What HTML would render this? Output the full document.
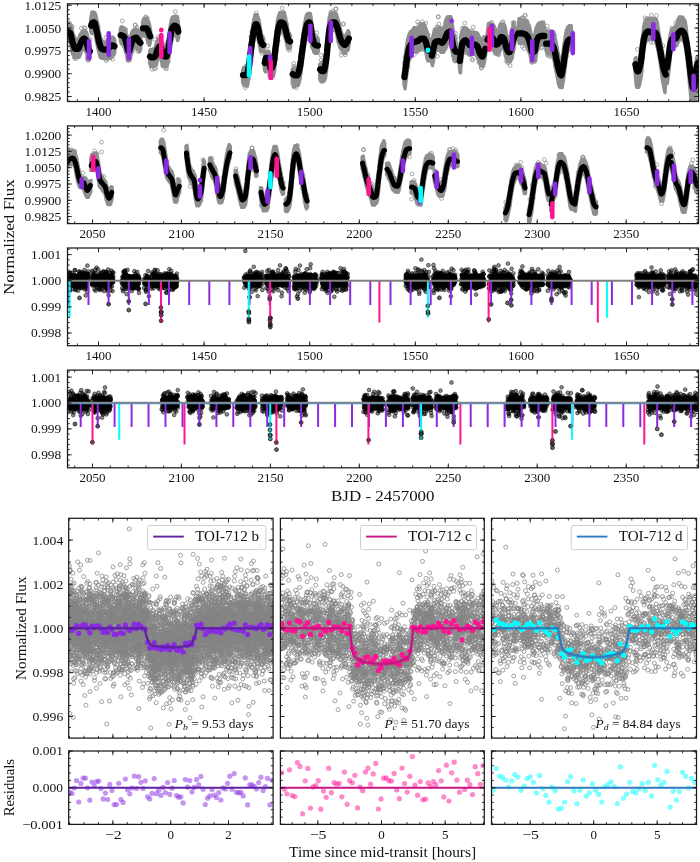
<!DOCTYPE html><html><head><meta charset="utf-8"><title>TOI-712 light curves</title><style>html,body{margin:0;padding:0;background:#fff}svg{display:block}</style></head><body><svg width="700" height="862" viewBox="0 0 700 862" font-family='"Liberation Serif","DejaVu Serif",serif' fill="#111"><defs><marker id="oc" markerWidth="6" markerHeight="6" refX="3" refY="3" markerUnits="userSpaceOnUse"><circle cx="3" cy="3" r="1.9" fill="none" stroke="#888" stroke-width="0.7"/></marker><marker id="og" markerWidth="6" markerHeight="6" refX="3" refY="3" markerUnits="userSpaceOnUse"><circle cx="3" cy="3" r="2" fill="none" stroke="#858585" stroke-opacity="0.8" stroke-width="0.95"/></marker><marker id="bk" markerWidth="6" markerHeight="6" refX="3" refY="3" markerUnits="userSpaceOnUse"><circle cx="3" cy="3" r="1.9" fill="#000" fill-opacity="0.45" stroke="#000" stroke-opacity="0.7" stroke-width="0.7"/></marker><clipPath id="c1"><rect x="67.5" y="3.8" width="631" height="97.7"/></clipPath><clipPath id="c2"><rect x="67.5" y="125.9" width="631" height="97.7"/></clipPath><clipPath id="c3"><rect x="67.5" y="248" width="631" height="97.7"/></clipPath><clipPath id="c4"><rect x="67.5" y="370.1" width="631" height="97.7"/></clipPath></defs>
<g clip-path="url(#c1)"><polyline fill="none" stroke="none" marker-start="url(#oc)" marker-mid="url(#oc)" marker-end="url(#oc)" points="85.3,28.3 88.1,60.6 86.7,51.6 76,58.7 72.3,26.5 71.8,29.8 90.2,39.4 74.7,58.2 87.4,58.7 87.4,57.9 69.2,22.9 92.5,12.3 111,57.3 97.9,27.5 98.2,26.8 106.7,59.3 107.6,58.2 92.8,13.2 106,37.5 112.6,59.3 106.2,60.7 112.9,55.6 132.1,51.7 123.6,45.9 131.8,51 136.9,27.4 125.7,29.4 136.9,48.7 135.2,25.2 135.3,25 139.6,30.8 148.4,43.4 145.7,17.8 145.5,16.9 171.7,39.6 157.5,41.5 166.5,68.8 165.4,68.2 166.4,43.4 168.2,61.7 154.5,68.9 160.8,36.2 156.2,63.6 155.7,68.1 166.8,44.4 158.4,37 162.9,65.6 155.9,64.5 251.7,31.8 245.8,66.2 260.7,50.7 245.1,87.8 260,46.2 250,72.1 261.8,53.4 252.1,47 251.2,60.8 250.9,36.5 267.8,45.8 267.1,50.5 281.5,31.7 276,59.1 286.9,24.6 279.5,33.5 277.2,45.3 289.7,50.4 283.4,30.9 265.6,52.6 278.1,40.9 288.1,49.2 302.7,55.8 295.4,85.2 317.2,38 294.3,68 309.9,32.7 306,39.3 293.7,66.2 312.4,47 294.9,67.7 310.8,37.6 316.2,36.7 292.7,83.3 332.5,11.1 344.9,35.6 340.8,47.4 338.7,41.6 331,12.3 345.4,54.9 340,47.1 321.9,62.6 327.9,54.6 338.8,24 323.5,61.4 341.5,51.8 320,78.8 321,60.1 408.2,66.8 428.2,35.1 421.6,49.6 404.9,57.3 416.8,51.4 404.1,63.1 410.2,57.5 422.2,21.7 417.6,21.8 409.3,57.7 427.8,34.7 414.4,54.5 437.5,56.3 449.6,43 447.5,18.8 448.9,17.8 444.1,50.5 450,43.4 456,37.2 438.1,27.1 455.5,33.3 448.3,44.4 447.7,17.5 445.9,48.1 462.5,28.1 483.8,37.4 479.2,62.4 471.8,59.4 459.7,45 481.3,68.2 461.3,35.7 465.9,52.9 480,38.2 471.8,30.8 472.9,60 466.7,52.4 510.1,65.5 511.8,32.4 503,21.9 491.3,47.6 497.9,54.2 511.9,57.4 497.5,54 514,22.4 510.3,37.3 493.5,26.3 511.6,58.1 506.5,61.3 502.3,22.3 524,48.5 523,43.3 541.3,22.7 522.6,17.6 527.4,46.2 535.1,36.1 528.2,49.6 532.1,62.5 528.6,48.5 531.6,61.7 521.5,18.2 542.1,47.2 522.3,46.4 548.9,56.1 553.6,32.6 554.6,35.4 547.3,25.9 566.4,56.3 552.2,57.1 553.9,34.9 548,53.5 555.2,65.9 549.8,55.1 570.9,50.2 567.9,27.4 656.3,24.3 642.3,41.7 641.1,65.2 659.8,42.8 643.2,38.3 664.7,83.2 651,42.3 653.3,42.3 638.3,82.9 643.1,52.5 654.2,21.8 636.2,76.9 647.4,39.6 662.7,75 641.6,49.6 675.3,29 689.1,67.6 689.6,73.9 691,68.3 690.3,57.8 675.7,27.3 681.1,19 694,98.3 697.3,73.6 690.7,84.1 682.8,40.6 676.7,25.9 695.2,67.5 671.9,27.8 680.5,21 122.4,20.9 175.2,11.7 152.1,69.4 81.3,28.3 83.9,27.4 147.3,18 155,39.4 137.9,51.4 256.4,12.9 282.1,8.2 336.1,8.9 296.1,87.8 321,55.2 343.3,24 293.6,63.4 316.7,32.6 335.6,8.9 343.5,24 341.3,55.2 418.9,24.5 425.8,23.1 438.1,16.8 439,24 436.8,26.9 426.1,31.7 438.4,16.8 450.4,18 445.6,22.3 464.8,23.1 473.3,27.1 460.1,71.7 512.8,22.8 508.1,63.1 525.3,15.4 523.6,18.5 481.6,67.7 498.7,54.9 491.9,22.3 525.1,15.4 548.3,30 547.4,54.9 541.4,48 645,17.9 651.4,15 656.4,15.7 637.4,49.3 675.7,22.9 681.4,19.3 662.9,45.7"/><path d="M65.8,25.4 67.1,22.1 67.5,22.1 68,22.1 68.4,22.1 68.9,22.1 69.3,22.1 69.8,22.9 70.2,23.3 70.7,23.4 71.2,23.7 71.6,24 72.1,25.5 72.5,27.3 73,29.9 73.4,32.2 73.9,33.8 74.4,35.1 74.8,36.2 75.3,37.1 75.7,37.3 76.2,38.6 76.6,38.6 77.1,39.5 77.5,38.2 78,37.9 78.5,36.5 78.9,35 79.4,34.2 79.8,33.5 80.3,32.8 80.7,32.4 81.2,31.5 81.6,30.7 82.1,30.4 82.6,30.3 83,29.8 83.5,29.8 83.9,29.8 84.4,29.8 84.8,29.8 85.3,29.8 85.8,29.8 86.2,30.4 86.7,31.2 87.1,31.5 87.6,32.6 88,33.5 88.5,36.1 88.9,38.5 89.4,39.7 89.9,41.6 91.2,45.7 91.2,57.7 89.9,60.6 89.4,60.6 88.9,60.6 88.5,60.6 88,60.6 87.6,60.2 87.1,59.1 86.7,57.5 86.2,55.5 85.8,52.9 85.3,52.2 84.8,51.1 84.4,50.6 83.9,49.6 83.5,49.9 83,50.7 82.6,51.3 82.1,51.8 81.6,53.1 81.2,54.9 80.7,55.9 80.3,57.1 79.8,57.6 79.4,58.2 78.9,58.2 78.5,58.2 78,58.2 77.5,58.3 77.1,58.3 76.6,58.3 76.2,58.3 75.7,58.3 75.3,58.3 74.8,58.3 74.4,58.3 73.9,58.3 73.4,57.9 73,56.8 72.5,55.6 72.1,54.9 71.6,53.9 71.2,51.8 70.7,49.1 70.2,46.7 69.8,44.3 69.3,42.5 68.9,41.9 68.4,41.9 68,41.4 67.5,41.2 67.1,40.8 65.8,37.4ZM89.8,19.2 91.1,12.4 91.5,11.9 92,11.9 92.4,11.9 92.9,11.9 93.3,11.9 93.8,11.9 94.3,11.9 94.7,11.9 95.2,11.9 95.6,11.9 96.1,13.3 96.5,14.4 97,16.4 97.5,18.8 97.9,21.1 98.4,22.3 98.8,24.4 99.3,27.6 99.7,30.2 100.2,32.5 100.7,34.8 101.1,36.2 101.6,37.6 102,38.4 102.5,39.3 102.9,40.3 103.4,40.6 103.9,41 104.3,41.5 104.8,41.4 105.2,41.1 105.7,40.6 106.1,40.5 106.6,40.5 107.1,40.5 107.5,40.1 108,39.8 108.4,39 108.9,37.7 109.3,37.3 109.8,36.9 110.3,36.8 110.7,36.3 111.2,36.3 111.6,36.3 112.1,36.3 112.5,36.3 113,36.3 113.5,36.3 113.9,37.1 114.4,37.2 115.7,40.4 115.7,52.4 114.4,55.6 113.9,55.6 113.5,55.6 113,55.7 112.5,56.3 112.1,57 111.6,58.9 111.2,59.2 110.7,59.2 110.3,59.2 109.8,59.2 109.3,59.2 108.9,59.2 108.4,59.2 108,58.8 107.5,59 107.1,59.2 106.6,59.2 106.1,59.5 105.7,59.5 105.2,59.5 104.8,59.5 104.3,59.5 103.9,59.5 103.4,59.5 102.9,59.3 102.5,59.3 102,59.3 101.6,58.9 101.1,58.9 100.7,58.4 100.2,58.4 99.7,58.1 99.3,57.1 98.8,55.7 98.4,53.9 97.9,51.8 97.5,50.4 97,48.2 96.5,46 96.1,44.1 95.6,42.4 95.2,39.8 94.7,37.4 94.3,35.3 93.8,32.7 93.3,32.1 92.9,33.7 92.4,34.4 92,34.4 91.5,34.4 91.1,34.4 89.8,31.2ZM119.4,28.9 120.7,26.1 121.2,26.1 121.6,26.1 122.1,26.1 122.5,26.4 123,26.5 123.5,26.7 123.9,26.9 124.4,27.1 124.8,27.6 125.3,28 125.8,28.6 126.2,29.5 126.7,31.1 127.1,33.2 127.6,35 128,35.7 128.5,37.6 129,39 129.4,36.9 129.9,35.8 130.3,34 130.8,32.9 131.3,31.3 131.7,30.5 132.2,30 132.6,29.7 133.1,29.6 133.6,28.7 134,28.2 134.5,28.2 134.9,28.2 135.4,28.2 135.8,28.2 136.3,28.2 136.8,28.2 137.2,28.8 137.7,28.8 138.1,29.5 138.6,29.8 139.1,30.1 139.5,30.9 140,30.9 140.4,31.9 141.7,36.8 141.7,48.8 140.4,52.5 140,52.5 139.5,52.5 139.1,52.5 138.6,52.5 138.1,51.2 137.7,50.4 137.2,49.8 136.8,49.6 136.3,49.3 135.8,47.9 135.4,47.9 134.9,47.9 134.5,48 134,49.2 133.6,50.6 133.1,51.2 132.6,53.4 132.2,54.8 131.7,56 131.3,58.4 130.8,60.2 130.3,61 129.9,61.8 129.4,61.8 129,61.8 128.5,61.8 128,61.8 127.6,61.8 127.1,61.8 126.7,60.9 126.2,58.1 125.8,55.4 125.3,53.6 124.8,52.6 124.4,50.9 123.9,49 123.5,46.7 123,45.6 122.5,45.2 122.1,44.7 121.6,44.5 121.2,44.5 120.7,44.5 119.4,40.9ZM141.7,21.8 143,18.2 143.5,17.7 144,17.7 144.4,17.7 144.9,17.7 145.4,17.7 145.9,17.7 146.4,17.7 146.8,17.9 147.3,18.1 147.8,18.1 148.3,18.7 148.8,19.8 149.2,20.6 149.7,22 150.2,23.7 151.5,30.1 151.5,42.1 150.2,46.1 149.7,46.1 149.2,46.1 148.8,46.1 148.3,44.8 147.8,42.8 147.3,42.8 146.8,41.5 146.4,39.8 145.9,37.9 145.4,37.3 144.9,36.9 144.4,36.9 144,36.8 143.5,36.8 143,36.8 141.7,33.8ZM148.7,51 150,48.7 150.5,48.7 150.9,48.7 151.4,48.7 151.9,48.7 152.3,48.1 152.8,48.1 153.2,48.1 153.7,48.1 154.1,48 154.6,46.9 155,43.9 155.5,42.9 156,41.7 156.4,41.3 156.9,39.5 157.3,39.5 157.8,38.2 158.2,37.7 158.7,37.6 159.2,37.6 159.6,37.6 160.1,37.6 160.5,37.6 161,37.6 161.4,37.6 161.9,38.7 162.3,39.7 162.8,41.5 163.3,42.9 163.7,44.1 164.2,45.3 164.6,46.6 165.1,47.4 165.5,46.8 166,45.1 166.5,43.9 166.9,40.9 167.4,38.2 167.8,35 168.3,32.2 168.7,29.6 169.2,27.1 169.6,24.1 170.1,21.6 170.6,19.1 171,18.1 171.5,17 171.9,16.6 172.4,16.4 172.8,15.9 173.3,15.9 173.8,15.6 174.2,15.4 174.7,15.4 175.1,15.4 175.6,15.4 176,15.4 176.5,15.4 176.9,15.4 177.4,15.6 177.9,15.7 178.3,16.2 179.6,25.4 179.6,37.4 178.3,41.2 177.9,41.2 177.4,41.2 176.9,41.2 176.5,39.3 176,38.1 175.6,36.4 175.1,35.6 174.7,35.1 174.2,36.2 173.8,37 173.3,38 172.8,39.3 172.4,41.8 171.9,44.4 171.5,47.1 171,50 170.6,53 170.1,56 169.6,59 169.2,61.4 168.7,62.9 168.3,65.2 167.8,67 167.4,67.2 166.9,67.7 166.5,67.7 166,67.7 165.5,67.7 165.1,67.7 164.6,67.7 164.2,67.7 163.7,66.9 163.3,66.9 162.8,66.9 162.3,66.9 161.9,66.9 161.4,65.5 161,63 160.5,61.1 160.1,59.3 159.6,57.5 159.2,58.5 158.7,59.4 158.2,60.8 157.8,62.4 157.3,63.9 156.9,65.5 156.4,66.1 156,66.3 155.5,66.8 155,67.1 154.6,67.4 154.1,67.4 153.7,67.4 153.2,67.4 152.8,67.4 152.3,67.4 151.9,67.4 151.4,67.4 150.9,67.4 150.5,67.4 150,67.4 148.7,63ZM241.7,70 243,66.9 243.5,66.8 243.9,66.8 244.4,66.8 244.8,66.8 245.3,66.8 245.7,66.8 246.2,65.5 246.6,63.2 247.1,61 247.5,58 248,55.5 248.4,52.7 248.9,49 249.3,44.9 249.8,40.7 250.3,37.5 250.7,33.9 251.2,29.8 251.6,27.1 252.1,23.9 252.5,21.4 253,19.2 253.4,17.5 253.9,15.5 254.3,13.9 254.8,13.8 255.2,13.8 255.7,13.8 256.1,13.8 256.6,13.8 257.1,13.8 257.5,13.8 258,14.4 258.4,16.2 258.9,17.2 259.3,18.2 259.8,19.9 260.2,21.6 260.7,25.1 261.1,28.1 261.6,30.1 262,32.5 262.5,34.8 262.9,35.6 263.4,35.6 264.7,39 264.7,51 263.4,52.7 262.9,52.7 262.5,52.7 262,52.7 261.6,52.7 261.1,52.7 260.7,52.1 260.2,51 259.8,50.1 259.3,48.7 258.9,46.3 258.4,44.3 258,42.7 257.5,41.2 257.1,39 256.6,37.1 256.1,34.7 255.7,36 255.2,37.8 254.8,40.8 254.3,43.5 253.9,46.8 253.4,49.8 253,53.6 252.5,57.2 252.1,61.5 251.6,65 251.2,68.6 250.7,72.8 250.3,77 249.8,78.7 249.3,80.4 248.9,83.3 248.4,85.3 248,87 247.5,87 247.1,87 246.6,87 246.2,87 245.7,87 245.3,87 244.8,86.5 244.4,86.5 243.9,86.4 243.5,86 243,85.8 241.7,82ZM263.5,57.7 264.8,50.9 265.2,50.9 265.7,50.9 266.1,50.9 266.6,50.9 267,50.9 267.5,50.9 267.9,50.9 268.4,50.9 268.8,50.9 269.3,50.9 269.8,51.2 270.2,52.6 270.7,55.2 271.1,58.5 271.6,59 272,57 272.5,55.2 272.9,51.2 273.4,46.9 273.8,43.4 274.3,40.1 274.7,36.7 275.2,32.2 275.6,28.3 276.1,24.7 276.6,20.4 277,18.8 277.5,16.7 277.9,15.3 278.4,13.9 278.8,12.2 279.3,11.9 279.7,11.9 280.2,11.9 280.6,11.6 281.1,11.6 281.5,11.6 282,11.4 282.4,11.4 282.9,11.4 283.3,11.4 283.8,11.4 284.3,11.4 284.7,11.4 285.2,12.4 285.6,14.2 286.1,16 286.5,18.1 287,20.4 287.4,22.7 287.9,25 288.3,27.3 288.8,29.9 289.2,31.3 289.7,32.7 290.1,32.7 291.4,35.4 291.4,47.4 290.1,49.5 289.7,49.5 289.2,49.5 288.8,49.5 288.3,49.5 287.9,48.9 287.4,48.8 287,48 286.5,47.4 286.1,45.2 285.6,43.3 285.2,41.1 284.7,39.6 284.3,38.1 283.8,37.3 283.3,35.9 282.9,33.6 282.4,32.5 282,30.6 281.5,30.1 281.1,30.6 280.6,32.4 280.2,33.9 279.7,35.4 279.3,37.4 278.8,40.3 278.4,43.9 277.9,47.4 277.5,52.1 277,55.8 276.6,59.6 276.1,64.2 275.6,69.7 275.2,72.8 274.7,74.6 274.3,76.2 273.8,77.2 273.4,77.8 272.9,78.3 272.5,79.2 272,79.2 271.6,79.2 271.1,79.2 270.7,79.2 270.2,79.2 269.8,79.2 269.3,78.8 268.8,77.1 268.4,75.4 267.9,72.1 267.5,69.3 267,68.9 266.6,70.5 266.1,72.6 265.7,72.6 265.2,72.6 264.8,72.6 263.5,69.7ZM291.4,69 292.7,68.1 293.2,68.1 293.6,68.1 294.1,68.1 294.5,68.1 295,68.4 295.5,68.4 295.9,68.4 296.4,68.1 296.8,67.3 297.3,65.2 297.8,64.1 298.2,62.1 298.7,59.9 299.1,56.2 299.6,52.3 300,49.1 300.5,45.6 301,43.1 301.4,40.1 301.9,35.8 302.3,32.2 302.8,29 303.3,26.3 303.7,23.2 304.2,21.1 304.6,18.8 305.1,16.7 305.5,15.3 306,13.9 306.5,13.8 306.9,13.2 307.4,12.8 307.8,12.5 308.3,12.5 308.8,12.5 309.2,12.5 309.7,12.5 310.1,12.5 310.6,12.5 311,12.9 311.5,15 312,17.8 312.4,20.5 312.9,23.5 313.3,26.1 313.8,28.3 314.2,30.2 314.7,32.9 315.2,34.5 315.6,36.5 316.1,36.8 316.5,36.8 317,36.8 317.5,36.8 317.9,36.8 319.2,39.7 319.2,51.7 317.9,54.1 317.5,54.1 317,54.1 316.5,54.1 316.1,54.1 315.6,54.1 315.2,54.1 314.7,54.1 314.2,54.1 313.8,53.5 313.3,52.5 312.9,52.3 312.4,49.7 312,49.1 311.5,48.3 311,46.8 310.6,45.1 310.1,41 309.7,37.2 309.2,33.8 308.8,31.2 308.3,32.2 307.8,33.5 307.4,35.7 306.9,37.2 306.5,40.6 306,42.6 305.5,44.9 305.1,48.7 304.6,51 304.2,54.7 303.7,58.2 303.3,61.7 302.8,66.4 302.3,69.1 301.9,72.8 301.4,75.9 301,78.9 300.5,80.8 300,83 299.6,84.4 299.1,85.7 298.7,85.9 298.2,86 297.8,86.4 297.3,86.4 296.8,86.4 296.4,86.4 295.9,86.9 295.5,86.9 295,87.9 294.5,87.9 294.1,87.9 293.6,87.9 293.2,87.9 292.7,87.9 291.4,81ZM318.8,64.2 320.1,63.1 320.6,63.1 321.1,63.1 321.5,63.1 322,63.9 322.4,64.1 322.9,62.8 323.3,60.5 323.8,57.6 324.2,55.6 324.7,53.9 325.1,50.1 325.6,45.8 326.1,40.1 326.5,35.6 327,31.1 327.4,25.5 327.9,20.3 328.3,17.9 328.8,15.9 329.2,13.9 329.7,12.6 330.1,12.6 330.6,12.6 331,12.5 331.5,12 332,11.7 332.4,11.7 332.9,11.7 333.3,11.7 333.8,11.7 334.2,11.7 334.7,11.7 335.1,12 335.6,12.2 336,12.4 336.5,12.4 337,13.2 337.4,14.2 337.9,16 338.3,17.3 338.8,18.9 339.2,20 339.7,21.5 340.1,23.4 340.6,25.7 341,27.4 341.5,29.4 342,31.3 342.4,32.6 342.9,33.6 343.3,34.9 343.8,35.1 344.2,35.3 344.7,36 345.1,35.8 345.6,34.7 346,33.2 346.5,32.5 347,31.1 347.4,29.8 347.9,29.8 348.3,29.8 348.8,29.8 350.1,32.4 350.1,44.4 348.8,50.5 348.3,51.2 347.9,51.3 347.4,51.6 347,52.1 346.5,53.7 346,54.1 345.6,54.1 345.1,54.1 344.7,54.1 344.2,54.1 343.8,54.1 343.3,54.1 342.9,53.1 342.4,52.2 342,52 341.5,51.1 341,50.4 340.6,49.7 340.1,48.9 339.7,47.9 339.2,46.5 338.8,45.5 338.3,44.7 337.9,44.1 337.4,42.2 337,39.9 336.5,37.4 336,35.1 335.6,33.6 335.1,32.2 334.7,31.2 334.2,30.5 333.8,31.1 333.3,31.1 332.9,31.1 332.4,31.1 332,33.1 331.5,34.4 331,35.7 330.6,38.4 330.1,41.7 329.7,46.1 329.2,50.8 328.8,55.5 328.3,61 327.9,66.7 327.4,71 327,73.9 326.5,77 326.1,78.5 325.6,80.3 325.1,81.2 324.7,81.3 324.2,82.2 323.8,82.3 323.3,82.6 322.9,82.6 322.4,82.6 322,82.6 321.5,82.6 321.1,82.6 320.6,82.6 320.1,82.3 318.8,76.2ZM403.1,72.2 404.4,55.3 404.8,52.1 405.3,48.6 405.7,45.6 406.2,42.7 406.7,39.6 407.1,37.7 407.6,36.2 408,34.7 408.5,33.5 408.9,33 409.4,31.8 409.8,31.1 410.3,30.7 410.8,30.4 411.2,30 411.7,29.8 412.1,29.1 412.6,28.6 413,27.8 413.5,26.8 413.9,26.8 414.4,26.8 414.9,26.8 415.3,26.8 415.8,26.8 416.2,26.8 416.7,27.4 417.1,27.1 417.6,26.8 418.1,26.5 418.5,25.7 419,24.9 419.4,24 419.9,23.8 420.3,23.8 420.8,23.3 421.2,23.1 421.7,22.9 422.2,22.9 422.6,22.9 423.1,22.9 423.5,22.9 424,22.9 424.4,22.9 424.9,23.5 425.4,24.1 425.8,26.2 426.3,27 426.7,28.2 427.2,29.1 427.6,30.7 428.1,32.2 428.5,34.7 429,36.5 429.5,37.6 429.9,37.6 431.2,45.1 431.2,57.1 429.9,61.6 429.5,61.6 429,61.6 428.5,61.6 428.1,61.6 427.6,61.6 427.2,61.6 426.7,60 426.3,59 425.8,56.9 425.4,54.6 424.9,52.6 424.4,51.7 424,50.8 423.5,49.6 423.1,49.1 422.6,49.1 422.2,49.1 421.7,49.6 421.2,50 420.8,50.5 420.3,51.1 419.9,51.1 419.4,51.1 419,51.4 418.5,51.7 418.1,52.6 417.6,52.6 417.1,52.9 416.7,52.9 416.2,52.9 415.8,52.9 415.3,52.9 414.9,52.9 414.4,52.9 413.9,52.7 413.5,53.2 413,53.7 412.6,55.3 412.1,55.3 411.7,55.5 411.2,56.3 410.8,57.8 410.3,59.3 409.8,60.7 409.4,63.5 408.9,66.5 408.5,69.8 408,72 407.6,75.2 407.1,79.4 406.7,82.7 406.2,86.7 405.7,89.6 405.3,89.6 404.8,89.6 404.4,89.6 403.1,84.2ZM430.6,50.1 431.9,36.5 432.3,35.3 432.8,33.3 433.2,30.7 433.7,29.3 434.1,28.4 434.6,28.4 435,28.4 435.5,28.4 435.9,28.4 436.4,28.4 436.8,28.3 437.3,28.3 437.7,27.4 438.2,26.9 438.6,26.9 439.1,26.9 439.5,26.9 440,26.9 440.4,26.9 440.9,26.9 441.3,27.4 441.8,27.8 442.2,28.3 442.7,27.7 443.1,26.4 443.6,25.8 444,24.7 444.5,22.4 444.9,20.6 445.4,18.2 445.8,18.1 446.3,17.4 446.7,16.6 447.2,16.6 447.6,16.6 448.1,15.7 448.5,15.7 449,15.7 449.4,15.7 449.9,15.7 450.3,15.7 450.8,15.7 451.2,15.8 451.7,17.2 452.1,17.9 452.6,20.7 453,23.3 453.5,26.7 453.9,30.3 454.4,32.1 454.8,33.9 455.3,35.1 455.7,36.9 456.2,37.6 457.5,46 457.5,58 456.2,62.4 455.7,62.4 455.3,62.4 454.8,62.4 454.4,62.4 453.9,62 453.5,61.2 453,60.5 452.6,58.4 452.1,56.5 451.7,54.6 451.2,52 450.8,48.9 450.3,46.6 449.9,44.4 449.4,42.5 449,42.4 448.5,43.1 448.1,43.5 447.6,45.2 447.2,46.5 446.7,47.2 446.3,48.3 445.8,48.9 445.4,50.5 444.9,50.8 444.5,52.1 444,53.3 443.6,53.3 443.1,53.3 442.7,53.3 442.2,53.3 441.8,53.3 441.3,53.3 440.9,53.1 440.4,53.1 440,52.6 439.5,51.6 439.1,51.3 438.6,50.8 438.2,51 437.7,51.2 437.3,51.2 436.8,51.5 436.4,51.7 435.9,53.7 435.5,56.2 435,57.5 434.6,59.3 434.1,62.5 433.7,63.6 433.2,66.5 432.8,66.5 432.3,66.5 431.9,66.5 430.6,62.1ZM458.5,55.4 459.8,38 460.3,35 460.7,32.3 461.2,30.8 461.6,29.9 462.1,29 462.5,28.1 463,26.9 463.4,26.9 463.9,26.9 464.4,26.9 464.8,26.9 465.3,26.9 465.7,26.9 466.2,27.3 466.6,27.3 467.1,27.6 467.6,28.1 468,28.5 468.5,29 468.9,29.8 469.4,29.8 469.8,30.1 470.3,30.1 470.7,30.8 471.2,31.1 471.7,31.3 472.1,31.3 472.6,31.3 473,31.3 473.5,31.3 473.9,31.4 474.4,31.4 474.9,31.4 475.3,31.4 475.8,31.7 476.2,31.7 476.7,31.7 477.1,31.8 477.6,32.3 478,32.9 478.5,33.1 479,34 479.4,35.1 479.9,36.5 480.3,38.4 480.8,39.6 481.2,40.9 481.7,41 482.2,39.5 482.6,38.2 483.1,37.7 483.5,36.3 484,35.8 484.4,35.8 484.9,35.8 485.3,35.8 486.6,43 486.6,55 485.3,62.1 484.9,64 484.4,66.2 484,67 483.5,67 483.1,67 482.6,67 482.2,67 481.7,67 481.2,67 480.8,66.9 480.3,66.8 479.9,66.1 479.4,65.5 479,64.2 478.5,63.8 478,62.1 477.6,61 477.1,59 476.7,58.6 476.2,56.7 475.8,56.6 475.3,55.6 474.9,55.5 474.4,55 473.9,54.7 473.5,55 473,55 472.6,55 472.1,55 471.7,55.8 471.2,56 470.7,56 470.3,56 469.8,56 469.4,56 468.9,56 468.5,56 468,55.5 467.6,54.7 467.1,54.2 466.6,53.5 466.2,52.7 465.7,51.7 465.3,51.8 464.8,51.8 464.4,52 463.9,52.5 463.4,54.5 463,57.5 462.5,61.3 462.1,65 461.6,69.1 461.2,73.7 460.7,73.7 460.3,73.7 459.8,73.7 458.5,67.4ZM486.3,33.7 487.6,23.3 488,23 488.5,23 488.9,22.4 489.4,22.4 489.9,22.4 490.3,22.4 490.8,22.4 491.2,22.4 491.7,22.4 492.1,23.5 492.6,23.6 493,23.7 493.5,23.9 494,23.9 494.4,25.5 494.9,25.5 495.3,26.8 495.8,27.7 496.2,29.7 496.7,29.7 497.2,29.7 497.6,29.5 498.1,28.6 498.5,26.6 499,24.9 499.4,24.1 499.9,23.1 500.3,23.1 500.8,23.1 501.3,23.1 501.7,23.1 502.2,23.1 502.6,23.1 503.1,23.1 503.5,23.1 504,23.7 504.4,23.7 504.9,24 505.4,24.5 505.8,26.2 506.3,28.2 506.7,30.8 507.2,33.3 507.6,35.1 508.1,36.1 508.6,36.5 509,37.3 509.5,35.9 509.9,34.7 510.4,32.6 510.8,30.8 511.3,29.2 511.7,27.4 512.2,24.9 512.7,23.5 513.1,22 513.6,22 514,22 514.5,22 515.8,30.7 515.8,42.7 514.5,51.2 514,53.4 513.6,54 513.1,56.2 512.7,58.1 512.2,59.3 511.7,60.9 511.3,62 510.8,62.6 510.4,62.8 509.9,62.8 509.5,62.8 509,62.8 508.6,62.8 508.1,62.8 507.6,62.8 507.2,62.6 506.7,61.7 506.3,61 505.8,59.7 505.4,58.7 504.9,57.5 504.4,55.5 504,53.2 503.5,50.8 503.1,49.5 502.6,48.6 502.2,48.3 501.7,48.1 501.3,49.4 500.8,51.5 500.3,52.8 499.9,52.8 499.4,52.9 499,53.4 498.5,54.4 498.1,54.7 497.6,54.7 497.2,54.7 496.7,54.7 496.2,54.7 495.8,54.7 495.3,54.7 494.9,54.6 494.4,54.6 494,53.1 493.5,52.5 493,51 492.6,49.9 492.1,48.2 491.7,47.8 491.2,47.2 490.8,47.5 490.3,47.6 489.9,48.2 489.4,48.4 488.9,49.6 488.5,49.6 488,49.6 487.6,49.6 486.3,45.7ZM517,27.1 518.3,17.8 518.7,17.8 519.2,17.8 519.7,17.8 520.1,17.8 520.6,18.4 521,18.7 521.5,18.7 521.9,19 522.4,19 522.9,19.2 523.3,19.2 523.8,19.2 524.2,19.2 524.7,19.4 525.1,19.5 525.6,19.5 526.1,19.5 526.5,19.5 527,19.5 527.4,19.5 527.9,20.3 528.3,21.2 528.8,22.6 529.3,23.8 529.7,24.5 530.2,25.9 530.6,27.6 531.1,29.7 531.5,31.8 532,33.7 532.5,34.5 532.9,36.3 533.4,38.5 533.8,36 534.3,33 534.7,30.2 535.2,28 535.7,26.5 536.1,25.9 536.6,24.8 537,23.7 537.5,23.3 537.9,23 538.4,22.6 538.9,22.1 539.3,22.1 539.8,22.1 540.2,22.1 540.7,22.1 541.1,22.1 541.6,21.3 542.1,21.2 542.5,21.2 543,21.2 543.4,21.2 543.9,21.2 544.3,21.2 545.6,29.8 545.6,41.8 544.3,46.1 543.9,46.1 543.4,46.1 543,46.1 542.5,45.8 542.1,45.8 541.6,45.8 541.1,46.1 540.7,46.1 540.2,46.1 539.8,47.2 539.3,47.4 538.9,49.3 538.4,50.7 537.9,51.8 537.5,53.7 537,56.9 536.6,60.3 536.1,61.8 535.7,62.7 535.2,62.7 534.7,62.7 534.3,62.7 533.8,62.7 533.4,62.7 532.9,62.7 532.5,62.5 532,62.5 531.5,62.5 531.1,62.4 530.6,61.8 530.2,61 529.7,58.1 529.3,55.5 528.8,54.1 528.3,52.7 527.9,51.6 527.4,49.7 527,48.7 526.5,47.7 526.1,46.6 525.6,45.5 525.1,44.8 524.7,44.2 524.2,44.2 523.8,43.8 523.3,43.7 522.9,43.6 522.4,43.3 521.9,43.4 521.5,44.2 521,44.2 520.6,44.2 520.1,44.2 519.7,44.2 519.2,44.2 518.7,44.2 518.3,42.8 517,39.1ZM544.9,37.7 546.2,30.6 546.7,30.3 547.1,30.3 547.6,30.3 548.1,30.3 548.5,30.3 549,30.3 549.4,30.3 549.9,30.4 550.3,30.4 550.8,30.4 551.2,30.4 551.7,31.5 552.2,31.6 552.6,31.7 553.1,31.7 553.5,32.2 554,32.6 554.4,34 554.9,34.9 555.4,36.1 555.8,37.8 556.3,38.5 556.7,40.8 557.2,43.1 557.6,45.5 558.1,47.3 558.5,50.7 559,52.5 559.5,55 559.9,57.3 560.4,58.4 560.8,59.8 561.3,57.9 561.7,55.4 562.2,52.6 562.6,48.2 563.1,44.5 563.6,41.5 564,38.8 564.5,35.5 564.9,33.1 565.4,30.7 565.8,29.3 566.3,29 566.8,27.7 567.2,26.9 567.7,26.6 568.1,26.2 568.6,24.8 569,24.8 569.5,24.7 569.9,24.7 570.4,24.7 570.9,24.7 571.3,24.7 571.8,24.7 573.1,33.7 573.1,45.7 571.8,49.7 571.3,49.7 570.9,49.7 570.4,49.7 569.9,50 569.5,50.6 569,50.8 568.6,51.7 568.1,53.9 567.7,56.3 567.2,58.8 566.8,61.9 566.3,66.3 565.8,69.3 565.4,73 564.9,76.2 564.5,79.7 564,81.9 563.6,84.6 563.1,87.1 562.6,88.4 562.2,88.4 561.7,88.4 561.3,88.4 560.8,88.4 560.4,88.4 559.9,88.4 559.5,87.7 559,87.7 558.5,87.1 558.1,85.5 557.6,83.9 557.2,81.8 556.7,78.9 556.3,76.4 555.8,75 555.4,72.3 554.9,69.9 554.4,67.4 554,65 553.5,62 553.1,59.9 552.6,58.5 552.2,57.3 551.7,55.7 551.2,55.4 550.8,54.5 550.3,54.6 549.9,54.6 549.4,54.6 549,54.6 548.5,54.6 548.1,54.6 547.6,54.6 547.1,54.4 546.7,54.1 546.2,53.7 544.9,49.7ZM634.1,58.9 635.4,56.8 635.9,56.8 636.3,56.8 636.8,56.8 637.2,59 637.7,60.8 638.1,60.3 638.6,58.8 639,56.7 639.5,53.4 639.9,50.1 640.4,45.2 640.9,40.9 641.3,37.7 641.8,36.3 642.2,32.4 642.7,28.4 643.1,25.4 643.6,23.1 644,21.4 644.5,19.9 644.9,19.4 645.4,18.6 645.8,18.1 646.3,17.6 646.7,17.2 647.2,17.2 647.6,17.2 648.1,17.2 648.5,17.2 649,17.2 649.4,17.2 649.9,17.8 650.3,17.8 650.8,18.1 651.2,18.1 651.7,17.9 652.2,17.9 652.6,17.9 653.1,17.6 653.5,17.6 654,17.6 654.4,17.6 654.9,17.6 655.3,17.6 655.8,17.6 656.2,18.1 656.7,18.5 657.1,19 657.6,20.3 658,22 658.5,24.5 658.9,27.4 659.4,30.4 659.8,33.5 660.3,35.8 660.7,37.7 661.2,39.3 661.6,42.2 662.1,45.6 662.6,47.3 663,49.2 663.5,51.6 663.9,55 664.4,58.4 664.8,59.2 665.3,60.5 665.7,62.7 667,69.5 667,81.5 665.7,93.4 665.3,93.4 664.8,93.4 664.4,93.4 663.9,92.2 663.5,90.2 663,87.8 662.6,85.6 662.1,83.5 661.6,81.1 661.2,77.8 660.7,74.2 660.3,70.9 659.8,67.2 659.4,64.2 658.9,61 658.5,58.6 658,55.5 657.6,53.1 657.1,50.7 656.7,47.9 656.2,47 655.8,44.5 655.3,42.5 654.9,41.5 654.4,40.5 654,40.5 653.5,40.2 653.1,40 652.6,39.9 652.2,39.9 651.7,39.7 651.2,39.6 650.8,39.6 650.3,39.8 649.9,40.6 649.4,40.6 649,40.6 648.5,40.6 648.1,40.6 647.6,40.6 647.2,41.1 646.7,42.1 646.3,42.7 645.8,44.3 645.4,46.1 644.9,48.8 644.5,51.9 644,55.6 643.6,60.6 643.1,66 642.7,71.5 642.2,75.6 641.8,78.3 641.3,80.6 640.9,82.9 640.4,85.3 639.9,86.4 639.5,87.4 639,88.3 638.6,88.3 638.1,88.3 637.7,88.3 637.2,88.3 636.8,88.3 636.3,88.3 635.9,87.1 635.4,86.1 634.1,70.9ZM665.6,62.6 666.9,51.8 667.3,48.8 667.8,44.8 668.2,41.1 668.7,38.2 669.1,35.9 669.6,33.6 670,31.8 670.5,29.9 671,28.6 671.4,28.1 671.9,28.1 672.3,28 672.8,27.8 673.2,27.8 673.7,26.9 674.1,26.5 674.6,26.5 675.1,26.5 675.5,24.9 676,23.8 676.4,21.9 676.9,19.7 677.3,19.2 677.8,17.8 678.2,17.2 678.7,16.1 679.2,16.1 679.6,16.1 680.1,16.1 680.5,16.1 681,16.1 681.4,16.1 681.9,16.4 682.3,16.4 682.8,16.4 683.3,16.4 683.7,17.3 684.2,18 684.6,18.3 685.1,19.6 685.5,20.7 686,20.8 686.4,23.2 686.9,26.4 687.4,29.8 687.8,34.5 688.3,37.7 688.7,40.5 689.2,43.3 689.6,47.2 690.1,50.8 690.5,54.3 691,58.4 691.5,62.2 691.9,65.7 692.4,69.4 692.8,73.2 693.3,75.9 693.7,73.5 694.2,68.8 694.6,64.5 695.1,61.3 695.6,59.2 696,56.7 696.5,55.5 696.9,55.5 697.4,55.5 697.8,55.5 698.3,55.5 699.6,57.4 699.6,69.4 698.3,81.7 697.8,84.1 697.4,87.6 696.9,94.1 696.5,99.8 696,103.8 695.6,107.3 695.1,109.5 694.6,109.5 694.2,109.5 693.7,109.5 693.3,109.5 692.8,109.5 692.4,109.5 691.9,109.3 691.5,108 691,105.8 690.5,102.9 690.1,98.8 689.6,94.4 689.2,89.7 688.7,85.4 688.3,80.3 687.8,74.9 687.4,70.2 686.9,66 686.4,62 686,58 685.5,54.5 685.1,50.6 684.6,48.1 684.2,45.8 683.7,43.2 683.3,42 682.8,41 682.3,39.7 681.9,39.2 681.4,39.2 681,40.2 680.5,40.3 680.1,40.3 679.6,41.1 679.2,42.1 678.7,42.9 678.2,44.1 677.8,45.5 677.3,46.2 676.9,46.2 676.4,46.4 676,47 675.5,47.6 675.1,47.6 674.6,47.9 674.1,47.9 673.7,47.9 673.2,47.9 672.8,48.7 672.3,50.9 671.9,51.3 671.4,55.4 671,60 670.5,64.4 670,69.5 669.6,73.2 669.1,76.6 668.7,80 668.2,83.9 667.8,83.9 667.3,83.9 666.9,83.9 665.6,74.6Z" fill="#8e8e8e" stroke="#8e8e8e" stroke-width="1.6" stroke-linejoin="round"/><path d="M67.1,31.7 67.5,31.7 68,31.8 68.4,32 68.9,32.2 69.3,32.4 69.8,32.7 70.2,33 70.7,34.1 71.2,35.9 71.6,38.1 72.1,40.3 72.5,42.3 73,43.7 73.4,45.1 73.9,46.5 74.4,47.7 74.8,48.5 75.3,48.9 75.7,48.9 76.2,48.9 76.6,48.9 77.1,48.9 77.5,48.9 78,48.8 78.5,48.4 78.9,47.7 79.4,46.6 79.8,45.4 80.3,44.2 80.7,43.1 81.2,42.2 81.6,41.4 82.1,40.6 82.6,39.8 83,39.1 83.5,38.7 83.9,38.6 84.4,38.7 84.8,39 85.3,39.5 85.8,40.1 86.2,40.8 86.7,41.8 87.1,43.9 87.6,46.5 88,48.6 88.5,49.6 88.9,50.5 89.4,51.2 89.9,51.4M91.1,25.7 91.5,24.4 92,23.5 92.4,22.9 92.9,22.5 93.3,22.3 93.8,22.3 94.3,22.3 94.7,23 95.2,24.3 95.6,26.2 96.1,28.2 96.5,30.2 97,32.1 97.5,34.3 97.9,36.7 98.4,39 98.8,41.2 99.3,42.9 99.7,44.3 100.2,45.7 100.7,46.9 101.1,47.9 101.6,48.6 102,48.9 102.5,49.1 102.9,49.3 103.4,49.4 103.9,49.6 104.3,49.6 104.8,49.7 105.2,49.7 105.7,49.7 106.1,49.5 106.6,49.3 107.1,49.1 107.5,48.8 108,48.5 108.4,48.2 108.9,47.9 109.3,47.5 109.8,47.1 110.3,46.6 110.7,46.2 111.2,45.8 111.6,45.5 112.1,45.4 112.5,45.5 113,45.5 113.5,45.7 113.9,46 114.4,46.3M120.7,35.1 121.2,35.2 121.6,35.3 122.1,35.5 122.5,35.7 123,36 123.5,36.3 123.9,36.7 124.4,37.2 124.8,38.1 125.3,39.5 125.8,41.2 126.2,42.9 126.7,44.4 127.1,46.1 127.6,48.2 128,50 128.5,51.2 129,51.3 129.4,50.4 129.9,48.7 130.3,46.9 130.8,45.2 131.3,43.9 131.7,42.5 132.2,41.2 132.6,40 133.1,39.1 133.6,38.6 134,38.3 134.5,38.1 134.9,37.9 135.4,37.8 135.8,37.7 136.3,37.7 136.8,38.1 137.2,38.7 137.7,39.5 138.1,40.3 138.6,41 139.1,41.5 139.5,42 140,42.4 140.4,42.9M143,28.3 143.5,28.3 144,28.3 144.4,28.3 144.9,28.3 145.4,28.3 145.9,28.3 146.4,28.3 146.8,28.5 147.3,29.3 147.8,30.4 148.3,31.6 148.8,32.9 149.2,34 149.7,35.1 150.2,36.3M150,56.6 150.5,56.9 150.9,57.1 151.4,57.3 151.9,57.4 152.3,57.4 152.8,57.4 153.2,57.3 153.7,57.2 154.1,57 154.6,56.8 155,56.5 155.5,55.8 156,54.6 156.4,53.1 156.9,51.5 157.3,50.2 157.8,49.3 158.2,48.5 158.7,47.7 159.2,47 159.6,46.5 160.1,46.3 160.5,46.6 161,47.6 161.4,49.1 161.9,50.9 162.3,52.7 162.8,54.2 163.3,55.3 163.7,55.8 164.2,56 164.6,56.2 165.1,56.4 165.5,56.5 166,56.6 166.5,56.3 166.9,55.2 167.4,53.4 167.8,51.6 168.3,49.5 168.7,46.8 169.2,43.8 169.6,41 170.1,38.4 170.6,35.6 171,32.9 171.5,30.5 171.9,28.8 172.4,27.9 172.8,27.2 173.3,26.6 173.8,26.1 174.2,25.8 174.7,25.7 175.1,25.8 175.6,25.9 176,26.2 176.5,26.6 176.9,27 177.4,27.6 177.9,29.3 178.3,31.7M243,75.1 243.5,75.1 243.9,75.1 244.4,75.1 244.8,75.1 245.3,75.1 245.7,75.1 246.2,75.1 246.6,75 247.1,74.1 247.5,72.6 248,70.5 248.4,68.1 248.9,65.7 249.3,63 249.8,59.6 250.3,55.7 250.7,51.6 251.2,47.7 251.6,44.3 252.1,41.2 252.5,38.1 253,35.2 253.4,32.5 253.9,30.3 254.3,28.4 254.8,26.5 255.2,25 255.7,24.1 256.1,24.1 256.6,24.6 257.1,25.4 257.5,26.4 258,27.8 258.4,29.9 258.9,32.3 259.3,34.4 259.8,36.6 260.2,38.8 260.7,40.9 261.1,42.4 261.6,43.2 262,43.9 262.5,44.4 262.9,44.8 263.4,44.9M264.8,63.1 265.2,60.7 265.7,58.8 266.1,57.9 266.6,58 267,58 267.5,58.1 267.9,58.2 268.4,58.5 268.8,60 269.3,62.4 269.8,65.1 270.2,67.3 270.7,68.5 271.1,68.5 271.6,68.1 272,67.4 272.5,66.5 272.9,65.4 273.4,64.2 273.8,62.1 274.3,58.8 274.7,55 275.2,51 275.6,47.5 276.1,43.8 276.6,40 277,36.3 277.5,32.9 277.9,30.2 278.4,28.3 278.8,26.5 279.3,25 279.7,23.6 280.2,22.7 280.6,22.3 281.1,22.3 281.5,22.4 282,22.5 282.4,22.7 282.9,22.9 283.3,23.2 283.8,23.9 284.3,25.1 284.7,26.6 285.2,28.3 285.6,30 286.1,31.6 286.5,33.5 287,35.5 287.4,37.5 287.9,39.1 288.3,40.2 288.8,40.7 289.2,41.1 289.7,41.4 290.1,41.5M292.7,74.1 293.2,74.5 293.6,74.8 294.1,75 294.5,75.2 295,75.3 295.5,75.4 295.9,75.4 296.4,75.4 296.8,75.4 297.3,75.3 297.8,74.6 298.2,73.4 298.7,72 299.1,70.3 299.6,68.5 300,66.3 300.5,63.4 301,60.1 301.4,56.7 301.9,53.3 302.3,50.1 302.8,46.9 303.3,43.6 303.7,40.4 304.2,37.4 304.6,34.7 305.1,32.4 305.5,30.1 306,28 306.5,26.1 306.9,24.7 307.4,23.9 307.8,23.3 308.3,22.8 308.8,22.5 309.2,22.3 309.7,22.7 310.1,24.2 310.6,26.7 311,29.7 311.5,32.8 312,35.6 312.4,37.7 312.9,39.3 313.3,40.8 313.8,42.3 314.2,43.5 314.7,44.3 315.2,44.7 315.6,44.9 316.1,45.2 316.5,45.3 317,45.5 317.5,45.6 317.9,45.6M320.1,69.4 320.6,70 321.1,70.5 321.5,70.8 322,71 322.4,71.1 322.9,71.1 323.3,71.1 323.8,71 324.2,70.1 324.7,68.4 325.1,66.1 325.6,63.4 326.1,60.6 326.5,57.2 327,52.5 327.4,47.3 327.9,42.8 328.3,38.6 328.8,34.4 329.2,31 329.7,28.7 330.1,26.9 330.6,25.2 331,23.8 331.5,22.9 332,22.3 332.4,22.3 332.9,22.3 333.3,22.3 333.8,22.3 334.2,22.3 334.7,22.3 335.1,22.5 335.6,23.2 336,24.1 336.5,25.3 337,26.5 337.4,27.8 337.9,29.3 338.3,31 338.8,32.9 339.2,34.7 339.7,36.3 340.1,37.7 340.6,38.9 341,40.1 341.5,41.2 342,42.1 342.4,42.8 342.9,43.4 343.3,43.9 343.8,44.3 344.2,44.7 344.7,44.9 345.1,44.9 345.6,44.5 346,43.9 346.5,43 347,42.2 347.4,41.4 347.9,40.5 348.3,39.6 348.8,38.6M404.4,77.1 404.8,73.9 405.3,70.6 405.7,67.4 406.2,63.9 406.7,60.5 407.1,57.6 407.6,55.1 408,52.8 408.5,50.7 408.9,48.9 409.4,47.4 409.8,46.3 410.3,45.6 410.8,44.9 411.2,44.3 411.7,43.8 412.1,43.3 412.6,42.9 413,42.6 413.5,42.3 413.9,42.1 414.4,41.9 414.9,41.8 415.3,41.7 415.8,41.6 416.2,41.5 416.7,41.4 417.1,41.3 417.6,41.1 418.1,40.9 418.5,40.5 419,40 419.4,39.6 419.9,39.1 420.3,38.8 420.8,38.6 421.2,38.6 421.7,38.6 422.2,38.6 422.6,38.6 423.1,38.6 423.5,38.6 424,38.7 424.4,39.2 424.9,40 425.4,41 425.8,42 426.3,43.2 426.7,45.2 427.2,47.5 427.6,49.3 428.1,49.9 428.5,50.3 429,50.7 429.5,50.8 429.9,50.9M431.9,55.7 432.3,53.5 432.8,51.4 433.2,49.5 433.7,47.6 434.1,45.7 434.6,43.7 435,42.4 435.5,41.9 435.9,41.7 436.4,41.5 436.8,41.4 437.3,41.3 437.7,41.2 438.2,41.2 438.6,41.1 439.1,41.2 439.5,41.4 440,41.7 440.4,42 440.9,42.3 441.3,42.6 441.8,42.8 442.2,42.9 442.7,42.6 443.1,42.1 443.6,41.4 444,40.7 444.5,39.8 444.9,39 445.4,37.9 445.8,36.7 446.3,35.4 446.7,34.3 447.2,33.5 447.6,33.1 448.1,32.6 448.5,32.3 449,32 449.4,31.8 449.9,31.7 450.3,32.3 450.8,33.7 451.2,35.5 451.7,37.4 452.1,39.9 452.6,42.8 453,45.4 453.5,46.9 453.9,48.2 454.4,49.3 454.8,50.3 455.3,51.1 455.7,51.6 456.2,51.8M459.8,60.9 460.3,56.9 460.7,53.4 461.2,50.4 461.6,47.5 462.1,45 462.5,43.3 463,42.4 463.4,41.7 463.9,41.1 464.4,40.7 464.8,40.4 465.3,40.3 465.7,40.4 466.2,40.8 466.6,41.3 467.1,41.9 467.6,42.5 468,43 468.5,43.6 468.9,44.2 469.4,44.7 469.8,45.2 470.3,45.4 470.7,45.4 471.2,45.4 471.7,45.3 472.1,45.1 472.6,45 473,44.9 473.5,44.7 473.9,44.6 474.4,44.6 474.9,44.6 475.3,44.7 475.8,44.9 476.2,45.3 476.7,45.7 477.1,46.1 477.6,46.7 478,47.8 478.5,49.3 479,50.8 479.4,52.1 479.9,53.2 480.3,54 480.8,54.8 481.2,55.6 481.7,56.2 482.2,56.5 482.6,56.5 483.1,55.3 483.5,53.6 484,51.9 484.4,50.7 484.9,49.7 485.3,48.9M487.6,39.8 488,39 488.5,38.3 488.9,37.8 489.4,37.4 489.9,37.1 490.3,37 490.8,36.9 491.2,36.9 491.7,37.1 492.1,37.5 492.6,38.1 493,38.7 493.5,39.3 494,40.1 494.4,41.2 494.9,42.5 495.3,43.6 495.8,44.4 496.2,44.6 496.7,44.5 497.2,44.2 497.6,43.9 498.1,43.5 498.5,43.1 499,42.5 499.4,41.3 499.9,39.9 500.3,38.5 500.8,37.3 501.3,36.9 501.7,36.9 502.2,37.1 502.6,37.4 503.1,37.8 503.5,38.2 504,38.8 504.4,40 504.9,41.8 505.4,43.9 505.8,46 506.3,47.6 506.7,48.7 507.2,49.8 507.6,50.7 508.1,51.5 508.6,52.1 509,52.3 509.5,52 509.9,51.4 510.4,50.4 510.8,49.4 511.3,47.8 511.7,45.7 512.2,43.7 512.7,42.1 513.1,40.6 513.6,39.2 514,38 514.5,36.9M518.3,33.4 518.7,33.4 519.2,33.4 519.7,33.4 520.1,33.4 520.6,33.4 521,33.4 521.5,33.4 521.9,33.4 522.4,33.5 522.9,33.5 523.3,33.7 523.8,33.8 524.2,33.9 524.7,34.1 525.1,34.3 525.6,34.5 526.1,34.9 526.5,35.3 527,35.8 527.4,36.4 527.9,37.1 528.3,38.2 528.8,39.5 529.3,41 529.7,42.6 530.2,44.2 530.6,45.9 531.1,48.2 531.5,50.3 532,51.9 532.5,52.3 532.9,52.2 533.4,52.1 533.8,51.9 534.3,51.6 534.7,51.1 535.2,49.1 535.7,46.2 536.1,43.5 536.6,41.9 537,40.5 537.5,39.2 537.9,38.1 538.4,37.3 538.9,36.9 539.3,36.6 539.8,36.4 540.2,36.2 540.7,36.1 541.1,36 541.6,36 542.1,36 542.5,36 543,36 543.4,36 543.9,36 544.3,36M546.2,43.7 546.7,43.7 547.1,43.7 547.6,43.7 548.1,43.7 548.5,43.7 549,43.7 549.4,43.7 549.9,43.8 550.3,43.9 550.8,44.1 551.2,44.3 551.7,44.6 552.2,44.9 552.6,45.4 553.1,46.2 553.5,47.4 554,48.8 554.4,50.2 554.9,52 555.4,54.2 555.8,56.5 556.3,58.9 556.7,61.1 557.2,63.1 557.6,65.2 558.1,67.2 558.5,69.1 559,70.7 559.5,72.1 559.9,73.3 560.4,74.5 560.8,75.2 561.3,75.4 561.7,74.2 562.2,72.1 562.6,69.6 563.1,67.2 563.6,64.3 564,61 564.5,57.7 564.9,54.8 565.4,51.9 565.8,49 566.3,46.2 566.8,44.1 567.2,42.7 567.7,41.8 568.1,40.9 568.6,40.2 569,39.7 569.5,39.5 569.9,39.4 570.4,39.4 570.9,39.5 571.3,39.6 571.8,39.8M635.4,64.3 635.9,66.6 636.3,68.5 636.8,70 637.2,70.9 637.7,71.4 638.1,71.3 638.6,70.6 639,69.5 639.5,68 639.9,66.2 640.4,64.3 640.9,62.2 641.3,59 641.8,55 642.2,50.8 642.7,47 643.1,44.1 643.6,41.3 644,38.8 644.5,36.7 644.9,35.2 645.4,34.3 645.8,33.4 646.3,32.7 646.7,32.1 647.2,31.7 647.6,31.5 648.1,31.4 648.5,31.5 649,31.6 649.4,31.8 649.9,31.9 650.3,32.1 650.8,32.2 651.2,32.2 651.7,32.3 652.2,32.3 652.6,32.4 653.1,32.4 653.5,32.5 654,32.5 654.4,32.6 654.9,32.6 655.3,32.7 655.8,32.9 656.2,33.5 656.7,34.7 657.1,36.4 657.6,38.4 658,40.5 658.5,42.5 658.9,44.4 659.4,46.5 659.8,48.8 660.3,51.1 660.7,53.5 661.2,55.9 661.6,58.3 662.1,60.9 662.6,63.5 663,66 663.5,68.1 663.9,69.8 664.4,71.3 664.8,72.6 665.3,73.7 665.7,74.6M666.9,67.9 667.3,65.1 667.8,62.2 668.2,59.4 668.7,56.4 669.1,53.1 669.6,49.5 670,46.2 670.5,43.7 671,42.1 671.4,40.8 671.9,39.7 672.3,38.9 672.8,38.6 673.2,38.6 673.7,38.6 674.1,38.6 674.6,38.6 675.1,38.6 675.5,38.6 676,38.5 676.4,37.8 676.9,36.8 677.3,35.6 677.8,34.4 678.2,33.3 678.7,32.7 679.2,32.2 679.6,31.8 680.1,31.3 680.5,31 681,30.8 681.4,30.7 681.9,30.8 682.3,31.1 682.8,31.5 683.3,32 683.7,32.7 684.2,33.4 684.6,34.3 685.1,36 685.5,38.1 686,40.5 686.4,42.9 686.9,45.5 687.4,48.5 687.8,51.6 688.3,54.9 688.7,58.2 689.2,61.8 689.6,65.6 690.1,69.4 690.5,73 691,76.5 691.5,80.1 691.9,83.1 692.4,85.2 692.8,87 693.3,88.3 693.7,88.4 694.2,86.7 694.6,83.8 695.1,80.7 695.6,76.4 696,71.7 696.5,68.4 696.9,66.3 697.4,64.6 697.8,63.3 698.3,62.9" fill="none" stroke="#000" stroke-width="6.3" stroke-linecap="round" stroke-linejoin="round"/><path d="M89 41.1V58.3" stroke="#8a2be2" stroke-width="4.6" stroke-linecap="round"/><path d="M108.7 33.4V54.9" stroke="#8a2be2" stroke-width="4.6" stroke-linecap="round"/><path d="M128.9 39.4V58.3" stroke="#8a2be2" stroke-width="4.6" stroke-linecap="round"/><path d="M161.3 35.1V56.6" stroke="#ff1493" stroke-width="4.6" stroke-linecap="round"/><path d="M169.6 33.4V52.3" stroke="#8a2be2" stroke-width="4.6" stroke-linecap="round"/><path d="M250.2 48V65.1" stroke="#8a2be2" stroke-width="4.6" stroke-linecap="round"/><path d="M249 56.6V75.4" stroke="#00ffff" stroke-width="4.6" stroke-linecap="round"/><path d="M270.1 56.6V60" stroke="#8a2be2" stroke-width="4.6" stroke-linecap="round"/><path d="M270.8 61.7V78" stroke="#ff1493" stroke-width="4.6" stroke-linecap="round"/><path d="M310.4 25.7V41.1" stroke="#8a2be2" stroke-width="4.6" stroke-linecap="round"/><path d="M330.8 22.3V41.1" stroke="#8a2be2" stroke-width="4.6" stroke-linecap="round"/><path d="M411.6 37.7V55.7" stroke="#8a2be2" stroke-width="4.6" stroke-linecap="round"/><path d="M427.9 49.9V50.6" stroke="#00ffff" stroke-width="4.6" stroke-linecap="round"/><path d="M451.6 30.9V47.1" stroke="#8a2be2" stroke-width="4.6" stroke-linecap="round"/><path d="M451.6 20.7V21.1" stroke="#8a2be2" stroke-width="4.6" stroke-linecap="round"/><path d="M471.8 37.7V54" stroke="#8a2be2" stroke-width="4.6" stroke-linecap="round"/><path d="M491.9 25.7V45.4" stroke="#8a2be2" stroke-width="4.6" stroke-linecap="round"/><path d="M489.6 29.1V49.7" stroke="#ff1493" stroke-width="4.6" stroke-linecap="round"/><path d="M512.1 30.9V48.9" stroke="#8a2be2" stroke-width="4.6" stroke-linecap="round"/><path d="M532.3 41.1V60" stroke="#8a2be2" stroke-width="4.6" stroke-linecap="round"/><path d="M552.2 31.7V49.7" stroke="#8a2be2" stroke-width="4.6" stroke-linecap="round"/><path d="M572.8 33.4V53.1" stroke="#8a2be2" stroke-width="4.6" stroke-linecap="round"/><path d="M653.3 24.3V38.6" stroke="#8a2be2" stroke-width="4.6" stroke-linecap="round"/><path d="M673.3 34.3V49.3" stroke="#8a2be2" stroke-width="4.6" stroke-linecap="round"/><path d="M693.6 75.7V90" stroke="#8a2be2" stroke-width="4.6" stroke-linecap="round"/><path d="M161.3 29.8V30.2" stroke="#ff1493" stroke-width="4.6" stroke-linecap="round"/></g>
<g clip-path="url(#c2)"><polyline fill="none" stroke="none" marker-start="url(#oc)" marker-mid="url(#oc)" marker-end="url(#oc)" points="85.1,178 74.8,151.3 82.8,172.9 71.6,149.8 85.8,179.4 92,156.3 94.7,153.5 96.5,153.8 96.2,154.6 106.3,195.6 167.1,161.7 176.2,201.9 166.8,177 163.8,147.2 190.3,186.5 200.9,200.6 192.9,171.6 190.8,183 217.7,180.1 217.4,176.9 221.6,188.3 211.8,158.3 223.3,177.5 253.3,167.8 246.7,179.1 251.8,169.7 253.9,169.5 236.5,185.7 267.3,207.7 262.1,206.2 267.4,208.1 276,161.7 261.3,205.3 286.8,210.6 293.2,167.1 297.4,145.3 302.7,188.9 295.2,146.8 372.2,183.8 368.1,175.2 365.9,171.4 377.3,180.7 375.5,187 392.6,187.1 388.1,163.6 394.5,178.5 409.5,156.8 388.7,178.6 411.6,199.1 431.4,153.2 414.1,180.4 429.5,155.4 429.7,153.9 441.6,198.5 456.1,152.1 442.6,195.3 449.7,150.1 439.6,179.2 509.4,204.9 505.8,202.1 521.8,167.5 533.3,198.2 531.1,197 529.9,199.8 532.2,184.8 570.4,205.3 558.8,154.8 559.5,155.1 559.2,172.6 555.2,196.3 593,194.8 578.3,189.2 582.6,157.3 578,172.6 583.3,157.5 669.9,163.8 655.3,186.3 653.9,176.8 661.6,203.6 660,184.3 662.8,200.5 694.6,187.6 673.4,179.4 688.2,187 692.3,179.5 696.3,191.8 691.4,163.4 685,197.3 94.5,150.8 101.5,142.1 101.5,152 163.6,130.2 103.6,176.5 178.1,179.4 203,159.7 252.2,148.1 210.2,158.3 235.9,168.6 178.1,179.4 251.9,147.7 363.3,149.4 363.9,149.8 411.9,173.9 449.6,149.4 453,148.6 455.6,149.9 516,164.9 520.6,162.3 538.3,162.3 544.3,159.7 546,163.1 582.9,157.1 670,147.7 672.9,153.4 692.9,159.9 656.9,164.6"/><path d="M65.8,155.8 67.1,151.9 67.5,151.9 68,150.8 68.4,150.7 68.9,149.7 69.3,149.7 69.8,149.7 70.3,149.5 70.7,149.5 71.2,149.5 71.6,149.5 72.1,149.5 72.5,149.5 73,149.5 73.5,150.1 73.9,150.1 74.4,150.2 74.8,150.5 75.3,151.1 75.7,152 76.2,153.1 76.7,155 77.1,156.6 77.6,157.6 78,160.7 78.5,162.6 78.9,166 79.4,167.7 79.9,169.1 80.3,172 80.8,173.1 81.2,175.5 81.7,176.4 82.1,176.4 82.6,176.4 83.1,176.4 83.5,176.4 84,176.7 84.4,176.7 84.9,177.1 85.3,177.2 85.8,178.1 86.3,178.3 86.7,179.7 87.2,180.9 87.6,181.8 88.1,181.6 88.5,180.8 89,180 89.5,180 89.9,180 90.4,180 91.7,179.6 91.7,191.6 90.4,195 89.9,195.7 89.5,196.4 89,198.1 88.5,198.1 88.1,198.1 87.6,198.1 87.2,198.1 86.7,198.1 86.3,198.1 85.8,197.2 85.3,196.5 84.9,195.9 84.4,194.1 84,193.8 83.5,191.9 83.1,190.6 82.6,188.8 82.1,188.7 81.7,188.6 81.2,188.5 80.8,188.5 80.3,188.5 79.9,188.5 79.4,187.7 78.9,187.6 78.5,187.5 78,185.5 77.6,184.3 77.1,182.9 76.7,181.4 76.2,178.4 75.7,177.3 75.3,174.3 74.8,171.1 74.4,168.6 73.9,167.6 73.5,166.5 73,165.4 72.5,164.6 72.1,165.1 71.6,165.6 71.2,165.6 70.7,165.6 70.3,165.6 69.8,165.6 69.3,166.2 68.9,166.6 68.4,167.5 68,167.5 67.5,167.5 67.1,167.5 65.8,167.8ZM89.9,159.3 91.2,153.9 91.7,153.4 92.1,153.4 92.6,153.4 93.1,153.4 93.5,153.2 94,153 94.4,152.5 94.9,152.5 95.3,152.5 95.8,152.5 96.3,152.5 96.7,152.5 97.2,152.5 97.6,153.2 98.1,155.7 98.5,158.3 99,160.5 99.5,162.8 99.9,165.7 100.4,168.9 100.8,171.4 101.3,173.3 101.7,174.8 102.2,175.7 102.7,176 103.1,176.1 103.6,177.1 104,178.1 104.5,178.8 104.9,179.4 105.4,179.9 105.9,180.5 106.3,180.7 106.8,181.9 107.2,183.7 107.7,185.6 108.1,187.4 108.6,189 109.1,189.8 109.5,189.1 110,186.8 110.4,186 110.9,186 111.3,186 111.8,186 113.1,186.7 113.1,198.7 111.8,203.2 111.3,204.7 110.9,205.4 110.4,205.4 110,205.4 109.5,205.4 109.1,205.4 108.6,205.4 108.1,205.4 107.7,205.2 107.2,205.2 106.8,204.3 106.3,202.7 105.9,201.9 105.4,200 104.9,197.8 104.5,195.7 104,193.8 103.6,192.8 103.1,192.7 102.7,192.7 102.2,191.5 101.7,191.5 101.3,189.9 100.8,188.9 100.4,188.9 99.9,188.4 99.5,188.1 99,186.9 98.5,186.7 98.1,184.2 97.6,180.8 97.2,178.8 96.7,175.7 96.3,172.7 95.8,170.8 95.3,168.4 94.9,168.2 94.4,168.5 94,169.4 93.5,169.8 93.1,170.2 92.6,171.1 92.1,171.1 91.7,171.1 91.2,171.1 89.9,171.3ZM159.4,140.8 160.7,138.4 161.1,138.4 161.6,138.4 162,138.4 162.5,138.5 162.9,138.5 163.4,138.8 163.8,140.1 164.3,141.2 164.8,142.7 165.2,145.5 165.7,148.3 166.1,150.9 166.6,153.8 167,157.8 167.5,159.9 167.9,162.5 168.4,164 168.9,165.9 169.3,166.2 169.8,167.2 170.2,168 170.7,169.2 171.1,169.5 171.6,169.5 172.1,170.2 172.5,171.2 173,172.2 173.4,173.8 173.9,175.2 174.3,178.5 174.8,180.8 175.2,182.8 175.7,184.9 176.2,184.8 176.6,183.6 177.1,181.7 177.5,179.7 178,178.7 178.4,178.7 178.9,178.7 179.3,178.7 180.6,180.5 180.6,192.5 179.3,195.6 178.9,197.1 178.4,197.5 178,200.1 177.5,201.1 177.1,202.4 176.6,202.6 176.2,202.6 175.7,202.6 175.2,202.6 174.8,202.6 174.3,202.6 173.9,202.6 173.4,200.5 173,197.8 172.5,195.5 172.1,192.8 171.6,190.8 171.1,188.1 170.7,186.3 170.2,184.5 169.8,183.5 169.3,183.3 168.9,182.4 168.4,182.2 167.9,181.3 167.5,180.2 167,180 166.6,179.3 166.1,178.2 165.7,176.2 165.2,174.7 164.8,173.4 164.3,170.5 163.8,167.4 163.4,165.7 162.9,163.4 162.5,160.4 162,157.6 161.6,156.4 161.1,155.1 160.7,153.9 159.4,152.8ZM185.1,146.1 186.4,144.5 186.8,144.5 187.3,144.5 187.7,144.5 188.2,148.2 188.7,151.7 189.1,155.1 189.6,158.4 190,162.1 190.5,164.6 190.9,166.3 191.4,166.8 191.9,168.4 192.3,169.2 192.8,170.2 193.2,170.3 193.7,170.3 194.1,172.5 194.6,173.1 195.1,173.4 195.5,173.8 196,175.6 196.4,179.9 196.9,183.4 197.3,187 197.8,189.1 198.3,190.9 198.7,189.8 199.2,187.9 199.6,186 200.1,183.6 200.5,179.5 201,175.5 201.5,171.6 201.9,166.7 202.4,163.3 202.8,159.2 203.3,159.2 203.7,159.2 204.2,159.2 205.5,162 205.5,174 204.2,182.9 203.7,187 203.3,192.1 202.8,195.8 202.4,198.4 201.9,200.6 201.5,202.4 201,203.6 200.5,204.8 200.1,205.4 199.6,206 199.2,206.7 198.7,206.7 198.3,206.7 197.8,206.7 197.3,206.7 196.9,206.7 196.4,206.7 196,205.5 195.5,204 195.1,202.1 194.6,199.7 194.1,196.5 193.7,192.7 193.2,189.7 192.8,187.6 192.3,185.6 191.9,184.5 191.4,183.9 190.9,182.9 190.5,182.3 190,182.1 189.6,181.1 189.1,180.7 188.7,178.8 188.2,178.3 187.7,177.3 187.3,174.7 186.8,171.7 186.4,168.3 185.1,158.1ZM208.6,158.4 209.9,157.2 210.3,157.2 210.8,157.2 211.2,157.2 211.7,158.3 212.1,159.2 212.6,160.2 213,161.8 213.5,162 214,163.3 214.4,164.2 214.9,165.6 215.3,165.9 215.8,166.2 216.2,167.2 216.7,168.5 217.2,171.3 217.6,173.5 218.1,176 218.5,178.6 219,180.8 219.4,183.5 219.9,185.8 220.3,187.2 220.8,187 221.3,185 221.7,182.3 222.2,179.2 222.6,175.9 223.1,172.7 223.5,168.8 224,165.7 224.4,162.5 224.9,159.4 225.4,156.4 225.8,153.4 226.3,151.5 226.7,149.4 227.2,147.9 227.6,146.1 228.1,145.3 228.5,143.9 229,143.9 229.5,143.9 229.9,143.9 231.2,146.1 231.2,158.1 229.9,161.7 229.5,163.7 229,165.7 228.5,167.2 228.1,170.1 227.6,172.5 227.2,175.7 226.7,178.2 226.3,180.9 225.8,184.2 225.4,188.2 224.9,191.7 224.4,195.3 224,198.3 223.5,200.1 223.1,201.2 222.6,202.7 222.2,203.4 221.7,203.6 221.3,203.7 220.8,203.7 220.3,203.7 219.9,203.7 219.4,203.7 219,203.7 218.5,203.7 218.1,202.8 217.6,201.1 217.2,199.1 216.7,196.3 216.2,193.8 215.8,191.8 215.3,189.1 214.9,186.5 214.4,184.4 214,182.6 213.5,181 213,179.5 212.6,179.4 212.1,179.1 211.7,178.2 211.2,176.9 210.8,176.8 210.3,174.3 209.9,172.8 208.6,170.4ZM234.3,169.9 235.6,169.5 236,169.5 236.5,169.5 236.9,169.5 237.4,171.4 237.8,173.4 238.3,175.2 238.8,176.6 239.2,177.7 239.7,180.1 240.1,182.6 240.6,184.4 241,186.5 241.5,187.6 241.9,190 242.4,191.8 242.8,192.9 243.3,192.2 243.8,191.1 244.2,188.3 244.7,186 245.1,183.6 245.6,179.6 246,175.5 246.5,170.5 246.9,166.5 247.4,162.5 247.8,158.4 248.3,154.4 248.8,152.7 249.2,152.5 249.7,151.1 250.1,150.1 250.6,149.8 251,149.8 251.5,149.8 251.9,149.8 252.4,149.8 252.8,149.8 253.3,149.8 253.8,149.8 254.2,150.4 254.7,151.3 255.1,153.2 255.6,155 256,156.2 256.5,158.1 257.8,164.6 257.8,176.6 256.5,177.2 256,177.2 255.6,177.2 255.1,177.2 254.7,175.2 254.2,172.4 253.8,170.4 253.3,168.8 252.8,167.3 252.4,166.3 251.9,165.4 251.5,165.7 251,167.6 250.6,170.5 250.1,174.8 249.7,178.9 249.2,182.2 248.8,187.9 248.3,191.6 247.8,195.1 247.4,198.9 246.9,202 246.5,205 246,205.1 245.6,206.5 245.1,207.5 244.7,208 244.2,208 243.8,208.1 243.3,208.1 242.8,208.1 242.4,208.1 241.9,208.1 241.5,208.1 241,208.1 240.6,207.1 240.1,205.3 239.7,203.9 239.2,202 238.8,200 238.3,198.2 237.8,196.3 237.4,194.2 236.9,192 236.5,190 236,188 235.6,186.4 234.3,181.9ZM259.6,186.7 260.9,187 261.4,187 261.9,187 262.3,187 262.8,188.9 263.2,191.4 263.7,192.6 264.1,194.8 264.6,195.9 265,197 265.5,196.3 265.9,193.4 266.4,191.6 266.9,188.2 267.3,186.7 267.8,182.9 268.2,180.4 268.7,176.7 269.1,172.6 269.6,167.5 270,164.2 270.5,160.3 270.9,157.2 271.4,153.8 271.9,151 272.3,149.6 272.8,147.8 273.2,146.2 273.7,145.5 274.1,145.5 274.6,145.5 275,145.5 275.5,145.5 276,145.5 276.4,145.5 276.9,146 277.3,147.4 277.8,149.6 278.2,151.6 278.7,154 279.1,156.6 279.6,159.8 280,162.7 280.5,165.4 281,167.4 281.4,170.4 281.9,173.2 282.3,175.8 282.8,177.2 283.2,180.1 284.5,182.3 284.5,194.3 283.2,195.1 282.8,195.1 282.3,195.1 281.9,195.1 281.4,194 281,192.7 280.5,191.3 280,189.6 279.6,187.2 279.1,184.8 278.7,182.1 278.2,179.8 277.8,177.9 277.3,175.6 276.9,172.9 276.4,169.5 276,166.8 275.5,165.1 275,163.9 274.6,164.8 274.1,167 273.7,169.8 273.2,173 272.8,176.5 272.3,180.6 271.9,184.8 271.4,189.1 270.9,192.9 270.5,196.5 270,199.3 269.6,202.6 269.1,205.3 268.7,206.9 268.2,209 267.8,211 267.3,211 266.9,211.8 266.4,211.8 265.9,211.8 265.5,211.8 265,211.8 264.6,211.8 264.1,211.8 263.7,211.8 263.2,211.8 262.8,211.8 262.3,210.6 261.9,208.6 261.4,207.9 260.9,205.5 259.6,198.7ZM284.5,199.1 285.8,197.4 286.3,197.1 286.7,196.8 287.2,196.2 287.6,194.1 288.1,192 288.5,189.7 289,185.9 289.4,182.1 289.9,176.8 290.3,172 290.8,167.1 291.2,162.6 291.7,157.5 292.1,153.8 292.6,151.4 293,148.9 293.5,148 293.9,146.5 294.4,144.9 294.8,144.7 295.3,144.7 295.8,144.7 296.2,144.7 296.7,144.7 297.1,144.7 297.6,144.7 298,145 298.5,146.9 298.9,148.3 299.4,149.7 299.8,151.3 300.3,153.4 300.7,155.6 301.2,158.8 301.6,162.6 302.1,165.8 302.5,168.6 303,170.5 303.4,172.3 303.9,173.9 304.3,175.5 304.8,178 305.2,181.5 305.7,185 306.2,187.7 306.6,189.9 307.1,191.6 308.4,195.5 308.4,207.5 307.1,209.6 306.6,209.6 306.2,209.6 305.7,209.6 305.2,208 304.8,206.7 304.3,204.4 303.9,202.8 303.4,200 303,196.7 302.5,193.5 302.1,190.4 301.6,188.4 301.2,186.2 300.7,184.2 300.3,183.3 299.8,180.8 299.4,178.2 298.9,175.6 298.5,172.6 298,169.2 297.6,166.8 297.1,164.1 296.7,162.4 296.2,161.8 295.8,162.6 295.3,164.6 294.8,166.5 294.4,170.5 293.9,175.1 293.5,179.3 293,183.7 292.6,189.1 292.1,194.1 291.7,198.3 291.2,202.6 290.8,205.7 290.3,207.3 289.9,208.5 289.4,209.6 289,210.4 288.5,210.8 288.1,212.1 287.6,212.4 287.2,212.4 286.7,212.4 286.3,212.4 285.8,212.4 284.5,211.1ZM361.2,156.7 362.5,155.2 362.9,155.2 363.4,155.2 363.9,155.2 364.3,157.8 364.8,159.7 365.2,161.5 365.7,163.6 366.1,165.6 366.6,167.5 367.1,169.5 367.5,172 368,173.9 368.4,175.3 368.9,176.2 369.3,177.5 369.8,178.2 370.3,180.8 370.7,182 371.2,182.7 371.6,183.7 372.1,184.5 372.5,186.4 373,187.5 373.5,189.5 373.9,191.2 374.4,191 374.8,190.3 375.3,186.9 375.7,185 376.2,181.1 376.7,177.4 377.1,173.3 377.6,170 378,166.1 378.5,162.4 378.9,158.2 379.4,154.3 379.9,150.2 380.3,146.7 380.8,145.2 381.2,144.1 381.7,143.5 382.1,142.4 382.6,141.2 383.1,139.9 383.5,139.9 384,139.9 384.4,139.9 385.7,143.4 385.7,155.4 384.4,157.8 384,158.4 383.5,160.7 383.1,161.6 382.6,164.8 382.1,167.3 381.7,170.9 381.2,174.5 380.8,177.8 380.3,181.9 379.9,186.9 379.4,191.6 378.9,195.4 378.5,199 378,202 377.6,203.2 377.1,203.9 376.7,203.9 376.2,204.5 375.7,205.3 375.3,205.9 374.8,206 374.4,206 373.9,206 373.5,206 373,206 372.5,206 372.1,206 371.6,205.2 371.2,204.1 370.7,201.9 370.3,200.3 369.8,198.6 369.3,196.9 368.9,196.2 368.4,194.9 368,193.3 367.5,192.4 367.1,191.1 366.6,190.1 366.1,188.6 365.7,187.1 365.2,185.7 364.8,183.4 364.3,181.6 363.9,179.6 363.4,177.7 362.9,176.6 362.5,173.8 361.2,168.7ZM385.7,162.9 387,162.2 387.5,162.2 387.9,162.2 388.4,162.2 388.8,162.2 389.3,162.9 389.7,162.9 390.2,164 390.6,165.5 391.1,167.1 391.5,168.9 392,169.5 392.4,170.8 392.9,172.8 393.3,173.6 393.8,175.5 394.2,176 394.7,176.4 395.1,178 395.6,179.1 396.1,179.9 396.5,179.5 397,178.2 397.4,177.6 397.9,175.7 398.3,173.7 398.8,171.3 399.2,168.1 399.7,164.6 400.1,162 400.6,158.8 401,155.7 401.5,153.7 401.9,151.4 402.4,149.2 402.8,147.7 403.3,145.6 403.7,143.7 404.2,142.1 404.7,141.1 405.1,140.9 405.6,140.3 406,140.3 406.5,139.3 406.9,139.2 407.4,139.2 407.8,139.2 408.3,139.2 408.7,139.2 409.2,139.2 409.6,139.2 410.9,141.7 410.9,153.7 409.6,154.5 409.2,154.5 408.7,154.8 408.3,155.6 407.8,156.8 407.4,156.8 406.9,157.5 406.5,158.3 406,159.3 405.6,160.7 405.1,162.8 404.7,164.6 404.2,167 403.7,170.3 403.3,173.4 402.8,175.8 402.4,177.8 401.9,180.4 401.5,182.9 401,185.2 400.6,187.2 400.1,189.8 399.7,191.4 399.2,192.6 398.8,193 398.3,193.1 397.9,193.1 397.4,193.1 397,193.1 396.5,193.1 396.1,193.1 395.6,193.1 395.1,192.5 394.7,192.5 394.2,192.5 393.8,192.1 393.3,191.3 392.9,190.8 392.4,190.8 392,190.1 391.5,188.8 391.1,187 390.6,186.3 390.2,184.6 389.7,182.9 389.3,181.6 388.8,180 388.4,179.4 387.9,179 387.5,177.1 387,176.6 385.7,174.9ZM410.2,181.4 411.5,180.8 412,180.8 412.4,180.8 412.9,180.8 413.3,180.8 413.8,181 414.2,181 414.7,181 415.1,181.6 415.6,182.5 416,182.8 416.5,184 416.9,185.2 417.4,186.3 417.8,187.9 418.3,189.6 418.8,191.6 419.2,191.7 419.7,189.2 420.1,186.6 420.6,183 421,179.2 421.5,176.2 421.9,172.5 422.4,169.9 422.8,167.1 423.3,164.9 423.7,162.4 424.2,160.4 424.6,157.9 425.1,157.2 425.5,156.2 426,154.8 426.4,154.8 426.9,154.8 427.3,154.8 427.8,154.8 428.2,154.3 428.7,154.1 429.2,154 429.6,154 430.1,154 430.5,154 431,154 431.4,154 431.9,154 432.3,154.5 432.8,154.7 434.1,156.7 434.1,168.7 432.8,169.1 432.3,169.1 431.9,169.1 431.4,169.1 431,168.3 430.5,168.1 430.1,168.1 429.6,168.2 429.2,168.7 428.7,168.7 428.2,169.4 427.8,169.8 427.3,171.1 426.9,172.8 426.4,175.6 426,178 425.5,179.6 425.1,182.1 424.6,185.8 424.2,188.8 423.7,191.7 423.3,194.8 422.8,198.4 422.4,202.4 421.9,204.9 421.5,205.9 421,205.9 420.6,205.9 420.1,205.9 419.7,205.9 419.2,205.9 418.8,205.9 418.3,205.6 417.8,205.6 417.4,205.3 416.9,204.8 416.5,204.6 416,203.6 415.6,201.9 415.1,200.5 414.7,199.4 414.2,196.9 413.8,195.7 413.3,194.6 412.9,194.6 412.4,194.6 412,194.6 411.5,193.9 410.2,193.4ZM433.4,169.9 434.7,169.6 435.1,169.6 435.6,169.6 436,169.6 436.5,171.6 436.9,172.6 437.4,173.8 437.8,174.6 438.3,176.4 438.8,178.3 439.2,180.1 439.7,181.5 440.1,182.4 440.6,182.9 441,182.1 441.5,180.9 442,179.8 442.4,178.3 442.9,176.6 443.3,172.4 443.8,168.7 444.2,166.2 444.7,164 445.1,161.8 445.6,158.7 446.1,156.5 446.5,155.1 447,154.3 447.4,153.4 447.9,152.1 448.3,151.3 448.8,150.9 449.2,150.7 449.7,150.7 450.2,150.7 450.6,150.7 451.1,150.7 451.5,150.7 452,150.7 452.4,150.2 452.9,150.2 453.4,150.2 453.8,150.2 454.3,150.2 454.7,150.2 455.2,150.2 455.6,150.9 456.1,151.7 456.5,152.2 457,152.7 457.5,152.7 458.8,154.9 458.8,166.9 457.5,167.6 457,167.6 456.5,167.6 456.1,167.6 455.6,167.6 455.2,167.6 454.7,167.1 454.3,167.1 453.8,166.1 453.4,165.1 452.9,166 452.4,166 452,166 451.5,166 451.1,166 450.6,166 450.2,166 449.7,167.6 449.2,169.6 448.8,170.4 448.3,172.5 447.9,174.5 447.4,176.1 447,179.7 446.5,181.9 446.1,185.3 445.6,189.4 445.1,191.4 444.7,192.1 444.2,193.6 443.8,195 443.3,196.4 442.9,196.7 442.4,197.3 442,197.3 441.5,197.3 441,197.3 440.6,197.3 440.1,197.3 439.7,197.3 439.2,197.1 438.8,196.7 438.3,196.7 437.8,196.2 437.4,194.8 436.9,194.2 436.5,192.5 436,190.4 435.6,188.3 435.1,187.5 434.7,185.7 433.4,181.9ZM504.1,207.9 505.4,204.1 505.8,203.5 506.3,202 506.7,199.6 507.2,197.1 507.7,194 508.1,191.9 508.6,189.1 509,186.4 509.5,183.7 510,180.3 510.4,178.2 510.9,176.1 511.3,173.8 511.8,172.1 512.2,170.4 512.7,169 513.2,168.2 513.6,167.3 514.1,166.9 514.5,166.6 515,166.6 515.5,166.4 515.9,165.4 516.4,164.5 516.8,164.5 517.3,164.4 517.8,164.4 518.2,164.4 518.7,164.4 519.1,164.4 519.6,164.4 520,164.4 520.5,165.5 521,166.6 521.4,167.8 521.9,168.3 522.3,168.5 522.8,168.9 523.3,171.2 523.7,171.7 524.2,173.5 524.6,176.1 525.1,177.1 526.4,182.3 526.4,194.3 525.1,194.5 524.6,194.5 524.2,194.5 523.7,194.5 523.3,192.6 522.8,190.9 522.3,189.7 521.9,187.4 521.4,186.1 521,185 520.5,184.4 520,183.1 519.6,182 519.1,180.1 518.7,179.6 518.2,178.7 517.8,178.4 517.3,178.4 516.8,178.8 516.4,179.6 515.9,180 515.5,181.7 515,182.3 514.5,184 514.1,185.3 513.6,187.2 513.2,190.3 512.7,192.4 512.2,195.8 511.8,198.8 511.3,202 510.9,205.2 510.4,208.7 510,210.1 509.5,212.5 509,215.1 508.6,216.5 508.1,218 507.7,220.2 507.2,221.1 506.7,221.8 506.3,221.8 505.8,221.8 505.4,221.8 504.1,219.9ZM527.7,209.7 529,203.9 529.5,200.6 529.9,196.9 530.4,193.6 530.8,190.3 531.3,187.2 531.7,184.1 532.2,181.2 532.6,178.5 533.1,174.8 533.5,172.8 534,170.4 534.5,168.4 534.9,166.7 535.4,165.5 535.8,163.6 536.3,163.1 536.7,163.1 537.2,163.1 537.6,163.1 538.1,162.7 538.5,162.7 539,162.7 539.4,162.7 539.9,162.7 540.3,162.7 540.8,162.7 541.2,163.4 541.7,164.2 542.1,164.3 542.6,164.7 543,164.7 543.5,165.2 543.9,165.4 544.4,165.4 544.8,165.5 545.3,166.7 545.8,167.3 546.2,168.7 546.7,171 547.1,173.2 547.6,175.9 548,178.7 548.5,181.1 548.9,183.4 550.2,188.5 550.2,200.5 548.9,201.2 548.5,201.2 548,201.2 547.6,201.2 547.1,199.8 546.7,198.1 546.2,196.4 545.8,193.3 545.3,190.4 544.8,186.9 544.4,184.5 543.9,182.8 543.5,181.2 543,180.2 542.6,179.4 542.1,179 541.7,178.1 541.2,177.6 540.8,177.3 540.3,177.1 539.9,176.6 539.4,176.6 539,176.3 538.5,176.4 538.1,177.5 537.6,179.1 537.2,180.4 536.7,182.5 536.3,184.9 535.8,187.7 535.4,191.1 534.9,194.2 534.5,197.4 534,201.2 533.5,204.7 533.1,208.9 532.6,211.8 532.2,214.9 531.7,216.5 531.3,219.3 530.8,221.4 530.4,223.6 529.9,223.6 529.5,223.6 529,223.6 527.7,221.7ZM549.8,199.1 551.1,190.5 551.6,188.2 552.1,185.9 552.5,184.6 553,183.5 553.4,182 553.9,180.1 554.4,177.3 554.8,173.6 555.3,170.2 555.7,166.4 556.2,163.6 556.6,161.3 557.1,159.6 557.6,158 558,156.1 558.5,153.9 558.9,153.1 559.4,152.9 559.9,152.9 560.3,152.9 560.8,152.9 561.2,152.9 561.7,152.9 562.1,152.9 562.6,152.9 563.1,154.1 563.5,155.2 564,155.6 564.4,155.6 564.9,156 565.4,157.5 565.8,159 566.3,161.3 566.7,163.9 567.2,165.6 567.6,167.4 568.1,170.4 568.6,172.7 569,174.9 569.5,178.7 569.9,181.7 570.4,184 570.9,186.5 571.3,188.6 571.8,192.1 572.2,194.2 573.5,197.3 573.5,209.3 572.2,210.1 571.8,210.1 571.3,210.1 570.9,210.1 570.4,210 569.9,209 569.5,207.3 569,205.2 568.6,202.6 568.1,199 567.6,196.3 567.2,193.6 566.7,190.8 566.3,188.7 565.8,185.8 565.4,182.3 564.9,180 564.4,178.8 564,176 563.5,174.8 563.1,173.4 562.6,171.5 562.1,169.7 561.7,169.1 561.2,168.5 560.8,169.7 560.3,171.5 559.9,173.2 559.4,174.1 558.9,176.4 558.5,179.2 558,181.7 557.6,184.9 557.1,188.6 556.6,192.4 556.2,194.8 555.7,196 555.3,197.2 554.8,198.8 554.4,200 553.9,202.4 553.4,205.5 553,208.6 552.5,212.3 552.1,212.3 551.6,212.3 551.1,212.3 549.8,211.1ZM573.5,199.1 574.8,189.3 575.3,185.7 575.7,182.3 576.2,179.4 576.6,176.6 577.1,173.5 577.5,171.7 578,169.7 578.4,167.4 578.9,165.2 579.3,163.2 579.8,162.1 580.2,161 580.7,159.9 581.1,159.1 581.6,158.4 582,158.4 582.5,158.4 582.9,158.4 583.4,158.4 583.8,158.4 584.3,158.4 584.8,158.8 585.2,158.9 585.7,160.1 586.1,160.5 586.6,161.6 587,163.1 587.5,164.4 587.9,165.7 588.4,166.7 588.8,169.4 589.3,172.7 589.7,175 590.2,177.1 590.6,178.9 591.1,181.4 591.5,183.4 592,184.9 592.4,186.2 592.9,189.1 593.3,190.8 593.8,193.2 594.2,193.8 594.7,195.8 595.2,198.2 595.6,199.2 596.1,200.2 597.4,201.7 597.4,213.7 596.1,215.1 595.6,215.1 595.2,215.1 594.7,215.1 594.2,215.1 593.8,215.1 593.3,214.4 592.9,214 592.4,211.4 592,209.8 591.5,208.2 591.1,206.1 590.6,203.2 590.2,201.4 589.7,199.6 589.3,197 588.8,195.1 588.4,193.7 587.9,192 587.5,189.5 587,187.3 586.6,184.3 586.1,182 585.7,180.2 585.2,178.5 584.8,177.5 584.3,175.3 583.8,174.6 583.4,173.5 582.9,174.4 582.5,176 582,176.4 581.6,177.2 581.1,179.6 580.7,181.9 580.2,184.2 579.8,186.1 579.3,189.5 578.9,192.8 578.4,195.8 578,199.1 577.5,202.1 577.1,205.2 576.6,209.6 576.2,212 575.7,212 575.3,212 574.8,212 573.5,211.1ZM645.6,140.8 646.9,137 647.3,137 647.8,137 648.2,137 648.7,137 649.1,137 649.6,137.8 650,137.8 650.5,139 650.9,139.8 651.4,142.5 651.8,144 652.3,146.8 652.7,148.6 653.2,152 653.6,154.6 654.1,157.8 654.6,160.1 655,161.8 655.5,164.6 655.9,166.6 656.4,168.6 656.8,171 657.3,172.6 657.7,174.2 658.2,175.6 658.6,176.6 659.1,177.8 659.5,178.3 660,179.9 660.4,181.6 660.9,182.7 661.3,184.6 661.8,184.5 662.3,182.5 662.7,180.1 663.2,175.7 663.6,172.4 664.1,169 664.5,165.5 665,162.1 665.4,159.6 665.9,157 666.3,154.4 666.8,151.6 667.2,149.6 667.7,148.6 668.1,148.6 668.6,148.6 669,147.5 669.5,147.5 670,147.5 670.4,147.5 670.9,147.5 672.2,149.6 672.2,161.6 670.9,163.2 670.4,163.2 670,163.3 669.5,164.9 669,167.6 668.6,170.6 668.1,172.4 667.7,175.8 667.2,178.8 666.8,182.5 666.3,185 665.9,188.7 665.4,192.9 665,195.5 664.5,197.3 664.1,198.7 663.6,199.9 663.2,201.8 662.7,201.9 662.3,201.9 661.8,201.9 661.3,201.9 660.9,201.9 660.4,201.9 660,201.9 659.5,200.6 659.1,198.6 658.6,197.1 658.2,194.8 657.7,193.8 657.3,192.3 656.8,190.8 656.4,189.5 655.9,187.9 655.5,187.2 655,186.1 654.6,185.1 654.1,183.3 653.6,180.4 653.2,178.6 652.7,177 652.3,174.8 651.8,173.1 651.4,170.7 650.9,168 650.5,165.5 650,162.6 649.6,161.8 649.1,159.5 648.7,157.8 648.2,155.9 647.8,155 647.3,153.1 646.9,152.9 645.6,152.8ZM670.1,156.2 671.4,154 671.9,154 672.3,154 672.8,154 673.3,156 673.7,157.3 674.2,159 674.6,161 675.1,164.1 675.5,166.1 676,169.7 676.4,173.6 676.9,175.6 677.4,176.5 677.8,178.2 678.3,179.1 678.7,179.7 679.2,180 679.6,181 680.1,182.5 680.6,184.3 681,186 681.5,187.4 681.9,190 682.4,191.2 682.8,193.5 683.3,195.9 683.7,197.3 684.2,194.2 684.7,191.7 685.1,188.5 685.6,185 686,181.8 686.5,177.8 686.9,174.2 687.4,172.4 687.9,170.9 688.3,168.7 688.8,167 689.2,166.3 689.7,165.4 690.1,165.4 690.6,165.4 691,165.4 691.5,165.4 692,165.4 692.4,165.4 692.9,165.6 693.3,165.6 693.8,166.5 694.2,167 694.7,168.4 695.2,169.4 695.6,170.4 696.1,172.5 696.5,173.2 697,175.1 697.4,175.7 697.9,177.5 698.3,178.9 698.8,178.9 699.3,178.9 699.7,178.9 701,179 701,191 699.7,193.9 699.3,193.9 698.8,193.9 698.3,193.9 697.9,193.9 697.4,193.9 697,193.6 696.5,193.6 696.1,193.6 695.6,193.1 695.2,192 694.7,190.2 694.2,188.7 693.8,187.5 693.3,184.9 692.9,182.9 692.4,181 692,179.7 691.5,179.7 691,180.8 690.6,182.1 690.1,184 689.7,186.2 689.2,190 688.8,193.3 688.3,196.9 687.9,201 687.4,204.9 686.9,207.6 686.5,209.6 686,211.7 685.6,213.3 685.1,213.3 684.7,213.3 684.2,213.3 683.7,213.3 683.3,213.3 682.8,213.3 682.4,212.7 681.9,212.5 681.5,212.1 681,210.4 680.6,208 680.1,206.1 679.6,204.3 679.2,202.6 678.7,200.4 678.3,198.6 677.8,196.2 677.4,195.1 676.9,194 676.4,192.4 676,191.6 675.5,190.4 675.1,190.2 674.6,188.9 674.2,187.1 673.7,184.5 673.3,181.6 672.8,179.3 672.3,178 671.9,175.5 671.4,174 670.1,168.2Z" fill="#8e8e8e" stroke="#8e8e8e" stroke-width="1.6" stroke-linejoin="round"/><path d="M67.1,162.3 67.5,161.6 68,161 68.4,160.4 68.9,159.9 69.3,159.4 69.8,159.1 70.3,158.8 70.7,158.6 71.2,158.4 71.6,158.2 72.1,158.1 72.5,158 73,158.1 73.5,158.5 73.9,159.2 74.4,160.1 74.8,161.2 75.3,162.3 75.7,163.7 76.2,165.6 76.7,167.8 77.1,170.1 77.6,172.3 78,174.1 78.5,176 78.9,178 79.4,179.7 79.9,181.1 80.3,181.9 80.8,182.1 81.2,182.3 81.7,182.4 82.1,182.4 82.6,182.5 83.1,182.6 83.5,182.7 84,182.9 84.4,183.8 84.9,185.2 85.3,186.6 85.8,187.7 86.3,188.9 86.7,190 87.2,190.5 87.6,190.4 88.1,189.7 88.5,188.9 89,188 89.5,187.2 89.9,186.3 90.4,185.4M91.2,165.7 91.7,164.7 92.1,163.8 92.6,163 93.1,162.5 93.5,162.2 94,161.9 94.4,161.7 94.9,161.6 95.3,161.5 95.8,161.4 96.3,162 96.7,163.6 97.2,165.6 97.6,167.7 98.1,169.9 98.5,172.6 99,175.3 99.5,177.8 99.9,179.7 100.4,180.7 100.8,181.5 101.3,182.1 101.7,182.6 102.2,183.1 102.7,183.6 103.1,184.2 103.6,184.7 104,185.2 104.5,185.8 104.9,186.5 105.4,187.4 105.9,189.1 106.3,191.3 106.8,193.3 107.2,194.6 107.7,195.8 108.1,196.9 108.6,197.8 109.1,198.2 109.5,198.1 110,197.4 110.4,196.2 110.9,195 111.3,193.8 111.8,192.3M160.7,147.7 161.1,147.8 161.6,148.1 162,148.5 162.5,149.1 162.9,149.9 163.4,151.9 163.8,154.6 164.3,157.3 164.8,159.8 165.2,162.5 165.7,165.1 166.1,167.4 166.6,169.3 167,171.1 167.5,172.5 167.9,173.6 168.4,174.4 168.9,174.9 169.3,175.5 169.8,176 170.2,176.5 170.7,177.3 171.1,178 171.6,178.9 172.1,180 172.5,181.7 173,184.1 173.4,186.7 173.9,188.9 174.3,191 174.8,193 175.2,194.5 175.7,194.8 176.2,194 176.6,192.6 177.1,191.2 177.5,190 178,189 178.4,188.1 178.9,187.2 179.3,186.3M186.4,152.9 186.8,156.3 187.3,159.5 187.7,162.6 188.2,165.8 188.7,168.8 189.1,171.1 189.6,172.5 190,173.7 190.5,174.6 190.9,175.4 191.4,176.1 191.9,176.9 192.3,177.5 192.8,178.1 193.2,178.7 193.7,179.4 194.1,180.4 194.6,182.8 195.1,186.3 195.5,190 196,193.2 196.4,195.2 196.9,197 197.3,198.5 197.8,199.1 198.3,199 198.7,198.3 199.2,197.5 199.6,196.4 200.1,195.3 200.5,193.8 201,192 201.5,189.5 201.9,185.5 202.4,181 202.8,177.3 203.3,174 203.7,171 204.2,168.3M209.9,164.9 210.3,165.8 210.8,166.7 211.2,167.6 211.7,168.5 212.1,169.4 212.6,170.3 213,171.2 213.5,172 214,172.8 214.4,173.7 214.9,174.8 215.3,176.2 215.8,177.9 216.2,179.9 216.7,182 217.2,184.2 217.6,186.5 218.1,188.9 218.5,191 219,193.1 219.4,195 219.9,196.3 220.3,196.5 220.8,196.1 221.3,195.2 221.7,194 222.2,192.5 222.6,190.9 223.1,188.8 223.5,185.5 224,181.8 224.4,178.5 224.9,175.5 225.4,172.5 225.8,169.6 226.3,166.9 226.7,164.5 227.2,162.3 227.6,160.4 228.1,158.6 228.5,156.9 229,155.3 229.5,154 229.9,152.9M235.6,176 236,177.5 236.5,179.1 236.9,180.7 237.4,182.4 237.8,184.2 238.3,186.1 238.8,188 239.2,189.9 239.7,191.6 240.1,193.2 240.6,195 241,196.8 241.5,198.4 241.9,199.5 242.4,200 242.8,199.9 243.3,199.7 243.8,199.2 244.2,198.7 244.7,198 245.1,197.2 245.6,195.2 246,192.2 246.5,188.8 246.9,185.4 247.4,181.2 247.8,176.8 248.3,172.7 248.8,169.1 249.2,165.4 249.7,162.3 250.1,160.6 250.6,160.1 251,159.6 251.5,159.3 251.9,159 252.4,158.9 252.8,158.9 253.3,159.6 253.8,160.9 254.2,162.5 254.7,163.9 255.1,165.4 255.6,167.1 256,168.9 256.5,170.9M260.9,192.3 261.4,194.6 261.9,196.7 262.3,198.6 262.8,200.2 263.2,201.5 263.7,202.7 264.1,203.7 264.6,204.3 265,204.2 265.5,203.9 265.9,203.3 266.4,202.6 266.9,201.6 267.3,199.9 267.8,197.7 268.2,195.2 268.7,192.5 269.1,189.8 269.6,186.5 270,182.8 270.5,178.9 270.9,174.9 271.4,171.2 271.9,167.9 272.3,164.5 272.8,161.4 273.2,159.1 273.7,157.4 274.1,156 274.6,154.9 275,154.6 275.5,155.1 276,156.3 276.4,157.8 276.9,159.4 277.3,161.7 277.8,164.4 278.2,167.2 278.7,169.6 279.1,171.9 279.6,174.1 280,176.4 280.5,178.8 281,181.4 281.4,183.8 281.9,185.4 282.3,186.6 282.8,187.5 283.2,188M285.8,204.3 286.3,204.2 286.7,203.9 287.2,203.5 287.6,202.9 288.1,202.1 288.5,201.3 289,200.1 289.4,197.8 289.9,194.8 290.3,191.4 290.8,187.6 291.2,182.9 291.7,178 292.1,173.5 292.6,169.4 293,165.2 293.5,161.7 293.9,159.4 294.4,157.6 294.8,156 295.3,154.7 295.8,153.9 296.2,153.7 296.7,154.2 297.1,155.1 297.6,156.3 298,157.6 298.5,159.1 298.9,161.3 299.4,163.8 299.8,166.4 300.3,169.1 300.7,172.2 301.2,174.9 301.6,177 302.1,178.8 302.5,180.5 303,182.3 303.4,184.5 303.9,187.3 304.3,190.3 304.8,193 305.2,195.1 305.7,196.9 306.2,198.5 306.6,199.8 307.1,200.9M362.5,163.1 362.9,164.9 363.4,166.6 363.9,168.4 364.3,170.2 364.8,171.9 365.2,173.8 365.7,175.8 366.1,177.7 366.6,179.6 367.1,181.3 367.5,182.7 368,184 368.4,185.1 368.9,186.2 369.3,187.3 369.8,188.4 370.3,189.4 370.7,190.6 371.2,191.9 371.6,193.5 372.1,195.1 372.5,196.4 373,197.3 373.5,197.4 373.9,197.4 374.4,197.3 374.8,197.1 375.3,196.9 375.7,196.6 376.2,195.8 376.7,193.5 377.1,190.3 377.6,187.1 378,183.8 378.5,180 378.9,176.1 379.4,172.6 379.9,169.1 380.3,165.5 380.8,162.2 381.2,159.2 381.7,156.9 382.1,155.3 382.6,153.8 383.1,152.5 383.5,151.4 384,150.6 384.4,150.3M387,169.1 387.5,169.7 387.9,170.4 388.4,171.1 388.8,171.9 389.3,172.8 389.7,173.7 390.2,174.8 390.6,176.1 391.1,177.4 391.5,178.7 392,179.9 392.4,181 392.9,182.1 393.3,183.2 393.8,184.2 394.2,185 394.7,185.4 395.1,185.7 395.6,185.9 396.1,186.1 396.5,186.2 397,186.3 397.4,186.3 397.9,185.7 398.3,184.6 398.8,183 399.2,181.2 399.7,179.3 400.1,177.3 400.6,174.6 401,171.6 401.5,168.8 401.9,166.4 402.4,164 402.8,161.8 403.3,159.7 403.7,157.7 404.2,156.1 404.7,154.5 405.1,153 405.6,151.6 406,150.4 406.5,149.7 406.9,149.3 407.4,149.1 407.8,148.9 408.3,148.8 408.7,148.7 409.2,148.6 409.6,148.6M411.5,187.1 412,187.2 412.4,187.2 412.9,187.3 413.3,187.5 413.8,187.7 414.2,187.9 414.7,188.3 415.1,189.2 415.6,190.6 416,192 416.5,193.4 416.9,195.1 417.4,196.6 417.8,197.4 418.3,197.7 418.8,198 419.2,198.1 419.7,198.2 420.1,198.3 420.6,197.3 421,194.9 421.5,191.8 421.9,188.6 422.4,185.7 422.8,182.3 423.3,178.9 423.7,175.9 424.2,173.5 424.6,171.2 425.1,169.1 425.5,167.3 426,165.8 426.4,164.8 426.9,164.1 427.3,163.5 427.8,163 428.2,162.6 428.7,162.3 429.2,162.3 429.6,162.3 430.1,162.3 430.5,162.3 431,162.4 431.4,162.5 431.9,162.7 432.3,162.9 432.8,163.1M434.7,176 435.1,177.3 435.6,178.6 436,180 436.5,181.3 436.9,182.7 437.4,184.2 437.8,185.7 438.3,186.9 438.8,187.8 439.2,188.6 439.7,189.4 440.1,190 440.6,190.4 441,190.6 441.5,190.3 442,189.7 442.4,188.7 442.9,187.5 443.3,186.2 443.8,184.6 444.2,182.1 444.7,178.9 445.1,175.9 445.6,173.4 446.1,170.9 446.5,168.5 447,166.3 447.4,164.5 447.9,163.1 448.3,162 448.8,160.9 449.2,160 449.7,159.3 450.2,158.9 450.6,158.9 451.1,158.9 451.5,158.9 452,158.9 452.4,158.9 452.9,158.9 453.4,158.9 453.8,158.9 454.3,159.1 454.7,159.6 455.2,160.2 455.6,160.6 456.1,160.9 456.5,161.1 457,161.3 457.5,161.4M505.4,212.9 505.8,212.1 506.3,211.1 506.7,209.9 507.2,208.5 507.7,206.8 508.1,204.7 508.6,202.3 509,199.6 509.5,196.8 510,194.2 510.4,191.7 510.9,189 511.3,186.3 511.8,183.8 512.2,181.6 512.7,179.8 513.2,178.2 513.6,176.6 514.1,175.3 514.5,174.2 515,173.5 515.5,173.2 515.9,173 516.4,172.8 516.8,172.7 517.3,172.6 517.8,172.6 518.2,172.6 518.7,172.8 519.1,173.1 519.6,173.4 520,173.9 520.5,174.4 521,174.9 521.4,175.6 521.9,176.9 522.3,178.5 522.8,180.1 523.3,181.6 523.7,183.1 524.2,184.7 524.6,186.3 525.1,188M529,214.6 529.5,212.8 529.9,210.9 530.4,208.7 530.8,206.2 531.3,203.4 531.7,200.3 532.2,197.1 532.6,193.9 533.1,190.9 533.5,187.9 534,184.7 534.5,181.6 534.9,178.8 535.4,176.5 535.8,174.9 536.3,173.5 536.7,172.3 537.2,171.3 537.6,170.5 538.1,170.1 538.5,170 539,170.1 539.4,170.3 539.9,170.5 540.3,170.8 540.8,171.1 541.2,171.4 541.7,171.7 542.1,171.9 542.6,172.2 543,172.4 543.5,172.7 543.9,173.1 544.4,173.6 544.8,174.9 545.3,176.8 545.8,179.1 546.2,181.4 546.7,184.3 547.1,187.3 547.6,189.9 548,191.6 548.5,193 548.9,194M551.1,204.3 551.6,201.1 552.1,198.1 552.5,195.6 553,193.5 553.4,192 553.9,190.9 554.4,189.7 554.8,188.3 555.3,186.2 555.7,182.8 556.2,179.3 556.6,176.2 557.1,173 557.6,170.3 558,168.2 558.5,166.6 558.9,165.2 559.4,163.9 559.9,162.9 560.3,162.4 560.8,162.3 561.2,162.4 561.7,162.7 562.1,163 562.6,163.4 563.1,163.9 563.5,164.6 564,165.6 564.4,167 564.9,168.6 565.4,170.3 565.8,172.1 566.3,174.2 566.7,176.6 567.2,179.2 567.6,181.8 568.1,184.4 568.6,187 569,189.7 569.5,192.4 569.9,195 570.4,197.3 570.9,199.1 571.3,200.5 571.8,201.7 572.2,202.6M574.8,204.3 575.3,201.2 575.7,198.1 576.2,195.1 576.6,192.2 577.1,189.3 577.5,186.3 578,183.3 578.4,180.4 578.9,177.8 579.3,175.6 579.8,173.8 580.2,172 580.7,170.4 581.1,169 581.6,168 582,167.4 582.5,167.1 582.9,166.8 583.4,166.6 583.8,166.6 584.3,167 584.8,167.7 585.2,168.8 585.7,170 586.1,171.2 586.6,172.5 587,174.2 587.5,176.2 587.9,178.4 588.4,180.7 588.8,182.9 589.3,185 589.7,186.9 590.2,188.8 590.6,190.7 591.1,192.6 591.5,194.4 592,196.5 592.4,198.6 592.9,200.6 593.3,202.4 593.8,203.8 594.2,204.7 594.7,205.5 595.2,206.2 595.6,206.7 596.1,206.9M646.9,147.7 647.3,147.8 647.8,147.9 648.2,148.2 648.7,148.6 649.1,149 649.6,149.6 650,151.1 650.5,153.1 650.9,155.3 651.4,157.5 651.8,159.7 652.3,162.2 652.7,164.8 653.2,167.3 653.6,169.5 654.1,171.5 654.6,173.4 655,175.2 655.5,176.8 655.9,178.4 656.4,179.8 656.8,181.1 657.3,182.3 657.7,183.5 658.2,184.7 658.6,185.9 659.1,187.1 659.5,188.5 660,190.3 660.4,192 660.9,193.4 661.3,194.1 661.8,193.9 662.3,193.2 662.7,192 663.2,190.6 663.6,189 664.1,186.4 664.5,182.9 665,179.3 665.4,176.1 665.9,172.8 666.3,169.6 666.8,166.8 667.2,164.4 667.7,162.2 668.1,160.2 668.6,158.5 669,157.3 669.5,156.8 670,156.6 670.4,156.4 670.9,156.3M671.4,162.7 671.9,164.1 672.3,165.7 672.8,167.5 673.3,169.4 673.7,171.3 674.2,173.6 674.6,176.3 675.1,179.1 675.5,181.4 676,182.8 676.4,183.8 676.9,184.6 677.4,185.3 677.8,186.1 678.3,187 678.7,188.2 679.2,189.8 679.6,191.7 680.1,193.8 680.6,195.7 681,197.4 681.5,199.2 681.9,200.9 682.4,202.4 682.8,203.4 683.3,204.1 683.7,204.6 684.2,204.8 684.7,204.3 685.1,202.3 685.6,199.9 686,197.3 686.5,194.1 686.9,190.6 687.4,187.3 687.9,183.6 688.3,180.4 688.8,178.4 689.2,176.7 689.7,175.1 690.1,173.8 690.6,172.8 691,172.2 691.5,172 692,172.2 692.4,172.8 692.9,173.5 693.3,174.4 693.8,175.3 694.2,176.8 694.7,178.5 695.2,180.2 695.6,181.7 696.1,182.9 696.5,184.1 697,185.2 697.4,186 697.9,186.3 698.3,186.2 698.8,186 699.3,185.6 699.7,184.9" fill="none" stroke="#000" stroke-width="5.0" stroke-linecap="round" stroke-linejoin="round"/><path d="M81.6 179.4V187.1" stroke="#8a2be2" stroke-width="4.6" stroke-linecap="round"/><path d="M93.3 157.1V170" stroke="#ff1493" stroke-width="4.6" stroke-linecap="round"/><path d="M98.4 168.3V176.9" stroke="#8a2be2" stroke-width="4.6" stroke-linecap="round"/><path d="M166.1 160.6V172.6" stroke="#8a2be2" stroke-width="4.6" stroke-linecap="round"/><path d="M199.9 186.3V196.6" stroke="#8a2be2" stroke-width="4.6" stroke-linecap="round"/><path d="M199.9 180.1V180.5" stroke="#8a2be2" stroke-width="4.6" stroke-linecap="round"/><path d="M217.1 177.7V191.4" stroke="#8a2be2" stroke-width="4.6" stroke-linecap="round"/><path d="M250.5 157.1V168.3" stroke="#8a2be2" stroke-width="4.6" stroke-linecap="round"/><path d="M267.6 190.6V201.7" stroke="#8a2be2" stroke-width="4.6" stroke-linecap="round"/><path d="M270.4 173.4V187.1" stroke="#00ffff" stroke-width="4.6" stroke-linecap="round"/><path d="M276.7 158.9V176" stroke="#ff1493" stroke-width="4.6" stroke-linecap="round"/><path d="M301.2 171.7V182.9" stroke="#8a2be2" stroke-width="4.6" stroke-linecap="round"/><path d="M368.7 179.4V194" stroke="#ff1493" stroke-width="4.6" stroke-linecap="round"/><path d="M402.9 160.6V170.9" stroke="#8a2be2" stroke-width="4.6" stroke-linecap="round"/><path d="M419.9 200V202.2" stroke="#8a2be2" stroke-width="4.6" stroke-linecap="round"/><path d="M420.8 188V200.9" stroke="#00ffff" stroke-width="4.6" stroke-linecap="round"/><path d="M436.7 172.6V187.1" stroke="#8a2be2" stroke-width="4.6" stroke-linecap="round"/><path d="M453.9 154.6V167.4" stroke="#8a2be2" stroke-width="4.6" stroke-linecap="round"/><path d="M521.1 170V181.1" stroke="#8a2be2" stroke-width="4.6" stroke-linecap="round"/><path d="M538.3 164.9V176.9" stroke="#8a2be2" stroke-width="4.6" stroke-linecap="round"/><path d="M552.3 203.4V217.1" stroke="#ff1493" stroke-width="4.6" stroke-linecap="round"/><path d="M555.1 183.7V194" stroke="#8a2be2" stroke-width="4.6" stroke-linecap="round"/><path d="M589.4 178.6V192.3" stroke="#8a2be2" stroke-width="4.6" stroke-linecap="round"/><path d="M657.1 171.3V184.1" stroke="#8a2be2" stroke-width="4.6" stroke-linecap="round"/><path d="M673.9 165.6V179.9" stroke="#8a2be2" stroke-width="4.6" stroke-linecap="round"/><path d="M690.7 171.3V182" stroke="#8a2be2" stroke-width="4.6" stroke-linecap="round"/></g>
<g clip-path="url(#c3)"><path d="M69.3 280.7H87.7M93.3 280.7H112.2M122.9 280.7H138.2M145.2 280.7H148M152.2 280.7H176.1M245.2 280.7H261.2M267 280.7H287.9M294.9 280.7H315.7M322.3 280.7H346.6M406.6 280.7H427.7M434.1 280.7H454M462 280.7H483.1M489.8 280.7H512.3M520.5 280.7H542.1M548.4 280.7H569.6M637.6 280.7H663.5M669.1 280.7H696.1" stroke="#000" stroke-width="13" fill="none"/><polyline fill="none" stroke="none" marker-start="url(#bk)" marker-mid="url(#bk)" marker-end="url(#bk)" points="70.4,279.4 75.9,280.3 76.8,280 79.4,272.2 87,274.5 80.5,284 74.4,283.7 81.8,272.5 74.9,270.2 79.6,274.1 70.1,273.1 79.8,283.2 78,281.9 81.5,280.2 79.8,284.7 80,285.2 83.4,282.5 70.8,276.6 83.7,282.7 81,281.6 82.4,282.8 76.4,287 69.8,273.6 87.2,291.6 85.3,283.7 88.4,278 77.6,287.2 86.5,277.8 86.2,274.7 79.5,297.9 86.8,279.6 85,285.8 70.2,278.2 70.8,280.2 76.5,279.6 79.1,274.2 81.6,278.4 79.8,274.3 86.3,277.6 84.7,286.3 70.2,279.4 75.1,278.3 86.5,287.4 83.8,274.3 68.4,280.3 81.1,278.9 70.7,284.8 78.5,280.3 88.7,279.2 69.6,282.1 85.2,280.2 78.1,290.6 88.4,274.2 85.9,285.9 69.4,290.9 81.4,285.1 86,284.5 73.9,278.1 82.7,284.9 73.3,279.3 72.3,285.1 75,270.2 74.2,278 88.1,271.4 72.9,285.4 76.9,277.5 78.2,285.1 82.4,277.9 88.2,277.4 80.8,288.1 86,286 70.8,286.1 81.8,287.7 71.6,284.1 86.2,285.1 80.4,287.4 70.9,280.2 85.7,278.1 79,286.8 78.2,283.3 69.7,280.6 86.9,281.7 78.7,283.9 86,276.8 69.6,276.7 82.2,277.4 75.9,281.6 79.2,271.3 81,272.5 85.2,282.5 87.3,281.2 71.5,286.2 85.9,284.4 70.5,278.8 68.3,280.4 74.3,284 74,281.7 84.1,288 79.7,283.2 76.1,290 84.5,269.9 87.5,273.6 81.4,274.9 81.6,279.2 86,276 74.1,274.7 88.8,275.9 71.7,276.3 69,285 85.2,278.6 71.7,283.2 75,286.2 78.7,286 70.4,278.7 76.9,275.7 75.4,287.1 69.8,272.5 80.6,273.8 77.4,282.5 71.4,282.9 84.4,281 76.6,276.1 68.6,282.5 86.3,285.9 76.6,279.1 70,290.4 74.1,280 73.4,275.2 69,279.3 74.9,277 71.6,278.4 72.5,277.3 82.1,280 71.4,284.6 68.5,281.8 71.8,281 74.2,274.8 71.5,273 80.5,278.7 86.4,284.2 85.3,284.1 77.8,281.6 84.4,274.2 84.5,279.1 81.3,281 84.8,284.3 75.9,276.5 83.6,279.3 78.9,280.9 83.4,280.2 83.4,272.8 69.4,281.5 85.4,272.8 68.8,274.9 76.9,280.5 80.4,276.5 85.2,281.3 69.3,284.6 82,282 75.2,285 68.9,278.3 75,280.6 81.4,278 69.8,276.8 85.7,295.4 69,279.2 73,289.2 74.9,279.9 69.4,284.8 87.3,280.2 88.2,274.3 86.9,288.7 72.2,279.8 85.4,281.1 75.1,289.6 74.1,277.6 82.4,280.5 69.8,283.1 68.2,284.1 87.4,265.6 75.4,282.6 84.6,289.2 76.9,285.1 70,282.4 77.9,282.5 71.6,281.1 69.7,285.6 98.9,276.6 95.4,278.8 112.5,280.4 96.5,267.7 98.1,269.4 100.8,280.6 94.6,281.8 96.9,282.4 100.7,280.9 104.5,279.6 103.5,286 99.9,290 106.5,279.3 107.9,288.3 97.7,279.5 97.2,280 105.4,275.3 100.8,272.8 109.8,279 92.3,283.3 103.6,286.2 99.5,284.4 96.6,280.5 110.6,290.4 96.7,280.3 108.9,280.8 110.3,277.7 112.7,282.3 94.5,280.2 95.4,284.2 93.8,282.9 98.9,289 111.4,280.1 105.8,273.4 95.4,279.9 94.3,279 108,285.3 105.3,274 92.1,284.3 104.6,276.9 96.1,280.2 98.3,285.2 94.2,275.9 113.2,280.6 101.8,279.9 105.2,278.6 96.4,280.8 100.1,282.5 105.8,278.5 108,282.6 111.4,280.4 97.3,283.8 97.2,287.7 100.6,283.9 98.6,283 109.5,280.6 100,275.1 100,288.7 102.8,280.1 104.1,291.1 99.6,285.6 92.2,283.1 107.7,291.3 94.5,289.4 110.3,280 97.3,280.3 97.5,281.2 103.5,284.5 111.4,270.6 100.2,281.5 102.3,284.8 100.9,272.8 94.4,277.8 98.2,282.4 111.6,275.1 112.1,280 97.5,277.7 111.7,279.6 92.4,285.5 107.4,276.1 92.6,279.9 101.1,285.5 100.9,284.3 101.3,276.2 112.1,282.4 99.6,280.5 92.4,277.6 94.4,280.1 108,287.9 94.8,277.7 93.3,276.3 96.2,276.6 112.9,273.1 101.5,279 95.2,277 106.1,273.2 100.1,282.1 103.8,272.5 113.3,272.5 107,277 103.5,272 113.3,276.7 102.8,284.8 101.7,275.3 110.2,279.2 112.5,278.8 107.4,280 99.8,274.3 100.6,278.1 92.2,284 97.2,278.4 108.6,295.3 102.5,284.1 110.3,282.7 106.3,282.5 104.1,283.6 109.2,279.1 102.7,275.9 106.3,271.8 102.5,275.1 99.6,275.9 108.4,275.3 93.6,274.4 112.9,282.5 112.5,277.4 109.8,279.2 102,281.3 101.6,282.8 100.6,283.1 101.8,282 96.8,286.5 109.1,278.2 110.8,280.8 102.7,280.2 110.2,279.1 98.3,277.3 110.4,283.5 112.8,281.2 106.3,288.3 112.6,291.1 107.5,289.8 106.8,273.5 102.1,289.3 93.3,278.5 94.7,273.7 109.7,282.9 95.9,273 106.7,272 95.5,276.3 108.2,269.5 112.4,277.8 105.2,284.1 92.9,278.2 107.8,282.8 102.2,286.8 110.5,286.7 95.2,269.8 98,283.2 111.6,280.8 109.9,283.8 111.4,280 103.2,281.8 106.4,282.6 111.9,286.4 106.1,287.3 93.9,284.2 95.4,279.3 92.1,270.9 94.4,275.7 92.6,272.1 100.3,278.3 105.2,281 110.4,272.9 100.8,280.6 95.5,290.7 111.4,282 111.6,273 112.9,279.1 92.6,275.3 104.7,282.4 105.5,287.1 103.4,282.9 96.1,282.5 111.7,274.9 103.5,271.3 92.8,284.1 99.4,282.3 107.6,281.3 96.4,282.2 108.6,304.2 96.5,280.2 129.5,279.9 125.8,280.7 129.4,284.1 138.1,283.1 133,278.4 123.6,271.5 129.1,285.9 130,283.8 122,283.7 138.7,280.7 137.9,279.6 123.5,280.1 131.5,283.6 127.3,280.4 125.5,286.9 126.6,294.1 122.7,280.8 133.9,288.3 128.2,285 134.1,286.2 136.2,277.6 131.9,286.2 127.8,279.2 124.2,282.8 133.3,286.4 133.7,288 135.6,278.4 124.2,278.7 122.5,276.9 137.3,272 132.5,279.3 123.4,279.3 134.3,281.2 122.7,280.1 132.9,282.2 131.5,284.8 134.4,271.2 123.4,289.4 137.8,279.4 138.4,278.5 139.2,279.9 135.3,285.2 127.2,281.5 139,282.8 132.6,285.7 134.4,280.9 133.4,282.6 125.4,283.3 136.8,277.4 133.2,285.7 125.6,278.6 128.4,283.6 124.3,278.7 129.4,280.4 139.2,279.6 128.5,285.3 128.7,301.4 135.9,284.7 123.2,279.9 123.8,277.2 134.9,275.6 124,283.1 132.5,280.3 136.2,288.3 131.7,291.1 123.1,284.8 125.4,283.9 131.3,288 138.6,289.1 133.3,278.2 134.1,284.5 132.3,288.6 127.5,269.9 132.5,280 121.9,282.3 129.1,277.6 136.1,284.3 125.3,273.3 133.2,288 134.5,286.9 124.5,281.4 136.9,284.4 126,274.2 138.8,288.3 127.8,284.2 132.5,279.7 138.5,278.2 136.2,276.1 130.3,279.2 125.2,270.5 132.6,283.1 132.1,280 122.8,276.8 128.5,282.3 138,282.2 131,283 124.9,283.9 133.1,286.2 129.8,283.5 137.9,288.1 130.4,279.1 122.2,288.3 124.6,271.2 124.8,272.9 138.6,275.7 128.1,281.9 127.9,283.6 139,292.9 125.4,280.1 132.7,278.3 138.5,284.3 137.8,275.9 124.6,284.7 130.1,280.4 126.2,289 134.1,284 126.1,278.6 124.8,283 126.5,283 124,277.2 134.4,281.3 126.7,275.1 128.8,310.1 126.6,278.3 128.4,278.6 127.1,288.2 128,287 134.3,276.8 124.8,285.9 133.9,283.9 127.9,278.1 123.4,282.5 123.8,278.7 137.7,285 122.5,279.6 126.6,275.9 137,279.4 123.1,291.2 125.5,277.9 126.5,280.7 136.5,285.2 123.8,274.4 138.5,289.1 123.8,272.2 131.7,283.9 135.4,273.6 131.6,281.2 130.7,287.2 129.5,280.5 126.2,279.4 139.3,278.4 128.9,276 133,285.2 132,278.6 138.8,277.5 126,282.2 124.5,285.3 137.6,285.4 130.7,277.4 148.2,271 144.8,284.1 149.2,278.9 144.3,283.4 147.9,277.1 144.8,278.8 146.8,281.9 145.9,289.1 148.6,283.2 145.4,275.2 147.7,282 148.9,296.2 144.3,283.1 147.7,289.5 144.4,278.8 148,279.3 148.5,283.5 144.7,282.5 148.6,279.5 146.3,283.6 145.6,303.9 149,281.8 146,291.8 145.1,281.5 145.7,283.6 148.7,284.7 149.1,278.9 146.4,283.1 146.6,278.3 147.1,275.7 148.4,280.1 144,288 148.1,284.2 149.1,276.6 146.1,282 146.3,284.6 149,281.2 146.1,278.5 146,279.6 148.5,277.8 146.5,284.6 147.4,282.1 145.5,282 147.5,280.9 145.9,290.5 148.1,281.9 172.1,282.2 165.8,282.2 168.4,280.7 156.2,285.8 155.3,285.3 172.3,277.8 156.9,276.9 162.5,283.5 174.3,287.6 154.9,270.1 168.9,275.7 157.6,279.2 167.5,285.7 172.5,283.6 172.6,279.7 171.5,285.3 164.6,273.4 165.3,280.2 155.5,279 154.1,285.6 170.7,285.1 152.4,284.5 175.5,279.6 155.9,282.1 170,282.2 162.8,279.4 167.1,279.8 170.9,274 158.8,281.8 172.7,285.6 170.9,280.9 166.3,274.1 166.1,283.4 161.1,320.8 176.5,282.5 161.2,315.1 157.4,279.7 165.7,284.6 175.2,281.9 175.4,276.5 166.2,275.8 161.3,276.6 170.7,276.9 165.7,282.4 172.7,282.5 172.9,276.6 169.5,286.3 176.6,281.1 168.1,289.5 176.7,282.6 168.2,284.1 156.8,286.4 167.5,278.2 171.2,284.3 162.2,282.6 155.4,282 160.3,284.3 171.6,274.3 156.5,283.1 151.3,279.9 174.1,286.9 176.6,283 173.9,282.3 172.1,282.3 170.2,283.6 165.5,280.2 168.2,273.6 170.6,281.5 159.7,281.5 156.4,282.7 169.3,269.1 166.9,273.4 177.1,278.3 161.9,277.6 161.9,284.1 154.2,281.6 151.4,279.9 154.7,280.3 166.6,284.8 176.4,284.5 154,278.5 155.2,279.4 169,290.6 159,280.4 152.2,275 174.4,283.8 154.9,279.7 162.5,287.6 170.9,277 171.5,286 176.2,286.6 166.6,282.3 154.9,269.9 153.1,283.7 167.9,286.7 165.1,278.7 157.6,279.8 155.4,273.2 160.2,286.7 158.6,288.2 160.3,282.3 160.3,279.1 170.8,279.2 163.2,275.8 173.3,287.7 164.2,284.7 158.7,281.5 175.3,277 168.2,278.6 173.2,282.8 157.2,285.6 176.6,276.8 167.7,276.5 160.9,307.6 157.6,281.7 153.6,273.3 151.9,286.4 156.2,283.3 159.2,284 165,283 161.5,284.9 152.2,283.3 154.8,281.1 151.5,282.9 152.1,277.8 158.8,281.2 167.8,280.8 155.1,274 174.3,279.4 177,280.1 167.2,280.9 152.3,280.6 155.8,278.2 164.5,284.5 175.6,275.6 176.8,273.6 170.4,275.5 174.4,283.1 153.6,288.2 164.4,282.9 163.6,280.1 156.7,277 165.9,281.7 165.8,282.2 176.6,286.3 152.8,283.9 158.9,275.9 155.5,276.7 156.9,274.2 159.4,279.6 160.7,283.4 176.2,285.2 159.7,289.4 163.7,288.1 155.4,278.9 156.8,282.6 156.7,279.6 166,285.7 158.9,282.3 158.3,282.1 164.8,288 151.5,288.5 173.7,278.8 152.4,280.2 161.8,285.1 177,281.3 155.4,277.8 152.2,272.4 163.8,284.9 167.6,278 161.1,312.3 156.8,280.5 169.2,274.1 166.5,292.8 160.2,274.2 167.2,280.9 173.1,289.5 164.6,277.2 161.2,311.8 167.2,275.3 164.3,275.3 153.6,281 174.8,284.3 154.3,283 170.5,281 162.4,279 171.6,283.1 164.8,280.6 172.6,276.8 163.4,279.3 157.5,270.3 171.3,270.9 172.8,286.1 164.2,283.5 175.4,286.9 169.6,286.2 175.5,278.3 156.2,285.4 175.8,285.7 171.2,282.1 175.8,277.1 160.2,282.5 165.6,282.5 174.5,276.6 168.7,278.7 158.6,278.7 158.6,276.5 175.9,285.5 168.7,279.8 152.4,283.8 157.8,276.1 165.7,277.1 156,285.7 163.3,274.7 168.6,286.2 153.2,275.4 157.7,279.9 174.2,284.9 152.1,286 154,282.2 172.6,280.9 168.8,284.1 163.4,278.2 173.6,287.3 156.5,280.9 151.2,280.8 172.4,289.5 167.8,279.4 159.9,286.7 166.3,292.4 153.2,283.7 159.3,281.9 166,276.7 173.2,283.1 159.4,274 152.6,274.2 257.1,278.3 255.1,279.5 245.6,274.7 245.3,251 246.7,282.6 253.1,282.6 255.6,272.4 262.3,290 260.6,279.6 257.6,278.9 251.1,280.6 250.3,270.5 256.8,275.6 250.4,277.4 258.1,284.8 257.4,278.6 246.2,282.5 258.8,280.6 245.7,279.9 249.8,283 261.9,278 256,273.6 259.8,276.2 261.1,279.9 248.9,322 258.6,276 250.9,276 245.2,281.7 246,282.9 246.3,277.9 255.6,284.4 255.8,277.3 259.6,285.6 249.4,284.9 258,280.7 248.9,318.8 249.8,280.8 256.1,278.4 251.2,286.6 262.4,276.7 249.8,283.2 248.4,278.3 260.2,279.8 260.1,282.8 247,283.1 250.2,288.3 253.4,283.8 245.2,284.2 250.8,273.5 258.2,276.2 258.1,286.8 246.7,277.2 249.6,297.3 248.9,313 256.6,278.7 246.4,277.2 262.1,283.2 246.1,281.9 253.7,280 256.9,285.1 261.4,279.9 255.3,281.1 259.7,283.7 253.8,284.4 248.1,279.4 251.7,276.9 255.2,279.3 253.8,266.8 258.4,277.4 253.9,280 251.1,278.1 253.5,275.6 253.6,284.7 244.2,281.3 250,283.3 254.5,284.6 257.1,271.9 251.9,276.6 257.7,296.1 253.3,278.8 250.8,283.2 248.5,275.7 258.7,280.3 261,281.5 257.4,280.1 248.1,279 257,280.6 253.3,281.7 261,281.3 244.1,278.5 258.2,285.7 252.6,280.7 259.7,281.2 255.1,282.8 244.1,277.5 256.7,286.4 253.8,282.3 248.4,284.5 246.2,278.3 251.3,282.8 254.3,280.5 252.8,279 244.3,287.7 246.7,278.7 256.5,284 254,281.8 257.7,281.2 251.6,277.1 248.7,311.4 258.7,272.9 248,279.9 245.1,282.8 250.8,282.9 252.3,277.8 247.8,273.7 261.6,279.2 248.3,283.2 246.2,279.5 256.2,279.6 246.6,280.6 249.2,284 251.6,291.9 249,283.1 256,276.1 246.6,279.8 255.9,290.4 246.1,280.7 254.7,288.8 262,272 258.5,279.9 261.4,286 254,277.2 246.9,284.1 250.8,278.2 258.3,280.6 246.4,285.9 256.2,277.8 249.9,286.6 260.9,274.8 250.4,280.4 249.9,285.2 249,288.7 253.9,273.6 261.5,274.3 253.9,286.2 257.6,273.5 253.6,280 245.5,281.7 254.8,281.1 254.9,281.9 255,274.4 249.5,296.9 248.9,320.3 250.1,271.5 244.6,276.8 247,285.5 249.3,282.3 253.4,284.7 260.8,280.5 256.9,279 253.5,279.7 257.2,283.3 252.2,284.2 244.9,277 256.6,281.1 283.7,271.4 273.1,283.2 283.2,279.1 276.3,283.1 288.6,283.5 276.9,282.4 266,283.5 287.2,288.5 272.2,289.7 285,283.9 280.1,279.9 283.2,274.9 283,283 286.9,281.3 285.2,277.5 280.9,277.1 273.4,281.1 277.3,280.8 272.3,271.9 273.6,282.1 276.5,282.8 275.7,288 272.5,278.5 272.9,281.7 273.1,271.7 270.2,323.7 279.4,276.8 267.9,276.2 271.6,272.9 269.8,286.6 282.3,273.3 272.3,280.5 268.1,281 285,282 276,282.4 284.6,282.1 273.3,291.3 273.9,278.2 278.8,280.2 267.4,284.9 288.6,280.8 268.9,270 287.1,278.8 281.2,282.3 283.6,272.7 270.7,284.2 286.6,281.2 278.3,283.1 275.4,281.6 270.3,318.3 269.8,277.9 285.9,283.9 288.4,281.1 275.5,280.1 282.7,282.4 282.1,280.7 277.3,283.9 277,283.9 278.7,280.3 273.9,285.3 283.2,278.6 275.5,281.4 277.6,284.8 270,320.4 288.6,282.7 267.6,281.3 282.5,280 281.2,281.5 273.8,284.5 288.6,274 266.6,276.4 272.1,280 273.7,276.2 280.8,279.1 279.6,281.7 282.4,280.2 285.9,268.4 266.2,276 278.9,275.8 275.1,282.4 281.9,277.8 278.1,270.2 273.9,278.6 265.9,275.7 273,274.8 276.2,277.6 273.6,273.4 274.6,279.5 281,278.3 273.6,283.4 285.7,268.5 274.2,279.2 275.9,280.1 275.9,274.2 286.9,282.8 279.9,280.6 288.3,284.1 265.9,280.5 288.1,282.3 270.3,317.8 286.7,281.1 266.8,283.3 285.8,281.9 280.6,281.1 281.8,282.9 274.9,276.3 274.8,277.5 269.4,279.9 269.1,286 280.4,278.2 273.8,286.4 266.4,279.7 269.7,297 269.7,299.1 270.3,325.2 276.4,283.7 287.1,271.2 279.4,281.8 283.1,281.5 268.2,276.2 282,278.7 286,275.8 289,286.2 282.4,285.5 280,265.4 288.3,280.8 268.8,281.9 284.3,279.8 282.6,276.1 282.7,286 274.1,279.3 267.6,280.7 269.1,277.5 281.6,296.2 273.1,283 288,284.5 268.6,291.6 284.8,276.1 276.9,287.2 272.6,282.4 271.7,273 274,282.5 274.4,277.8 271.1,281.5 270.9,277.4 288.5,291.2 275.6,282.9 280.3,274.5 282.2,281.8 273.5,286.6 287.6,282.1 272.6,278.1 270.3,327.1 266.8,277 271.9,277.1 267.2,271 280.4,283.5 279.2,277.6 266.3,288.1 288,282.5 282.8,280.1 278.6,278.7 287.9,280.8 278.2,290.2 269.9,283.4 284,282.6 288.1,279.2 267.2,278.1 277.5,277.7 271.1,276.1 286.9,275.2 268,288.7 284.6,282.9 270.6,281.3 280.8,283.5 281.9,275.8 283.5,277.2 267,281.1 277.1,280 268.7,274.9 268.7,282.1 269.6,282 269.2,276.5 287.6,278.5 278.9,274.2 271.7,278.9 277.1,277.2 267.1,283 270.8,284.8 280.4,280.6 282,292.6 280.2,278.7 288.8,276.2 288.7,280.2 285.3,281.6 276.7,275.7 283.5,280.8 271.6,276.2 286,270.7 271.5,277.3 288.9,276.3 266.1,278.4 284.4,279.4 277.5,279.3 284.8,280.3 278,275.7 285.3,287.8 282.3,281.8 280.7,277.6 288,284.4 312.8,286.3 297.4,279.5 294.5,286.8 314.6,282.5 297.7,287.7 306.5,282.5 310.2,282.9 301.3,278 315.3,274.5 301.6,281.7 298.3,284.9 295.2,271.7 314.6,279.1 298.7,278 314.5,278 304.3,274 315.4,276.1 295.7,277.6 313.6,277.2 316.4,284.9 310.2,283.7 296.8,281.3 316.9,280.4 312.3,280.7 298.6,279.4 316.2,280.7 295.7,282.8 296.7,288.4 294.1,276.9 307.5,278.1 303.1,284.9 295.7,278.5 305.2,279 314.2,280.5 295.9,289.5 308.5,286.5 297.6,283.6 305.6,273.2 301.7,284.9 300.1,282.4 294,286 307.1,283.1 304,279.2 309.8,290.6 298,294.1 316.5,277.7 294.2,280.7 298.3,283.7 308.6,276.3 296.8,276.3 299.8,290.7 305.4,281.6 311.3,275.6 313.8,284 301.1,282.3 309,276.3 294.3,282.1 314.4,286.4 309.3,284 314.6,287.1 298.6,278.2 305.2,288.9 311,276.1 294.3,288.6 313.2,280.6 310.1,287.7 312,288.5 297.5,276 311.7,275.5 306.9,274.7 297.2,281.2 296.8,280.3 313.6,279.7 303,277.9 300,282.7 302.3,275.6 309.6,279.3 296.9,275.4 297.5,278.6 308.8,277.6 314.5,284.3 309.3,282.8 315.6,286.9 300.3,282.2 301.9,281.7 302.4,276.9 302,286.7 299.9,265.6 312.1,281.4 300.3,274.9 303.4,275.9 304.7,292.7 316.8,282.1 301.4,273.9 309.7,292.2 301.3,277.2 312.3,285.1 302.7,283 294.2,279.8 305.9,289.6 301.5,279.9 299.9,283.9 300.5,284.4 293.8,277.5 310.7,264.3 306.4,279.2 308.5,278.2 306.9,281.1 302.6,284.2 304.4,279.6 304.8,273.7 315,279.9 301.8,276.6 297.3,281.9 295.7,269 301.5,288.6 307,278.1 307.2,278.3 310.6,279.6 309,286.1 295.6,286.2 302.8,282 302.3,280.4 296.3,286.6 307.4,285.9 311.7,278.4 294.7,276 306,283.5 296.5,284.1 311.7,284.3 306.7,269.2 295.2,278.6 305.7,281.2 299.3,276.1 298.5,270.1 309.2,275.4 303.1,287.6 315.2,281.3 315,282.8 313.5,282.5 303.2,286.6 314.7,282.7 295.4,286 311.7,279.3 302,280.7 313.8,287.5 294.4,288.9 307.1,283.1 295.3,277.8 300.5,278.5 306.8,281.2 296.9,296.5 309.8,283.2 305.6,284.4 298.9,282.5 306.2,286.6 304.1,282.9 294.5,284 310.2,268.1 310.3,277.6 314.8,281.8 315.6,281.1 302.3,281.4 308.6,280 307.8,282.8 294.9,281 310.5,276 300,277 303.6,279.4 308.1,274.6 305.4,279.8 300.2,285.5 314,289.1 295.9,284.2 307.7,281.2 298,279 315.2,275.8 315.4,283.6 310.3,284.7 314.2,277.2 311.5,275.3 308.9,283.1 311.1,279.3 314.8,274.4 298.7,279.4 310.6,281.1 297.9,298.6 304.4,274.6 301.6,277.8 308.4,280.3 308.5,283.1 314.6,286.8 313.2,281.4 295.2,281.4 297.7,275.7 294.8,279.2 310.2,274.1 301.7,280.7 316.3,275.3 298.7,285.5 315.9,279.3 311.3,275.1 311.4,280.3 307.8,287.8 314.2,282.4 299.2,278.4 313.9,287.5 314.2,287.7 331.1,291.4 334.4,272.8 335.9,288.5 340,284.5 329,277.5 339,283.3 327.3,282.4 342.2,290.8 327.3,282.5 323.1,279.5 322.2,277.4 337.1,281.8 329.7,279.5 336.4,278.5 329.4,283.6 332.8,284 344.3,271.5 345.7,284.4 322.3,274.8 346.4,280.2 334.6,273.7 340.8,283.4 345.9,278.1 326.2,279 331.3,281.5 344.8,279.1 335,284 345,280.9 343.5,282.3 347.7,277 338.7,280.9 322.9,286.9 345.2,282.2 326.1,280.9 325.3,284.7 331,274.4 326.7,278.6 324.9,288.8 338.1,284 345.4,282.3 328.2,275.8 331.1,287.1 338.2,278.8 329.1,280.1 334.3,282.8 345.4,280.1 324.3,285.5 335.4,279.5 326.8,286.1 341.7,286.4 326.7,274 342.7,283.7 331.9,290.3 345.9,276 330.8,284.1 334.3,296.8 324,280.8 328.5,276.2 332.2,278.9 344.9,272.5 336.8,281.1 342.7,277.7 343.9,285.1 323.5,279.7 329.5,273.4 343.3,278.2 341.3,279.7 336.2,289.6 331.9,282.2 334.4,286.4 321.5,276.9 324.6,283.9 330.6,278.8 324.9,285.1 327.3,271.8 342.6,285.9 341.6,279.8 340.6,268.3 336.2,279.5 345.7,284.5 327.3,277.6 337.7,275.9 332.3,276.4 346.2,289.6 330.3,279.5 327.5,290.3 341.6,271.7 342.7,280.1 340.3,282.6 342,277.4 326.3,278.2 337.3,286 335.4,272.9 345.4,281.6 331.7,288.6 327.7,274 329.3,273.4 334.8,274.6 347.3,277.9 339.7,284.6 340.3,276.1 333.6,271.8 331.7,276.7 345.9,273 333.1,284.1 324.5,275.7 341.9,276.1 326.5,287.4 331.5,288 337.4,283.8 343.3,280.1 321.3,278.4 338.5,281.5 324.8,280.8 338,281 337.2,280 334.9,277.7 332.5,278.1 335.5,280.7 346.6,279.2 330.5,282.6 333.7,276.7 325.1,282.8 331.5,272.8 322.5,280.6 345.4,279.2 330.3,284 346.1,282.1 324.7,279.7 338.8,280.4 337.2,283.4 338.7,285.9 342.3,280.3 323.1,279.7 340.8,277.9 321.8,274.6 329.2,281.9 343.7,289.8 336.3,281.1 345.9,289.1 344.1,286.5 332.4,275.6 328.6,277.8 326.6,283.5 322.3,283.4 340.2,280.9 342.6,288.7 322.4,278.2 334.2,282.1 343.3,271.8 338.2,285.4 332.2,275.7 346.4,283.6 332.4,275.7 329.5,285 334.4,277 330.4,282.5 331.6,284.3 334.4,281.1 323.2,278.2 337.2,278.5 336.7,273 340.1,276.6 327.6,292.8 322.2,282.3 340,289.8 331,282.2 337.1,277.5 328.4,286.7 330.4,286 328.1,279.8 334.3,281.8 338.4,273 327.4,278.9 329.6,277.9 333.5,272.2 339.7,282.8 331,280.4 322.8,285.1 335,279.2 333.2,275.6 347.7,274 336.6,280.6 322.4,283.8 338.3,284 323.3,287 331.1,279.9 322.1,274 337.1,291.5 325.7,290.6 346.3,273.8 326.3,288 346.9,278.9 345.5,286.3 334.9,276.7 333.5,276.7 331.5,279.6 341.1,276.5 326.1,280.2 330.6,277.8 322.7,271.8 332.5,275.2 326.2,283.5 345.6,284.2 333.1,281.5 327.1,281.5 328.4,280.1 325.9,283.2 323.5,277.3 322.6,280.2 340.2,278.7 323.9,280.4 343.6,277.5 346.9,286 345.5,273 325.8,278.8 342.3,278.3 337.1,277.5 346.3,275.3 328.9,276.9 337.3,279.3 337.6,281.2 326.2,288.1 337.1,279.4 340.5,281.8 342.6,281.8 343.9,269 321.9,289.1 341.3,280.1 329.8,274.6 341.5,275.8 325.2,274.5 331.2,286.3 332,284.9 339.7,277.4 337.5,281.7 342.8,272.3 321.3,279.3 328.7,279.4 425.7,291.8 419.3,291.8 414.3,280.7 411.1,281.6 406.1,281.2 422.1,279.4 412.8,281.7 425.5,285.4 413,287.9 412.6,289.8 423.8,274.6 414.3,276.1 428.6,287.2 418.7,281.9 427.4,278.4 408.2,272.7 406.5,283.5 405.7,279.7 426,274.8 416.6,289.1 422.6,284.1 417.7,280.7 428.1,313.6 424.4,270.2 416.7,276.3 409.6,279.6 414.4,285.3 414.6,276.3 413.8,277.4 422.2,283.1 425.1,282.7 424.9,287.7 410,280.9 409.3,276.3 421.2,275.6 422.6,277.7 423.8,276.5 426.6,283.5 413.3,282.9 407,274.6 414.1,278.3 413,284.5 408,278.1 421.4,276.5 417.4,277.1 420.1,280 425.8,283.1 418.9,278.6 426.3,272.2 424.5,279.8 417.8,283.9 420,278.9 416.4,286.6 414.5,279.4 422.6,282 419.5,275.9 414.1,280.1 420.7,275.4 418,269.3 408,281.6 422.9,284.7 417.1,278.3 427.2,281 426.5,279.9 408,283.5 411.6,277.9 421.8,280.2 410.1,291.2 424.8,281.7 421.2,279 427.8,305.8 413.6,283.4 421.6,284.5 419.5,275 421.4,259.6 427.7,280.1 413.7,278.3 410.8,277 424.3,280.6 408.9,286 418.4,275.6 427.2,282.7 425.3,283.1 421.6,270.8 405.7,276.3 428.4,265.2 416,283 412.2,281.8 407,284.3 408.8,290 406.4,276.7 418.6,276.8 414.3,279.4 412.3,282.6 424.6,279.6 407.3,276.7 415.3,285.7 424.3,282.2 424.9,283.3 422.1,277.2 417.7,279.3 409.1,287 414.7,283.6 422.5,272 423.8,285.4 419.7,279.9 426.5,283.7 418.7,274.5 425.3,280.9 426.7,282.7 409.3,286.4 408.8,281.8 428.6,276.6 412.3,277.3 415.9,287.1 415.3,273 425.3,281.8 405.7,285.8 416.9,280 416.2,283.7 407.7,283.4 415.9,283.7 426,281.1 406.6,283.1 411.3,289 419.7,278.1 418.2,283.2 423.3,274.8 413.4,278 408.3,277.6 414.1,279.8 424.9,274.3 415.6,282.2 414.7,285.5 423.8,279 419.2,293.9 408.6,282.4 414.3,279.6 426.8,282.7 406.1,274.5 423.3,277.2 412.6,280.1 423,282.6 409.2,275.3 420.8,284 425.6,282.7 406.9,277 427.9,311.7 407.9,270.8 405.7,281.7 424.7,289.8 417.4,277.5 406.2,274.5 420.8,281.5 417.3,273.1 428.8,272 428.4,283.9 426.1,283 417.7,286.8 424.6,278 422.7,277.2 411.8,277.7 423,286.7 412.3,284.4 415.3,287.6 407.3,288.5 408.6,287.2 417.2,288.4 425.1,281.6 424.1,278.6 409.1,277.6 418.1,280.8 412.6,283.9 410.2,280.7 414,277.9 421.4,282.1 427.2,280.4 407.7,282.2 412.3,283.2 423,280.5 417.1,286.1 414.5,275.6 424.2,288.3 405.8,278.5 427.7,287.3 411.8,273.4 425.3,276.5 425,284.6 425.1,282.9 419.9,286.2 420.6,281 406.5,278.7 415.4,268.3 420.1,287.3 411.8,274.7 421.4,283.5 418.4,279.4 421.1,276.4 425.5,278.1 413.2,278.7 420.1,281.7 406.5,280.7 424.1,280 424.6,274.9 421.6,287.8 421.6,283.1 418.6,286.7 413,285.4 424.1,284.6 408.5,275.4 419.1,270.3 453.7,277.2 440.5,281.7 450,274.7 447.3,283.9 450.2,287.5 437.4,280.7 455.2,274.8 444,283 434.5,283.5 448.1,282.2 434.6,279.7 447.3,281.3 448.9,279 437.4,288.8 435.4,273.2 435.9,277.7 447.5,284.7 449.5,273.9 453.4,278.3 440.1,273.4 435,286.2 446.9,272.5 451.5,280.3 449.1,290.5 443.8,276.8 438.9,282 449.1,285.4 452,281.5 437.8,289.9 448.7,277.7 450.1,281.5 455.1,281.8 441.2,273.6 441.6,280.3 433.8,283.7 436.4,285.1 449.5,280.8 438.9,275.3 453.2,283.3 440,285.5 450.6,276 440.9,280.2 449.8,280.6 442.7,270.9 437.6,286.4 437.4,279.5 439.3,289.1 435.5,282 452.2,277.7 453.5,275 450.6,286.7 433,276.5 452.6,276.7 450.6,281.1 451.7,268.6 447,280.5 437.5,284.8 439.5,278.4 441.6,289.5 437,272.9 433.5,265 454.2,282.4 441.6,277.5 446.4,277.9 435.3,271.1 452,283.5 449.6,286.8 433.8,290.4 437.4,281.9 449.5,288.1 434.1,281.3 433.4,278.5 435.5,282.6 436,285.1 450.1,274.7 450.3,281.5 445.6,279.4 439.7,275.9 450.4,286.8 447,285 434.2,268.4 437.1,281.3 448.4,285.6 445.5,281.7 441.7,283.3 444.7,286.5 438.3,282.5 446,280.6 435.9,280.6 454.9,277.9 451.3,288.9 444,287.8 454.7,276.7 448,282.7 445.8,274.6 447.3,279 448.5,287.3 455,277.9 450.4,285.4 438.2,279.2 434.2,274.6 453.4,270.3 449.3,280.8 445.9,277.1 443.8,279.1 454.1,276.7 433.8,292.9 436.3,282.4 439.9,279.1 455.1,278.2 448.4,284.2 446.3,276.5 440.5,275.2 436.4,280.2 433.2,281.6 436,282.2 436.7,279.8 444.3,274.8 441,273.2 454.7,282.8 453.4,285 445.3,284.3 436.6,275.7 439.9,279.4 433.5,279.1 447.6,278.2 441.5,278.7 453.6,281.1 439.9,285.5 451.9,283.5 441.7,279.9 447.5,278.6 440.8,282.3 450.9,282.5 437.9,273.9 436.4,282.8 434,279.4 441.4,282 449.3,284.7 443.2,287.8 451.7,283.1 446,284.5 444.8,276.4 444,286 433.8,282.5 446.1,277.3 437.1,281 434.7,278.1 435.1,276.5 436.5,288.5 446.7,282.5 439.3,285.1 439.4,297.8 442.1,281.1 454.2,278.1 438.6,272.3 439.6,282.2 438.5,280.1 439.9,278.5 439.5,281.8 451.4,274.5 454.7,276.6 441.6,275.7 452.2,280.3 435.2,282.2 443.6,282.2 451.2,282.3 434.9,288.4 455.2,278.8 441.8,276.6 444,280.6 454,282.9 453.4,280.3 437.5,279.4 443,278.9 449.3,271.9 443.1,284.6 453.9,278.8 437.3,277.2 454.7,280.1 446.7,281.6 446.6,285.4 448.1,283.4 438.8,277.1 442.8,273.6 437.7,283.7 450.9,296.3 440.3,278 436.1,275.7 452.7,279.3 440.5,278.4 454.1,276.2 442.8,286.1 447.4,284.9 450.4,288.9 444.4,289.9 454,284.4 450.9,287.9 452.8,278.1 444.7,275.8 435.8,282 467.4,280.9 474.7,286 465.4,286.7 461.3,284 466,282.3 473.5,283 477.6,276.9 478.2,286.2 474.1,278.8 474.9,273.8 473.1,276.5 479.5,286.1 476.1,294.6 476.9,276.7 482.1,278.4 463.6,283.5 461.7,274.7 473.3,282.6 471.3,280.2 482.2,285.6 468.1,279.2 476.7,282.7 477.2,283.1 466.4,275.6 461,279.7 470.7,287.7 465.6,277.4 465.3,276.8 471.6,284.6 465,282.5 474,280.4 475.3,281.9 471.9,280.1 474.1,277.6 465.5,283 474.3,270.9 480.9,284.1 480.8,283.2 463.4,271.4 468.4,269.5 477.7,280.5 474.7,281.6 469.9,285.8 480.4,275.3 481.9,279.9 474,284.7 466.7,278.8 483.5,274.2 472.1,277.5 468.9,279.4 463.8,275.2 483,278.6 477.1,280.9 462.5,278.1 465.1,275 482.6,276.7 462.6,275.7 476.7,279.7 474.2,277.1 472.6,275 477.1,281.5 468.7,286.8 475.5,272.6 481.4,278 474.3,282.8 473.2,279.6 475.2,281.9 465.2,288.7 468.7,281.6 477.7,287.4 474.2,279.7 463.6,281.2 481.2,275.4 470.5,281.3 466.6,278.9 464.3,282.1 482.6,282.5 478,287.3 468.1,276 465.3,279.9 480.8,283.4 464.3,279.7 473.1,282.7 476.5,284.1 482.9,279.5 477,275 463.3,282 473,287.4 482.3,283.6 467.2,272.2 462.9,284.5 462.2,275.1 480.4,281.8 482.8,277.2 471.7,281.2 468,288.1 470.2,282.6 465,270.8 471.1,281.3 471.9,278 473.4,282.3 463.3,281.3 483.7,279.2 475.5,278.5 474.3,270.3 480.3,280.8 461.9,281.5 474.6,283.8 469.5,286.9 475.9,288.3 482.9,277.6 462.4,289.5 464.9,274.1 469.1,276.7 473.4,282.1 480.3,286.1 478.1,280.6 473.7,280.6 465.3,275.4 472.7,284.2 471.2,282.5 463.5,280.9 482.3,282 480.6,283.6 475.2,288.8 466.6,288.4 474.4,283.9 468.4,281.7 476.1,276 461.7,269.8 475,272.6 474,278.8 482.6,271.8 474.2,281.2 479.2,283.2 466,269.8 473.8,285.7 468.4,282.6 484,281.9 483.3,273.8 466.6,283.5 475.5,277 462.5,282.6 473.7,286.4 484,279.6 464.1,279.9 478,286.1 472.9,284.8 484.2,284.4 470.4,276.1 480.3,278.5 474.8,279.6 479.6,278.4 480.9,282.9 476.1,278.4 469,283.5 474.8,286.9 479.4,284 480.1,279.7 475.7,280.3 471.5,275.7 462.8,288.6 463.5,281.7 476,278.8 470.1,285.2 476.7,279.5 473.1,282.6 470.2,286 465.6,275.4 480.7,287.2 467.2,276 475.7,282.6 463.2,285.1 483.5,284.8 464.4,284.1 472.7,284.7 479.9,279.4 466.3,289.5 476,274.8 470.4,276.7 483.5,274.1 463.9,285.3 465.3,291.6 473.6,283.6 476.8,281.5 474.4,279.2 465.1,283.1 472.3,281.1 462.3,280 476.7,287.9 468.5,272.2 483.4,285.9 470.2,279.4 462,275.6 461.1,284.3 468.6,280.6 467,273 483.2,282 479.2,275.7 469.5,279.3 466.9,279.6 462.4,277.3 463.7,281.7 478.3,281.6 462.1,276.1 479.3,279.4 470.1,278.3 476.9,286.3 475.3,280.6 463.4,274.9 478.6,276.4 498.9,292 491,279.9 497.4,274.3 502.7,282.1 495.8,269.9 488.7,319.4 499.3,285.7 507.5,302.9 498,279.4 507.9,263.6 498.2,281.9 502.3,274.7 496.1,283.5 490.7,280.2 508,286.7 501.4,284.6 508.4,279.9 508.1,283.9 508,283 498.1,281.8 495.9,279.6 494.2,277.2 500.2,277.2 503.6,276 510,279.8 513.4,283.4 506.7,288.3 502.7,282.5 495.8,284.6 503.1,289.4 495.6,273 510.3,289.6 494.2,279.1 498.8,278.2 494.2,281.9 494,268.5 507.6,280.7 493.6,284.5 496.6,272.4 489.7,284.6 511.3,305.3 511,285.6 497.9,279.6 511.5,280.6 494.3,287.3 494.9,288.1 502.4,279.1 494,270.2 511.2,299.9 512.8,281.4 491.6,277.5 499.7,275.1 499.1,284 513.2,285.4 513.1,285.6 490.1,275.6 512.4,276.5 504.7,291.1 500.3,291 499.4,286.7 509.9,288 491.8,278.9 498.5,279.8 491.1,289.1 498.5,277 508.5,280.2 509.3,275.2 492.1,285.1 494.8,287.5 506,280.6 492.9,276.3 489.8,288.5 510.2,276.5 489.2,276.7 510.8,283.2 503.5,280 498.4,282.1 496.1,280.4 498.4,276.9 510.9,284.6 503,275.8 492.2,276.6 502.6,276.5 496.3,290.2 511,289.7 492.5,277.5 500.9,283.6 489.2,284.1 495.1,284.5 506.2,287.2 503.9,282.2 511.5,284.3 492.4,283.9 500.2,278.5 491.1,304.4 505.9,275.4 491.2,291.4 511.6,268.8 500.7,287.3 502,278 497.7,276.4 498.5,265.4 510.3,277.2 507.5,281.3 498.2,289.2 508.9,279.2 498,275.3 490.6,283.4 494.3,288.9 499.1,283.7 499.6,279.3 492.9,279.4 506.1,275.5 494.5,278.1 504.8,278.4 501.7,290.4 504.7,270.1 510.8,280.6 506.3,276.7 503.9,282.5 505.6,281.5 501.4,280.5 513.3,273.3 508.9,273.5 492.5,277.8 492.4,271.3 499.4,282.7 511.5,278.3 492.1,283 494.5,274.6 513.5,280.6 507.2,276.1 502.1,272.5 492.7,290.7 489.4,270.4 496.8,279.2 493.3,282.3 510.6,290 501.5,282.2 501.2,291.8 503.8,280.3 500.9,281.6 494.5,272 506.9,282.3 507,275.6 511.2,293.4 500.7,270.8 491.8,282 512.6,277.1 488.9,288.1 492.5,286.1 506.2,282.1 510.1,280.9 512.1,286.6 503.4,282.7 495.5,277.4 489.3,282.9 506.9,281.5 504.6,285 491.5,274.1 507.2,272.2 512.2,279.8 493.2,281.3 503.6,272.7 499,278.4 503.9,284 491.5,287.2 510.9,283.6 495.9,270.1 504.6,283.6 494.4,266.8 493.1,280.7 512.5,281.8 495,274.3 512.4,281.9 510,278.9 502.5,285.7 502.6,286.7 489.3,284.3 507.8,279.6 505.6,283.9 503.2,290.2 508.8,278.4 500.3,281.5 498.1,282.1 507,283.7 500.9,291.6 503.7,273 492.4,283 493.6,278.2 493.1,274 508.6,275.3 513.3,279.7 512.8,280.7 502.3,279.2 508.1,276.3 491.6,277.9 496.8,282.9 512,278.5 496,278.9 492.5,277.4 499.4,279.7 507.7,274.1 513.2,279.7 489.4,276.4 504.4,280.5 509.5,283.5 508.9,285.3 511.5,281.5 504.7,278.1 509.7,274.6 498.6,281.1 503.3,283.2 502.3,283.2 499.6,274.5 499.7,280.2 506.2,283.1 492.3,277.1 509.3,287.1 506.3,280.1 493.6,280.9 497.3,281.4 509.5,286.3 499.1,276 521.1,281.5 524.3,273.8 529.4,278.7 521.1,272.2 527.6,286.7 519.9,273.7 538.7,283.5 535.6,275.2 525.5,282.9 531.9,276.4 528.7,282 539,289.6 526.4,285.3 525,281.8 538,280.6 537.5,291.3 536.2,286.4 520.8,284.2 520.3,281.7 541.7,279.7 542.7,284.6 524.2,287.9 531.1,279.3 530.4,282.3 526.1,276.5 521.2,283.2 525.4,277.6 542.4,284.9 529.9,279.4 524.2,280.3 521.1,278.6 534.8,285.1 539.5,281.3 525.3,284.7 537.4,281.5 519.8,277.7 522.4,266.5 534.7,280.5 521.6,277.3 530.5,280.2 530.9,275.3 520,278.5 539.1,275.7 537.1,279 538.3,269.3 535,274.2 526.1,288.8 536,279.3 533,280.3 534.3,291.1 537.4,284.8 526.2,282.9 541.3,284.2 530.4,280.1 526.9,289.2 532,277.2 542.7,277 536.2,279 521.6,282.2 525.9,280.7 535.5,282.9 542.3,275.3 532.2,278.3 532.3,271.2 519.3,282.4 523,273.8 538.7,283.4 525.1,281.5 532.2,285.6 535.7,278.2 533.6,281 537.7,277.7 534.8,273.6 526.7,280.9 533.4,278.9 536,276.4 521,281 542.5,283.3 534.2,279 542.8,278.3 540,277 520,276.7 521.3,283.8 539.9,278.6 525.2,274.9 541.2,282.9 542.8,279 537.8,283.6 534.3,279.9 529.8,272.5 541.1,279.9 534.4,285.2 521.5,279 536.8,279.6 527.3,275.4 522.6,287.1 528.1,285 539.9,281 537.1,288 528.4,275.3 539.1,290.2 532.7,284.6 527.4,287.6 521.7,283.8 535.7,276.9 525.2,277.8 531.5,276.3 525,277.8 534.5,290.3 520.7,279.2 526,289.4 534.3,283 539.6,282.5 536.8,283.2 526.2,278.3 528.8,284.5 531.3,290.7 542.1,277.8 523.6,275.1 538.3,277.1 522,276.4 539.5,280.9 522,271.4 528.5,285.6 528.2,278.5 535.3,280.6 526.9,281.7 538.7,279.2 543,284.2 536.6,276.6 519.8,277 521.6,280.2 538.6,277.2 529.1,285.6 531.6,289.2 539.6,283.4 536.5,281.8 532,268.9 526.5,281.7 521.2,275.8 522,276.7 520.6,270.7 528.9,280.1 542.1,277.6 521.9,281.6 531.7,284.7 534.1,285.4 541.9,284.4 543.2,273.9 535.1,279.3 533.2,281.4 536.3,280.6 529.8,283.3 538.1,280.8 539.4,280.8 524.5,277.6 532,276.4 526.8,288.4 522.3,279.6 529.4,274.2 533.8,285.5 531.7,281.8 528.5,279.9 532.7,275.5 531.4,293.5 519.9,281.7 535.9,278.3 538.3,275.8 530.4,278.8 535,271.9 525.1,278.7 536.8,285.6 530.2,284.3 534.7,281.3 535.5,281.6 529.7,277.7 523.8,279 541.9,272.6 539.2,276.8 528.5,273.6 528.4,284.2 539.7,282.7 537.4,277.4 526,280.2 539,277.7 527.4,279.5 539.5,283.6 521.9,272.6 542.1,275.3 528.1,288 541.4,283.5 525.2,280.5 528.3,277.4 525.4,281 533.4,287 525.4,276.7 535.5,281.6 535.6,275 537.7,279.2 530.2,275.9 529.6,276.7 525.3,276.5 531,283 532,275.8 526,279.7 532.7,286.5 523.4,282.5 529.4,282.2 527.1,278.4 532.1,277.4 537.9,285.9 520,277.2 529.9,280.9 521.7,285.6 527.8,276.7 537,284.2 560.4,283.7 557.4,270.5 555.9,277.7 567.6,282.3 559.3,283 554.5,284.2 551.2,279.7 554.3,280.6 551.7,287.2 562.9,285.5 564.7,284.1 561.3,282.7 564,282.5 564.8,283.9 560.7,278 551.7,276.6 562.3,280.5 547.8,290.7 558.4,281.6 551,278.4 563.6,281.2 563,279.7 555,280.4 561,287.6 564,292.2 559.3,278.1 553.2,283.2 549.9,279 567.7,282.2 549.3,281.6 551.9,274.8 565.6,286.2 548.4,280.9 550.6,285.8 556,280.6 550.8,278.8 548.2,278 565.5,280.2 551.3,287.1 568.7,279.8 548.4,276.9 553.7,276.4 560.7,271.3 549.6,278.4 558.5,285.4 558.7,283.2 561.4,280.5 569,276.2 556.8,286 568.6,276.8 552.4,278 562.6,284.8 557.3,278.2 565.5,284.3 559.5,280.9 567.3,282.2 550.9,279.8 553.4,286.2 560,278.5 562.2,290.6 556.2,282.7 566.1,283.4 556.1,273.8 569.2,278.5 569.1,283.1 548.2,284.9 562.3,280.7 567.5,283.7 548.4,270.9 564.6,293.3 560.9,280.6 559.4,291.9 553.7,276.2 564.5,284.5 552.4,273.7 551.5,300.9 555.5,276 570.6,280 556.8,275.6 550.6,280.8 556.6,294.2 565.3,284.1 561.9,287.8 564.1,276.7 566.7,278.5 554.1,280.9 555.4,278.8 567.4,280 556.2,283.4 559.3,272.1 566.8,279.8 562,281.7 568.7,287.4 547.6,283.7 561.8,280.8 559.2,281.7 556.9,283 554.2,281.1 556.1,285.9 566.5,280.8 558.4,287.8 552.4,284.7 563.6,284.2 566.5,277 556.8,278.7 550.3,280.5 564.8,286 563.5,282.7 563.6,277.3 547.6,275.3 550,287.5 570,282.8 560.3,280.4 553.3,279.3 548.4,280.8 558.4,277.9 554.9,287.3 550.9,273.9 562.2,286 551.5,298.6 569.5,278.5 552.7,275.6 568.2,276.8 555.6,277 554.1,275.1 565.1,281.5 559.1,277.5 550.5,273.9 567,284.2 560.2,287.1 560.6,285.3 556.1,274.5 566.7,275.3 561.7,282.4 549,279.7 568.1,278.7 560.6,276.1 553.6,289.3 548.2,283.3 548.2,282 550.1,279.4 553.3,280.5 559.7,282.2 552.5,279.5 565.8,292.3 559.6,267 557.3,277.1 557.3,276.8 552.9,283.8 559.9,278.9 552.7,271.6 554.8,272.6 559.2,280.5 562.2,286.4 554.9,280.1 564.2,282.1 555.6,277 568.8,286.5 550.7,281.6 560.8,279.6 555.6,282.9 557.9,276 550,285.9 555.2,286.3 551.7,282.4 563.1,277 565.5,282.1 565.7,283.4 568.7,277.2 556.2,279.8 562.3,283.2 569.7,280.2 559,281.9 559.5,278 562.7,280.1 547.9,284.4 567.2,282.9 557,282.6 565,279.1 550.3,279.1 558.8,284.5 560.6,281.6 565.4,279.4 561.3,275.8 561.9,279.7 569,272 553.6,280.7 557.8,277.5 568,282.3 558,285.3 561.2,280.3 559.1,278.6 570.2,279.3 563.2,280.1 565.4,282.3 548,284.5 556.5,282.1 564.8,278.7 551.2,276.5 565.6,295.6 568.9,278 565.2,275.9 564.3,275.1 553.7,279.1 550.1,277.8 569.3,282.8 557.2,281.2 568.5,278.4 562.9,285.7 569.2,284.4 547.8,279.9 656.9,282 648.6,282.5 643.6,283.3 663.9,280.9 642.5,281.7 643.6,287.8 663.1,283.4 657.9,276 660.5,274 663,281.2 663.5,283 647.5,274.4 643.4,281.5 652.3,286 647.3,281.2 645.9,277.5 652.8,273.5 661.7,282.9 651.9,278.2 646,282.2 641.8,275.4 660,279.5 654.5,279.5 642.6,285.2 659.4,282.1 638.7,282.1 638.9,297.1 644.7,276.7 658.6,280.7 651.3,281.6 656,282.3 662.1,280.5 664.3,279.6 660.2,286.6 648.8,280.1 651.8,280.1 636.5,280.5 638.7,287.5 648.8,281.3 645.7,286.5 651.2,279.1 636.6,274.6 663.3,276.7 650.1,282.2 641,283.1 654.5,283.3 652.7,279.1 656.4,283.7 664.4,283.1 648.9,292.1 636.4,284.6 642.1,284.3 648,283.1 643.6,275.1 650.2,286.9 654.3,286.8 651.2,277.9 637.9,285.2 637.1,281.4 637.2,279.9 655.8,280.6 647.9,284.2 652,276.5 647.7,273.8 656,285.3 664.4,281.9 653.8,276.4 642.2,281.6 657,285.3 642.5,282.6 655.9,276.9 652.7,285.2 636.8,279.5 641.8,278.9 642.8,283.7 647.1,278.1 661.4,277.6 656.5,276.1 650,276.4 647.9,287.5 637.3,276.6 642.6,278 661.3,276.2 647.1,284.6 644.2,276.5 663,279 642.7,286 659.1,274.9 647.2,284.2 646.8,285.3 645.9,278.9 644.1,283.4 643.9,279 644.4,281.8 649.6,279.4 649,276.9 637,280.8 647.6,276.7 659.6,276.8 657.7,284.5 640,276.8 642.3,277.8 654.2,280 654.2,275.6 637.8,273.1 645.2,277.2 650.9,287.4 655.7,278.6 652.3,281.3 654.6,281.9 661.5,279.1 661.2,282.1 642.1,273.2 661,279.4 642.4,280.6 636.5,277.1 658.5,277 662.1,275.2 639.4,277.7 657.7,280.8 638.7,280 662.3,290.5 649.5,287.3 650.2,275.9 662.2,282.1 645,272.4 651.7,272.4 639.3,286.3 641.4,279.2 651.6,267.5 660.9,284.2 646.9,278.8 636.6,281.7 643,281.7 650.5,281.9 638.2,280.7 640.5,277.1 642.8,284.3 660.3,278.3 648.5,283.8 640.4,278.2 651.6,279.2 652.7,284.2 653.9,280 657.3,284 652.5,284.5 637.9,275.3 653.2,288.9 653.6,278.1 650.6,277.4 640.5,283.3 642.3,275.7 654.2,276.5 658.2,286.5 638.5,278.2 658,278.5 649.2,284 654.2,278 658.7,277.2 638.8,283.9 657.1,289.7 657.5,278.8 649.7,284 643.7,288.5 652.7,282.4 653,291.5 647.8,282.2 651.3,273.8 657.3,293.6 658.8,278.5 663.2,284.8 664,282.5 637.1,284.8 662,277.7 661.4,280.7 664.6,284.2 658.8,286.6 663.2,282.6 664.2,275.4 640.2,286.2 639.8,278.7 652.3,279.1 662.3,289.8 651.5,275.6 650.8,280.8 660.7,270.4 653,272.7 659.7,281.8 653.5,281.3 651.1,285.2 650.5,286.9 658.9,277 639.9,281.8 646,282.5 639.2,281.4 655.1,277.5 647.9,276.3 661.7,280.6 646.1,281.5 662.4,280.1 645.2,271.1 663.1,290.2 661.8,285.9 644.6,278.4 651.5,279.9 638.5,275 654,274.6 655.6,271.5 649.5,284.3 648.6,277.8 650.4,281.7 658.7,276.1 642.1,279.7 660.1,276.5 656.7,284 647.7,279.8 664,283 652.9,281.8 650.9,282.7 651.4,285.3 646.1,275.5 651.4,279.2 639.1,275.6 653.6,285.2 646,289.6 655.1,283.6 653.5,281.3 664.5,276.9 657.3,275.7 636.7,275 639.8,273.5 650.4,277.2 651.7,280.1 649.9,284.1 657.1,277.4 662.8,282.9 638.2,284.3 654.2,277.9 644.6,279.6 647.5,276.6 663.4,283.9 638.3,275.2 642.2,278.9 650.7,281.4 657.6,284.1 663.3,285.6 663.9,286.9 662.7,274.1 658.4,287.1 649.2,277.7 644.5,281.7 660.8,283.2 657.6,282.8 656.5,281 692.6,279.8 690.1,277.2 668.8,279.6 682.7,277.6 688.6,287.2 694.5,278.5 688.7,279.3 674.8,283.7 672.3,299.3 696.2,293.9 693.1,280.3 680.3,282.6 680,291.4 690.4,278.3 686.8,283.7 675.6,279.4 682.2,281.8 696.6,278.4 681.1,280.3 668.5,282.1 671,278.4 672.3,276.8 687.1,291.4 678.7,280.6 687.3,283.5 676.3,285.9 691.2,274.6 682.5,276.2 695.4,285.6 690.4,279.4 681.9,276.9 696.5,283.7 677.4,282.3 681.7,290 678.3,281.4 668.8,275.4 677,282.9 669.9,281.3 671.2,272.5 671.4,276.6 678.8,274 684.2,277.8 684.5,275.1 686.6,288.6 673.4,284.6 676.4,288.5 671.6,270.3 694.5,279.9 672.5,281.3 686.5,284.3 682.4,285.5 670,293.9 692.3,270.2 682.8,281.1 684.3,280.4 689.9,287.4 676.9,281 679.3,279 672.1,281.1 693.7,277.8 679.1,284.7 692.8,279.2 692.9,269.2 679.8,278.1 685.4,278.9 674.8,281.2 682,285.4 677.1,278.1 695.2,282.6 687.6,285.2 694.3,277.1 675.2,288.3 673.9,283.4 667.9,277.1 685.1,276.3 676.5,282.5 675.9,280.4 681.1,278.2 684.6,281.1 690,284.4 693.9,278.7 673.6,280 682.4,287.6 694.9,275.5 677.2,279.3 684.2,282.9 681,280 689.9,271.6 689.3,284.1 679.6,282 675.7,284.5 686.4,279.1 695.4,286.7 679.7,278.6 682.6,277.2 675.1,284.4 694,284.7 669.5,287.7 679.1,280.5 670.5,286 680.8,283.7 685.5,282.7 671.1,284 687.5,276.8 675.7,273.2 674.1,290.8 677.8,284.6 695.2,279.6 693.8,285.7 676.7,283.3 668.8,279.7 670.7,274.2 681.2,275.2 668.6,282.1 688.1,280.1 685.5,282.4 680,281.6 672.3,304.5 696,289.1 678.7,282.5 675.1,276.1 696.8,277.1 689.9,289.5 683.8,281.6 678.2,283.7 691.6,279.4 688.5,285.9 693.9,276.4 696.6,281.7 684.9,278 692.2,276.6 694.7,289.9 673.9,281.7 686.3,273.6 692.8,280.6 691.4,275.8 689.6,278.7 681.4,283.1 693.3,279.4 682.3,275.8 676.5,274.7 680.9,273.9 692.1,285.9 670.2,276.8 668.2,287.2 669.7,281.3 671.8,281.7 674.7,277.8 671.9,279.2 668.4,274.8 675.8,283.6 685.6,276.8 689.7,278.9 681.8,280.7 695.1,286.4 669.1,278 693.8,279.2 669.3,277 685.5,280.9 673.9,281.9 689,278.9 689.8,278.5 691.8,277.5 676.5,271.8 672.5,283.6 690.2,271.3 688.1,294.6 681.2,276.2 680.6,284.6 682.6,271.3 696,284.9 671.6,275.7 685.4,285.4 693.1,286 670.9,276.9 689.7,276.6 692,284 675.2,269.4 678,282.2 680.4,273.4 697,285.5 694.6,285.2 695.2,280.3 678.6,285.5 693.9,278.6 682.5,290.8 685.4,279.9 687.3,283.4 689.6,285.2 677.7,279.7 678.8,281.8 671.5,282.8 693.5,276.9 681.2,279.3 696.1,278.9 675.6,274.5 686.3,285.1 697.2,276.8 688.4,282.7 694.2,277.9 695.3,278.2 683.6,283.3 673.2,287.8 686.4,286.7 687.1,285.1 677.3,278.1 673.3,281.3 678.1,282.1 690.8,278.5 677.2,277.3 691.3,274.2 678.5,283.5 691.5,278.1 685.8,277.4 695.5,285.2 674.5,280.1 690.5,285 681.1,281.8 673.9,278.7 672.8,288.7 675.1,284.8 687.8,284.5 692.9,280.3 676.8,284.2 677.9,279 671.5,284.7 683.4,283.1 671.1,277.9 677.1,279.2 694.5,280 683.1,280.9 677,276 690,274.3 667.9,282.4 689.6,284.1 691.6,285.6 682.2,272.6 674.1,284.9 674.4,286.9 694.3,279.5 688.9,275.8 696.5,286.5 673.5,281.3 680.2,287.4 690.9,284 685.1,273.1 682.1,279.9 671.8,281.9 695.6,280.4 674.1,279.4 689,281.2 685.6,286.3 690.9,286.2 690.5,271.3 681.4,284.3 683.7,275.1 670.2,284.1 690,274.6 676.2,277.5 671.4,281.7 669.1,271.3 676.5,285.1 671.7,281.8 672.8,284.7"/><path d="M68.4 280.7V305M88.5 280.7V305M108.6 280.7V305M128.8 280.7V305M148.9 280.7V305M169 280.7V305M189.2 280.7V305M209.3 280.7V305M229.4 280.7V305M249.5 280.7V305M269.7 280.7V305M289.8 280.7V305M309.9 280.7V305M330.1 280.7V305M350.2 280.7V305M370.3 280.7V305M390.5 280.7V305M410.6 280.7V305M430.7 280.7V305M450.8 280.7V305M471 280.7V305M491.1 280.7V305M511.2 280.7V305M531.4 280.7V305M551.5 280.7V305M571.6 280.7V305M591.7 280.7V305M611.9 280.7V305M632 280.7V305M652.1 280.7V305M672.3 280.7V305M692.4 280.7V305" stroke="#8a2be2" stroke-width="2" fill="none"/><path d="M69.6 280.7V317.8M248.7 280.7V317.8M427.9 280.7V317.8M607.1 280.7V317.8" stroke="#00ffff" stroke-width="2" fill="none"/><path d="M161 280.7V322.5M270.2 280.7V322.5M379.4 280.7V322.5M488.6 280.7V322.5M597.8 280.7V322.5" stroke="#ff1493" stroke-width="2" fill="none"/><g fill="#222" fill-opacity="0.3" stroke="#222" stroke-opacity="0.6" stroke-width="0.7"><circle cx="79.5" cy="297.9" r="1.9"/><circle cx="108.6" cy="304.2" r="1.9"/><circle cx="128.7" cy="301.4" r="1.9"/><circle cx="128.8" cy="310.1" r="1.9"/><circle cx="145.6" cy="303.9" r="1.9"/><circle cx="161.1" cy="320.8" r="1.9"/><circle cx="161.2" cy="315.1" r="1.9"/><circle cx="160.9" cy="307.6" r="1.9"/><circle cx="161.1" cy="312.3" r="1.9"/><circle cx="161.2" cy="311.8" r="1.9"/><circle cx="248.9" cy="322" r="1.9"/><circle cx="248.9" cy="318.8" r="1.9"/><circle cx="248.9" cy="313" r="1.9"/><circle cx="248.7" cy="311.4" r="1.9"/><circle cx="248.9" cy="320.3" r="1.9"/><circle cx="270.2" cy="323.7" r="1.9"/><circle cx="270.3" cy="318.3" r="1.9"/><circle cx="270" cy="320.4" r="1.9"/><circle cx="270.3" cy="317.8" r="1.9"/><circle cx="269.7" cy="299.1" r="1.9"/><circle cx="270.3" cy="325.2" r="1.9"/><circle cx="270.3" cy="327.1" r="1.9"/><circle cx="297.9" cy="298.6" r="1.9"/><circle cx="428.1" cy="313.6" r="1.9"/><circle cx="427.8" cy="305.8" r="1.9"/><circle cx="427.9" cy="311.7" r="1.9"/><circle cx="439.4" cy="297.8" r="1.9"/><circle cx="488.7" cy="319.4" r="1.9"/><circle cx="507.5" cy="302.9" r="1.9"/><circle cx="511.3" cy="305.3" r="1.9"/><circle cx="511.2" cy="299.9" r="1.9"/><circle cx="491.1" cy="304.4" r="1.9"/><circle cx="551.5" cy="300.9" r="1.9"/><circle cx="551.5" cy="298.6" r="1.9"/><circle cx="672.3" cy="299.3" r="1.9"/><circle cx="672.3" cy="304.5" r="1.9"/></g><path d="M67.5 280.7H698.5" stroke="#808080" stroke-width="2" fill="none"/></g>
<g clip-path="url(#c4)"><path d="M69.3 403H88.2M93.4 403H109.6M162.9 403H177.1M188.6 403H202M212.1 403H227.7M237.8 403H254.3M263.1 403H281M288 403H304.9M364.7 403H382.2M389.2 403H407.4M413.7 403H430.6M436.9 403H455.3M507.6 403H522.9M531.2 403H546.7M553.3 403H570M577 403H593.9M649.1 403H668.7M673.6 403H696.8" stroke="#000" stroke-width="13" fill="none"/><polyline fill="none" stroke="none" marker-start="url(#bk)" marker-mid="url(#bk)" marker-end="url(#bk)" points="74,403.5 71.8,402.2 80.2,406.9 80.7,411.3 80.8,401.7 76.5,399.2 71.8,404.9 87.8,404.7 82.5,413.8 82.8,398.8 68.6,408.1 79.4,399.6 79.4,405.7 69.7,403.7 72.7,403.9 71.4,411.4 81.2,390.2 86.6,410.3 81.5,402.5 75,406.8 86.1,404.1 79.8,396.6 85.6,411.7 80.5,403.7 71.5,400.7 77.2,402.4 73.7,401.1 74.7,406.5 69.2,410.6 84.5,409.1 80.1,392.9 74.9,399.5 83.3,402.6 78.1,395.5 69.6,402.5 85.2,402.1 85.3,402.1 79.9,411.1 81.8,400.3 80,408.2 74.2,404.8 69.3,392.1 81.9,408.8 74.1,402.4 83.9,401.6 74.6,402.4 76.3,403 87.3,405.6 70.4,393.7 73.7,412.4 82.8,407.8 77.2,396.1 86.6,400.4 70.7,406.6 68.4,407.2 85.1,404.2 71.4,390.7 74.1,400.7 72.2,407.8 77.3,401.9 87.4,405.9 78.4,396 83.5,401.6 71.4,397.1 79.5,402.2 72.8,393.5 72.7,401.1 74.6,401.7 76.3,407.8 83.4,405 70.2,401.2 73.6,405.3 88.7,391.4 75.7,403.1 68.5,406.5 86.6,398.4 68.2,405.5 76.1,401.1 83.2,403.4 88.1,406.4 87.1,396.5 88,402.6 80.7,415.7 88.7,404.6 73,409.7 74.9,408.8 82,405.4 81.4,403.9 85.5,402.7 70.7,400.6 76,408.8 81.4,401.9 69.9,408.7 78.8,406.2 86.8,391 68.6,397.1 85.9,404.7 83.4,394.6 77.2,396.4 72.7,398.9 84.7,396.2 75.6,404.2 81.4,403.6 70.8,407 84.3,400.3 87.6,408.8 87.7,405.3 89,400.9 69.4,405.4 85.4,401.4 73.2,394.5 70.3,407.6 85,396.5 87.1,406.2 69.5,407.4 72.5,401.9 78.2,398.2 86.5,406.3 77.9,406.4 69.1,405 83.6,406.4 88.4,402.1 71.5,406.3 85.6,404.2 88.4,401.3 77,404.9 85.8,397.6 81.6,406.2 88.9,406.6 82.4,393.5 74.3,396 83.1,402.7 75.2,399.1 75.6,401.4 68.1,405.4 69.8,399.8 72,401.6 82.3,397 79.1,411.6 76.5,399.2 81.1,402.2 74.8,406.2 75.1,405 81.1,404.9 84,409.2 83.8,405.7 79.8,399.4 88.9,410.1 89.2,404.8 87.9,414 74.4,405.7 83.9,401.2 70.4,403.2 89.2,402.8 80.2,408.2 69.5,400.3 70.8,407.2 81.8,398.8 82.6,402 76,404.8 77.6,396.1 85.3,404.8 84.7,398.2 84.2,402.5 76.1,403 75.5,395.5 82.1,401 70.1,403 82.5,403.6 82.7,402 84.4,402.6 73.3,404.5 75.4,407.8 73.2,415.1 77.4,403.5 81.6,404.1 77.8,397.3 86.8,400.9 80.5,397.7 85,394.9 88.6,403.5 85,406.9 72.7,399.2 75.3,405.8 69.1,404.2 76.7,396.3 77.5,400.4 75,424 76.1,409.3 72.4,402.8 85.6,397.8 94.6,404 99.5,408.3 98.7,399.5 105.2,400.1 110.5,398.6 98.2,398.2 92.7,398.2 110.1,399.7 101.2,406.6 99.9,398.6 106.3,407.3 104.1,392.1 102.2,401.7 94.8,400.2 107.1,408.8 96.8,398 103.5,397.5 95.7,410.3 96.5,405.6 103.8,405.2 106.1,406 110.3,396.6 104.9,392.9 104.1,408 103.4,398.1 97.6,404.2 109.2,396.6 103,414.4 93.2,405 101.1,397.3 98.6,406.6 95.1,397.5 105.1,405.4 107.2,397.7 108.9,400.3 108.4,405 110.5,406.6 95.8,403.8 102.8,397.6 99.8,403 105.7,406.1 105,387.5 93.6,410.4 97.3,404.1 96.3,400.5 93.6,407.9 97.3,403.1 101.1,405 98,409.9 95,400.9 107.1,408.3 93.4,406.5 96.8,397.3 104.9,408.2 99.8,400.2 104.2,397.5 93.7,398.4 109.6,400.8 99.5,404.1 107.6,409.6 100,402.4 107.7,401 92.8,405.4 97.4,407.6 110.7,399 93.6,408 108.1,401 99.3,405.3 101.2,410.9 97.5,395.5 98.7,400.2 110.5,400.5 100.9,409.7 94.8,403.6 106.4,401.7 96.2,406.5 102.2,395.4 106.8,412.5 100.7,399.8 94,411.9 105.8,410.4 109.4,409.1 104.8,400.4 109.6,406.4 100.9,406.3 96,407.4 98.4,410 107,407.3 109.6,407.8 97.2,404.7 107.5,404.9 106.3,414.4 96.4,406.2 107.5,397.5 100,405.4 94.9,403.6 102.7,406.6 96.9,406.5 102.2,403.6 110,409.6 95.9,404.1 102.5,411.1 101.8,401.8 95.4,410.7 103.5,400.3 96.8,398.6 109.1,410.9 108.1,400.2 102.1,405.3 96.8,398 94.9,405.9 96.5,404.7 102,404.8 103.1,397.6 94.8,412.5 106.1,399.9 101.3,403 110.3,405.7 99.6,404.6 100.8,399.1 106.9,399.6 99.9,395.6 106.8,406.5 102.2,412.3 94.4,406 109,404.4 108.9,405.5 94.6,397.8 98.4,392.8 102.8,401.7 94.2,411.8 99.7,398.6 93.5,406.5 102.1,403.3 101.2,399.6 109.5,401.8 107.2,403.8 97.2,402.2 104.9,411.7 110,400.6 94.6,393.8 102.1,417.5 94.9,407.1 96.9,406.2 101.4,399.6 92.4,442.2 101.2,399.5 97.7,426.2 93.4,404.5 102.1,400.5 96,403.7 96,405.4 109.7,402.2 100.3,395.8 102.4,413.3 94.1,396.1 109.9,402.2 103.1,407.5 97.7,418.1 104.5,403.3 104.2,397.9 101.2,407.3 100.1,399 94,407.7 106.3,402 92.9,400.3 93.4,403.9 174,398.8 172.9,404.1 177.6,396 167.6,397.1 164.7,405.8 168.6,399.4 176.5,395.6 170.8,399.9 166.9,407.3 170,404.2 173.9,404.5 163.4,402.3 173.4,402.7 168.9,404.5 176.3,398.9 175.1,396.5 174.5,405.5 162.5,409.7 170.6,401.1 162.6,404.7 167.6,400.8 164.5,406 169.8,401.4 165.2,407 166.9,397.7 174.2,394.9 174.6,407.1 174.2,414.9 173.9,405 167.6,405.2 162.3,401.8 162.7,402.6 171.3,400.4 177.8,390.1 170.2,405.3 169.4,404.4 176,400.7 167.9,411.3 165.4,399 177.5,405.6 161.7,409.4 170.6,406.6 164.6,400.3 165.8,398.7 177.3,396.8 172.9,400.6 170.8,406 163.4,400.1 177.1,403 168.9,391.7 163.3,412.2 170.8,395.1 163.1,399 175.9,400.7 168.4,403 166.5,405.2 165.9,407.1 165.1,409.9 164.9,393.1 171.7,398.2 164.5,399.4 170.8,400.9 176.3,411.5 174,403.9 170.7,402 168.8,397.2 167.4,407.2 165.9,401.3 168.6,403.7 178.1,402.4 170.8,406.2 166.5,400.8 166.2,402.2 169.1,411.2 169.2,396.9 167.4,392.3 170.8,406.6 174,397.1 173.4,407.1 173.8,405 170.4,394.3 175.5,401.6 163,395.4 171.3,401.1 175.5,397.8 173.9,403.2 177.6,395.8 164,394.1 172.7,399.3 174.8,405.1 168.4,404.2 165.8,406.8 169.1,399.6 175.4,400 165.4,405.7 174.8,398.1 174.1,405.1 170.8,393.9 170.3,398.6 177.4,395 163.9,405.7 162.7,407 170.3,410.9 163.1,399.4 165.9,407.6 163.9,396.1 177.4,401.7 170.1,398.8 166,408.4 167.1,405.1 164.7,401.5 167.8,398.9 164.7,408.4 175.7,400.8 171,406.2 163.4,398.6 175.9,403.4 169.2,403.7 162.2,400.3 174.3,397 172.7,403.5 170,396.6 168.6,407 173.8,401 177.9,407.6 170,401.4 176.6,406.6 170.8,402.2 165.7,399.5 173.6,406.8 174.8,410.5 163.8,403.2 165.2,399.9 163.6,401.3 162.3,406.6 167.3,398.5 169.9,403.7 171.3,398.8 169.9,406.5 175.5,400.3 164.6,396.9 177.6,405.5 174.3,403.7 162.5,399.5 162.6,399.9 163.5,400.7 171.9,403 171.1,409.6 165.9,402.4 172.9,408.4 192.9,397.4 191.9,397.2 192.6,403.6 193,394.5 189.2,400.6 200.4,398.1 194.1,407.8 190.4,406.4 193.9,406.4 194.9,394.9 199.2,413.5 189.9,411.3 195.3,399.3 199.5,402.3 200.3,416.4 189.8,404.7 193.1,404.3 198.5,397.4 192.7,411.6 197.8,405.3 191.5,398.1 192.5,399.5 188.6,407.1 197.5,404.2 192,409.6 188.7,396.7 191.5,404.9 190.2,397.1 193.3,399.3 202.5,406.9 201.9,403.6 200.6,400 200,400.9 201.7,396 190,397.8 195.3,401.4 199.8,399.8 202.2,406.1 197,405.6 189.5,400.2 192.9,401.4 190.4,407.9 199.5,403.3 200.1,406.5 193.6,405.4 187.4,397 202,407.2 201.3,405.8 202.1,400.3 199.2,402.5 203,402.1 191.7,409.4 189.4,403 200.6,404.6 200.3,406.5 191.6,405.4 196.9,404.2 188.8,399.1 189.7,394.4 202.7,402.4 201.2,396.2 190.1,402.3 197.7,409.6 198.6,402.6 195.8,397.1 195.3,396.5 198.1,406.8 187.8,392.8 202.6,406.2 197,406.1 194.9,405.2 191.8,396.3 191.7,401 197.1,398.7 190.4,412.9 198.5,403.1 188.7,403.3 193.5,399.7 191.8,404.9 187.4,397.4 198.4,405.9 201.4,409.1 193.5,410.2 191.2,397.1 197.8,399.4 189.2,406.3 200.8,397.8 195.4,403.6 198.2,403.4 192.2,409.4 195.7,405.3 196.3,402.3 197.2,401.9 199.9,405.3 194.2,398.3 194.2,396.3 194.1,406.4 188,401 193.2,409.7 202,400.9 198.1,407.1 193.3,403.5 200.3,402 191.7,403.9 194,398.1 192,406.3 193.8,404.9 189.6,401.3 196.4,402.9 189.6,401.6 194.5,403.7 199.4,424.4 201.6,399.8 197.8,402.4 193.4,398.7 190.6,396.8 191.8,404.4 191.7,406.1 197.9,404.8 199.5,405.7 189.6,411.7 194.6,395.4 199.4,417.9 198.4,392.3 189.1,405.3 196.5,400.1 202.2,401.5 200.9,403.1 191.1,398.3 200.7,402.7 202.9,403.1 202.2,402 201.1,412.8 189.3,406 194.3,406 197.8,395.3 201.1,400.1 200.5,393.9 193.9,399.9 193,403.6 198.5,395.3 191.7,403.7 223.9,403.9 226.4,403.3 224.5,408.9 227.1,407.5 222.7,397.6 212.4,405.6 212.1,403.2 224.4,404.6 216.1,399.5 223.8,397.8 218.7,399.2 226.3,400.8 217,400.7 212.5,408.4 226,397.5 216.3,405.6 218,407.1 224.9,404.8 215.4,406.7 227.8,401.4 211.4,400 224.6,397.6 226.3,403.6 222.1,405.8 214.4,404.4 212.8,408.3 224.8,406.4 224,394.4 225,406.6 228.5,405.2 221.8,400.4 228,402.1 228.6,399.8 221.5,407 224.8,407.9 213.8,397.4 228.9,406.1 219.8,403.6 219.9,402.2 223.2,411.3 226.3,404 215.9,406 224.4,400.9 225.9,404.5 218,413 218.8,399.7 226.8,414.4 216.9,405 225.4,406.2 226.9,405.9 217.4,403.2 216.6,399 214.2,407 214.5,405.9 226.4,399.9 215.9,401 215.7,400 222.6,401.7 216,404.2 216,405.3 227.7,405.3 228.7,399.2 224.6,396.6 225,394.5 217.6,407.7 217.2,404.2 225.6,403.2 220.4,403.9 214.6,408.1 216.7,393.6 224,396.6 217.9,403.9 225.5,405.2 214.9,403.2 210.9,408.5 213.4,404.7 212.8,399.8 214.3,395.9 228.5,399.3 222.6,397.5 218.7,407.8 213.4,417.4 225.5,397.1 222.4,402.4 215.6,403.5 219.5,395.8 226.2,407.4 228.2,407.4 228,406.4 221.4,396.1 220.4,399 218.4,411 211,395.9 216.2,403.1 225.8,401.3 217.4,406.6 222.7,394.9 228.6,401.2 225.2,397.4 216.6,407.6 215.1,400.1 227.6,402.8 214.7,404.2 223.8,406.8 222.4,406.3 221,408.3 216.5,406.1 228.4,403.3 224.8,400.6 218.3,410.1 213.8,407.8 218.2,405.9 211.7,410.4 214.2,404.5 215.2,404.3 213.7,404 220.5,401.4 213.5,399 212.5,399.6 212.1,401.9 226.8,400.6 212.3,406.7 228.2,407.3 227.6,400.3 220.1,400.7 226.9,393.5 211.3,404.2 224.5,407.6 220.4,401.9 221.9,405.2 228.9,407.1 213.8,397.1 216.4,394.6 223.3,401.5 214.1,406.1 227.5,402 213.8,403.4 218,409.3 224.4,399.5 226.5,401.6 225.1,397.6 225.6,405.6 218.2,403.2 217.6,403.7 220.7,410.8 214,392 220.5,412.4 220.9,408.2 216.6,404.7 213.5,410.1 212.5,401.3 217.3,405.2 220.6,402.8 228.6,402.1 214.4,402.8 211.2,402.7 216.3,403.8 219.3,401.2 221.3,399.5 217,404.3 227.4,405.1 214.7,404.9 241,403.9 242.4,397.7 254.8,403.6 243.8,407.9 251.5,400.4 250.7,403.4 250.6,405.7 245.8,400.5 246.2,406.6 240,407.6 253.3,404.2 243.7,403.9 250.1,402.8 253,408.6 247.4,395 243.5,395.7 253.1,402.4 238.4,402 250.9,414.7 242,398.7 249.8,407.8 240.7,400.7 253.4,408.6 245.5,398.4 238.7,405.5 251.8,404 243.1,395.9 238.4,398.4 252.5,409.4 238.2,406.3 240.5,402.1 240.2,404.1 244.3,399.3 255,406.2 237.9,411.8 255.2,407.3 241.8,403.9 244.5,400.5 251.5,399.6 252.7,397.2 239,401.9 249.6,404 245.1,399.6 238.2,403.5 255.4,405.2 244.4,405.2 249.7,398.7 250.7,396.1 241.1,396.9 241.9,410.5 244,397.9 253.3,408.3 252.4,404.6 248.9,400.3 243.1,409.3 242.5,408.8 243.3,406.5 243.9,395.2 245.3,398 244.2,407.2 243,402.4 250.8,402.4 253.2,401.6 253.1,406.3 239.5,396.3 247.5,404.8 239.9,399.2 253.2,410.9 246.2,401.2 236.8,402.4 251.9,396.7 249.3,415.1 238.8,400.4 252.8,399.2 237.7,404.3 253.5,396.9 255.5,393.2 245,398.9 247.9,399.3 244,396.7 245.6,401 252.2,397.3 251.5,400.2 244.4,406.2 252.3,407.9 242.6,397.5 251.4,400.2 242.5,406.1 252.3,402.9 241.6,396.2 246.3,411 240,407.2 237.9,399.8 244.4,399.2 238.1,408.5 239.2,407.7 243.7,402.2 251,396.5 243.5,403 237.3,413.9 244.6,398.2 244.6,403.1 241.3,405.2 243,408.4 245.6,397.4 246.3,401.8 248.1,401.1 254.4,401.4 254.5,401 249.5,399.1 243.5,395 236.9,408 244.9,403.4 241.8,405.1 248.3,395.2 240.6,404.4 248,410.5 241.6,403.1 239.7,406.4 237.6,406.5 245.7,405.1 238.9,409.1 240.2,412 241.7,393.9 239.5,403.6 236.8,407.4 238.9,400.1 250.4,396.8 244.5,411.2 249.3,405.1 249.7,401.7 248,407 247.3,400.9 252.6,408.8 238.1,406.1 242.5,403.6 236.7,401 245.1,402.8 253,406.2 246.4,404.7 252.7,412.9 248.2,393.1 237.4,404.9 238.2,404.4 249.2,401.8 254.6,400.4 239.5,401.4 254.1,406.2 249.7,410.8 239.2,403.8 242.2,406.8 252.6,405.6 252.9,403 249.6,401.9 254.5,397 251.4,392.4 254.1,411.1 244,400.3 244.9,398.7 242.7,410.7 240.7,400.2 242.3,402.2 239.3,405.6 254.5,402.2 248.3,401.2 254.6,400.3 239.2,397.7 248.4,403.1 245,403.1 253.8,391.8 271.4,404.6 266,403.7 271.6,408.4 264.2,399.1 271.7,408.3 266.8,408.1 269.7,398.8 280.8,399.6 271.8,396.3 276.9,402.5 268.5,406.1 265.8,397.8 269,403.5 266.2,403.7 272.3,407 275.6,401.2 267.3,414.1 276.2,400.6 272.3,412.4 278.1,399 277.4,410.3 281,399.9 275.9,391.6 263.2,404.4 268.9,408.5 270,424.5 279.6,405.1 279.5,408.3 266.3,397.3 280.2,416.3 270.3,438.9 275.6,409.2 275.5,406.3 270.7,412.5 273.3,399.3 271.5,398.3 275.8,403.4 278.7,405 272.9,410.4 279.8,400.9 272.1,406.4 263,400.2 274,398.3 268.5,402.9 276.9,412.9 267.7,407.5 275,396.7 265.8,401.8 275.1,396.5 274.1,411.7 276,403.6 262.6,403.9 271.1,410.7 277.1,406.1 271,398.5 267.9,400.6 277.2,405.6 275.7,401.6 270.9,397.5 279,408.1 275.7,401.7 282.1,398.2 275.3,406.3 281.5,397 276.9,403.5 271.1,397.9 262.1,398.8 276.9,401.8 270.6,404.4 279.5,406.1 279.9,402.3 278.8,402.1 273.1,396.5 274.8,403.5 275,401.4 271,395.2 270.1,434.8 281.8,400.9 262,395.6 279.5,402.6 264.6,401.2 264.2,399.5 277.6,403.6 262.2,408.3 275.4,409.9 266.8,404 279.4,397.8 273.4,398.4 266.6,395.5 273.8,398.8 276.8,406.1 279.2,403 262.3,405.5 280.7,404.3 278.7,406.5 266.7,398.8 274.2,406.8 272.6,400.4 274.2,399.4 266.9,411.2 280.7,405 276.3,397.2 273.4,399.1 281.2,402.5 269.5,408.2 272.9,406.3 274.8,402.7 274.5,397.2 268.7,400.8 274,403.5 270.6,402 276.7,399.4 269.3,411.2 271.1,407.7 273.9,402.9 265.7,397.4 273,398 279.8,406.7 276,403 272.1,406.5 264.6,404.9 273.6,402.4 270.3,435.4 269.6,405.7 276.5,449.6 281.7,410.5 272.5,404 265.7,402.2 275.7,400.2 271.1,406.9 279.2,406.5 277.2,397.2 269.2,401.2 278.6,399 272.8,405.7 276.3,442.5 263.2,408.5 267.6,398.5 279.3,408.4 262.4,411.1 275.9,406.6 280.7,397.2 279,403 265,402 264.5,402.5 269.6,403.3 263.2,403.9 274.4,409.6 275.3,395.4 275.8,403.8 278.7,397.5 268.4,410.4 262.2,400.6 265.6,408.6 278.6,409.1 264.9,401.9 264.1,398.3 275.9,396.7 274.3,396.9 280.5,404.4 278.4,399.4 279.7,405.9 280.2,405.6 262.2,402 281.2,403.6 267.3,415.1 263.8,411.6 280.3,397.8 268,405.8 264.9,396.2 273.4,397.8 278.7,408.4 268.5,403.3 279.3,399.9 281.6,406.8 272.8,406.5 266.6,404.5 268,399.6 265.4,398.9 270.9,405 270,429.9 267.9,396.2 291.4,400.9 294.3,399.7 288.2,399.7 292.3,405.3 292.8,401.5 302.8,403.8 303.2,408.6 301.5,409.8 296.4,399.1 288.2,396.3 300.1,396.3 296.5,406.7 302.4,396 296.1,395.7 287.7,406.3 296.8,400.6 289.2,395 304,402.4 287.8,397.4 295.2,405.7 289.4,404.4 297.6,398.8 287.8,403.6 305.6,402.2 299.4,402.4 302.9,407.5 294.1,396 293.4,403.4 294.7,404.3 287.3,404.9 300.2,402.5 297.2,407.1 298.7,398.8 292.7,404.4 287.9,399.2 299.6,406.8 302.9,389.4 294.5,407.1 294.6,401.8 291.8,408.9 291.2,399 301.1,422.5 297.2,398.7 305.8,404.6 298.6,399.1 290.2,407.6 291.8,407.9 299.8,400.1 293.7,405.4 300.4,398 299.4,406 301.9,400.5 298.4,406.6 296.4,410.8 296.5,396.3 291.9,403.8 290.6,398.4 302.9,402 299.9,410.7 297.9,401 302,394.4 288.6,396.9 298.3,395.3 303,401.1 297.8,403.3 303.7,402.5 289.2,408.2 305.1,399.5 292.4,399.5 300.3,401.3 305.3,406.4 297.5,399.9 292.3,405.4 305.7,397.1 291.8,405.7 300.6,405.3 298.2,404.4 296.7,407.6 301.8,407 304.6,404.2 305.2,414.2 301.8,393.7 302.7,401.2 287.4,401.6 294,407 297.6,402 296,402.9 304.8,402.5 304.4,409.7 296.1,403.5 304.5,411.6 293.6,403.8 302.1,407 289.4,405.7 305.9,404.4 295.5,399.1 305.6,397.3 291.7,402.8 292.2,407.9 292.2,396.1 292.4,409.4 288.5,405.5 302,403.9 296.6,406.3 296.7,396.8 291.9,401.1 296.1,398 295.7,404.3 287.1,398.9 292.6,403.7 290.1,403.6 292.5,401.6 295.1,401.1 305.8,400.3 294,403.9 304,409.9 301.1,404.4 305.8,415.3 302.5,404.3 304.9,406.7 289.6,399.2 301.9,415.5 293.5,393.7 294.4,404.6 288.9,410.3 289.6,401 299.9,400.7 291,401 299.2,392.9 293.6,406.8 299,401.6 298.9,402.3 291,406.1 304.3,401.7 300.5,397.2 297.7,406.9 298.7,400.9 299.3,398.3 293.6,400 298.6,410.4 289.8,401.7 305.8,404.8 300.3,397.3 301.6,403.6 301.2,411.7 303.2,408.7 295.7,400.7 291.7,407 287.4,394.8 296.7,395.7 289.8,407.3 295.7,399.5 288,403.2 301.7,410.5 293.7,407.8 292.7,402.5 302.2,400.6 294.5,404.7 295.8,401.6 299.6,401.5 287.4,401.7 292.8,408.5 306,402.4 300,400.5 289.3,409.9 305.1,395.9 304.7,396.3 299.4,402.2 287.1,393.3 294.8,406.7 294.2,407.4 290.2,405.9 298.4,406.3 364.5,408.7 378.3,398.5 367.5,403.5 377.5,406 365.8,412.6 372.7,396.9 372.2,411.5 372.2,408.8 374.6,399.4 366.1,408.8 372.4,400.7 383.2,403.3 364.7,404.3 379.3,408 374.8,406.2 367.2,401.8 376.8,407.6 370.3,400.2 373.1,402 367.8,400.6 383.4,402 382.1,400.5 373.5,401.3 373.1,399.3 371.3,401.3 375,401.6 376.1,407.4 378.6,411.1 366.4,402.9 381.7,398.7 365,407.4 382.1,410.5 367.8,405.6 373.2,401.4 380.2,399.1 370.5,404.6 365.6,408.6 377,403.4 378,399.9 371.6,403.4 376.6,398.4 380.3,405.4 363.5,399.1 376.4,395.5 375.9,407.7 372.5,407.1 367.5,400.1 370.3,403.9 371.6,400.8 379.8,403.2 378.3,397 373.6,403.6 369.5,410.6 380.9,407.5 364.3,396.8 370.7,410.9 370.2,409.7 373.1,399.3 364.4,402.4 372,397.5 366.4,408 364.7,406.5 383.3,404.7 380.1,408.8 370.2,404.2 376.5,403.9 368.2,399.1 381.2,403.5 376.2,405 372.2,400.8 369.2,398 372.3,398.3 378.4,401.8 379,404.9 364.6,405.3 382.9,409.2 373.9,402.8 381.5,403.2 364.6,395.5 380.6,402.1 375.3,399.6 365.4,397 363.5,411.8 368.2,406.1 381.7,404.2 376.6,402.5 370,408.4 369.5,399.1 377.8,398.9 371.4,400.8 365.2,399.9 376.2,408.2 373.6,397.8 380.9,405.9 365.4,411.9 376.7,402.5 378.9,401.1 373.5,406.3 379.4,410.8 381.2,408.4 378.2,403.8 367.4,414.9 366,398.3 374.4,398.5 383.1,403.9 382.6,398.2 372.6,403.9 375.9,408.4 369.7,400.2 376.2,400.5 363.9,407.4 381.4,409.7 381.6,407.7 377.1,397.7 366.3,404.5 369.1,390 380.7,406.2 369.5,400.3 379.3,401.6 380.6,404.1 377.7,399.2 369.5,407.1 375.9,403.4 380.6,408.6 377.8,413.3 379.8,402.8 380.9,408.4 374.1,409.2 376.9,400.4 374.8,403.9 383.1,401.3 365.4,395.1 364,402.3 379.4,401 378.9,408.6 375.7,399.2 363.7,399.1 369.6,408 380.3,400 366.5,401.6 364,404.1 383,402.7 374.3,391.8 365.8,406.1 370.9,404.6 380.4,402.6 380.4,403.9 368.6,411.6 378.9,400.1 370.3,398.8 367.2,395 374.9,405.7 371,409 379,400 381.2,407.9 382.9,403.1 378.5,405 370.6,402.2 370.4,405.2 367.2,399.8 372.8,407.4 378.3,392 364.4,399.5 365.7,406 377.3,407.6 368.6,440 374.5,405.3 374,406.9 366.8,403.3 381,398.6 372.7,408.1 364.2,400.5 381,403 378.1,399.5 366.8,406.2 379.4,393.1 365.8,402.7 373.1,393.8 376.8,405.3 398.8,406.5 394.9,401 400.2,409.3 408,401.5 389.8,397.6 407.4,415 404.1,403.1 401,401.9 395.6,401 403.8,402.5 390.9,403.3 388.4,401.7 399.8,402.5 392.4,402.6 393.6,395.9 394.3,398.4 394.9,398.8 399.7,405.9 405.9,405.2 406.6,398.2 398.7,407.7 391.1,398.4 395.2,409.1 407.9,393.4 390.5,397.4 404.6,405.5 399.9,405.1 403.9,412.2 404.5,403.2 399.6,397.6 404.9,400.2 404.7,404.2 405.3,393.8 406.1,400.5 391.1,401.1 397.9,404.3 408.4,400.4 393.9,391.2 394.8,401 405.5,410.5 403.9,402 404.5,394.4 405.5,397.6 408.6,405.3 391.3,401.4 399,409.6 396.5,400.1 396.3,407 405.5,405.4 408.4,405.6 402.4,406.2 388.5,395.4 396.6,396.3 407.6,404.3 398.8,402.6 392.6,395.4 390.6,404.3 392,405 389.8,406.8 404.9,396 401.9,402.3 401,403 404,404.9 397.5,407.1 404.2,398.7 404.6,406.5 402,405.4 391.8,410.6 407.9,408 398.2,405.3 403,405.2 393.5,409.8 390.3,405.8 389.1,403.6 389.2,414.8 408.1,400.4 389.8,404.3 390.9,409.1 406.7,404.3 388.2,401.1 405.1,403.1 404,402.9 406.8,403 401.3,400.1 393.2,409.2 408.5,405.7 404,401.3 393.5,402.9 393.7,407.9 403.8,404.3 399.4,406.2 406.4,403 395.4,410.5 392,410.4 403.3,409.6 389.3,403.7 394.3,391.9 396.6,398.6 399.6,397.6 398.7,403 406.3,395.9 405.1,401.5 391.4,402.8 391,398.2 401.6,408.6 395.7,413 408.2,408.5 394.2,396.7 392.1,399 395.1,402.2 402.5,404.2 399.7,403.9 393.1,401.3 406.8,407 407.3,399.6 404.7,407.5 394.1,397 389.2,404.6 401.3,407.3 401.7,404.4 406.5,407.3 388.5,403.7 392.9,411.3 407.3,405.3 408.5,402.8 395.1,401.4 405.9,404.9 404.9,397.6 390.3,410.8 403.8,404.1 396.3,405.3 394.7,403.1 402.7,404.3 396.9,396.9 406.2,403.1 393.8,407.3 393,391.8 389.6,402.9 405.5,403.8 395.9,399.1 389.3,405.8 408.2,404.1 391.2,399.2 392.5,408.5 401.9,405.2 408,398.9 407.9,395 408.4,403.5 395.1,403.6 395.3,398.2 389.2,409.8 403.9,406.3 405.7,406.7 388.5,412.4 394.8,416.3 406.4,405 396.5,399 404.4,400.1 396.6,397.4 407.9,415.5 389.8,403.8 403.1,397.1 407.4,407.1 404.4,409 405.5,401.5 394.5,403.1 399.3,400.2 398.4,403.1 388.7,397.5 404.3,400 389.3,402 392.7,404.8 393.9,399.9 407.3,406.1 406.8,398.8 395.1,397.9 395.6,398.8 391.7,408.9 393.7,401.1 389.7,401.4 406.9,399.1 395.1,410.2 392.2,405.8 389.9,403.5 391,396.8 420.4,400.8 421.4,400.4 415.1,404.7 424.6,405.6 416.7,404.1 416.9,401 425,405 419.5,407.8 428.5,404.5 412.7,405.2 430.9,400.3 425.9,405.3 418.6,404.8 420.4,394.7 429.5,401 430.8,407.1 418.2,397.7 425.3,404.6 421.7,406.6 426.4,400.1 427.1,409.2 420.7,403.3 415.3,400.5 415,399.7 428.5,405.3 421.3,433.8 428.6,403.4 428.6,397.6 426.5,410.9 415.9,399.4 431.6,401.7 420.6,396.9 431.2,407.9 412.8,397.9 427.2,406.8 429.5,401.7 428.6,404.7 425.1,413.8 431.7,403.2 417.2,401.2 421.2,431.8 417,405.8 428,408.1 423.3,399.8 427.5,404.6 414,398.3 413.4,396.7 414.1,404 429.1,403.7 422.8,406.2 413.7,411.9 413.6,403 426.7,399.7 416,398.3 425.4,403.1 416.3,394.8 429.9,405.3 419,403.1 427.2,405.4 418.4,404.9 412.7,404.2 415.6,406 427.9,404.8 419.2,401.7 426,402.5 416.1,407.6 421,433.8 423.1,406.6 427.1,400.9 430.5,402.6 419.6,411.4 418.2,407.5 416.7,398.7 425.8,405.8 425.5,405.8 417.8,404.9 416.4,402.4 414.4,400.4 414.8,404.2 427.2,395.4 427.9,405.5 421.6,405 427.3,403.7 422.7,402.2 424.1,396.4 429.3,392.5 421.4,404.4 422.7,403.7 431.6,400.1 431.6,403.5 424.3,399.1 422.1,407.6 412.8,399.1 421.3,412.6 418.1,400.6 421.1,433.5 417,391.9 431.5,407 417,399.8 425.3,400 413,407.1 420.4,401.8 431.7,406.7 419.9,408.1 414.3,409.7 425.6,403.9 429,407.6 413.3,412.2 424.4,401.7 414.1,410.6 427.8,399.9 424.2,401.9 428.4,406.6 430.8,410 426.9,407 427.9,409 420.8,404.7 418.6,404.6 430.5,391.9 418.6,412.4 429.4,405.6 421.4,400.5 413,398.4 424,397 427,407.4 413,399.4 431.6,415.9 419,404 421.3,399.1 426.8,399.8 423.7,409.3 421.6,406.7 431.1,412.7 415,406.4 426.3,409.2 412.8,401.8 427.3,406.4 426.3,400.3 420.4,403.5 420.5,404.5 423.5,395 429.9,397.7 415.5,409 420,396.8 421.4,399.6 419.3,397 417.2,401 421.9,411.1 419,404.7 423.9,414 420.9,409.4 428.5,406.2 428.6,397.3 423,402.8 429.4,396.9 422.3,399.7 419.3,407.1 423.6,398 428.9,402 423,407.4 428,405.6 419.3,404.1 425.3,400.3 423.4,396.6 425.1,404.4 421.1,437.7 415,394.8 412.8,388.5 414.2,394.8 413.9,402.2 420.7,404.7 419.8,415.8 424.7,401.6 439.7,408.3 451.8,409.5 440.6,405.6 448,405 447.4,408.5 455.6,396.2 444.7,402.7 440,406.9 446.4,395.9 443.5,399 438.1,406.3 454,407.5 442.9,403.6 435.8,399.4 453.4,409.3 453.3,397.5 443.8,404.5 452.1,398.9 446,403.4 448.3,400.5 445.4,399.8 438.3,396.8 455.4,406 436,394 436.3,408.6 445,401.3 439.8,399.6 453,402.6 453.8,416.3 442,410.2 437.5,402.9 447,398.1 443.5,402.7 456.2,407.8 443.6,402 448.6,401.8 455.6,407.3 454.5,396.6 438.5,405.2 444.6,407.4 446.6,402.2 451.4,405.7 453.5,403.6 454.3,401.6 447.9,404.6 452.5,400 453.7,419.5 437.9,397.1 456,407.3 442.6,402.4 436,401.5 441.4,401.4 449.1,412.4 443.6,407.6 448,401.2 452.1,400.1 442.3,402.5 439.9,401.8 451.2,397.1 437.4,404.3 454.9,406.2 453,395.8 442.8,399.9 446.1,403.4 451,406 454.4,395.3 456.1,403.9 446.1,406.4 444.3,396.8 436.9,409.4 456.4,403.4 441.2,399.8 440.2,404 454.1,405 451.3,400.7 445.8,408.3 449,403.7 455.1,399.4 445.5,407.7 436.9,396.3 456.4,403.6 455.9,403 454.4,404.9 439.8,400 441.9,404.9 436.7,401.6 447.6,396.9 455,396.9 446.9,409.6 438,396.5 438.4,404.9 451.5,382.5 440.5,390.6 451.6,401.4 448,405.4 443.7,400 444.9,398 452.8,405.3 455.7,402.8 438.9,398.9 451.9,397.7 448.5,401.1 440.6,401.4 439.8,400.5 440.2,404.2 455.5,401.1 450.8,404 435.7,404.3 444.4,413.5 451.1,410.9 439.9,401 444.8,399.3 442.3,400.6 446.1,402.2 437.7,404.1 449.4,400.1 437.9,404.5 446.2,402.7 439.1,395.8 448.2,409.1 437.1,405.5 440.8,403.8 451.7,411.5 437.8,408.2 440,397.9 448.5,400.4 447.9,403.4 437.1,396.7 447,407.3 454.9,394 438.1,403.1 443.5,405.5 436.4,397.8 449.4,400.4 437.5,401.8 443.8,403.3 439.6,411.1 451.5,412.3 439.6,402.8 441.7,398.4 449.7,406.4 437.3,402.4 447,410 439,409.7 439.4,403.1 456.4,396.8 437.3,399.4 440.9,397.3 442.8,406.5 450.5,403.6 439.7,399.2 438.4,407.5 441.3,404.2 448.2,402.8 455.8,402.9 447.7,398.8 436,400.9 443.5,404.9 447,413.5 452.3,399.2 456.1,398.3 438.5,400.5 452.6,401.2 450.4,400.8 449.1,397.3 447.1,405.2 449.2,403.2 442.4,407.4 437.1,403.9 441.1,406.6 436.2,406.6 451.9,412 441.2,403.3 454.7,398.2 447.5,416.7 450.1,397 446.3,403.1 453.7,422.4 451.5,401.5 438.4,404.1 449.9,403.3 452.9,396.4 450.2,402.1 453,401.3 450,404.2 445.1,403.7 437.2,407.1 514.9,400.9 521.9,403.4 509.2,406 513.2,409.5 520.2,411.3 522,406.1 509.5,404.8 511.1,402.6 519.6,402.8 519.8,401.9 511.3,394.1 508.6,403.2 507.8,396.6 522.7,406.5 523.3,406.2 506.6,405.3 513.2,411.2 511.4,395.3 513.9,401.7 515.9,402.1 514.9,395 516.4,400.8 515.7,395.4 515.9,413.8 522.4,415.1 511.3,391.9 509.8,405.5 521.5,415.8 515.1,402.8 508,406.1 519.3,411.9 516.4,394.7 519,415 511.1,402.6 522.1,395.6 509.5,399.9 520.7,405.8 511.7,404.2 521.7,405.8 521.1,401.8 520.5,403.3 518.8,408.9 520.2,409.7 520.5,397.7 519.2,408.8 508.1,408.2 513,392.2 521.9,406.8 506.8,409.1 509.5,407.5 521,399.4 521.9,406.4 520.1,403.6 518.3,413.7 516.3,405.9 511,402.8 512.9,402.8 511,396.2 514.1,400.7 517,416.4 515,410.6 524.1,407.2 521.2,404.4 516.6,402.8 508.7,400.1 511.1,410.9 508.5,413.4 509.8,399.4 512.9,407.7 509,414 509.9,407.5 523.9,405.2 514.8,408.7 508.7,408.6 521.6,398.4 514.7,408.3 523.1,401.7 518.1,402.1 518,404.8 520.8,392.2 507.7,409.4 515.8,391.1 520.8,407.6 506.8,404.4 518.6,401.7 515.5,398 510.1,399.9 510,404.8 523.8,404.8 522.4,397.6 522.4,396 507.7,405.6 518.6,397.4 515.5,400.5 507.6,401.9 520.3,408.2 508.4,409 520.3,401.1 509.1,416 523,405.4 519.1,401.1 514.9,410.9 513.6,395.5 516.4,395.3 507.5,408 521.9,403.6 520.3,403.7 521.2,405.6 522.5,405.3 517.9,400.8 517,395.3 519.9,402.7 513,402.6 522.1,402.4 510.6,406.3 517.3,400.1 515.9,405.3 520.8,407.6 522.5,400 512.2,404.6 515.2,405.4 513.1,404.9 512,403.7 522.9,393.6 517.8,407.4 519.8,403.7 509.4,400.2 521.5,403.6 520.6,404 510.4,406.9 510.7,402.9 516.1,416 517.2,400 512.4,398.5 522.4,403.1 520.9,407.5 513.9,396.8 507.9,406.2 510.6,396.8 511,404.3 517.5,406.6 516.6,404 523.7,406.2 516.4,403.8 513.4,400.7 515.5,404.2 520.2,405.1 519.1,403.1 521.5,418.7 513.3,403 516.7,400.5 520.3,400.3 508,401.7 514.7,399.7 518.2,402.9 520.9,397.7 523.6,401.1 507.9,399.1 523.4,403.9 541.1,405.2 545.5,403.5 545.8,404.2 542.1,406.1 542.5,401.3 536,406.7 537.5,403.5 530.8,401.2 532.9,393.6 533.7,411.5 541.2,402.7 541.2,400.1 530.6,403.4 534.5,399.1 542.6,400.6 545.2,400.8 542.3,404.9 539.6,404 530.5,404 538.6,407.4 547.9,402.2 532.9,407.7 534.2,407.1 544.5,409.2 544.1,398.1 544.6,405.5 537.8,406.9 530.5,399.5 544.1,404.9 546.4,401.5 539.8,403.8 537,401.4 532.6,402.2 535.1,412.6 539.4,396.5 543.8,398.5 531.9,409.5 538.5,417.1 530.4,404 539.8,402.5 538.9,397.3 538.7,398.6 534.5,398.7 532.5,394.1 545.8,398.2 546.9,405.7 539.9,408.7 547.1,399.3 537.1,410.6 536.8,404.6 536.6,404.6 531.5,406.1 536.1,397 537.6,401.6 542.6,404 535.5,399 537,404.8 543.6,397.7 538.9,393.9 541,403.6 537.5,403.7 533.5,397.9 537.2,411.7 539.9,408.6 545.4,407.6 536.7,410.2 532.3,403 530.5,401.7 547.5,403.1 541.2,403.1 544.8,398.9 544.5,398.2 540,397.5 533.7,403.6 538.7,402.9 531.6,396.5 540,401.2 546.6,397.2 537.5,405.1 538.7,403.2 534.9,405.9 544.8,403.1 546,401.1 540.2,405 537.8,394.3 532.6,409.6 541,399.2 533.2,407.8 535.1,401.7 536.1,406.4 534.6,402.7 542.4,402.7 541,406.6 545.4,408.4 543.8,406.2 544.5,402.9 534.4,399.4 540.5,395.9 545.3,410.7 540.7,401 534.7,405.1 543,403 536.4,401.6 541.3,399.5 544.9,401.2 539.5,403.1 538.3,396.1 538.5,417.4 541.5,403 546.4,398 538.9,408.1 541.5,407.2 542.3,396.6 544.1,403.9 531.8,410.9 540,399.5 532.1,397.7 530.5,406.5 532.8,408.8 547.6,403.3 540.8,401.5 544,405.7 540.4,407.1 541.3,400.7 536.3,400.7 541.9,410.1 535,408 539.8,404.5 539.3,405.8 539.6,402.1 532.3,400.8 539.2,394.9 535,401.5 530.4,399 543.6,410 532.3,406.1 547,398.4 539.1,409.5 536.6,397.2 530.6,400.7 530.3,402.5 542.2,403.6 542.5,408.2 536.4,407.9 545.3,405.4 535.3,405 539.4,397.7 532.6,407.6 536.4,405.9 543,410.8 537.8,402.4 534.9,403.1 539.1,398.3 545,394.6 540.5,400.7 534.8,406.9 546,402.1 532,401.8 543.5,403.4 538,407.9 570.8,399.4 553.1,404.5 567.6,403.5 564.1,402.5 568.1,402.9 562.5,396 562.7,403.3 556.4,398.8 563.5,402.3 569.2,400 556.5,394.5 569.8,409.9 556.9,397.5 564.4,405.7 569.6,402 567.8,404.4 558.1,405 562.9,409.1 567.3,403.5 570.9,393.1 566.2,398.9 569.8,404 562,411.4 563.9,399.8 557,395.6 559.7,400.9 558.9,410.7 570.6,405.3 570.5,426.1 570,403.2 560.1,397.7 570.4,407.3 564.4,405.8 556,414.3 561.3,397.6 554.2,399.9 562.3,404.9 570.3,411.2 560.1,398.9 559.4,409.4 553.6,408.8 561.5,411.8 565.1,409.5 569.8,407.3 558.7,408 556.9,397.8 570,399.6 554.1,402.6 559.1,405.6 561.5,403.2 570.2,409.1 563.6,401.1 568.8,407.3 569.4,405.3 566.5,401.4 567.3,407.1 556,409.5 567.7,398.2 567.4,411 558.3,409 556.1,408.5 557.2,406.4 568.3,403.6 565.5,418 561.3,405.3 553.8,396.4 569.2,397.4 552.4,440.3 556.1,403.4 569.4,402 562.1,405.6 558.7,410.8 561.9,401.3 564.2,398 565.2,401.6 562.6,418.3 553,398.9 555.2,401.5 557.2,397.7 561,405 563.2,411.4 567.3,400.7 556.1,398.8 554.3,406.7 568,401.9 563.5,399.6 559.4,415.8 553.5,391.5 555.8,399.3 567.4,403.9 562.1,408.5 552.5,447.7 561.6,387.3 560.5,404.5 566.7,399.7 553.9,406.1 559.7,404.5 569.6,399.9 566,407.4 564.6,403.4 559.8,404 556.9,400.7 553.9,399 557.9,403.9 559.1,396.4 560.5,405.3 568.2,404.8 560.4,402.6 564.5,404.2 555.3,399.3 559.2,416.5 569.9,411.4 555.5,431.4 554.2,396.3 553.6,399.1 552.2,443.1 555,401.2 553.8,411.4 555.4,404.5 560,396 565.5,399.9 567.7,392.9 563.1,405.3 554.1,397.5 567.8,402.5 564.8,416.8 568,401.8 566.6,399.3 556,396.7 570.6,402.7 567.1,401.2 558.4,403.4 566.9,401.6 560.2,406.8 554.1,398.2 564.2,399.6 571.1,401.4 564.8,403 569.7,406.1 555.9,407.4 561.8,408.2 557.9,406.7 570.1,398.6 555,400.9 552.6,409.7 562.3,407.5 560.1,396.6 556.2,395 569.8,398.9 557.7,392.9 556.7,406.2 565.1,400.8 570.7,405.9 560.1,392.3 566.6,400.8 553.2,400.8 568.2,401.1 562.4,406.1 564.5,403.1 561.1,413.6 552.5,444.3 559.5,407.5 555.2,399 555.6,396.4 568,401.5 558.8,407.6 567.9,407.9 566.7,399.2 565.4,404 561.3,403.9 553.4,407.8 593.3,402.2 588.6,400.9 580.2,401.4 592.2,402.2 581.9,401.4 577.4,401.5 576.5,405.3 591.9,404.5 585.9,404.2 580.5,406.5 577.1,405.6 594.5,396.9 591.1,409.8 590.3,395.2 583.7,405.6 579.7,400.2 582.8,403.1 588.5,404 587.9,400.5 577.9,395.1 592.4,403.7 587.2,403.3 586.7,405.6 588.2,393.6 586.4,397.6 594.2,397.9 580.1,402.9 589.2,411.9 587.7,400.9 594.7,411.4 588.8,406 580.2,398.6 583,405.8 593.1,406.3 577.5,413 590.6,399.8 585.7,401.2 576.5,405.4 591.7,401.4 579.4,410.6 582.1,407.5 585.7,402.2 582,399 592.1,403.3 594.4,408.9 593.6,405.4 585.2,397.9 590.9,405.9 581.9,401.9 584.9,401.1 585.7,405.7 584.1,403 579.5,411.5 593.2,405.8 588.4,403 582.6,400.2 581.7,397 578,405.3 584.9,400.9 582.2,403.7 593.1,406.8 578,406.8 579.8,403.4 588.3,403.1 581.2,406.6 582.4,390.3 593.9,403.3 580.2,400 578.9,404.4 582.2,390.1 583.2,413.5 585.4,404.8 589.7,402.3 578.6,397.6 579.4,403.4 593.4,407.8 588.9,395.8 577.8,400.1 587.1,404.4 591.9,404.3 580.4,404.3 585.2,402.4 591.1,411.1 581.1,402.5 589.5,406 583.7,400.9 587.1,401.6 587.8,408.1 577.2,396.9 588.5,399.6 591.1,407.4 579.4,408.1 577.3,406.4 585.9,401.6 585.6,397.3 584.5,407.4 592.8,406.8 577,400.8 588,403.4 592.1,403.4 591.3,403.7 589.7,404.7 579.7,395.1 579.8,398.6 583.9,409 590.9,397.4 577.4,394.4 576.9,401 593.1,401.8 582.9,405.5 587.5,402.6 593.7,402.2 577.6,397.1 583.5,407.6 591.9,410.7 579.3,405.5 593,401.5 589.6,412.5 583.3,404.1 591.4,406.9 584.1,408.4 592.4,402.6 595,397.8 587.1,409.5 588.8,402.1 579.8,404 579,400.2 583.5,403.2 581.3,406.1 584.7,399.1 579.2,401.2 588.7,408 586.2,412.5 579.3,406.5 577.4,402.3 587,399.7 594.8,405.9 594.3,405 595,411.6 583.9,405.4 593.3,402.7 577.7,406 575.8,403.7 578,407.8 576.1,407.4 578.1,402 585.2,410.5 591.9,403.2 590,397.8 586,405.9 577,405.6 588.2,407.1 587.9,409.3 591.4,406 586.3,409.2 582.3,404.4 581.3,405.9 585.3,408.6 581,403.2 594.5,398.7 577.6,399.7 588.7,404.7 583.4,403.5 583.6,408.2 586,404.5 581.9,400.4 589.7,399.9 587.6,397.2 585.1,410.4 584.2,396.2 586.8,401.7 589.9,396.3 579.1,403.4 663.1,405.4 664.8,401.5 665.7,399.6 663.2,402.8 661.4,434.7 663.1,401 658.5,402.3 659.7,407.4 667.4,404.4 665.6,404.6 649.9,399.9 655.2,408.9 653.7,406.6 648.3,404.7 648.7,402.8 657.1,392.1 652.8,403.7 669.6,398.1 654.2,399.4 654.5,397 648.4,395 663.2,400.3 669.6,407.3 665.1,404.5 666.7,396.1 649,393.1 650.2,397.1 654.3,392 657,399.7 651.3,406.7 648.6,402.4 659.2,401.5 669.6,398.7 656.8,399 651.8,406.9 653.1,397.5 651.6,405.4 648.3,401.6 662.2,399.9 663.3,399.7 669.2,400.5 656.4,405.4 650.5,403.5 650.5,398.6 658.5,405 664.8,408.2 649.5,414.5 665.6,402.8 652.4,407 649.1,402.9 651,407.8 662.3,404.9 649,404.6 659.7,398.6 668.8,406.9 657.4,408.4 668.6,402.4 653.2,399.2 663.3,407.1 669,400.6 653.6,402.9 667.8,400.7 667.5,411.4 667.5,402.5 656.7,404.1 648.6,402 654,406.1 656.6,403.5 654.8,412.9 662.9,403 662.2,396.7 652.6,402.1 658.3,402.6 666.7,401.4 661.9,396.5 664.3,406.1 666.1,409.7 659.5,408.1 663.7,406.1 660.1,402.5 652.3,399.2 649.3,406.3 659.4,407.6 665.6,398.9 667,398.1 665,406.5 657.7,399.5 662.9,403.8 658.2,405.2 665.4,403.6 654.7,406.9 657.2,428.9 663.6,409.5 667.4,406.5 665.6,401.6 650.8,401.2 650.9,399.1 652.8,406.7 654.3,403.2 650.7,409.7 668.6,407.6 659.1,398.3 648.8,403.7 656,394.4 658.2,399.9 664.2,405.2 665.1,406.3 651.6,412.6 654.6,397 667.3,398.5 657.5,386.5 660.5,393.5 669.3,401.5 656.9,407.9 649.6,411.2 659.5,404.8 652.4,403.2 652.5,409.8 654.7,399.8 656.6,398.5 651.6,407.6 665.5,404.2 647.9,409.6 668.2,398.4 661.6,407.2 653,408.3 648,412.2 653.1,407.8 668.1,411.1 655.5,398.1 655.6,400.1 650.4,408.8 662.6,407.2 654.2,403.4 654.3,402.6 649.5,408 651.1,396.8 651.4,400.1 669.6,393.7 660.1,416 668.8,410.4 654.6,399.7 658.1,402 667.7,404.4 664,408.5 660.4,400.7 662.1,405.5 649.2,396.7 669.1,397.9 668.8,398.8 663.4,411.7 656.2,401.6 654.4,394.8 653.7,394.5 651.6,397.2 648.7,397.7 648.2,406.6 657.6,396.2 658.1,394.2 653.3,401 658.2,400.6 669.6,403.7 654.3,402.1 668.2,404.5 653.7,400.8 659.3,403.8 661.5,410.1 650.8,405.9 666.6,401.1 651.3,402.1 655.3,396.2 659.5,398.5 667.2,397 666.6,403.3 655.4,398 661.4,406.3 653.5,406.2 656.2,398.8 655.2,401.9 659.5,406.7 656.8,398.6 669.6,396.2 655.3,399.4 666.8,396.9 668.5,398.7 667.1,398.7 669.1,406.8 666.4,411.8 657.1,404.6 660.7,418.2 665.2,405.6 658,408.3 664.4,402.5 664.4,406.4 661.5,403.1 652.5,407.3 655.8,404.3 666.8,396.1 682.4,403.3 690.3,402.4 681.7,409.8 677,404.1 676,398.8 690.4,403.4 676.3,398.9 676.7,399.8 690.4,401.8 691.6,404.7 673.9,402.6 675.2,407.4 679.2,399.8 681.3,401.4 685.4,397.3 676.7,392.2 696.1,398.9 676.5,400.3 695.2,402.1 679.5,398.9 687.3,413.1 683.8,404.3 676.9,409 675.4,409.5 683.8,398.2 683.5,400.7 673.4,400.4 681.6,411 673.1,405.6 674,410.4 691.2,408.4 695.6,405.7 677.4,406.2 683.9,395.4 695.9,409 680.5,405.9 676.8,406.6 690.4,402.6 678.7,399.5 685,406.8 680.2,410.9 682.4,405 677.7,401.1 672.9,408.2 682.1,398.3 694.7,407.8 689.8,406.1 694.9,405.1 680.6,393.9 672.8,399.2 677.8,401.3 679.8,407.8 695.1,408.3 695.7,406.3 678.7,395.3 678.9,396.8 683.4,402.3 679.2,406.3 693.5,411.4 690.3,405.2 696.4,400.5 683.1,400.3 697.9,401.1 682.8,406.3 678.5,400.5 693.5,403.7 690,398.8 683.7,401.8 688.6,399.3 673.6,401.4 686.5,405.2 672.9,397.4 685.8,407.9 694.3,399.8 674.5,405.1 680.2,404.7 680.8,401.7 674.7,405.5 686.3,407.8 693.2,407.4 688,408.3 675,402.8 678.4,401.5 684.6,403.4 691.3,410.4 682,402.3 697.8,398.5 685.1,408.4 697.9,407.3 693.1,398.6 677.3,403.8 695.3,397.8 683.5,404.6 696.6,409.8 682.5,403.2 692.5,403.2 691.3,401.6 679.2,407 674.2,421.6 676.8,393.3 682.3,405.6 695.6,395.4 685.8,408.3 695.9,401.9 693.9,401.2 695.6,398.8 687,403 688.8,406 689.2,402.5 696.9,410 694.2,414.8 687.7,410.3 688.2,395.5 687.2,399 690,394.2 693.9,400.6 673,409.9 688.4,407.7 690.1,401.5 675.2,406.9 676.3,407.5 690.9,408.1 681.4,406.6 691.4,412 697.7,401 691,406.4 686.6,397 674.7,395.1 693.6,403.3 690.4,398 678.4,397.8 694.1,402 693.5,403.8 694,396.9 682.5,399.8 691.3,403.8 687.8,405.3 679.3,403 677.8,398.5 679.5,399.7 672.6,405.8 674.3,403.7 690.5,402.2 696,404.9 695.4,403.4 694.1,407.6 680.7,406.8 678.4,401.6 682.9,401.8 689.7,404.4 695.4,392.8 684.3,403.8 695.3,399.7 694.5,401.7 682.6,405.2 675.7,399.7 688.8,397.8 682.7,402.9 695.6,400.6 685.2,389.6 686.6,413.4 688.1,403.9 680.5,400.3 678,402.9 686.6,406.8 675,405.2 687.8,404 686.6,404.2 696.2,402.7 673.4,395.5 678.8,401.9 678.7,404.7 696.1,399.7 685,399.9 697,407.9 685.9,405.8 677.9,408 674.1,401.4 688.7,398.9 696.1,404 684.4,397.1 696.5,405.6 682.9,404.4 672.6,403.2 695.5,402.1 683.8,395.2 681.5,408.1 697.9,400.3 683.7,402.5 676.8,397.4 681.6,409.1 686.8,408.3 696.7,394.9 693.7,397 682.9,397.9 695.9,403.5 688.4,397.9 678.9,402.8 677.5,408 673.9,403.5 677.5,404.1 677,407.7 676.7,405.6 676.9,406.1 682,400.5 673.2,398.4 678.6,397.7 688,397.8 685,407.9 688.2,400.2 689.1,399.1 690.7,401 677,407.3 691,416.5 693.2,402.2 690.5,406.8 685.7,398.7 675.3,409.8 678.4,400.4 684.6,404.9 681.1,409.1 682.6,405 679.1,403.6 684.5,399 693,399.2 674.7,397.1 697.3,399.4 676.6,405.1 694,405 678.2,402.2"/><path d="M80.7 403V427.1M97.7 403V427.1M114.6 403V427.1M131.6 403V427.1M148.5 403V427.1M165.5 403V427.1M182.5 403V427.1M199.4 403V427.1M216.4 403V427.1M233.3 403V427.1M250.3 403V427.1M267.2 403V427.1M284.2 403V427.1M301.1 403V427.1M318.1 403V427.1M335.1 403V427.1M352 403V427.1M369 403V427.1M385.9 403V427.1M402.9 403V427.1M419.8 403V427.1M436.8 403V427.1M453.7 403V427.1M470.7 403V427.1M487.7 403V427.1M504.6 403V427.1M521.6 403V427.1M538.5 403V427.1M555.5 403V427.1M572.4 403V427.1M589.4 403V427.1M606.3 403V427.1M623.3 403V427.1M640.3 403V427.1M657.2 403V427.1M674.2 403V427.1M691.1 403V427.1" stroke="#8a2be2" stroke-width="2" fill="none"/><path d="M119.2 403V439.8M270.2 403V439.8M421.1 403V439.8M572 403V439.8" stroke="#00ffff" stroke-width="2" fill="none"/><path d="M92.5 403V444.4M184.5 403V444.4M276.4 403V444.4M368.4 403V444.4M460.4 403V444.4M552.4 403V444.4M644.3 403V444.4" stroke="#ff1493" stroke-width="2" fill="none"/><g fill="#222" fill-opacity="0.3" stroke="#222" stroke-opacity="0.6" stroke-width="0.7"><circle cx="75" cy="424" r="1.9"/><circle cx="92.4" cy="442.2" r="1.9"/><circle cx="97.7" cy="426.2" r="1.9"/><circle cx="199.4" cy="424.4" r="1.9"/><circle cx="270" cy="424.5" r="1.9"/><circle cx="270.3" cy="438.9" r="1.9"/><circle cx="270.1" cy="434.8" r="1.9"/><circle cx="270.3" cy="435.4" r="1.9"/><circle cx="276.5" cy="449.6" r="1.9"/><circle cx="276.3" cy="442.5" r="1.9"/><circle cx="270" cy="429.9" r="1.9"/><circle cx="301.1" cy="422.5" r="1.9"/><circle cx="368.6" cy="440" r="1.9"/><circle cx="421.3" cy="433.8" r="1.9"/><circle cx="421.2" cy="431.8" r="1.9"/><circle cx="421" cy="433.8" r="1.9"/><circle cx="421.1" cy="433.5" r="1.9"/><circle cx="421.1" cy="437.7" r="1.9"/><circle cx="453.7" cy="422.4" r="1.9"/><circle cx="570.5" cy="426.1" r="1.9"/><circle cx="552.4" cy="440.3" r="1.9"/><circle cx="552.5" cy="447.7" r="1.9"/><circle cx="555.5" cy="431.4" r="1.9"/><circle cx="552.2" cy="443.1" r="1.9"/><circle cx="552.5" cy="444.3" r="1.9"/><circle cx="661.4" cy="434.7" r="1.9"/><circle cx="657.2" cy="428.9" r="1.9"/><circle cx="674.2" cy="421.6" r="1.9"/></g><path d="M67.5 403.6H698.5" stroke="#4f94c8" stroke-width="1.2" fill="none"/><path d="M67.5 402.6H698.5" stroke="#858585" stroke-width="1.5" fill="none"/></g>
<path d="M77.4 101.5v-2.3 M77.4 3.8v2.3M98.5 101.5v-2.3 M98.5 3.8v2.3M119.6 101.5v-2.3 M119.6 3.8v2.3M140.7 101.5v-2.3 M140.7 3.8v2.3M161.9 101.5v-2.3 M161.9 3.8v2.3M183 101.5v-2.3 M183 3.8v2.3M204.1 101.5v-2.3 M204.1 3.8v2.3M225.2 101.5v-2.3 M225.2 3.8v2.3M246.3 101.5v-2.3 M246.3 3.8v2.3M267.5 101.5v-2.3 M267.5 3.8v2.3M288.6 101.5v-2.3 M288.6 3.8v2.3M309.7 101.5v-2.3 M309.7 3.8v2.3M330.8 101.5v-2.3 M330.8 3.8v2.3M351.9 101.5v-2.3 M351.9 3.8v2.3M373.1 101.5v-2.3 M373.1 3.8v2.3M394.2 101.5v-2.3 M394.2 3.8v2.3M415.3 101.5v-2.3 M415.3 3.8v2.3M436.4 101.5v-2.3 M436.4 3.8v2.3M457.5 101.5v-2.3 M457.5 3.8v2.3M478.7 101.5v-2.3 M478.7 3.8v2.3M499.8 101.5v-2.3 M499.8 3.8v2.3M520.9 101.5v-2.3 M520.9 3.8v2.3M542 101.5v-2.3 M542 3.8v2.3M563.1 101.5v-2.3 M563.1 3.8v2.3M584.3 101.5v-2.3 M584.3 3.8v2.3M605.4 101.5v-2.3 M605.4 3.8v2.3M626.5 101.5v-2.3 M626.5 3.8v2.3M647.6 101.5v-2.3 M647.6 3.8v2.3M668.7 101.5v-2.3 M668.7 3.8v2.3M689.9 101.5v-2.3 M689.9 3.8v2.3M98.5 101.5v-4.3 M98.5 3.8v4.3M204.1 101.5v-4.3 M204.1 3.8v4.3M309.7 101.5v-4.3 M309.7 3.8v4.3M415.3 101.5v-4.3 M415.3 3.8v4.3M520.9 101.5v-4.3 M520.9 3.8v4.3M626.5 101.5v-4.3 M626.5 3.8v4.3M67.5 5.3h2.3 M698.5 5.3h-2.3M67.5 9.9h2.3 M698.5 9.9h-2.3M67.5 14.4h2.3 M698.5 14.4h-2.3M67.5 19h2.3 M698.5 19h-2.3M67.5 23.5h2.3 M698.5 23.5h-2.3M67.5 28.1h2.3 M698.5 28.1h-2.3M67.5 32.7h2.3 M698.5 32.7h-2.3M67.5 37.2h2.3 M698.5 37.2h-2.3M67.5 41.8h2.3 M698.5 41.8h-2.3M67.5 46.3h2.3 M698.5 46.3h-2.3M67.5 50.9h2.3 M698.5 50.9h-2.3M67.5 55.5h2.3 M698.5 55.5h-2.3M67.5 60h2.3 M698.5 60h-2.3M67.5 64.6h2.3 M698.5 64.6h-2.3M67.5 69.1h2.3 M698.5 69.1h-2.3M67.5 73.7h2.3 M698.5 73.7h-2.3M67.5 78.3h2.3 M698.5 78.3h-2.3M67.5 82.8h2.3 M698.5 82.8h-2.3M67.5 87.4h2.3 M698.5 87.4h-2.3M67.5 91.9h2.3 M698.5 91.9h-2.3M67.5 96.5h2.3 M698.5 96.5h-2.3M67.5 101.1h2.3 M698.5 101.1h-2.3M67.5 5.3h4.3 M698.5 5.3h-4.3M67.5 28.1h4.3 M698.5 28.1h-4.3M67.5 50.9h4.3 M698.5 50.9h-4.3M67.5 73.7h4.3 M698.5 73.7h-4.3M67.5 96.5h4.3 M698.5 96.5h-4.3" stroke="#1a1a1a" stroke-width="0.9" fill="none"/>
<rect x="67.5" y="3.8" width="631" height="97.7" fill="none" stroke="#1a1a1a" stroke-width="1.25"/>
<path d="M74.7 223.6v-2.3 M74.7 125.9v2.3M92.5 223.6v-2.3 M92.5 125.9v2.3M110.3 223.6v-2.3 M110.3 125.9v2.3M128.1 223.6v-2.3 M128.1 125.9v2.3M145.9 223.6v-2.3 M145.9 125.9v2.3M163.7 223.6v-2.3 M163.7 125.9v2.3M181.4 223.6v-2.3 M181.4 125.9v2.3M199.2 223.6v-2.3 M199.2 125.9v2.3M217 223.6v-2.3 M217 125.9v2.3M234.8 223.6v-2.3 M234.8 125.9v2.3M252.6 223.6v-2.3 M252.6 125.9v2.3M270.4 223.6v-2.3 M270.4 125.9v2.3M288.2 223.6v-2.3 M288.2 125.9v2.3M306 223.6v-2.3 M306 125.9v2.3M323.8 223.6v-2.3 M323.8 125.9v2.3M341.6 223.6v-2.3 M341.6 125.9v2.3M359.3 223.6v-2.3 M359.3 125.9v2.3M377.1 223.6v-2.3 M377.1 125.9v2.3M394.9 223.6v-2.3 M394.9 125.9v2.3M412.7 223.6v-2.3 M412.7 125.9v2.3M430.5 223.6v-2.3 M430.5 125.9v2.3M448.3 223.6v-2.3 M448.3 125.9v2.3M466.1 223.6v-2.3 M466.1 125.9v2.3M483.9 223.6v-2.3 M483.9 125.9v2.3M501.7 223.6v-2.3 M501.7 125.9v2.3M519.5 223.6v-2.3 M519.5 125.9v2.3M537.2 223.6v-2.3 M537.2 125.9v2.3M555 223.6v-2.3 M555 125.9v2.3M572.8 223.6v-2.3 M572.8 125.9v2.3M590.6 223.6v-2.3 M590.6 125.9v2.3M608.4 223.6v-2.3 M608.4 125.9v2.3M626.2 223.6v-2.3 M626.2 125.9v2.3M644 223.6v-2.3 M644 125.9v2.3M661.8 223.6v-2.3 M661.8 125.9v2.3M679.6 223.6v-2.3 M679.6 125.9v2.3M697.4 223.6v-2.3 M697.4 125.9v2.3M92.5 223.6v-4.3 M92.5 125.9v4.3M181.4 223.6v-4.3 M181.4 125.9v4.3M270.4 223.6v-4.3 M270.4 125.9v4.3M359.3 223.6v-4.3 M359.3 125.9v4.3M448.3 223.6v-4.3 M448.3 125.9v4.3M537.2 223.6v-4.3 M537.2 125.9v4.3M626.2 223.6v-4.3 M626.2 125.9v4.3M67.5 128.6h2.3 M698.5 128.6h-2.3M67.5 131.8h2.3 M698.5 131.8h-2.3M67.5 135.1h2.3 M698.5 135.1h-2.3M67.5 138.4h2.3 M698.5 138.4h-2.3M67.5 141.6h2.3 M698.5 141.6h-2.3M67.5 144.9h2.3 M698.5 144.9h-2.3M67.5 148.1h2.3 M698.5 148.1h-2.3M67.5 151.4h2.3 M698.5 151.4h-2.3M67.5 154.7h2.3 M698.5 154.7h-2.3M67.5 157.9h2.3 M698.5 157.9h-2.3M67.5 161.2h2.3 M698.5 161.2h-2.3M67.5 164.4h2.3 M698.5 164.4h-2.3M67.5 167.7h2.3 M698.5 167.7h-2.3M67.5 171h2.3 M698.5 171h-2.3M67.5 174.2h2.3 M698.5 174.2h-2.3M67.5 177.5h2.3 M698.5 177.5h-2.3M67.5 180.7h2.3 M698.5 180.7h-2.3M67.5 184h2.3 M698.5 184h-2.3M67.5 187.3h2.3 M698.5 187.3h-2.3M67.5 190.5h2.3 M698.5 190.5h-2.3M67.5 193.8h2.3 M698.5 193.8h-2.3M67.5 197h2.3 M698.5 197h-2.3M67.5 200.3h2.3 M698.5 200.3h-2.3M67.5 203.5h2.3 M698.5 203.5h-2.3M67.5 206.8h2.3 M698.5 206.8h-2.3M67.5 210.1h2.3 M698.5 210.1h-2.3M67.5 213.3h2.3 M698.5 213.3h-2.3M67.5 216.6h2.3 M698.5 216.6h-2.3M67.5 219.8h2.3 M698.5 219.8h-2.3M67.5 223.1h2.3 M698.5 223.1h-2.3M67.5 135.1h4.3 M698.5 135.1h-4.3M67.5 151.4h4.3 M698.5 151.4h-4.3M67.5 167.7h4.3 M698.5 167.7h-4.3M67.5 184h4.3 M698.5 184h-4.3M67.5 200.3h4.3 M698.5 200.3h-4.3M67.5 216.6h4.3 M698.5 216.6h-4.3" stroke="#1a1a1a" stroke-width="0.9" fill="none"/>
<rect x="67.5" y="125.9" width="631" height="97.7" fill="none" stroke="#1a1a1a" stroke-width="1.25"/>
<path d="M77.4 345.7v-2.3 M77.4 248v2.3M98.5 345.7v-2.3 M98.5 248v2.3M119.6 345.7v-2.3 M119.6 248v2.3M140.7 345.7v-2.3 M140.7 248v2.3M161.9 345.7v-2.3 M161.9 248v2.3M183 345.7v-2.3 M183 248v2.3M204.1 345.7v-2.3 M204.1 248v2.3M225.2 345.7v-2.3 M225.2 248v2.3M246.3 345.7v-2.3 M246.3 248v2.3M267.5 345.7v-2.3 M267.5 248v2.3M288.6 345.7v-2.3 M288.6 248v2.3M309.7 345.7v-2.3 M309.7 248v2.3M330.8 345.7v-2.3 M330.8 248v2.3M351.9 345.7v-2.3 M351.9 248v2.3M373.1 345.7v-2.3 M373.1 248v2.3M394.2 345.7v-2.3 M394.2 248v2.3M415.3 345.7v-2.3 M415.3 248v2.3M436.4 345.7v-2.3 M436.4 248v2.3M457.5 345.7v-2.3 M457.5 248v2.3M478.7 345.7v-2.3 M478.7 248v2.3M499.8 345.7v-2.3 M499.8 248v2.3M520.9 345.7v-2.3 M520.9 248v2.3M542 345.7v-2.3 M542 248v2.3M563.1 345.7v-2.3 M563.1 248v2.3M584.3 345.7v-2.3 M584.3 248v2.3M605.4 345.7v-2.3 M605.4 248v2.3M626.5 345.7v-2.3 M626.5 248v2.3M647.6 345.7v-2.3 M647.6 248v2.3M668.7 345.7v-2.3 M668.7 248v2.3M689.9 345.7v-2.3 M689.9 248v2.3M98.5 345.7v-4.3 M98.5 248v4.3M204.1 345.7v-4.3 M204.1 248v4.3M309.7 345.7v-4.3 M309.7 248v4.3M415.3 345.7v-4.3 M415.3 248v4.3M520.9 345.7v-4.3 M520.9 248v4.3M626.5 345.7v-4.3 M626.5 248v4.3M67.5 249.3h2.3 M698.5 249.3h-2.3M67.5 254.6h2.3 M698.5 254.6h-2.3M67.5 259.8h2.3 M698.5 259.8h-2.3M67.5 265h2.3 M698.5 265h-2.3M67.5 270.2h2.3 M698.5 270.2h-2.3M67.5 275.5h2.3 M698.5 275.5h-2.3M67.5 280.7h2.3 M698.5 280.7h-2.3M67.5 285.9h2.3 M698.5 285.9h-2.3M67.5 291.2h2.3 M698.5 291.2h-2.3M67.5 296.4h2.3 M698.5 296.4h-2.3M67.5 301.6h2.3 M698.5 301.6h-2.3M67.5 306.9h2.3 M698.5 306.9h-2.3M67.5 312.1h2.3 M698.5 312.1h-2.3M67.5 317.3h2.3 M698.5 317.3h-2.3M67.5 322.5h2.3 M698.5 322.5h-2.3M67.5 327.8h2.3 M698.5 327.8h-2.3M67.5 333h2.3 M698.5 333h-2.3M67.5 338.2h2.3 M698.5 338.2h-2.3M67.5 343.5h2.3 M698.5 343.5h-2.3M67.5 254.6h4.3 M698.5 254.6h-4.3M67.5 280.7h4.3 M698.5 280.7h-4.3M67.5 306.9h4.3 M698.5 306.9h-4.3M67.5 333h4.3 M698.5 333h-4.3" stroke="#1a1a1a" stroke-width="0.9" fill="none"/>
<rect x="67.5" y="248" width="631" height="97.7" fill="none" stroke="#1a1a1a" stroke-width="1.25"/>
<path d="M74.7 467.8v-2.3 M74.7 370.1v2.3M92.5 467.8v-2.3 M92.5 370.1v2.3M110.3 467.8v-2.3 M110.3 370.1v2.3M128.1 467.8v-2.3 M128.1 370.1v2.3M145.9 467.8v-2.3 M145.9 370.1v2.3M163.7 467.8v-2.3 M163.7 370.1v2.3M181.4 467.8v-2.3 M181.4 370.1v2.3M199.2 467.8v-2.3 M199.2 370.1v2.3M217 467.8v-2.3 M217 370.1v2.3M234.8 467.8v-2.3 M234.8 370.1v2.3M252.6 467.8v-2.3 M252.6 370.1v2.3M270.4 467.8v-2.3 M270.4 370.1v2.3M288.2 467.8v-2.3 M288.2 370.1v2.3M306 467.8v-2.3 M306 370.1v2.3M323.8 467.8v-2.3 M323.8 370.1v2.3M341.6 467.8v-2.3 M341.6 370.1v2.3M359.3 467.8v-2.3 M359.3 370.1v2.3M377.1 467.8v-2.3 M377.1 370.1v2.3M394.9 467.8v-2.3 M394.9 370.1v2.3M412.7 467.8v-2.3 M412.7 370.1v2.3M430.5 467.8v-2.3 M430.5 370.1v2.3M448.3 467.8v-2.3 M448.3 370.1v2.3M466.1 467.8v-2.3 M466.1 370.1v2.3M483.9 467.8v-2.3 M483.9 370.1v2.3M501.7 467.8v-2.3 M501.7 370.1v2.3M519.5 467.8v-2.3 M519.5 370.1v2.3M537.2 467.8v-2.3 M537.2 370.1v2.3M555 467.8v-2.3 M555 370.1v2.3M572.8 467.8v-2.3 M572.8 370.1v2.3M590.6 467.8v-2.3 M590.6 370.1v2.3M608.4 467.8v-2.3 M608.4 370.1v2.3M626.2 467.8v-2.3 M626.2 370.1v2.3M644 467.8v-2.3 M644 370.1v2.3M661.8 467.8v-2.3 M661.8 370.1v2.3M679.6 467.8v-2.3 M679.6 370.1v2.3M697.4 467.8v-2.3 M697.4 370.1v2.3M92.5 467.8v-4.3 M92.5 370.1v4.3M181.4 467.8v-4.3 M181.4 370.1v4.3M270.4 467.8v-4.3 M270.4 370.1v4.3M359.3 467.8v-4.3 M359.3 370.1v4.3M448.3 467.8v-4.3 M448.3 370.1v4.3M537.2 467.8v-4.3 M537.2 370.1v4.3M626.2 467.8v-4.3 M626.2 370.1v4.3M67.5 371.9h2.3 M698.5 371.9h-2.3M67.5 377.1h2.3 M698.5 377.1h-2.3M67.5 382.3h2.3 M698.5 382.3h-2.3M67.5 387.5h2.3 M698.5 387.5h-2.3M67.5 392.6h2.3 M698.5 392.6h-2.3M67.5 397.8h2.3 M698.5 397.8h-2.3M67.5 403h2.3 M698.5 403h-2.3M67.5 408.2h2.3 M698.5 408.2h-2.3M67.5 413.4h2.3 M698.5 413.4h-2.3M67.5 418.5h2.3 M698.5 418.5h-2.3M67.5 423.7h2.3 M698.5 423.7h-2.3M67.5 428.9h2.3 M698.5 428.9h-2.3M67.5 434.1h2.3 M698.5 434.1h-2.3M67.5 439.3h2.3 M698.5 439.3h-2.3M67.5 444.4h2.3 M698.5 444.4h-2.3M67.5 449.6h2.3 M698.5 449.6h-2.3M67.5 454.8h2.3 M698.5 454.8h-2.3M67.5 460h2.3 M698.5 460h-2.3M67.5 465.2h2.3 M698.5 465.2h-2.3M67.5 377.1h4.3 M698.5 377.1h-4.3M67.5 403h4.3 M698.5 403h-4.3M67.5 428.9h4.3 M698.5 428.9h-4.3M67.5 454.8h4.3 M698.5 454.8h-4.3" stroke="#1a1a1a" stroke-width="0.9" fill="none"/>
<rect x="67.5" y="370.1" width="631" height="97.7" fill="none" stroke="#1a1a1a" stroke-width="1.25"/>
<text x="61.3" y="9.7" font-size="13" text-anchor="end" textLength="36.8" lengthAdjust="spacingAndGlyphs">1.0125</text><text x="61.3" y="32.5" font-size="13" text-anchor="end" textLength="36.8" lengthAdjust="spacingAndGlyphs">1.0050</text><text x="61.3" y="55.3" font-size="13" text-anchor="end" textLength="36.8" lengthAdjust="spacingAndGlyphs">0.9975</text><text x="61.3" y="78.1" font-size="13" text-anchor="end" textLength="36.8" lengthAdjust="spacingAndGlyphs">0.9900</text><text x="61.3" y="100.9" font-size="13" text-anchor="end" textLength="36.8" lengthAdjust="spacingAndGlyphs">0.9825</text><text x="61.3" y="139.5" font-size="13" text-anchor="end" textLength="36.8" lengthAdjust="spacingAndGlyphs">1.0200</text><text x="61.3" y="155.8" font-size="13" text-anchor="end" textLength="36.8" lengthAdjust="spacingAndGlyphs">1.0125</text><text x="61.3" y="172.1" font-size="13" text-anchor="end" textLength="36.8" lengthAdjust="spacingAndGlyphs">1.0050</text><text x="61.3" y="188.4" font-size="13" text-anchor="end" textLength="36.8" lengthAdjust="spacingAndGlyphs">0.9975</text><text x="61.3" y="204.7" font-size="13" text-anchor="end" textLength="36.8" lengthAdjust="spacingAndGlyphs">0.9900</text><text x="61.3" y="221" font-size="13" text-anchor="end" textLength="36.8" lengthAdjust="spacingAndGlyphs">0.9825</text><text x="61.3" y="259" font-size="13" text-anchor="end" textLength="30.2" lengthAdjust="spacingAndGlyphs">1.001</text><text x="61.3" y="381.5" font-size="13" text-anchor="end" textLength="30.2" lengthAdjust="spacingAndGlyphs">1.001</text><text x="61.3" y="285.1" font-size="13" text-anchor="end" textLength="30.2" lengthAdjust="spacingAndGlyphs">1.000</text><text x="61.3" y="407.4" font-size="13" text-anchor="end" textLength="30.2" lengthAdjust="spacingAndGlyphs">1.000</text><text x="61.3" y="311.2" font-size="13" text-anchor="end" textLength="30.2" lengthAdjust="spacingAndGlyphs">0.999</text><text x="61.3" y="433.3" font-size="13" text-anchor="end" textLength="30.2" lengthAdjust="spacingAndGlyphs">0.999</text><text x="61.3" y="337.4" font-size="13" text-anchor="end" textLength="30.2" lengthAdjust="spacingAndGlyphs">0.998</text><text x="61.3" y="459.2" font-size="13" text-anchor="end" textLength="30.2" lengthAdjust="spacingAndGlyphs">0.998</text><text x="98.5" y="115.5" font-size="13" text-anchor="middle" textLength="26" lengthAdjust="spacingAndGlyphs">1400</text><text x="98.5" y="359.7" font-size="13" text-anchor="middle" textLength="26" lengthAdjust="spacingAndGlyphs">1400</text><text x="204.1" y="115.5" font-size="13" text-anchor="middle" textLength="26" lengthAdjust="spacingAndGlyphs">1450</text><text x="204.1" y="359.7" font-size="13" text-anchor="middle" textLength="26" lengthAdjust="spacingAndGlyphs">1450</text><text x="309.7" y="115.5" font-size="13" text-anchor="middle" textLength="26" lengthAdjust="spacingAndGlyphs">1500</text><text x="309.7" y="359.7" font-size="13" text-anchor="middle" textLength="26" lengthAdjust="spacingAndGlyphs">1500</text><text x="415.3" y="115.5" font-size="13" text-anchor="middle" textLength="26" lengthAdjust="spacingAndGlyphs">1550</text><text x="415.3" y="359.7" font-size="13" text-anchor="middle" textLength="26" lengthAdjust="spacingAndGlyphs">1550</text><text x="520.9" y="115.5" font-size="13" text-anchor="middle" textLength="26" lengthAdjust="spacingAndGlyphs">1600</text><text x="520.9" y="359.7" font-size="13" text-anchor="middle" textLength="26" lengthAdjust="spacingAndGlyphs">1600</text><text x="626.5" y="115.5" font-size="13" text-anchor="middle" textLength="26" lengthAdjust="spacingAndGlyphs">1650</text><text x="626.5" y="359.7" font-size="13" text-anchor="middle" textLength="26" lengthAdjust="spacingAndGlyphs">1650</text><text x="92.5" y="237.6" font-size="13" text-anchor="middle" textLength="26" lengthAdjust="spacingAndGlyphs">2050</text><text x="92.5" y="481.8" font-size="13" text-anchor="middle" textLength="26" lengthAdjust="spacingAndGlyphs">2050</text><text x="181.4" y="237.6" font-size="13" text-anchor="middle" textLength="26" lengthAdjust="spacingAndGlyphs">2100</text><text x="181.4" y="481.8" font-size="13" text-anchor="middle" textLength="26" lengthAdjust="spacingAndGlyphs">2100</text><text x="270.4" y="237.6" font-size="13" text-anchor="middle" textLength="26" lengthAdjust="spacingAndGlyphs">2150</text><text x="270.4" y="481.8" font-size="13" text-anchor="middle" textLength="26" lengthAdjust="spacingAndGlyphs">2150</text><text x="359.3" y="237.6" font-size="13" text-anchor="middle" textLength="26" lengthAdjust="spacingAndGlyphs">2200</text><text x="359.3" y="481.8" font-size="13" text-anchor="middle" textLength="26" lengthAdjust="spacingAndGlyphs">2200</text><text x="448.3" y="237.6" font-size="13" text-anchor="middle" textLength="26" lengthAdjust="spacingAndGlyphs">2250</text><text x="448.3" y="481.8" font-size="13" text-anchor="middle" textLength="26" lengthAdjust="spacingAndGlyphs">2250</text><text x="537.2" y="237.6" font-size="13" text-anchor="middle" textLength="26" lengthAdjust="spacingAndGlyphs">2300</text><text x="537.2" y="481.8" font-size="13" text-anchor="middle" textLength="26" lengthAdjust="spacingAndGlyphs">2300</text><text x="626.2" y="237.6" font-size="13" text-anchor="middle" textLength="26" lengthAdjust="spacingAndGlyphs">2350</text><text x="626.2" y="481.8" font-size="13" text-anchor="middle" textLength="26" lengthAdjust="spacingAndGlyphs">2350</text><text x="382.8" y="501" font-size="15.3" text-anchor="middle" textLength="103.5" lengthAdjust="spacingAndGlyphs">BJD - 2457000</text><text transform="translate(13.8 237.1) rotate(-90)" font-size="15.6" text-anchor="middle" textLength="116" lengthAdjust="spacingAndGlyphs">Normalized Flux</text>
<defs><clipPath id="b0"><rect x="68.7" y="518.3" width="204.4" height="219.8"/></clipPath><clipPath id="r0"><rect x="68.7" y="751" width="204.4" height="73.4"/></clipPath><clipPath id="b1"><rect x="280.4" y="518.3" width="203.9" height="219.8"/></clipPath><clipPath id="r1"><rect x="280.4" y="751" width="203.9" height="73.4"/></clipPath><clipPath id="b2"><rect x="491.5" y="518.3" width="205" height="219.8"/></clipPath><clipPath id="r2"><rect x="491.5" y="751" width="205" height="73.4"/></clipPath></defs>
<g clip-path="url(#b0)"><polyline fill="none" stroke="none" marker-start="url(#og)" marker-mid="url(#og)" marker-end="url(#og)" points="179.4,675.8 224.8,583.2 218.4,615.1 181.9,642.5 188.4,620.6 251.7,667.7 118.4,604.9 226.1,646.9 147.7,667.4 204.3,669 271.5,608.1 156.4,648.2 236.1,659.1 154.6,648.2 119.2,604.6 101.8,645.2 249.1,623.5 267.8,647.9 224.2,632.2 139.3,589.7 260.7,627.5 167.5,659.7 170.2,623 247.4,663.2 72.3,627.2 219.7,612.1 155.4,677.7 229.4,615.7 138.9,583.6 103.1,597 191.4,663.2 194.1,626.5 148.7,651.9 140.9,637 261.5,594.9 102.5,624.3 209.1,628 147.1,636.9 271.3,649.7 268.4,653.9 224.2,633.8 179.6,641.6 167,647.9 97.1,573.2 186.1,632 242.3,637 228.2,631.6 145.4,593 105,595 164.3,631.9 76.4,650.2 184.6,661.1 212.9,635.1 69.9,619.5 229.5,621.7 144.1,615.5 189.5,683.7 201.8,623.4 245.5,607.6 268.9,617.4 202.4,627.5 160.2,653.6 222.1,634.4 214.3,663.2 144.7,629.5 252.6,604.1 95.5,628.3 72.4,598.6 107.7,634.3 203,637.8 270.5,605.1 151.1,666.6 95.7,636.3 231.8,655.2 270.8,628.2 83.7,646.7 206.3,643.4 175,661.8 197.1,640 143.4,614.1 126,603.7 240.8,559.1 86.5,621.8 208.5,605 156.8,663.7 182.9,637.7 261.5,632.7 216.1,624.9 217.5,615.8 166.5,657.2 204.6,636.8 154.6,659.5 160.4,656.1 242.4,619.3 190.2,675.1 227.7,594.9 189.2,624.9 172.8,663.4 221.3,607 136.6,617.8 239.2,647.8 195.8,648.8 120,620.4 205.8,643.1 238.8,624.2 115.7,636.6 142.3,599.1 178.6,672.3 116,599.5 208.7,641 235.7,623.8 164.8,577.2 76.9,664.5 135.7,652.4 216.4,650.2 192.6,685 172.7,659.9 226.4,579.8 266.7,651.1 169.7,657.3 124.2,612 223.6,616.3 105.2,669.6 100.3,618.5 207.3,594.1 120.5,597.3 229.3,685.9 125,622.5 165.2,622.5 143.3,598.2 109.2,640.4 122.7,621.3 198.5,620 111.2,637.1 211.8,624.8 168.3,641.4 124.2,650.5 240,634.3 120.5,640.5 261.3,597.5 185.1,640.1 225.4,608.6 270.7,620.5 166.4,626.7 211.4,637.2 85.1,622.7 224.5,651.2 88,621.7 125.6,622.7 232.8,661.8 210,663.9 137.7,649.3 91.9,618 94.2,643.7 229.8,637.1 124.2,669.4 120.2,564.6 70.9,634.6 184.7,672.4 215.4,659.1 259.8,606.2 266.4,631.2 110.1,623.4 79.7,622.5 153.7,649.1 137.5,616.2 89.9,583.8 235.9,638.4 141.3,627.5 226.8,605.3 133.8,620.5 114.3,601.3 138.1,621.6 203.1,636.1 145.5,616.5 234.6,658.2 162.8,645.1 211.8,621.5 147.6,601.5 215.4,640.8 173.1,650.6 268.4,628.7 193.9,664.5 155.3,649.2 202.9,634.8 135.5,637.1 197.5,623.6 113,566.9 269.8,636.8 241.8,614.2 108.7,624 115.6,634.7 177.7,633.2 197.6,601.5 135.8,601.9 245.2,618.3 90.8,617.4 183.9,655 154.1,626.2 261.4,621.5 218,631.9 253.5,638.3 233.8,621.6 106.1,652.9 135.9,637.4 139.1,655.6 89,599.1 239.4,596.9 239.5,619.5 231.4,647.4 73.4,630.5 270.9,593.4 240.6,601.8 95.7,604.7 125.9,580.9 197.6,589.2 164.3,608 108.3,619.8 215.1,633.6 217.1,626.4 104.2,611.7 164.5,623.7 251,619.8 107.9,625.6 88.4,614.4 227.6,588.7 267.2,615 171.5,674.7 72.5,625.5 70.8,621.2 139.1,587 269.2,646.1 153.2,655.6 244.1,647.8 255,597 144.9,622.4 227.5,611.4 201.9,609.1 187.2,647.8 123.9,662.9 226.5,592.2 208.1,662.1 145.1,624.3 130.7,617 101.9,631.3 74.2,620.7 160.6,641.9 201.3,621.6 177.9,636.9 189.7,678.5 126.4,659.3 203,605.5 85,651.3 115.7,622.5 102,596.9 124.9,621.2 227.6,666.8 166.2,644.4 214.7,628.6 234,629.8 155.7,634.9 134.1,640 82.6,620.6 166.1,601.4 248.5,634.3 256.1,616.9 205.8,598.5 176.8,627 253.8,636.4 131.2,670.5 131.6,653.8 265.4,618.9 228,630.7 266.9,626.2 211.5,560 74.1,604.4 190.3,653.1 145.5,601.1 126.9,597.8 209.5,625.3 242.1,616.6 229.9,620.2 240,629.5 113.3,645.4 159.9,621.1 195.1,599.4 74,642.8 179.1,638.2 80.1,639.9 160.1,666.7 136.9,616.1 198.9,627.2 155.4,645.5 113.8,622.5 96.9,615.9 240.9,614.3 81.4,641.9 183.6,643.2 176.5,632 87.1,651.8 142.5,622.5 246.1,650.9 247.5,627.7 86.3,600.4 255.2,621.6 153.8,644.6 191.2,642 93.7,659.5 179.6,623.3 205.3,648.7 142.8,663.8 157,653.7 217.6,644.1 121.9,618.6 145.3,637.6 188.5,665.8 262.1,664.7 206.5,650.9 125,659.4 258.7,629.6 124.3,596.5 169.2,664.9 120.8,645.7 137.6,638 233,633.1 115.5,630 255.9,602.6 231.9,630.7 263.3,628.9 230.3,628.8 159.2,669 193.5,660.2 150.5,688.9 176.5,660.7 195.3,650.4 78.3,630.6 175.2,613.1 174.7,689.4 203.8,603.7 167.6,613.8 74.9,629.8 219.5,626.8 240.3,595.7 177.5,633 245.7,619.9 267.3,644.9 78.2,639.2 266.9,613.2 147.4,619.3 188.2,642.8 270.6,601.5 94.9,596.9 70.9,664.1 161.7,652.1 190.6,654 271.5,614.9 257,577.7 205.6,644.1 185,660.7 230.3,613 137,646.1 186,657.4 195.5,611.4 89.2,599.2 134.1,594.9 78.7,605.1 145.2,634.8 179.4,647.1 88.9,602.4 107.5,635.9 103.2,613 264.2,638.5 78.4,607.7 77.1,612.8 150.1,668.7 149.3,656.4 222.2,636.9 111.7,611 89.4,636.9 122.5,670.2 237,628.8 140.5,623.5 193,664.4 166.6,620.8 247.2,604.8 74.1,655.1 178.2,644.9 223.8,676.2 229.1,645.5 221.4,653.4 142.8,631.6 232.5,624.7 193,636.6 242.5,638.7 249.4,646.2 183.1,636.9 80.9,638.8 269.6,598.5 111.3,630.4 194.2,640.8 73.2,615.2 75.4,634.5 243.7,608.1 269.3,610.9 126.9,622 165.6,669.8 75.4,630.1 70.6,632.6 87.1,622.3 250.4,623.4 102.9,632.1 82.2,629.7 172.4,649.2 107.8,656.4 259,632.5 231.3,641 219.7,628 127.4,653.6 194.7,600.2 193.2,618.8 78.3,621.4 217.3,638.2 268.5,617.9 130.5,634.7 245.4,607.5 109.5,625.9 76.6,628.8 155.4,685.6 182.2,662.3 157,641 120.4,651.7 82,632.2 152.2,627.9 85.4,599.3 109.5,638.4 238.9,688.5 229,627.8 244.5,616.6 158.4,677.7 180.6,622.1 263.6,630.3 230.6,596.9 95.6,629.5 228.1,624.8 121.3,648.9 193.1,626.5 74.4,622.8 149.9,657.6 150.7,632.5 180.9,655.7 152.8,613.4 100.7,617.2 246.5,628.2 152.5,648.9 86.5,592.2 219.6,626.2 222.5,618.6 80.9,648.3 92.2,613 70.4,626 178.9,661.5 183.7,665.4 269.6,607.4 130.9,627.9 100,615.8 256,613.5 106.3,597.8 193.5,593.2 85.7,636.8 231.4,632.9 89,668.2 83.2,627.9 104.9,622.6 247.8,659.7 172.7,647.3 191.7,643.4 109.9,630.2 256.4,625.5 257.7,651.3 143.1,628.4 220.8,587 262,630.2 181.4,657.4 167.7,653 198.7,599.2 74.6,655.8 91.1,591.2 176.9,658.6 152.2,635.2 125.2,613.6 174.6,664.3 168.1,653.9 154.7,630.7 248.6,631 95.7,659.7 253.4,619.4 231.1,651.8 120.6,618.8 188,646.9 223.6,658.8 182.1,630 101.6,625.5 142.8,606.2 180,645.2 208.9,642.2 165.1,685.8 194.4,639.3 218.1,651.6 226.3,639.1 224,673.2 163.3,685.3 246,628.6 102.1,623.8 185.5,606.7 104.6,603.5 94.8,650 178.4,630.2 188.6,651 250.4,665.1 225.8,618.2 223.8,657.5 167.1,687 155.5,667.2 222.5,630.7 242.9,636.6 118.4,643.4 94.6,629.7 133.5,616.7 150.3,658.5 271,640 233.7,627 234.5,622.4 267.1,616.7 251.2,580.1 105.8,678.9 118.5,607.2 230.3,621.8 257.5,607.6 145.6,651.9 272.2,625.6 104.8,600.2 76.7,598.3 259.3,604.4 137,623.1 86.4,646.9 254.1,630.9 126.6,668.8 238,636.3 263.2,654.4 147.3,645.4 141.5,640.8 209.7,612.1 115.6,615.9 259.2,620.7 268.5,620.5 75.1,623.2 237.5,596.8 128,632.9 157.9,656.6 109.5,647.8 236.7,626.7 189.8,618.6 199.8,593.5 212.8,633.8 145.4,615.2 245.2,636.6 76.8,611.9 171.5,671.3 165.3,638.5 166.8,634.9 182.9,683.3 205.8,633.1 126.6,648.3 180.1,643.3 136.7,620.9 270.7,626.7 245.8,615.6 70.7,623.1 81.5,616.4 130.6,633.2 214.2,614.6 272.2,652.8 255.8,614.4 71,641.2 109.8,634 269.7,624.3 163.6,641.6 191,609.2 166.3,662.5 179.9,641 88.4,650.7 238.1,656 153.4,613.9 181,650 134.6,614.2 110.8,627.1 120.3,675.1 159.6,629.2 99.2,612.4 213.3,611 122.9,596.9 258.5,632 246.2,625.8 261.8,641.3 192.9,649 187.3,660.6 141.2,644.6 75.4,639 229.6,625.9 195.9,648.4 133,649.5 188.1,661.4 250,656.7 105,644.4 88.4,632.7 156.5,639.2 116.7,608.5 260.1,612.6 244,632 94.5,636.9 139.3,638.3 217.6,630.4 170,671.1 261.5,617.8 258.5,629.2 70.8,633.2 262.4,647.2 93.7,603.5 106.3,597.1 220.2,649.9 206.8,593.8 98.9,634.6 265.3,614.1 166.2,681.1 194.1,636.8 100.8,608.5 244.7,629.8 241.4,607.5 137.6,624.2 172.3,626.3 78.9,588.3 242.6,646.2 102.7,625.5 235.2,661.2 100.6,667.2 168,667.3 257.7,620.3 100.6,611.6 112.4,616.1 159.6,642.2 201.7,631.8 75.5,644.3 152.6,646.1 120.3,634.5 117.7,672.2 119.1,608.3 200.6,638.7 212.3,678.7 108.4,617.9 112.9,621.6 228.8,592.9 265.9,648.1 174.3,665.6 263.2,608 195.6,642 126,606.6 265.3,618.8 107.9,661 246.1,651.9 252.3,653.9 143.7,603.3 74.3,614.5 250.7,617.7 172.5,673.8 139.2,622.9 189.9,717.9 260.8,627.8 222.7,630.7 193.9,617.5 236.5,619 192,664.6 153.5,648.2 250.1,652.8 168.6,656.5 201.2,642.9 129.2,528.9 213.6,644.2 255.8,640.1 146.2,634.5 236.5,590.8 266.1,650.2 193.4,615.8 150.6,627 142.8,646.8 81.5,637.5 144.4,562.5 137.4,670.3 136.2,658.7 150.3,688.3 120.4,647.7 229.2,629.3 171.4,670.7 224,622.3 91.1,625.4 250.3,616.7 116.5,633.7 129.2,632.9 208.6,654.2 233.5,606.3 205.1,626.9 181,626.2 119.9,647 95.2,627.7 125.5,630.8 111.4,651.4 180,658.1 215.5,664.5 205.1,647.8 119.7,586 178.7,646.7 253.8,657.7 183.9,623.8 109.1,606.4 234.9,589.6 130.2,617.1 256.5,610.4 221.2,625.5 105,659.6 87.9,624.2 130.4,639.1 261.9,655 269.7,593.1 183,652 99.6,648.6 169.8,656 245.3,609.2 185.4,651.3 85.5,643.7 178,621 270.7,645 86.8,613.1 122.6,627.8 236.4,640.7 216.9,607.5 259,614 96.8,601.2 174.3,647.1 181.8,650.5 99.5,635.5 204.9,634.8 262.2,609.7 135.2,579.8 261.5,627.7 176.5,597 228.3,630.7 217.5,605.8 237.1,604.3 247.8,665.1 173.4,611.8 117,651.4 126.5,633.8 104.1,647.1 75,642.7 266.9,653.3 202.7,636.8 126.2,598.6 142.8,653 110.1,607.2 263,619.4 259.6,613.2 146.2,625.7 257.7,611.1 92.6,613.4 213.3,650 121.4,659.3 255.2,607.9 88.9,618.2 146.6,603.3 220.8,627.3 105.7,632.6 205,647.6 212.8,668.1 245.9,622.5 267.9,597.7 99.7,631.9 107.3,612.2 137.3,611.8 177.8,680.3 236.6,622.8 247.3,651.6 262.6,624.8 124.3,608.1 172.1,657.7 271.7,630 180.1,624.8 222.4,586.7 236.1,648.9 112.2,636.5 202.9,644 136.8,650.5 172.4,630.3 267.6,641.3 135.1,605.5 248.8,604.9 203.4,631.1 69.7,650.4 99.1,627.3 171.2,648.5 208.4,642.3 247.3,603.1 148.6,645.1 157.8,669.1 259.3,616.5 90.9,659.1 185,624.5 227.6,633.4 130,599.7 248,627.1 204.5,659.6 117.7,642.4 212.7,623 195.2,646.4 82.4,633.5 120.6,618.5 90.8,659.5 103.6,639.4 226.1,669.2 154.5,646.6 103.4,615.8 198.6,632.5 89.7,650.4 114.6,640.4 221.3,640.3 149.8,637.8 85.1,619.2 107.3,623 163.2,634.8 165,667.6 217.1,652.6 209.5,660.5 147.3,612.8 267,626.3 145.5,653.7 123.1,607.3 83.3,646.4 175.1,659.8 196.5,649.3 219,626.7 207.6,623.4 223,625.7 258.9,635 186.8,651.8 270.2,632.4 228,637.4 100,683.5 153.8,657.6 213.1,640.1 111.5,625.1 249.4,638.6 233.2,635.6 195.5,644.8 118.3,648.3 198.4,663.8 243,643.3 207.6,628.9 120,626.3 269,607.4 174.2,618.8 240.7,629.9 223,624.9 248.4,639.3 127.9,629.2 76.6,649.7 243.9,639.7 202.4,628.8 133.6,609.1 131.8,654.1 170.3,659.2 258.5,611.7 105.7,634.9 260,624.4 146.6,619.9 242.8,627.9 124.2,637.3 208.2,604.3 193.2,649.3 247.5,620 270,648 205.6,571.6 228.3,639.6 136.7,597.6 112.5,636.9 206.3,635.2 103.3,656.9 117.6,652.8 193.4,640.2 89.3,612.3 93.7,643.4 206.6,631.1 170,631.4 96.9,631.5 188.3,659.8 224.7,627.5 167.8,651.3 95.8,637.1 109,614.8 227.7,667.9 101.9,576.1 268.7,625.2 256,670.4 120.3,620.7 125.4,628 270,607.7 246.3,612.6 270.6,632 214.6,617.7 175.8,619 133.9,599.9 100.6,619.8 209.2,628 224.9,643.7 218.9,620.8 136.8,606.2 217.5,625.2 214.8,698.1 151.8,653.5 89,640.7 270.6,627.1 201.5,633.1 196.3,632.4 82.8,633.3 195.3,620.4 180.1,664.8 150.7,641.8 207.2,644.9 255.2,616.1 257,622.5 92.5,625.5 92.4,611.6 142.9,617.6 216,589 96.6,655.7 111.6,628.1 123.4,642.8 176,620.9 259.5,619.2 200.8,634.4 179.6,629.5 178.9,650.1 196.6,625.9 225,634 162.1,610.1 196.7,627.5 230.2,603.1 141.1,643.9 146.1,633 90.4,646.5 113.7,611.6 192.3,645.5 244.8,648.5 156.9,631.3 181,629.7 204.7,628.9 163.1,660.3 223.1,622.7 99.8,597.1 100.4,646.4 266.4,661.4 203.4,629.4 72.4,654.9 175.5,679.6 244.6,623.5 246.9,620.2 263.2,612.5 161.2,639.9 89.8,616 250.9,626.6 267.8,599.2 90.7,634.8 123.8,641.2 132.3,598.7 136.6,615.4 244.6,629.8 137.5,625.4 76.8,638.9 223,644.2 172.4,681.8 235,662.3 203.8,619.2 267.7,637.1 170.1,661.7 171.4,665.8 263.7,616.6 106.6,600.9 147.1,639.3 268.4,646.8 270.4,647.7 234,633.5 211,615.6 238,626.2 249.8,614 198.6,654 167.9,641 177,613.6 133.1,620.4 145.9,639.9 226.4,622 78.3,609.3 247.3,622.1 126.8,607.9 187.3,675.9 107.1,622.5 234.8,623.3 222.7,620.5 107.3,628.7 167.3,649.4 171.5,635 190,668.7 75.8,639 228.9,633.1 211.2,621.5 194.5,638.1 140.4,652.2 196.3,613 187.1,640.5 125.9,626.1 152.1,636.3 261.9,625.1 131.3,604.4 169,650 140.2,647.5 205.7,620.4 149.7,633.8 257,612.5 99.7,616.8 130,630.2 266.7,598.4 203.3,639.7 218.1,641 161.4,623.6 81.9,651 78.3,605.2 226.3,645.1 268,624.4 166.4,640.8 214.4,643.8 138.4,662.5 222.7,622.8 123.8,619 145.7,633.4 227.4,637.5 171.7,671.9 174.5,659.8 75.2,662.7 131.5,595.2 122.2,634.8 155.9,622.6 104.9,630.7 257.6,577.8 235.9,647.7 231.9,641.8 151.8,660.2 200.7,626.3 138.7,645.2 126.5,655.2 255.1,599.4 229.1,602.6 245.5,640.8 198.3,610.7 206.2,672.7 270.1,623.9 186.2,607.6 124.1,589.9 111.3,613.1 256.8,606.1 110.8,623 81.5,598.6 185.2,652.9 88.1,672.9 163.1,625.3 133,625.1 137.3,626.1 223.6,615.6 136.9,614.6 255.4,671.8 235.7,625.1 241.3,640.8 124.2,633 138.3,588.9 124.2,629 152.2,656.2 128.1,625.4 150.2,646.4 196.1,629.4 190.6,627.6 224.1,626.3 239.7,635.4 147.3,641.6 253,647.3 151.3,616.9 113.9,615.3 148.6,676.3 126.1,629.8 120.9,585.4 92,658.7 248.6,634.8 119.2,593.2 252.9,619.9 255,612.5 270.9,646.2 141.3,597.4 74.4,608.3 228.1,601 230.2,645.9 255.1,637.9 176.4,664.1 242.8,620.3 135.2,645.8 80.5,625.9 115.9,598.5 246.8,611.4 222.2,639.4 99.9,617.6 138.8,645.9 165.3,630.9 257,649.8 236.6,602.5 116.2,608.2 121.7,652.5 255.1,608.9 223,601.4 222.6,597.1 148.5,612.3 253.5,602.8 106,613.2 75.2,638.6 260.3,589.9 92.4,621.1 71.5,606.9 235.7,613.7 165.9,644.4 258.3,647.3 165.2,632.3 198.3,618.9 161,674.3 177.2,614.6 121.3,611.3 87.3,634.3 168.2,654.7 164.9,619 198.6,637 90,632.8 124.8,662.8 90.6,630.2 71.4,637.4 122.1,607.7 92.7,599.8 109.4,604.7 183.9,673.1 177.7,638.2 127.1,597.6 74.2,630 259.5,629 270,626.5 139.1,653.3 193.7,644 97.7,628.8 201.3,621.2 109,620.3 175.6,643.8 261.6,633 224.4,558.2 127.1,600.6 246.4,610.6 128.7,620.6 209.6,596.8 118.8,640.6 246.8,609.7 96.7,610.4 112.1,627.3 200.4,658.5 77.5,673.8 220.7,600.4 136.1,646.6 241.7,598.9 126.8,628.6 199.8,633.3 175.3,637.8 234.8,599.8 127.1,610.2 75.4,600.3 255.4,645 124.9,636.5 242.5,602.1 138.3,625.2 134.7,631.1 125,653.8 229,633.9 101.6,635.4 208.1,615.2 167.1,646.4 180.2,677.7 242.4,663.1 71.1,604.7 207.7,652.3 190.1,671.5 120.9,651.2 71.4,637.3 252.6,613.4 190.5,643.5 272.5,639 187.6,652.7 150.4,658.3 197.5,631.6 264.6,639.8 109.4,624.6 269.6,660.4 138,634.5 166.4,640.8 180.6,663.2 95.1,636.1 120.2,608.4 137.5,631.6 131,633.1 74.8,631.1 220.4,625 248.5,714.6 125.7,617 72,631.5 193.2,604.5 164.4,675.5 92.1,603.6 250.5,630.5 193.4,646.1 232.7,625.5 91.2,628.3 154.9,670.3 198.6,621 154.3,635.1 237,648.7 260.5,614.3 227.9,625.5 143.6,616.4 149.8,633.7 179.5,643.1 96.3,593.9 194.3,637.9 221.3,656.4 85.2,612.7 224,659.8 197.5,627.2 215.9,634 99.6,671.3 214.2,660.8 112.8,587.5 157.6,661.8 248.9,706.3 213.3,664 149.1,652.3 255.5,612.7 92.7,661.1 95.8,630.5 234.2,631.1 143.6,635.1 225.5,609.8 78.4,634.3 84.6,670.7 167,651.5 152.8,661.8 206.6,640.8 180.6,635.3 253.5,675.7 70,630.8 155.9,644.6 202.8,652.5 81,668.4 251.4,605.5 214,613.4 156.2,678.4 195.9,648.3 123.1,646.1 166.8,659.8 104.6,672.5 78.7,618.2 109.7,627.2 225.9,612.2 135.5,630.8 209.4,598.7 252.3,650.1 100,615.3 215.8,616.8 158.9,649 199.5,621.2 256.3,635.3 229,655.8 237.8,633.4 102.5,612.2 236.7,672.6 267.2,597.5 261.1,656.5 232.1,615.8 239.7,652.6 184.1,634.3 260.5,644.3 220.9,624.9 88.4,627.1 143.6,628 91.9,620.8 257.1,631 69.6,635.3 171.1,623.4 213.1,637 154,647.7 256.1,617.9 138.8,644.4 146.7,644.9 116.9,627.1 244.5,628.1 196.1,635 219.2,637.8 191.2,640.1 155,634.8 70.9,656.2 224.2,644.6 264.1,630.8 111.4,623.2 200.8,614 197.9,620.3 78.5,638.5 180.9,681.6 205.3,622.3 236.3,642.8 177.7,682.4 69.5,602.3 176,660.9 262,643.9 177.9,644.2 201.5,674 71.1,579.2 237.6,601.9 142.9,564.8 88,631.3 246.3,626.9 132.7,610.6 249.6,627.1 135.7,623 109.7,637.6 266.6,646.2 72.3,604.6 161.8,636.6 198.1,626.4 261.7,640.3 182.6,603.9 162.7,654.9 120.9,696.8 128.8,619.7 124.7,673.6 167.4,623 83.6,640.8 236.5,629.9 253.4,628.5 148,646.4 203.4,655.5 266.4,619.3 230.8,623.9 168.6,664.1 84.7,614.8 150.6,633 120.8,647.6 84.1,628.9 91.6,660.8 172.4,699.8 215.7,612.4 76.6,629.2 121.3,605.4 84.6,625.1 212.3,618.7 208.6,621.2 109,617.6 214.7,616.4 165,669.2 247.5,620.4 245.3,669.6 241.7,623.3 217,586.8 272.4,588.6 194.5,608 207.1,641.3 81.2,616.1 172.5,664.8 219.3,609.3 240.1,632.1 95.7,640.3 265.5,621.2 128.6,592.6 104.6,678.7 72.6,633.6 131.4,624 239.4,623.4 173,662.9 75.1,629.8 152,658.9 168.1,629.6 225.3,616.3 200.3,597.7 116.6,651.6 210.1,654.1 186.2,641.4 84,605.5 210.4,619.5 202.5,633.7 244.2,685.6 195.5,641.1 230.8,623.3 139.5,606.5 209.7,655.8 72.7,617.9 214.4,621.3 69.5,585.9 185.4,623.3 179,699.2 88.4,646.9 154.2,649.9 114.9,641.5 227.9,638.2 151.9,672.4 173.9,656 90.5,645.2 201.6,633.8 121.8,645.8 244.4,622.6 238.5,627.4 83.8,628.3 114.6,632.5 90.7,654.7 250.8,632.6 206.4,604.1 73.4,629.1 190.4,644.2 221.1,619.2 73,627.6 112.6,640.3 111.8,634.3 97.7,647.2 89.7,663.7 195.6,634.3 97.3,638.2 210.3,649.9 160.7,643.8 97.3,617 168,653.2 252.1,639.6 252.1,592.6 269.7,626 186.5,664.1 97.3,610.1 101.7,599.2 229.3,653.6 184.8,668.4 256.6,634.2 249.3,616.1 207.2,651.3 240.4,603.7 173.4,642.8 257.1,570.5 169.8,645.3 190.7,635.2 270.6,611.8 232.6,642.8 187,668.6 101.2,634.4 97.7,659.2 250.5,654 70.1,630.3 197,621 204.6,611.3 139.8,602 114,642.2 190.1,672.7 266.8,600.6 173,645 197.9,626.5 155.8,674.5 116.9,650 196.8,614.7 218.4,642.3 178.9,623.2 246.6,648.4 270.9,602.6 96.2,653.9 124.3,658.6 212.6,634.3 183.2,660.1 85,654.8 144.2,610.3 140.6,613.7 264.8,652.4 92.7,612.2 250,601.5 260.7,604 138,633.1 180.7,655.8 186.6,646.8 261.6,622.2 123.2,657.9 177.9,676.6 161.2,643.2 252.9,622.9 264.4,625.9 106.4,672.1 192.7,699.8 184.3,654.4 97.3,615.8 167.9,629 100.8,638.7 123,658 159.6,685.9 89,639.6 124.7,616.3 140.8,663.1 74.9,649.9 253.8,643.5 265.5,630.4 207.2,635.1 225.8,648.1 104.8,612.2 169.3,624 78.1,611 116.9,618.7 84.5,613.1 233.2,619.1 248.4,625.8 101.3,661 88.3,625 94.1,618.6 259.6,638.8 123.5,610.8 154.4,645.3 249.1,666.5 70.4,592.9 189.2,662 174.8,639.5 103.4,649.7 195.3,659.1 244,612 99.4,641 99.7,636.9 185.7,653.2 217.3,623.2 234,597.7 266.9,634.6 242.9,624.1 173.7,653.5 170.4,614.6 181.9,642.8 150.2,660.2 235.2,638.9 94.2,596.1 221.2,625.9 96.7,590 124.5,645.5 169,621 256.9,632.3 263.8,627.2 235.8,623.8 179.6,629.4 206.6,630.9 102.7,619.5 198,639.9 248.2,637.2 197.2,616.6 169.2,630.4 141.2,624 157,586.2 150.2,658.8 184.8,670.7 260.1,606.2 149.1,633.1 177.2,658.7 220.8,597.2 111.2,629.9 193.1,554.3 181.8,677.7 230.4,640.5 214.3,612.7 73.6,601.4 127.8,595.9 72.8,636.3 213,626.1 205.6,616.9 191.5,625 239.6,634.8 252.3,628.6 135.8,658.2 242.3,605.2 174.4,663.3 258.7,615.5 80.3,621.2 97.3,619.7 204.8,632.2 102,601.7 204.6,613.9 95.8,658 244.9,627.8 178.2,641 74.8,645.1 130.7,620.2 169.2,623.5 215,602.1 127.4,632.1 212.4,686.2 204.7,611.5 248.8,611.4 149.5,642.9 93.6,624.1 114,637.1 235.9,654.4 168.9,630.7 184.9,618.9 134.5,622.6 237.9,645.5 79.4,657.3 271.9,613.3 222.1,602.5 114.5,601 211,632 117.3,637.1 126.2,638.2 188.7,623.2 182,608.2 232.3,642.9 204.3,634.8 69.2,632.2 103.6,612.3 71.8,640.9 216,608.2 199.5,615.8 263.7,621.5 180.1,625.9 195.7,648.7 210.2,641 112.9,597.2 155.6,645.6 208.8,639.5 154.3,649.3 179.4,677.3 72,609.4 146.7,649.6 151.5,625.8 221.9,610.4 225.2,627.7 241.8,587.9 212.9,624.3 165.2,636.4 206.5,593.5 170,658.6 159.3,667.7 141.4,618.7 245.6,641.3 120.3,649.5 84.7,645.2 74.4,609 125.7,588.7 78.5,625 221.3,627 100.8,618.8 123.8,610.4 211.4,624.9 246.1,635.8 224,610.5 199,634.8 215.2,640.3 134.5,650.1 265.8,638.3 155.3,648.2 205.9,627.7 172,633.9 155.3,653.5 112,626.2 267.5,634.2 201.4,623 231.2,603.1 183,652.6 137.8,658.1 180.3,626.9 195.9,621.2 141.7,616.8 76.8,671.1 246,647.6 134.6,619.5 260.1,629.6 247.1,631.9 256.9,605.7 80.7,647.7 188,653.9 225.4,621.7 94.5,643.3 197.5,640.9 245.3,630.8 233.2,640 272.4,631.4 242.2,605.7 100.7,651.4 183.3,657.3 155,657 210.7,633.1 224.1,618 218.8,594.8 272.8,600.2 180.5,555.2 243.4,657.3 199.5,640.3 204.4,577.7 92.3,622.5 217.4,620.3 232.9,629.1 128,634.1 197.6,597.5 188.4,640.4 85.9,637 143.1,623.5 220.2,625.5 99.2,613.4 164.5,633.2 202.7,618.7 202.1,628.1 116.9,619.1 153.2,644.2 213.8,646.6 193,636 226.8,654 197.8,621.5 222.6,640.2 135.6,593.6 208.1,613.8 224.4,634 156.1,650.2 94.7,606.8 233.9,643.1 200.6,571.9 184.6,615.5 118.7,611.6 202.4,635.8 112.1,598.8 246.6,631 89.6,659.7 250.2,642.8 69.9,602.2 246.1,627.9 109.7,634.7 89,598.3 107.9,613.9 225.6,610.3 223.1,617.5 90.6,649.7 149.8,642 116.5,654.8 219.8,603.9 195.2,648.1 257.5,582.5 210.3,650.9 187.7,665 262.8,606 114.4,662.7 87.8,629.5 142.1,622.5 206.2,574.3 118.3,613.7 241.6,618.4 127.4,628.2 95.4,630.2 248.8,641.1 113.2,617.8 102,634 216.2,632.1 225.1,661.5 176.3,633.4 143.2,625.9 269,632 77.6,624.6 198.2,578.9 110.8,678.4 153.8,626.7 145.1,637.2 141.4,634.9 121.4,616.7 218.2,611.4 186.6,689.5 248.1,602.4 221.7,640.4 162,616.7 185.4,647.5 236.9,567.7 94.3,650.9 69.6,622.3 173.3,615.6 163.6,659.5 188.1,629.6 179.4,690.4 113.2,686.1 256,655.4 263.1,634.2 119.2,658.1 146.8,630 258,635.1 187.4,702.9 187.9,634 247.3,605.5 107.8,613.6 99,613.1 204.1,637.5 152.1,653.1 119.6,626.9 104.2,624.7 112.8,612.3 256.3,590.3 150.3,602.7 95.1,633.8 130.3,678.2 102.8,662.3 259.3,623.5 121.6,670.2 143,591 149.7,652.9 70,634.5 191,637.5 134.1,641.6 242.3,632.9 147.5,613.4 133,605.3 110.6,592.1 163.3,617 258.2,601.6 270.4,663 167.7,649.5 234.4,643.6 115,630.8 248.5,621.5 187.9,625.5 135.8,616.2 217.8,605.5 182.5,631.2 156.6,618.8 182.4,672.1 272.5,648 133.6,624.2 116.5,614.9 195.3,666 195.4,673.7 114.6,610.7 139.5,634.4 150.9,632.1 127.7,611.3 69,619.5 75.2,644.4 130,610.8 257.2,635.8 185.1,617.9 255.1,657.4 172.9,638.1 187.1,646.9 151.1,652 219,615.4 201,621.6 82.7,626.2 141.5,616.4 177.5,664.2 170.9,641 78.5,649.4 132.3,650.9 215.1,627 156.1,640.9 230.7,644.6 122.7,649.2 209.1,651.5 78,638.8 226.5,641.9 182.4,614.4 270.1,653.9 187.7,650.6 181,611.6 100,624 251.2,628.7 103.7,599.9 153.4,622.5 263.4,604.6 90.9,637.3 243.3,603.3 209.3,615.1 95.4,640.9 205.6,610.6 192.7,636.4 263.6,638.5 255.8,624.9 98.1,622.3 270.5,626.5 97.8,630.8 232.8,664.3 156.1,651.1 251.3,629.8 160.9,685.8 78.1,616.5 254.2,632.9 136.3,615.5 213.7,618 249.3,638.8 140.3,665.6 212.1,636 139.5,653.8 239.6,656.2 270.4,640.5 113.6,638.9 235.5,619.9 263.2,617.8 146.5,634.5 92.7,649.9 188.6,657.6 211.4,620.3 129.8,594.5 69.8,642.1 189.4,659.6 104.2,642.2 146.3,639.1 220.3,615.9 96.5,643 175,658.6 110.6,639.3 202,598.3 158.3,647.4 199.8,606.8 122.1,607 204.9,629.9 93.7,622.6 190.7,649.9 76.4,634.5 209.4,655.2 242.7,656.1 188.9,657.4 166.5,634 257.7,637.4 221.1,648 254.2,622 200.6,641.1 249.4,636.7 267.1,661.7 144.3,613.2 263.2,637.3 251.3,623.4 124.6,650.2 106.9,639.9 170.9,709 243.1,617.4 81.7,586.9 214.1,666.9 158.9,614.3 236.8,604 74.5,610.6 203.1,634.5 129.1,637.2 202.8,603.5 84.1,637.8 270.7,653.8 259.2,641.9 146.4,631.6 161.1,650 259.7,632.8 220.4,627.4 169.8,608.8 91.7,620.8 124.9,619.6 199.1,648.5 247.3,645.2 106.6,607.7 202,618.8 149.9,632.8 243.2,633 88,656.9 76.2,633.8 219.3,635.8 90.7,594.2 239.9,649.3 258.8,641 209.7,591.9 258.2,633.7 203.7,639.3 259.3,611.6 260.4,641.5 81,630.7 85.6,634.5 76.3,616.1 212.3,634.8 270.7,623.6 244.9,649.9 101.4,643.9 269.8,627.3 247.2,642.3 94.1,616.9 117.7,629.9 90,670.6 225.1,593.8 249.2,636.8 112.9,611.7 259,616.6 150.4,643.6 220.9,619.4 207.1,619.2 131.5,645.6 252,612.6 129.1,649.1 245.8,605.4 136.2,641 131,616.4 97,631.4 157.3,634 183.1,653.6 151.3,652.5 238.6,634.3 266.6,622.9 102.3,604.9 198.8,649.2 83.2,684.6 248.3,632.3 111.2,638.4 153.7,641.5 120.5,627.9 130.4,637.8 244,637 130.9,631.4 118.2,646 240.6,650.3 169.6,668.7 219.2,657.5 209.1,631.5 85,611.5 216.2,604.9 76.3,641.5 203.9,621.4 218,649.4 197.3,630.4 185.2,653.1 225.7,596.4 250.4,638.3 136.6,641.1 219.3,648.9 214.8,650.3 161.7,632.4 247.8,600.4 270.7,654 161.6,672.5 262.8,643.1 152.7,676.2 220.5,634.2 78.5,601.4 233.8,648.8 106.9,630.4 249.1,622.7 81,681.1 192.2,648.3 69.7,655.8 170.6,639.8 160,644.7 265.1,632.7 256.4,676.9 200.9,655.8 188.4,644.8 250.7,643 180.8,636.2 161.5,642.9 81.9,619.8 244.3,629.3 164.5,634.5 116.3,647.4 99.6,637.7 143.4,616.8 187.3,669.7 235.3,662.7 155.2,635.1 261.9,609.7 69.9,617.5 156.3,604.9 95.3,627.7 120.8,664 87.5,639.9 253.2,702.3 123.7,634.8 174.3,643.4 108.2,599.9 129.8,594.3 249,625.9 131.7,602.2 111.6,613.9 113.1,639.9 258.9,641.2 194.2,672 221.7,635.1 105.2,634.9 151.6,662.8 110.9,632.1 226.6,641.7 72.1,592 176.3,677.4 75.4,609.4 121.2,651.7 143.8,636.6 209.5,622.4 230.5,670.6 196.2,642.8 193.9,619.3 205.9,658.3 171.4,677.5 178.7,699.3 220.8,640.9 151.3,677.3 82.9,644.8 222.4,643.3 199.6,623.9 178,623.4 74,662.3 227.6,645.4 191.1,662.5 257.4,577.6 116.8,637.8 227.5,649.5 132,664 186.6,642 117.2,656.3 160.7,665.4 126,616.7 192.5,642.4 167.9,646.1 202.1,616.7 135.7,646.3 222.4,653.6 82.2,639.7 182.1,668 110.8,612.9 111.6,620.1 206.8,630.4 124,621.6 134.6,638 167.4,653.9 116.9,612.5 155.6,678.4 215.5,624.9 111.3,607.6 132.8,647.3 241.8,631.9 231,629.3 131.7,635 218.7,614.2 210.4,623.4 205.5,628.5 234.2,635.8 89.8,651.9 110.1,617.4 268.9,634.3 161.6,661.7 84,635.5 207,594.4 76.9,655.2 87.9,611.7 192,682.2 170.7,668.9 83.7,576.6 268.7,651.6 109.5,628.2 196.4,599.5 73.4,665.4 159.3,652.2 261.4,626.2 128.2,641.8 79.9,608.7 129.1,624.1 199.5,634 127,620.7 78.6,635.2 146.3,672.3 180.9,640.5 111.2,596 91.8,613.7 97.4,624.9 214,656.9 147.4,654.1 108.5,615.7 113.6,625.1 100,606.1 118.3,636.9 193.1,675.6 258.5,658.9 171.9,642.1 83.7,615.6 219.7,632.3 188.5,639.7 102.3,624.9 86.1,603.6 70.5,646.3 269,647.6 273,645.9 191.3,644.3 95.5,627.1 262,657.8 143.5,627.2 194.8,627.2 149.6,659.4 229.6,624.2 98.3,650.2 206.8,625.7 210.4,669.7 261.8,627.1 178.8,677.1 150.1,677.4 150.1,629.4 247.5,629.6 153.8,661.6 184.6,615.4 85.3,671.4 265.1,614.9 130.3,622.7 236.2,638.8 216.1,626.8 75.5,607.1 243.6,617.9 75.5,628.4 156.9,640.6 125.4,587.8 170.6,663.8 145.8,612.5 264.7,656.1 201.1,599.7 271.6,617.6 250.3,641.2 195.8,623.1 217.5,637.9 171.4,639.6 219.3,650.2 78,615.7 188.4,636.9 142.9,626.7 166.4,639.7 130.7,637.5 160.3,643.2 256.6,619.4 263.4,643.3 98,640.4 126.2,594.3 267.6,640.4 93,626.6 99.6,648.1 155.6,673.8 183,624.1 144.9,608.1 123.4,651.1 114.6,671.8 93,658.9 98.3,585 206.4,618.8 166.2,646.7 262.8,639.4 232.1,628.2 96.6,633.9 70.8,608.8 197.2,623.2 269,605.8 102.1,635.4 166.4,616.7 93.6,624.6 201.3,637.1 223.8,663.8 226.9,643.1 232.9,620.3 73.6,599.7 125.1,641.4 88.1,641.5 158.4,609.9 101.3,626.9 157.3,631.6 100,630.1 79.1,649.6 81.7,638 204,659.8 247.1,641 169.9,664.4 245.5,641.6 266.1,648 216.1,660.3 218,627.8 160.4,640.4 84.5,626.8 224,603.2 262.2,606.9 189.2,649.6 121.3,621.7 227.9,621.3 181.3,615.9 99.7,638.5 222.8,592.5 180,645.7 222.7,603.6 223.5,644.8 168.9,653.5 223.2,651.6 136.1,628.9 221.9,644.1 96,640.4 100.9,613 221.1,637.6 265.9,623.1 82.1,649.7 265.6,657.5 89,588.2 253,616.2 179.7,638.5 151.4,663.7 163.4,638.6 205.2,627.4 85.9,628 258,606.1 149.7,613.6 141.2,614.5 164.7,663.2 182.9,661.1 74.2,625.5 126,652.2 213.8,639.9 124.5,646.5 257.2,618.3 230.5,606.9 102.4,624.5 117,609.3 174.3,651.4 147.2,635.9 207.8,620.5 171.2,656.7 139.6,608.6 198.5,648.6 177.5,669.3 115,621.2 214.6,612 154.6,616.4 218.2,686.9 192.5,631.2 205.3,598.8 232.5,614.8 105.2,635 125.9,665.6 78.8,614.6 186.9,679.3 154.2,627.6 105.4,651.4 178.2,649.8 241,684.5 196.7,627.9 211.6,600.6 104,624.4 152.1,646.1 154.7,649.9 165.4,662.1 240.7,610.8 191.1,676.2 158.3,665.5 257,631.7 248.1,657.8 127.3,663.5 138.7,633 98.2,662.6 193.1,609.5 140.5,611.9 106.3,599.9 241,600.9 228.4,609.5 124.2,645.7 70.5,614.9 185.9,633.5 268.2,623 260.4,641.5 233.6,678.4 177.6,636 239.4,631.8 244.4,612.4 102.2,657.7 267.2,648.7 267.4,655.6 252.9,630.2 269.4,617.4 171.5,649.4 265.7,576.1 146,611.8 238.6,616 88.4,606.2 194.6,648.9 211.6,623.5 259.4,600.6 251.3,651.9 122.1,609.8 205.4,594.3 111.1,609.9 179.1,598.2 183.3,654.1 126.4,627.9 153.3,661.5 238.9,603.6 142.4,622.6 86.8,626.5 248.5,599.7 138.8,651.9 231.3,620.3 192.4,619.7 97.4,663.2 101.2,617.3 210.9,611.7 141.2,655.8 265.1,597.4 211.7,613 73.3,636.9 102.1,626.7 228,635.3 195,619.6 121.3,601.9 141.7,622.5 98.2,638.3 138,642.7 101.3,626.9 184.6,644.2 79.8,639.3 96.8,598.7 119.1,668.5 207.7,617.9 128.6,596.2 71.1,640 77.7,561.9 183.7,653.2 84.7,613 252.6,619.2 109.3,646.7 163.6,639.1 111.1,624.2 190.1,622.4 224,609.8 199.8,632.4 124.8,611.5 142.6,583.9 219.8,612.7 210.5,629.5 105.7,623.3 89.4,621.9 127.1,636.6 198.9,657.5 164.9,660 264.1,594.8 176.4,621.3 160,635.5 124.6,617.8 127,592 209,599.6 131.7,630.1 93.3,625 216.3,612.9 130.6,638.5 72.1,618.3 261.5,618.1 234.7,620.7 272.9,614.2 210.4,618.8 138.2,622.2 237.1,623.7 237.6,624.3 148.9,644.5 182.5,639.3 138.6,634.8 200.8,627.2 186.3,648 95.5,621.4 74.5,624.4 167.7,662 167.7,602.3 189.2,671 146.1,637.7 207.8,623.2 199.8,629.1 165,629.6 167.8,638.4 168.4,617.9 214.7,659.2 115.3,620.1 259.7,612.2 240.5,622.9 232.6,660.7 112.2,609 130.7,613.2 100.8,652 165.3,634.5 128.1,661.2 154.9,632.8 179.9,644.9 181,647.8 248.2,628.6 149.4,654.5 120.9,639 172.6,634.2 162.7,681.7 190,632.6 94.5,624.9 71.1,601.5 249.7,616.9 185.7,603.6 86.9,591.2 71.7,632.3 199.5,612.7 244,641.2 90.5,616.8 258.5,619.7 232.7,632.6 165,623.9 80.6,636.2 133.8,620 241.4,594.8 242.5,632.8 97.6,640.7 168.7,647.7 251.3,641.8 144.3,599.5 178.1,637 93.8,610.8 165.9,651.9 79.4,645.9 250.1,617.7 159.8,659.3 83.3,623.2 116.4,644.5 229.5,649.3 256.3,612.5 259.4,631.4 215.1,634.7 79,607.7 207.9,670.3 164.9,626 182,646.7 118.9,654.2 70.4,654.4 218.7,641.2 166.2,640.9 196.4,659.5 213,613 108.7,630.3 187.2,642 260.6,639.4 156.5,652.4 181.1,634.9 133.9,616.4 186.5,664.9 249,645.9 135.2,638.4 160.1,614.1 146.7,646.8 244.4,603.3 97.4,629.1 125.3,594 177.8,629.5 132.8,620.8 99,628.5 139.7,610.6 128.5,602.5 203.8,637.4 256.4,619.7 108.7,653.6 73.9,650 187.9,655.4 85.4,599.6 170.1,639.2 116.4,634.4 132.9,591.7 214.3,646.1 193.5,650.1 260,634.2 222.1,632.4 178.1,645.4 124.3,635.6 176.4,634.9 218.2,631.4 82.5,628.9 265.3,640.9 259.1,640.4 161.9,635.3 174.4,650.7 71.3,627.3 71.3,637.8 118.2,660.9 201.9,636.7 94.4,680.5 267.7,626.2 257.4,594.5 201.8,648.2 120.9,655.1 270.5,647 119.3,624.2 168.1,650.3 261.6,631.1 136.5,664.2 140.2,626.3 268.6,634.3 215.2,627.4 129.1,617.7 96.2,614.2 85.5,627.8 113.7,650.4 160.1,634.8 216,613.6 93.5,626.7 146.4,599.1 271,651.6 69.9,628 253.8,613 167.3,668 213.6,626.7 111.6,630.8 190.8,637.2 149.1,670.7 100.7,592.7 199.5,655.7 137,627 96.9,641.3 179,628.1 174.7,676.3 91.1,667.1 78.9,621.3 264.8,653.2 89.2,643.7 129.8,639.6 178.4,637 183.3,636.4 261.8,664.8 200.5,626.7 112.3,596.9 105,603.1 149.9,634.1 83.8,654.6 270.4,610.4 245.7,642.8 241.2,624.9 72.7,619.6 240.8,633.4 102.9,612.2 110.8,626.1 264.6,637.5 140.6,640.5 207.6,635 121.6,642.8 123.1,650.8 236.8,608.9 259.5,600.6 160.9,645.1 195.7,657.4 68.7,648.1 69,630 230.7,649.1 86.1,630.7 259.8,622.5 249.1,653.7 233.1,660.4 258.5,614.1 214.8,622.3 135.9,613.8 76.1,638.7 222.5,644.2 70,593.1 264.6,613.4 128,607.2 151,626.6 112.8,641.8 230.2,621.7 263.4,670.9 263.1,603.9 198.8,670 167.4,638.5 241.4,642.6 177.2,627.3 249,615.8 195,634.2 242.8,629.6 236.9,624.3 150.5,637.4 97.4,623.7 164.1,618.9 80.5,603.7 161.8,662.4 165,619 253.5,650.5 194.7,621.9 171.3,663.5 160.6,608.8 255.1,621.3 70.2,611.3 241.5,587.7 167.6,623.7 167.2,614.3 121.4,652.6 165.3,658.2 86.4,622.8 245.5,634 200.7,636.1 266.3,641.8 223.5,647.1 127,597.7 99.1,604.2 265.6,625.5 214.8,602.6 147.3,656.7 251.4,563.6 125.2,634.4 116,601.4 108.5,637.7 186.9,635.3 255.4,606.5 139.9,601.5 101.7,639 254.3,630.5 246.9,631.5 143.6,593.2 162.5,651.5 113.6,643 153.6,678.3 179.3,692.7 172.5,678.9 255.8,607.4 122.7,666.9 260.1,637.5 205.7,642 269.6,650.5 261.9,644.6 252.5,618.8 91.8,635.8 268.9,603.2 246.1,625.6 122.4,657.1 83.2,635.5 153.4,627.5 228.2,595.5 125.4,654.3 107.7,618.2 114.4,605 148.9,595.6 136,632.3 271.9,608.4 125.7,646.8 104.1,605.5 152.9,629.5 256.9,657.4 107.4,639.9 117.1,632.8 115.8,621.1 190.3,641.6 114.8,620.7 210,618.6 206,648.8 105.7,653 144,620.6 271.2,649.8 119.2,637.8 99,630.1 239.9,594.8 252.3,624.5 151.1,615.1 134.4,611.6 248.4,645.8 83.7,593.7 188.4,652.8 127.7,603.7 261.4,620.1 182.4,655.7 146,667.1 172.2,636.1 167.6,648.6 259.6,546 80.1,637.9 192.7,640.1 218.8,637.8 127.6,640.7 163.3,620.5 132.7,602.6 131.9,650.1 101.1,638.1 227.6,634.4 98,644.3 234,609.3 120.3,626.6 173.2,654.4 90.4,623.6 130,620 234.5,632.2 139.2,630.6 224.3,616.1 230.1,615.1 266.5,640.9 139.7,615 264.4,662.5 258.5,631.7 120.7,606.4 98.5,552.9 90.1,613.5 191.9,633.6 258.2,578.6 198.8,596.6 143,622.5 212.4,628.3 257.8,668.5 233.2,610.7 194.4,651.1 91.2,620.2 255.7,672.4 212.4,642.1 77.6,607.9 250.9,614.1 207.1,569.3 183.5,627.2 126.6,590.6 113.4,617.9 147.6,640.1 196,637.1 99.5,625.5 154,630.5 106.3,581.6 99.6,624.4 148.5,659 74.7,624.7 144.3,660.5 229,618.1 85.6,677.2 92.9,670.7 147.5,628.9 269.4,615 211.6,642 179.9,647.3 89.2,618.6 73.6,616.7 264.6,648.2 189,646.2 106.9,664.6 172.5,685.4 113,641.8 123.3,628.2 225.8,612.2 227,631.6 208.8,634.6 264.5,623.4 84.3,632 165.5,655.1 206,605 129.3,622.9 222.4,611.1 169.7,697.7 185.2,663.8 77.4,636.8 254,642.7 260.4,628 140.8,631.2 146.2,623.7 254.3,595.8 185.1,656.5 188.6,641.4 243,617.1 206,600.5 189.2,666.3 250.1,624.3 250.6,631.4 255.3,605.7 261.6,601.3 210,641.6 111.2,634.2 240.2,619.3 74.2,616.2 257.3,663 69.8,569.9 131,634.6 93,635.8 106.4,626 224.4,615.9 165.3,646.3 89.6,587.7 219.6,626.1 101.4,628.7 72,636.9 98.7,620.4 187.2,614.3 208.5,624.1 147.6,615.8 86.4,626.9 109.2,597.1 95.4,631.9 158.9,689 194.3,650.2 119,631.7 77.3,629.5 208.8,607.5 141.9,634.8 212.5,649 126.4,617.4 237.1,633.4 259.1,598.7 219.2,623.3 108,617.6 95.8,632.9 174.7,657.2 189.8,625.9 244.3,630.3 118.2,649.2 228.5,617 124.6,630.1 249.6,633.4 271.8,601 80.1,672.7 253.9,617.3 196.5,621.8 74.1,625.8 137.1,626.5 255,640.6 241.9,641.2 95.6,620.7 265.1,626.3 263.4,608.1 242.7,641.7 193.8,620.5 194.4,601.7 168,674 70.2,600.6 183.4,637.6 272.3,629.7 230.7,627.6 174.7,627.1 77.8,659.6 256.6,608.4 101.2,619.5 199.6,608.1 199.3,669.1 179.7,696.4 122.7,617.4 181,673.2 179.9,638 209.3,632.1 200.2,652.3 184.8,678.6 70.6,609 223.3,628.4 220.7,653.7 111.6,610.6 268,652.6 118.6,618.6 251.2,651.8 93.8,628.2 98.1,612.7 251.3,646.4 166.3,638.7 245.7,649.8 198.4,599.3 220.6,655.1 224.8,628 252.4,648.6 255.4,609.2 157.6,655.5 239.6,634.2 143.1,635.5 223.7,661.3 264.6,654.5 184.7,615 211.9,660 146.7,607.6 235.7,644.6 217.4,643.2 83.6,639.9 153,664.8 152.9,647.5 241.6,636.4 139.4,656.9 88.5,627.4 256,637.6 125.6,603.4 220.6,605.1 186.8,674.9 158.5,644.8 129.7,616.2 210.7,639.1 230.8,649.7 236.5,626 177.9,648.7 89.8,653.6 100.8,629.2 105.9,633 145.1,619.8 261.2,635.7 101.2,657.8 198.3,632.1 122,621.3 156,687.9 222.3,628.2 226.6,615.6 228.2,641.1 266.3,655.4 213.8,610.6 108.1,588.1 263,592 124,639 153.2,660 257.7,652.7 161.7,643.9 187.6,652.7 195.8,641.5 140.7,610.8 141,632.3 164.5,610.2 136.5,632.2 145.3,638 171.3,670.9 107.6,599.8 269.1,624.3 108.1,590.2 266.6,642.5 225.5,628.1 139.8,614.1 101.7,661 203.5,620.3 239.4,617 263.7,651.3 154.1,635.1 141.4,644.2 87.4,638.2 114.8,637.9 215.2,610.3 186.4,659.9 238,635.6 270,622.7 170,659.2 69.1,612.2 152.2,658.7 161.6,652.3 182,646 168.7,643.1 108.8,624 213.2,596 101.3,644.8 159.7,628.2 139.5,580.1 222.1,618.3 137,624.1 95.4,630.7 142.2,624.4 254.9,614.1 238,614.9 271.2,641.4 185.1,627.8 162.2,646 111.1,655 81.8,663.6 248.1,614.5 186.7,647.5 170.6,635.6 166.6,673.5 109.7,605.1 218.9,636.4 139.2,681 90.7,645.7 245.3,607.3 204.2,595.6 90.1,624.5 139.8,638.6 78.5,599.5 250.9,603.4 204.3,676 231.2,626.4 201.5,617.2 116.1,630.8 219.2,590 179.7,657.9 269.1,597.5 91.1,632.8 131.3,624.6 195.9,623.1 179.6,629.7 164.7,662.6 228.8,604 94.6,617.6 250.8,594.5 130.2,654.6 122.9,641.2 81.3,618.5 155.7,648.5 137.1,667.8 130.6,656.7 231.1,668 169.8,650.4 128,621.4 81.7,627.3 133.8,598.6 101.6,640.8 118.4,640.7 102.5,606.5 138.8,708.6 77.9,621.9 155.9,629.3 246.5,627.7 216.6,614.1 199,600 239.7,633.8 226.1,615.3 226.1,624 261.7,625.3 185.7,627.6 191.3,605.3 252.1,640.4 94.2,604.7 268.4,652.5 260.7,612.8 177.6,622.9 232.7,640.6 218.1,665.8 168.7,643.8 82.3,644.1 184.7,622.4 127.1,594.7 167.3,629.5 88.9,614.8 166.9,664.9 257.2,637.3 236.2,619.3 214.8,660.8 77.6,607.3 194.7,657.5 96,622.7 242.7,632.5 243,620.9 235.4,670.2 145.6,628.1 99.5,652.6 253.8,654 92.7,637.1 219.8,650.6 115.6,615.7 85.3,672.4 206.6,615.8 206.7,576.2 249,634.3 226.5,631.3 243.2,633.8 209.1,614.9 128.8,625.6 246.9,646.1 192.1,626.2 86.5,628.2 133.5,646.1 74.1,623 141.5,620.2 263.7,637.8 127.4,603.3 228.4,648 180.6,673.5 96.3,587.6 164.4,689 191,690.7 260.9,620.2 172.7,653.9 216.3,631.6 224.4,661.5 261.3,655.6 138.1,659.1 248.6,651.1 127.8,643 111.2,614.1 166.9,649.8 237.4,614 186,647.7 183.8,683.5 82.2,621.5 84.8,695.5 266.1,617.1 223.5,610.4 160.1,663.5 199.6,600.9 262.9,615.2 217.3,630.4 88.9,627.5 224.4,633.7 209.3,603.4 182.5,646.4 176.1,624.4 145.1,611.7 78.8,640.2 232.8,621.1 253.1,630 174.9,612.7 179.4,656.8 260.4,631.3 138.2,628.5 70.4,656.6 117.8,637 120.3,626.2 185.4,682.6 127.2,609.8 236.2,650.3 73.3,594.6 264.5,612.8 137.3,628.4 164.9,642.9 155.5,679.2 82.6,662.2 159.2,618.8 106.4,619.9 93.3,638.9 95.7,634.9 122.8,603.9 240,612.4 218,637.6 168.4,664.1 123.7,615.7 192.3,642.2 176.3,641.7 117.5,629.7 120,634.9 123.4,595 242,613.6 232,637.3 171.6,632.2 244.7,610.4 205.8,666.6 257.8,632.8 117.4,613.8 162,618.3 250.8,631 105.1,614.9 152.9,670.8 242.1,606.6 140.8,594.5 82.3,640.5 153.7,647.6 157.9,600.9 95.5,639.2 134.5,640.1 198,607.2 254.3,670 150.7,727.9 84.4,673 116.4,579.6 109.3,661.9 132.4,641.1 245.4,621.5 234.9,661.8 158.4,678.3 268.5,633.1 225.1,600.3 239.4,641.4 270.4,604.4 265.1,638.6 106.2,621.8 207.4,613.4 254,650.4 191.7,635.2 211.5,612.6 208.8,596.3 108.7,624.8 223.8,602.1 172.2,628.2 75.9,635 208.2,613.8 241.7,629.3 172.5,616.2 138,653.3 77.6,602.6 139.3,633.1 110.3,615.3 80,617 228.2,662.4 192.5,658 197.3,640.7 159.5,613.5 106.7,643.5 89.1,614.6 253.6,603.3 155.7,636.5 82.2,660.5 212,647.8 161.3,642.6 228.3,630.2 212.5,654.4 216.9,617.9 153.4,646.1 139.5,620.8 95.2,599.1 89.8,638.5 208.4,622.6 263,657.4 219.6,637.5 152.8,638.7 181,562.8 78.4,627.8 237.9,619.2 73.7,641.4 113.7,636.7 269.5,630.8 170.8,646.4 145.9,640.5 240,606.8 209,629.4 143.3,642.7 199.3,564 157,674.9 215.1,609.8 80.9,612.4 210.2,629.9 93.9,636.2 107.9,641.8 113.4,675.9 215.4,612.3 255.6,592.5 165.2,673.5 214,646.4 189.3,649.6 164,646.2 257,612.4 224.9,642 163.5,681.4 247.3,627.6 86,639.3 211.4,629.2 119.2,651.5 131.5,628 160.3,623.6 94.5,629.3 155.5,626.7 82.6,655.7 228.2,609 143.7,648 140.9,624.5 91.8,659.1 203.8,612.3 147.8,645.3 85.5,612.2 257.8,621.7 112.8,648.1 75.7,607.2 130.6,603.5 205.3,626.1 256.6,635.9 254.8,616.5 156.7,640.8 140.5,644.7 74.8,653.4 176,632.3 236.4,643.5 218.6,646.7 224.4,626.6 120.7,627.9 127.6,647.6 143.5,641.4 178.2,646.7 142.5,687.5 260.9,642.1 130.1,654.8 89.5,614.9 162.4,653.2 69.6,619 77.3,618.5 155.3,665.9 209.8,608.2 190.2,647.9 120.8,626.2 154.1,680 122.9,634.8 84.3,619.1 154.8,656.4 186.1,625.7 138.3,647.4 165.9,664.2 219.2,651.6 80.7,652.8 73.2,717.4 159.4,669.8 156,615.1 249.4,619.7 228.7,637.8 122.4,582 236.2,640.7 163.5,662.7 201,645.3 109.6,610.4 130,619.7 246.4,635.1 102.2,634.9 76.8,646.8 84.3,619.6 190.1,632.7 161.8,634.4 195.9,620.3 139.7,620.1 91.2,651.3 107.4,649.9 267.2,646.2 226.3,642.6 204.7,589 272.3,621.8 209.2,608.2 88.3,639.2 137.6,611 213.3,627.7 238.6,607.1 217.1,678.1 243,599.8 170.8,640.2 105.3,643.1 182.3,632.9 216.3,647.1 230.1,611.9 86.5,607.5 107.1,643.8 258.4,643.7 224,626.3 132,630.7 84.6,605.7 194.3,652.1 206.1,638 86,639.2 269.3,605.7 119.9,602.2 201.8,600.8 141.2,657.1 82.1,587.3 106.7,724.1 188.9,642.8 240.4,627.6 255.4,625.7 168.9,601.2 139.5,604.7 115.9,605.3 71.7,642.2 244,583.3 95.6,647.7 145.6,618.9 194.9,605.5 213.1,613.3 264,620.2 130.5,613.1 133.6,646.6 156.8,619.5 234.4,627.3 229.8,607.7 260.3,631.7 113.3,608.5 199.5,647.3 184.9,611.5 75.1,604.2 107.1,648.6 191,659.1 83.6,652.8 213.2,634 134.8,668.4 71.8,631.6 263.3,642.6 265.8,622.6 144.6,630.3 166.6,604.9 193.8,626.4 240.8,623.3 117.9,618.5 208.5,608.4 185.9,639.4 173.8,657.2 138.8,607 166.7,633.1 102.2,670.1 230.1,654.3 172.4,641.2 191.5,613.3 211,606.9 182.3,642.9 155.7,640.4 141.3,612.9 136.6,628.3 152.6,610 171.5,665.2 230.3,614.8 257.2,663.8 221.3,638.9 262.1,627.6 260.9,604.9 243.6,675.4 256.3,606.3 148.4,658.4 172.6,646.1 211.7,593.8 261.5,640.4 81.9,674.9 187.2,614 160.1,649.4 75.3,631.9 204.8,616 92.2,649 199.1,648.4 85,656.7 123.3,628.9 251.3,654 188.1,648.2 128.7,619 108.4,656.2 101.7,637 250.4,622.9 199.4,662 100.8,595.9 190.3,610 95.5,630.1 125.8,614.4 202.5,616.6 240.6,657 262.1,640.9 256.8,623.5 162.4,657.7 143.7,597.3 217.7,622.1 187.6,640.2 78.7,654.6 153,673.2 158.5,658.5 148.2,616.2 128.1,654.9 91.1,636.5 246.6,620.4 220,642.1 100,658.3 261.1,638.8 139.9,651.6 219.5,679 110.4,660.1 260.2,607.6 219.6,682.7 213.4,610.9 246.5,670.3 212.1,636 242.1,655.5 133.2,649.6 230.9,618.1 193.3,666.5 177.7,646.9 258.8,682.6 153.3,678 183.9,607.4 95.3,616.9 120,639.7 204.6,631.5 103.8,626.2 99.1,629.2 237.8,630.2 91.4,627.8 263.7,623.9 143.4,600 252.8,637.6 160.1,693 121.2,618.7 172.5,613.4 225.4,591.1 220.1,625.2 273.1,619.2 106.2,576.9 101.4,659.7 180.1,638.7 118.6,621.6 76.8,646.7 182.6,637.7 232,626.6 255.8,647.5 131.5,632 174.1,603.4 208.2,628.1 70.7,635.3 202.5,602.3 94.5,623 176.3,634.4 214,616.2 145.5,635.9 256.8,613.9 144.5,645.6 109.6,619 122.8,640.2 89.2,591 95.6,606.8 185.6,614.6 192.3,627.8 223.1,603.2 233.1,640.4 153.7,680.2 110.8,597 142.4,623.3 150.1,641.6 69.9,713.4 178.4,596.6 264,625.6 98.9,623 126.8,637.6 191.3,627.2 183.5,642.6 185.2,709.5 226.5,646.5 164.8,636 117.5,619.6 77.4,658.2 92.7,620.4 101,634 233.3,614.6 118.1,647.4 99.5,648 89.7,624.3 188.7,688.2 163,635.6 183.1,626.6 92,639.3 73.2,604.9 99.5,603.5 138.3,661.5 252.9,645.4 270.1,628.9 260.6,623.8 128.3,671.5 191.1,662.8 69.9,630.7 196,620.7 69.2,625.7 110.4,606.3 222.3,614 112.2,618.3 144.9,633 199.2,651.1 125.8,587 163.7,666.5 136.7,638.8 163.4,640.5 79.6,647 148.7,633.3 236.7,639.8 233.1,626.4 117.2,591.3 99.2,626 133.1,626.4 114,605.1 230.8,619.5 132.3,615 182.5,672.3 194.3,651 116.1,607.3 85.7,636.1 182.4,653.6 87.4,560.3 230.8,634.3 104,587.6 155.9,640.9 119.3,628.1 194.2,631.5 110.3,631.5 86.5,649.2 251,608.4 70.1,629 90.7,598.9 123.5,622.9 77.6,635.4 201.8,707 134.5,630.9 164.8,631.5 138,634.1 184.6,642.9 144,667.8 99.4,618.3 224.8,632.6 165.2,674.4 140,600.5 174.9,628.9 230.9,628.3 180.7,650.4 199.6,635.5 110.2,635.2 195.4,624.5 114.6,632.1 265.3,621.3 182.1,616.9 96.6,622.1 239.9,615.1 100.3,606.3 192.6,642 193.6,628.5 85.1,622 222.2,637.8 220.2,640.5 272.5,570 209.3,630.6 177.2,632.2 127.1,636.4 104.7,643.6 211.8,667.5 258.1,629 235.6,591.5 147.1,633.1 128.4,646.7 133.4,613.5 83.5,611.5 80,624.8 249.2,654.6 122.1,632.4 110,604.3 224.4,629.2 258.4,593.7 192.1,634.9 172.2,651.8 173.3,645.4 260.2,599.2 194.4,670.1 179.3,668.7 171.9,670.4 264.5,624.4 238.7,614.9 247.5,626 74.1,644.6 194.9,628.7 145.4,666.7 128.6,608 265.2,638.2 214.3,596.3 259.2,639.2 121.6,596.8 75.5,604.9 124.1,621.4 110.3,672.5 134.6,631.7 195.3,622.5 106.8,643.4 177,608.3 264.4,643.4 149.4,654.4 157.9,562.7 78,628.6 125.5,643.6 196.6,635.2 167.7,626.3 197.5,668.6 126.9,630.7 241.8,621.1 242.5,630.2 212.7,618.1 221.9,650.9 235.6,601.3 184.7,630.9 114.9,598.2 268.2,606 150.1,621.6 78.8,638.6 120.3,615.2 166.3,662.7 180.9,636.1 210.6,648.1 161.9,625.4 254.8,604 248.3,643.4 139.3,635 225.6,638.4 222.3,662.6 134.3,630.5 271.8,661.6 159.5,667.4 187.6,666.2 88.1,623.5 95.8,613.2 170.9,635.6 175.3,660.9 238.6,615.1 245.4,575.1 78.8,656.9 81,590.9 143,612.9 235,632.7 148.5,642.2 102.2,639.7 88.4,623.2 221.7,572.4 166.9,682.7 194.9,635.2 257.2,634.7 195.8,684.3 94.6,628.1 142.8,633.2 223.9,594.5 69.3,631 257.9,609.1 257.6,633.9 112,639.9 271.7,614.5 184.8,662.1 109.5,628.5 213.2,624.4 212.7,643.6 207.7,626.7 252.8,584.4 238.4,642.5 83.7,649 126,600.2 195.1,656.7 152.8,695.8 159.1,663.7 122.3,620.2 168.8,631.6 72.6,637.6 157.8,639.1 252.3,654.2 132,610.5 233.3,614.1 86.4,632.6 242.5,631.4 128.3,602.9 202.6,627.6 179,658 220.1,607.5 154.5,670.8 154,664.8 121.1,611.1 151.4,671.9 249.7,657.7 175.5,677 177.6,647.2 269,631.7 183.7,682.9 191.6,638.8 233.3,655.7 131.3,694.9 260.9,628.2 200.9,673.1 153.1,661.5 268.3,618.2 256.9,659.9 113.3,673.4 198,623.3 173.6,638.5 68.8,590.2 158.3,659.4 210.1,632.1 228.8,651.3 259.9,609.9 174.5,603.1 112.2,636.3 198.9,623.5 124.9,602.2 132.9,628.6 89.5,597 192.6,615.6 95,631.3 271.5,638.7 229,641.3 227.7,649 223,591.7 106,641.5 80.3,644 209.2,652.4 129.3,641.1 202.9,614.1 197.3,621.3 201.7,677.1 130.6,623.6 265.1,617.9 270.8,615.1 155.8,602.6 142.8,619.3 120.4,580.2 173,661.5 148.7,602 247.4,644.1 139.1,638.8 255.6,593.7 205.8,609.5 139.2,641.9 205.8,618.3 92.6,662.8 252.7,643.6 194.3,653.3 234.8,686.2 127.5,617.2 189.1,672 108.9,631.5 92.4,601.7 99.6,617 156.1,661.2 210.6,637.5 219.4,621 112.3,655.9 217.3,618.5 156.8,636.9 119.6,600.8 73,626.1 124.2,625.9 199.3,663.3 136.6,623.4 127.5,609 248.9,625.9 206.9,631.4 124.6,638.1 191,658 147.8,637.9 112.5,656.6 223.5,615.1 134.7,634.4 267.6,618.9 76.6,633.8 100.1,629.6 155.8,670.7 226.2,588.6 96.2,607.5 155,642.5 152.2,666.1 72,589.9 127,618.6 72.7,632.2 106.1,641.8 209.1,630.6 237.3,602.3 177.4,664.2 155.5,648.5 144.8,629.5 175.7,635.7 116.5,606.4 72.2,626.7 230.2,615.6 131.2,616.2 183.7,661.4 172,649.3 122.9,652.6 160.1,642.8 106.4,628.4 110.6,625.2 169.7,660.4 240.7,581.6 129.6,606.6 202.5,633.7 137.3,645.9 168.2,647.9 88.1,633.4 142.6,628.6 270.9,621.3 211.7,650.9 167.8,662.6 108.3,627.4 107.4,667 203.1,582.4 126.2,598.2 120,622.6 118.6,609.5 224.4,624.6 79.2,629.3 159.4,638.1 131.4,626 151.1,623.4 130.1,628.2 225.4,605.3 165.2,612.6 225.8,614.9 97.8,625.6 179.5,671.1 117,639.7 163.5,668.6 264,632.2 73.4,609 106.8,661.4 210.5,620.9 215.9,662.9 102.5,637.4 172.9,633.4 147,657 129,602.5 242.8,624.9 169.1,651.8 251.5,628.7 200.6,630.7 127.4,622 237.3,654 73.2,631 261.8,643.2 88.2,624.8 255.8,643.7 80.4,626.7 104.8,591.1 129.8,558.9 256.4,635.2 154.4,644 243.8,613.7 124.6,638 225.9,627.2 173.7,659.2 228.1,613.4 201.9,646.8 219.9,586.5 102.6,647.7 95.3,628.2 92,598.6 248.7,619.4 185.7,692.1 109.9,613 157.6,645 217.8,617.2 196.8,662.6 210.8,581.2 217.7,660.3 245.2,601.9 153.8,669.2 114.2,652.1 258.6,610.8 250.9,641.2 130,586.3 222.1,598.5 183.6,636.6 206.1,637.7 248.5,636.3 169,638 229.8,614.9 135.5,636.8 212.2,626.7 147,632.6 266.1,607.4 89.1,641.8 142.8,628.8 161.5,628.8 109.4,616.6 132.6,614.1 184.4,656.2 118.8,606.4 114.8,635.8 84.3,649 126.4,567.8 86,647.6 207.9,656.4 200.8,626.6 190.2,627.7 193.6,628.8 229,624.3 259.2,649.5 247.1,586.1 258.1,662.1 101.1,617.9 190.8,675 226.4,623 214.5,627.9 179.2,637 127.9,648.9 268.8,645.3 71.9,671.3 80.9,645.1 196.2,653.5 160.4,654.7 216,649.4 86,622.6 259.2,627.7 230.4,612.2 211.9,609.3 250.2,643.9 151.4,626 131.1,615.3 220.9,682.3 148.4,612.7 83.4,647.1 176.7,648.6 228.6,579.4 163,656.4 93.7,607.8 240.7,649.5 271.7,647.1 170.5,623.7 142.5,633.8 120.7,606.4 121.9,597.6 250.4,603.9 97.7,615.9 122.7,640.2 200,640.6 143.5,621.8 240.7,617.5 231,656.1 89,643.4 180.9,645.7 72.4,610 250.9,630.4 248.5,648.2 145.3,629.1 83,644.6 207.3,641 245.6,620.2 213.6,580.4 115.6,585 185.2,691.7 222.1,579.7 193.5,670.5 207.4,637.1 131.8,640.6 107.1,601.6 244.7,637.3 145.1,610.2 125.2,637.3 90.8,631.5 253.8,641 98.4,631.8 136.9,641 107.4,584.1 245.7,596.2 131.8,605.5 170.6,597.2 220.6,630.9 93.2,643.4 177.9,663.2 253.8,658.9 243.6,634.1 252,622.4 127.6,648.9 132.5,623.5 89.8,625.3 255.5,641.3 71.7,652.1 70.5,624.7 94.2,631 140.6,645.3 238.4,660.2 186.6,612.8 189.6,615 79.4,636.8 209.6,643.4 245.6,613.7 77,639.2 230.8,622.6 161.8,692.4 132.6,623.3 223,597.6 97.4,605.1 159.2,636.5 201,611.6 166,640.1 165.1,644.9 154.6,651.6 129.5,665.7 254.2,648.6 101,621.4 235.6,668 123,586.6 82.6,611 229.1,671.9 171.6,629.8 205.6,635 168.6,615.1 236.7,641.4 245.6,604.6 160.8,673.2 240.6,651.3 239.8,672.9 176.1,643.3 262.6,670.6 79.9,599.4 166.2,678.9 175.8,633 102.2,615 89.5,643.3 192.3,643.9 74.1,583.1 257.3,637.5 272.9,607.5 92.7,610.4 102.8,621.4 240.2,666.9 244.7,639.2 193.9,632.8 185.8,625.1 229.5,643.9 137.2,667.3 219.4,662.7 111.9,628.5 159.4,664.7 251.6,615.3 149.4,633.7 178.8,654.7 149,673.4 139.5,628.5 74.7,621.4 221.7,628.6 257,614.9 245,642 149.1,629 119.4,614.7 215,630.6 170.2,649.4 187.4,659.8 159.7,655.9 231.8,645.4 176.8,623.6 88.7,625.8 159.3,691.3 200.1,632.8 257.8,601.7 134.4,596.8 203.6,603.4 139.7,654.5 165.9,632.7 256.5,675.5 175.6,610.1 135.7,588.1 154.7,671.9 161.4,641.7 186.9,673.1 263.6,624.6 248.1,642 94.2,650.1 185.6,612.2 264.5,625.4 222.3,608.7 74.6,618.4 90.4,650.7 197.8,642.7 254.2,607.2 236.8,605.9 223.3,637.2 224.4,585 158.5,625 153.6,611.2 139.9,616.4 265,600.4 128.7,647.3 90.5,629.2 197.1,661.3 261.6,623.8 172.1,673.1 185.9,639.6 191.7,653.9 205.2,664.7 109.9,636.5 78.3,639.9 163.5,670.9 97.2,596.4 188.1,666.1 230.1,604.6 184,618.8 99.4,596.5 113.1,638 121.3,644.8 246.5,655.5 208.1,654.5 97,655.2 82.5,640.6 234.8,625.5 185,616.1 98.1,654.8 157,615.9 102.1,663.2 216.9,578.5 218.5,602.3 260.8,587.4 196,625 137.9,660.6 178.5,678.8 225.6,625.7 262.6,660.6 155,633 257.2,605.2 191.1,662.4 131.3,605.8 207,625.1 270.9,622.1 248.4,615.9 245.5,645.7 213.9,630.2 210,649.8 138.5,618.4 200.5,645.4 190.8,618.2 157.1,625.8 268.7,642.5 102.7,630.8 115,630.9 211.3,601.1 73.5,611.5 190.3,640.5 96.6,582.4 152.1,642.9 249.9,623.9 164.9,647.4 134.7,620.1 174.4,687 157.4,617.4 154.5,666.7 78.8,659.1 235.8,609 102,584 219.8,626.6 145.6,647.4 116.4,673.2 114.2,611.3 128.9,647.2 85.7,621.2 220.5,639.4 244.3,610.9 145.1,644.8 146.3,628.2 146.2,644.7 206.5,634.9 257.2,647.2 271.4,604.3 228.1,667.1 232.3,614.1 128.3,664.4 140,637.2 150,624.2 227.9,656.6 255,608.4 173.4,657.6 115.3,611.2 151.8,628.5 251.3,607.4 212.1,636.1 105.8,622 219.1,642 80.9,626.1 77.4,642.5 132.4,612 253.7,570.4 221,609.1 204.8,649.7 78.1,629.3 213.6,631.9 202.5,657.9 214.6,650.7 117.9,618.5 226.6,657.1 132.6,584.4 114.5,663.9 211.8,632 76.3,594.4 231,612.7 267.3,596.7 119.5,669.6 191.9,652.3 113.6,659 227.1,643.5 201.3,623.1 190.8,664.2 196.1,613.5 237.3,650.3 150.3,643.4 128.5,639.5 174.8,668.9 101.6,653.8 226.9,641.6 118.6,601.2 191.8,671 250.9,615.5 247.8,675.7 246.3,608.1 70.7,646.5 244.6,638.2 198.7,616.9 115.3,631.7 155,639.6 270.3,632.9 269.1,626 178.5,677.5 237.2,639.3 90.4,637.5 168.3,680 80.3,623 106.7,625.3 110.1,653.1 87.2,632.7 238.8,622.5 89.1,650.8 196.6,620.2 100.4,617.6 220,654.3 115.3,602.4 104.6,601.9 193.9,656.9 189.3,634.4 187.8,686 228,678.6 216.9,631.4 240.8,653.1 187.5,631.2 74.3,595.2 147.8,648.5 141.9,644.2 172.9,630.1 228.2,617.4 196.1,614.9 222.1,649.5 92.3,614.1 254,627.6 138.8,660.6 186.4,659.8 261.3,612.3 231.5,642.4 206.1,666.5 263.1,618.9 174.1,633.4 161.3,660.5 188.2,652 186.4,643.6 152.7,668.9 232.8,627.5 156.5,603.9 232.5,607.4 163.2,648.5 152.6,657.5 270.3,585 141.2,667.8 117.5,634.4 157.7,664.8 147.3,660.4 134.5,636.4 138.5,637.9 194.7,611.1 225.1,597.8 233.8,606.5 173.7,637.9 186.9,658 185.6,659.6 219.9,598.5 219.9,619.2 121.4,669.6 251.2,641.7 156.2,702.7 214.7,628.9 215.7,598.1 229.6,587 212.9,633.3 261.8,630.9 176.4,654.6 253.9,664.4 171.5,661.5 127,634.8 239.9,625.7 260.2,621.3 90.6,634.4 260.1,621.6 138.4,664.3 121.9,628.8 90.8,633 245.2,594.2 168.1,663.1 140.2,607.5 132.1,634 259.6,628.1 118.6,625 216.2,613.7 186.8,680.3 163.5,690.7 101.5,605.4 133.9,614.9 192.1,604.8 159.8,656.3 245.4,604.1 116.3,670.6 128.2,676.3 150.2,696.9 150.9,608 252.4,628 112.1,621.2 93.8,641.7 184.4,686.7 106.2,621.6 231.6,653.3 209.5,635.5 123.5,631.7 222.7,576.4 265.2,608.4 84.1,624.3 194.6,633.9 91.3,668.7 232,603.4 159.5,640.6 179.4,637.7 135.8,634.3 198.6,634.2 79.2,607.9 85.2,635.6 154.1,663.6 165.7,647.6 76,630.6 148,655.2 73.8,661.8 268.1,608.5 155.8,685.2 223.5,584.5 99.9,629.6 122.9,631.5 211.3,636.4 147.2,647.9 178.2,667.3 245.3,637.1 181,663.8 254.1,615.8 129.7,666.1 200.6,646.5 99.5,644.8 95.8,596.2 153.6,637.3 213.1,624.9 171.6,623.8 96.6,655.1 195.3,657.3 268.4,615.8 258.2,636.5 95.5,611 134.1,585 135,624.8 147.6,620.4 212,635.2 244.1,634.1 99.9,621.8 216,597.4 264.9,624.6 261.6,600.4 179.7,651.1 105.6,642.7 215.6,640.5 237.8,619.3 103.4,634.8 124.4,644.6 248.7,625.2 195.5,639.8 86.7,606.5 259.6,644 165.7,617 206.4,609.1 204.8,605.3 107.1,613.9 156.2,612.7 145.3,628 190.2,657.2 237.8,662.8 194.3,619.4 173.3,627.5 120.4,620.1 185.9,648.2 271.8,616.1 70.5,620.9 189.2,665.8 137,601.7 98.7,630.1 142.2,632.7 75.3,615.6 71,593.9 190.2,656.6 142.6,631.9 179.1,656.4 254.8,647.7 151.6,682.4 151.3,622.1 272.4,641.8 174.4,639.1 70.2,570.7 72.5,625.5 152.3,645.1 118.2,643.3 133.8,625.3 186.4,670.9 205.9,661 122.8,660.2 187,646.6 235.1,645 143.6,638 268.1,644.6 163.7,666.3 76.6,617.6 199.6,598.7 81.1,608 124.9,613.9 181.4,649.6 149.5,699 157.7,651.4 229.5,610.9 179.8,679.7 252.3,667.2 162.8,646 138.4,651.3 111.6,642.6 155.4,628.1 138,626.5 151.2,655 108.4,643.6 225,643.5 162.8,631.8 125,629.9 125.8,605.5 231.3,668.1 86.2,616.5 146.9,639 162.1,648.6 213.5,614.9 252,651 90.6,634.4 183.1,649.8 261.6,617.1 69.7,628.5 79.4,629.9 123.3,663.9 212.6,635.4 267,632.5 185.6,633.3 192.1,680 198.8,621.1 187.8,627.5 71.7,617.8 261,623.3 92.3,624.3 83.3,635.6 217.4,662.4 201.3,640.9 198.8,627.1 123.5,643.4 200.7,617.1 90.7,617 150.5,678 215,618.6 71,594.4 135.2,646.7 136.2,619.3 140.5,610.6 265.2,653.8 70.8,623.4 125.3,611.9 271.8,641.1 131.8,620.1 175.5,642.1 214.6,598.8 246.2,646.2 229.3,610.2 145.2,593.8 212.7,660.6 134.4,616.2 214.6,591.9 251.5,617 227.8,614.8 217.5,616.3 214.3,644.3 225.6,659.3 254.5,647.9 126.6,630 115.9,621.1 268.9,640.9 124.7,609.9 140,606.8 132.7,647.2 233.2,633.8 211,677.2 71.3,632.1 132.5,626.7 107.6,586.6 214,641 141.2,601.8 232.8,612.1 223,617.4 240.9,612 113.4,609.1 118.4,626.6 104.6,608.1 89.2,669.3 270.3,625.5 259.8,624 237.3,596.4 170.8,633.9 178.7,652.7 116.6,639.2 75.1,641.9 137.5,607.4 173.5,659.8 111.5,628.4 240.6,665.1 79.2,659.3 109.3,642.9 118.7,595.6 252.8,627 241.7,643.1 104.6,632.1 160.2,596.7 124.3,634 258.6,591.5 224.3,646 77.3,635.1 141.7,640.8 74.2,640.1 179.5,611 127.9,638.8 271,615 224.3,647.4 145.8,645.1 227.1,634.3 247.6,617.6 261.8,629.3 140,653 146.8,661.9 182.2,645.7 136.5,647.6 96.1,613.5 248.4,653.8 181.4,674.4 130,623.1 72.3,591.2 262.8,586.4 102.9,579.8 156.7,659.6 267.6,615.5 97.4,669.8 151.7,659.7 136.9,577.2 107.7,614 180.7,641.2 252.5,627.5 100.2,620.5 133.4,625.1 251.5,661.2 159.9,598.8 76.5,626.3 138.7,634.5 257.1,653 185.8,663.7 266.8,627 81.6,620.9 94.8,652.4 245.4,629.6 112.4,651.9 116.4,588.9 159.6,621 208.4,639.5 73.3,626 146.2,628.4 131.9,650.1 174.3,619.5 243,611.2 118.7,650.9 73.6,638.1 106.2,631.6 244.1,643.9 159.9,668 114.1,646.8 75,658.2 221.1,587.1 155.8,644.1 222.1,665.7 121,646.1 192.1,643.7 224.7,622.1 224.7,608.1 271.7,623.4 70.2,601 198.8,611.8 129.9,621.1 255.6,634.1 86.9,583.3 130.6,616.9 90.8,627.9 256,623.4 240.2,618.4 173.7,631.3 169.4,643.2 261.9,663.7 194.5,628 115.4,655.5 116.6,614.6 131.7,608.1 83.4,620.3 189.1,640.3 117.4,647.7 142.3,646.2 153.4,679.1 199.5,615.6 186.3,627.6 166.1,666 217.3,602.3 194.5,625 157.2,645.4 264.5,661.2 207.7,610.4 88.8,629 182.7,608.6 111.7,621.3 166.3,657.5 146,601.5 74.7,627.5 133.9,635.7 235.3,636.2 119.8,628.7 107.4,621.1 77,636.8 145.9,641.3 84.6,645.6 268.3,646 226,626.1 170.6,656.1 233.9,622.7 82.1,635.3 107.7,667 227.3,638.5 165.5,644.5 75.4,601.3 129.7,627.1 264.9,667 198.8,626.9 158.6,682.6 118.5,618.5 268.9,668.7 158.6,616.6 74.9,618.9 227.3,608.3 221.9,609.9 99.7,640.6 187,637.2 136,605.5 125.5,622.1 233.7,640.7 78.6,604 224.5,610.1 136.4,633.6 125.2,596.9 244.3,608.2 178.6,642.8 134.5,655.7 249.8,607.3 156.9,668.9 99.5,623.4 179.1,677.2 100,654.3 112.4,620.2 235.7,678.9 136.7,616.4 223.5,588.8 78.4,619.9 183.3,653.2 81.2,648.1 92.8,643 127.8,595 71,624.9 165.5,651.2 73.4,601.1 214.5,628.7 69.7,634.7 136.4,653.3 213.8,611.6 177.6,672.1 172.8,643 233.6,635.5 238.7,608.4 211.4,573.4 98.8,591.9 236.5,628 142,646.9 268.1,666.6 131.8,584.8 250.4,597.9 155.1,655.1 253.7,605.3 230.3,653.3 233.6,614.9 74.9,641.9 242.7,651.9 140.4,632.8 129,628.6 133,606.9 257.1,633.3 264.3,590.7 75.8,627.5 204.1,628 228.4,653.7 226.9,627.6 69.1,610.5 138.4,641.7 191,649.9 115.4,635.5 79,610.8 173.6,614.2 77.6,638.8 119.3,616.3 89.3,624.1 199.1,659.3 85.7,596 258.5,634.6 132.5,623.1 228.8,663 113.5,613.8 73,659.9 213,609.5 178.3,617.8 270.2,629.1 114.8,651.9 244.9,600.9 117.7,640.6 176.4,667.9 108.4,582.7 263.1,646.7 185.7,656.5 157.4,648.7 178.1,644.8 246.6,651.4 211.2,590.8 166.5,703.8 210,641.8 89.7,624 155.5,640.6 134.9,644.5 132.7,649.1 255.2,633 176.3,665.8 272.5,625.8 125.5,652.6 162.7,656.4 242.3,607.5 254.6,622.5 204.5,606.1 140.1,605.1 213.9,612 232.1,628.5 192.8,641.4 223.9,647.5 217.4,585 112.6,593.8 119.8,668.7 79.5,599.1 265.9,656.6 81.5,650.8 223.5,635.9 170.7,661 258.4,651.5 121.6,653.7 265,588.2 96.3,613.4 93.1,597 176.3,644 108.7,636.4 131.9,625.4 163.3,707.8 192,674.8 178.2,682.3 242.8,639.9 69.4,588 239.5,621 86.2,612.4 105,607.2 85.3,626.5 148,647.7 208.8,670.1 73.7,641.1 124.8,642.2 109,635.3 89.7,615 205.1,644.6 191.7,630.2 80.5,619.4 135.2,613.4 115.4,641.4 160.7,568.5 78.3,626.2 262.9,642.5 228.6,595.1 148.3,614.3 170.3,636.2 240.5,625.9 132,632 261.5,625.4 238.4,610 176.9,654.9 72.3,603.1 270.5,638.3 132.1,617.5 102,612.4 136.1,631.1 70.1,613.2 97.5,616.9 168,672.1 85.1,642.8 145.4,629.7 219.6,598.5 212.3,591.1 210.5,645.2 240.6,622.7 147.7,613.9 184.7,642.3 146.9,610.3 184.5,652.8 170.9,660.7 91.2,635 209.3,633.2 151.4,642.6 73.6,683.2 249.9,650.8 125.8,630.6 84.1,636.7 145,594.3 131.6,627.6 177.9,655.8 218.2,617.9 142.4,594.4 199.6,661.2 262.4,633.7 265.5,635 146.4,637.3 245.8,605.9 213.5,621.9 150.4,631.2 127,610.7 135.3,638.2 96.9,653.7 103,636.8 75.8,630.8 86.6,644.9 182.7,655.8 82.2,633 238.1,624.6 233.3,620.1 254.5,607 249.8,623.2 196.1,636.5 95.7,631.8 160.7,646.7 208.7,628.3 243.1,621.9 237.5,594.9 266.2,640.7 85.7,612.7 270.5,658.1 148.8,630 101.6,593.7 110.9,646.4 240.6,607.8 215.9,623.8 99.9,625.5 208.6,625.3 268.1,617.1 186.4,668 135.5,625.8 129.2,652.4 115.9,640.3 171.2,637.4 220.3,660.8 234.5,613 120.2,609 237.9,645.7 231.4,641.7 135.4,650.2 188.5,648.1 153.1,617.8 253.4,561 73.9,635.1 149.1,656.3 183.1,659.4 269.8,626.9 263.4,631.4 187,634.3 239,594.4 138,650.2 90.1,625.2 147.5,683.4 111.5,639.8 131.3,640.2 181,675.4 136.5,612.4 169.6,663.7 218.2,628.4 247,628.8 187.1,637.8 240.2,642 209.2,663.3 233.4,601.6 224.1,630.6 230.1,639.2 79.9,599.3 194.6,671.9 129.3,623.2 95.9,665.3 245.7,614.9 202.9,620.1 195.5,655.8 265.2,649 135.4,629.6 79.2,623.2 95,623.1 222.8,632.6 192.9,644.7 105.4,625.3 86.8,614.7 196.4,586.3 165.9,652.1 113.5,614.5 161.9,653.6 218.5,637.1 104.3,590.7 173.9,654.7 268.9,593.5 71,612.4 271.5,603.2 97.7,650 173.8,675.6 238.5,590.7 105.6,634.6 239.2,637.1 131.7,630 166.7,646.5 214.2,661.1 243.9,599 93.8,630.6 85.9,610.3 190,608.3 115.9,617.8 104.9,646.9 175.6,633.3 253.7,635 241.9,624.7 260.3,625 205.7,624.6 171.2,668.5 104.8,663.5 224.1,617.4 191.3,659.7 250.7,612.2 172.9,659.7 157.3,653.8 226.6,605.9 71.6,658.8 246.4,639.2 207.1,620.5 117.7,623.7 249.4,642.1 86.4,633.4 269.4,660.9 144.2,595.3 155.8,664.4 145.5,622 76.9,653.2 176.4,659.2 121.1,643.8 218.8,646.3 85.4,647.2 77.8,616.7 166.7,656.4 252.8,657.4 107.8,608.3 73,613 204.4,625.3 212.9,621.4 268.9,625.2 224,647.9 256,601 213.1,622.6 185.3,645 240.2,618.1 192.3,638 209.6,657.8 215.7,602.2 207.2,645.4 257.8,657.7 197.6,593.1 132.3,643.3 120.9,629.4 235.4,604.4 257,627.8 94.6,621.1 261.6,646.8 170.6,667.6 103.3,652.5 234.9,622.3 268.3,638.6 131,641.8 269.9,622.3 191.5,670.6 203,619.9 160.9,627.6 190.4,628.8 148.7,596.7 110.8,629.2 243.8,657.6 180.5,647.9 198.2,639.7 90,674.1 249.5,613.3 173.2,654 154.2,633.9 138.1,608.4 256.4,683.5 122.8,650.8 254.5,642.3 121.6,624 109.3,646.8 178.6,640.5 244.8,626.7 256.7,637.3 99.1,628.4 214.9,657 213.1,651.5 122,620.8 262,674.4 72.2,626.4 216,623.3 206.4,647.7 145.5,661.3 264.6,611.5 80.9,586.2 119.2,588.9 188.8,636.9 209.6,612.6 194.7,662 270.7,652 145.5,623.7 243.5,654.9 179.3,643.6 216.5,602.7 185.9,654 134,633 116.5,636.4 150.3,630.9 69,616.4 227.9,621.5 160.5,678.4 92.6,649.9 84.1,608.7 271.7,585.3 146.9,616.7 174.9,600.1 231.5,641.4 231.7,620.4 220.5,665.1 77.8,591 203.2,620.8 226.1,645 87.2,650.7 124.7,642.1 214.4,622 163.9,659.2 175.5,655.8 235.8,646.4 142.4,625.8 95.2,628.2 234,631.6 75.8,658.8 238.8,605.5 154.5,669.9 72.9,627.2 228.4,625 150,650.8 153,655.1 69.1,595.2 264.9,652.5 242.8,606 142.2,662.8 96.1,644.1 258.1,617.7 168.3,618.3 235.3,571.6 90,691.6 198.9,647.2 142.2,619.2 127.4,607.7 239.8,625.2 90.1,560.5 165,638.1 197.2,642.2 92.7,656.7 267.7,644.7 243.4,618.6 271.5,622 248.8,687.8 214,634 156.2,648.3 148.8,650.6 85.1,631.4 107,664.6 88.8,617 113.3,672.5 100.1,646.4 169.3,608.8 159.6,680.6 76.3,652.8 245.1,620.9 80.1,618.7 165.7,603.7 202.2,642.8 251.5,619.9 203.6,656.5 269.1,620.1 189.9,634.4 184.8,658.1 265.5,603.7 200.5,621 252.8,611.5 83,625.6 137.6,625 147.4,640.8 112.7,621.7 193,620.5 256,651.2 195.2,632.1 261.6,625.1 186.8,663.6 211.9,642.3 234.2,580.9 230.2,627.6 151.4,651 178.4,643.5 152.7,623.4 86.4,673.9 221.8,654 118.3,633.9 226.2,614.2 145.6,628.8 119.1,634.9 153.6,658.9 155.8,674.1 110.7,617.5 228.5,657.6 161.3,690.8 204.9,655.9 165.5,647 138.5,582.1 191.7,663 255.9,636.9 123,654.7 217.9,628.1 69.9,633.2 245.7,614.1 210.9,646.4 163.9,661.3 116.1,620.8 223.7,643.8 113.9,644 129.7,608.6 113.5,638.2 75.5,611.2 148,667.8 170,640.8 185.2,633.8 257.7,655.2 98.8,633.4 184.9,685.9 162.4,616.1 76,635.2 192.4,659.1 86.8,648.5 219.4,598.6 213.3,622.4 220.3,609.1 129.1,621.8 248.4,631.4 69.8,622.7 248.1,632.8 185.8,640.6 228.3,688.1 135.1,628 165.6,636.9 95.5,634.3 86.6,622.2 92.3,620.6 139.7,651.6 216,644.7 180.7,628.2 96.4,688.2 165.4,636.3 252.6,604.8 86.3,623 241.2,569.8 193.1,632.1 204.5,612.4 253.6,605.6 133,631.7 161.2,683.7 214.8,631.7 263.2,607.3 210.9,642.4 235.6,649.5 110.8,650.1 68.9,595.1 231.9,637.3 227.4,647.2 237.4,642 211.3,623.5 174.5,655.8 179.5,637.3 161.3,655 76.8,633.8 262.8,620.8 163,616.2 89.1,645.2 112.8,661.2 267.7,597.4 184.3,619.9 184.3,653.8 143.3,613.8 150.4,642.3 244.1,615.1 196.3,659.7 119.4,624.2 183.3,610 183.2,654.6 69,647.4 199.7,623.1 143,644.9 261.5,605.1 124.8,651.1 149.6,690.9 226,612.3 254.7,618.3 252.9,584.5 77.9,643.9 262.5,641.7 89.1,635.6 201.9,598.5 97,642.4 221.3,627.5 154.5,636.4 221.6,636.8 210.8,612.5 70.1,607.9 100.5,667.2 100.6,593.8 202.9,627.1 136.6,622.8 267.6,600.7 261.2,632.8 168.8,623.9 233.1,603.5 208.4,639.1 119,602.3 103.7,601.9 195.2,641.7 149.8,631.4 226.6,616.2 197.7,669.5 257,647 87.8,627.6 140.3,644.3 235,612.8 123.5,650.2 90.3,632.1 139.4,644.9 97.8,614.6 196.6,614.4 79.3,631.2 98.9,620.1 113,582.2 248.5,630.1 146.1,618.5 216.7,587.9 192.8,659.7 114.1,650.2 86.2,657.2 89.2,620.5 240,628.3 139.2,593.6 173,654.1 115.7,613.9 69.4,626.4 184.9,665.4 181.3,656.5 202.4,598.8 86,667.3 238.9,602.3 195.3,640.7 137.8,628.4 206.3,639.7 240.5,619.4 90,623.7 76.6,627.7 267.2,633.8 224.2,689.3 252.9,626 217.6,628.3 91.3,618.7 266.7,604.7 248,629.1 96.5,616.8 202.4,617.9 200.5,610.6 72,599.7 149.5,618 154.4,637 89,652.1 116.5,594.5 122.6,609.8 90.7,597.8 82.7,645.8 151.8,676.3 127.7,656 80.7,617.9 81.6,634.5 258.5,595.4 198,646.2 98.5,616.9 185,628.8 108.5,626.7 125.3,615.5 137.1,620.7 102.1,627.9 193.8,626.4 182.9,663.4 169.3,624.8 143.2,616.9 123.2,584.5 143.6,683.7 208,623.8 126.5,633.8 175.5,648.4 156.6,675.8 255,641.8 264.2,631.9 199.3,617.4 76.2,638.1 249.9,653.6 138.2,631.2 224.6,638.3 168.9,655 124.3,625.1 127.1,615.3 70.7,644.7 169,636.3 146.9,614.7 100.7,630.4 242.5,613.2 190.5,654.8 224.1,637.8 224.5,630.8 213,665.2 217.6,639.6 268.5,646.6 163.2,651.7 252.7,627.1 157.8,626.1 223.4,633.3 129.1,634.5 240,610.1 133.6,612.6 126.4,641.3 124.1,643.3 161.5,656.1 119.3,624.5 98.1,623 138.3,663.6 171.8,647.4 256.8,635.4 189.2,627.9 179.2,657.3 225.3,677.2 145.8,618.9 83.9,600.7 92.9,592.8 245.3,639.7 98.7,625.9 82.2,636.3 85.1,652.6 154.5,627.9 192.9,592.7 88.3,610.8 109,642.6 194.5,622.9 195.6,630.5 72.9,609.3 192.4,656 189,665.9 213.3,645.6 159.4,637.1 156.7,685.7 202.2,670.2 220,639.4 165.5,640.2 124.4,618.6 251.7,635.8 185.4,663.6 220.7,613.2 186.9,646.2 270.9,660 108.6,628.1 191.2,660.7 89.6,654 187.2,644.6 137,612.8 203,662.2 125.3,635.5 184.5,641.6 227.4,596.4 109.3,647.7 224,623.4 72.4,634.3 260.4,597 176.1,626.5 268.4,610.7 166,657 123.7,593.8 208.5,623.2 162.4,677.5 127.5,682.8 151.8,641.1 243.8,638.5 111.4,614.6 93.3,614.7 73.8,611.6 211.9,596.1 107.4,642.5 121.5,637.9 219.1,674.4 74.2,648.5 239.1,641.7 150.5,675 222.3,596.4 238.5,646.8 140.5,620.7 223.8,637.6 190.8,679.9 136.3,605.1 234.7,633.9 148.2,634.5 88.7,616.9 149.3,650.7 110.4,609.9 175.7,672 180.8,639.2 210.1,638.5 258.6,617.1 194.8,645.1 81.4,621.7 98.7,632.2 213.8,610.4 88.6,643.6 241.8,610.7 101.7,641.8 223.6,633.5 150,644.4 194.4,654.6 102,616.6 198.8,660.6 169,634.4 210.9,615.5 124,575.7 153.1,655.9 222.6,644.1 221.6,620.7 219.8,626.8 86.8,624.5 270.4,641 165.2,633.6 147.6,617.3 146,619.9 199.5,625.8 237.7,627.8 76.1,603.3 219.9,585.6 190.3,600 144.4,625.5 133.2,599.4 77.2,631.3 254.6,598 163.8,664.3 223,674.7 82.2,592.8 193.1,642.2 113.9,589.4 235.7,624.8 223,654.1 239.7,617.2 111.9,629.1 212.1,603 111,634.7 256.7,628.2 139.9,634 113.8,649.4 181.5,626.6 206.3,623.9 228.4,602.8 229.2,630.6 190.8,625.5 126.7,607.6 202,639.4 131.7,631.5 152,617.7 96.1,665 245.3,621.7 256.9,644.2 187.8,656.2 122.7,594.8 232.8,607.3 264.5,612 190,625.9 216.9,655.1 250.2,620.7 102.8,652.1 232.3,610.5 94.7,613.3 195.6,621.5 263.8,611.1 158,685.5 218.2,615.5 118.3,605.4 101.6,701.7 115,621.7 76.4,612.5 127.1,614.4 235.9,639.6 86.5,641 210.3,621.3 187.9,652 107.9,666.1 147.4,640.6 250.1,615.2 151.5,627.7 213.1,627.8 231.3,624.2 238.4,642.9 175.3,634.7 153.1,630 122.3,631.8 149.6,622.5 95.8,632.2 160.6,666.6 252.7,610.9 215.9,614.2 261.2,662.7 178.2,642 75.7,644.7 147.6,630 254.2,627.6 214.6,668 115.9,629.3 269.1,690.5 185.4,663.3 141.9,631.6 117.4,643.3 89.2,661.7 233.5,648.9 153.3,641 178.2,630.9 131,651.2 76,623.3 230,628.9 165.7,688.5 192.3,661.3 262.6,654.5 133.1,611.6 114,684.1 94.3,636 256.3,637.1 92.7,647.6 254,638.7 254,640.9 137.2,612 210.3,616 210.1,633.1 86,612.9 242.3,655.3 107.9,600.6 69.1,613.9 229.4,644.4 83.4,662.6 208.3,614.6 235.1,638.4 174.2,602 73.6,606.1 142.4,654.3 242.2,629.5 211.9,641.2 233.9,619 138.4,634.3 268.7,633.7 148.2,638.5 170.2,611.5 182.3,644.2 211.7,602.2 223,636 134.1,624.2 106.3,641.2 241.8,630.2 121.4,638.4 121.4,626.3 75.8,664.6 74.1,625.7 94,607.7 135.6,650.4 98.8,634.2 235.7,619.4 156.1,647.1 272.8,615 80.8,622.6 183,652 272.8,620.1 246.8,585.5 150.5,639.8 249.6,613.3 272.1,620 99.2,630.1 169.5,658.4 74.9,670.6 104.4,602.7 152.4,654.7 73.5,616.9 213.6,649.7 233.7,638.1 178.1,641.9 94.6,622.8 219.3,605.1 246.6,656.2 192.6,658 79.4,613.1 89.4,663.3 219.6,609.8 223.9,618.5 130.8,646.5 170.6,662 194.8,635 268.5,643.3 242,618.7 241.5,658.2 222.5,629.7 206.8,620.5 169.8,644.8 269.9,613.4 94.5,630.4 211.2,605.6 195.9,648.7 74.4,603 247.7,631.1 183.5,690 242,587.1 223.7,650.9 93.8,625.1 151.1,656.2 255.5,639 264,646.2 171.1,631.9 109.3,661.7 181.4,667.1 200.1,633 245.5,637.1 218.2,681.6 78.8,637.5 150.8,649.7 250.2,627.3 98.4,660.4 93.2,624.8 227.4,653.5 97.8,629.2 119,629.1 235.5,669.5 91.2,651.9 238.1,649.3 109.4,701.1 258.7,608.5 252.7,649.4 164.2,645.3 247.8,642.3 197.5,657.5 116.3,616.7 251.6,627.7 214.6,655.3 73.5,638.1 107.6,613.6 124,653.6 272.8,610.5 245.8,633.4 174.1,627.2 250.8,599.4 204.7,653.1 230.4,604.3 267,624.7 235.2,666.8 114.5,608.8 225.5,651.9 224.4,625.9 74.2,634.1 144.5,676 113,632.1 174.6,645.8 72.2,623 102.2,649.5 205.7,638.8 198.9,617.3 132.6,616.8 210.9,618.8 138.6,608.3 128.4,662.2 207.6,638.4 89.5,637.7 141,622.1 129.7,619.5 146.2,618.1 127.2,624 231,627.8 73.6,649.4 174,647.5 140.8,650.1 111.1,649.3 226.8,640.4 270.2,622.3 263.2,602.5 170.6,684.9 248.1,649.3 243.6,596.5 245.9,579.4 169.8,647.6 270.7,611.5 224.8,610 254.2,615.3 190.5,656.7 175.8,637.3 199.6,638.3 124.8,639.4 82.7,603.8 240.6,634 87.6,632.7 107.8,646.4 71.7,606.7 205.6,637.3 171.4,650.3 92.5,628.4 124.1,627.2 150.6,644.5 220.5,625.8 100.1,628.6 241.9,650.8 192.9,623.3 238.4,637.4 68.9,633.4 265.1,649.8 105,639.9 229.9,641 153.1,646.9 202.8,644.1 247,634.5 194.3,678.8 269.9,611.1 244.5,603.9 238.5,662.2 246.4,654.8 73.6,608.9 169,652.5 264.2,681 231.7,605.3 199.4,680.7 161.4,632.4 82.4,591.9 153,641.8 249.4,636.5 196,660.1 103.8,659.2 255,626.4 70.6,638.8 95.3,651.7 224,620.2 218.4,630.8 116.6,642.5 166.3,630.7 124.9,684.9 78.5,627.4 247.6,643.6 242.5,638 185,661.7 185.1,631.8 174.1,623.8 184.6,672.4 187.7,635.6 268.6,621.8 251,630.8 174.1,611.4 247.5,570.8 97.6,664.6 186.8,645.3 105,619.1 194.8,641.8 110.1,654.9 223.5,634.3 248.5,659.3 262.9,629.7 172.6,625.3 243.4,597.2 128.5,641.4 139.1,622.6 263.5,626.3 240.6,632.7 136.2,590.5 200.4,643 97.9,621.2 196.2,604.7 126.8,618.4 78.2,658.3 139.8,634.2 163.5,634.8 100.1,629.7 271,640.5 93.8,639.3 258.5,657.9 74.4,610.9 71.2,640.7 113.9,608.8 109.6,618.7 235.6,606.3 202.7,593.2 94.6,637.7 183.8,671.1 108.1,629.2 225.9,598.1 103.3,617.8 162.7,651.1 252.5,570.8 144.2,624.2 97.6,629.5 212.1,586.7 192.4,667.6 160.5,649.4 103.1,608.4 204.3,631.1 258.2,628.2 267.8,625.5 108,639.3 232.5,639.4 258.1,599.6 155.1,642.2 121.5,664.1 264.4,625.6 141.3,646.6 118.1,645.2 120.8,574.6 160.7,631.4 211.4,622.3 160.3,647.3 156.5,670 110,641.2 145.4,617.5 266.9,618 115.6,667.4 89.3,639.2 98.3,637.9 189.4,636.8 249.6,647.3 75.5,632 126,663.8 248,651.7 91,627.2 189.3,635.9 168,646.2 116.3,634.8 217.2,658.4 104.6,642.2 92.7,635 81.5,636.4 259.3,646.9 108.9,616.6 98.2,640.4 142.2,637.1 106.4,624.9 162.7,634 82.7,610.1 112.1,676.6 209.4,609.8 183.9,640.8 248.5,618.9 88.4,607.2 198,644.7 166,648 130,563.7 150.2,602.7 242.7,679 270.2,679.8 190.9,611.6 198,643.3 84.3,637.3 75.2,606 183.3,631.2 83.3,652.1 268.7,607.9 92.7,623.1 93.3,668.6 188.5,659.5 167,638.7 203.1,610.6 210.7,644.9 138,623.2 112.7,630.8 171.1,670.4 102.1,618.8 172.1,653.4 233,630.5 90.2,657.5 193.1,686.3 75.2,624.3 227.1,644.5 211.7,602 234.5,612.7 228.4,617.4 209.6,626 196.6,613.3 137.5,631.1 101.3,624.9 258.8,598.3 259.8,590.8 136.5,592.6 259.6,641.5 189.7,683.6 106.9,633.6 98.9,613.2 150.1,632 150.9,639.8 125,597.6 145.4,651.4 126.1,612.5 272,631.1 86.4,635 223.9,614.8 104.3,645.4 162.6,645.1 123.7,644.7 198.6,649.3 217.3,605.8 157,654.2 187.4,616 219.3,647.6 113.7,637.2 267.6,635.6 268.2,620.8 174.2,682 89,648.6 201.9,661.4 199.1,653.9 153.6,645.6 79.6,628.1 108.8,600.3 92.6,595 151.1,634.2 109.2,632.3 170.6,623.6 216.1,627.3 217.2,611.8 267.8,637.5 246.1,671.9 121.2,621.9 131.8,663.5 169,640.6 199.5,618.4 212.6,618.8 107.2,622.4 197.6,620.2 220.5,635.8 197.4,609.6 242.7,626.3 100.2,650.6 95.1,631.2 103.6,602.1 119.8,612.3 235.1,601.2 107.7,612.1 84,642.4 190.8,603.3 80.6,615.6 243.2,592.7 209.3,656.6 99.8,660.2 189.9,650.8 224.2,601.9 163.7,619 182.2,627.3 271.6,609.6 183.3,640.1 247.7,645.7 83.5,620.7 161.6,648 109.7,615.6 238.6,612.9 259,640.9 119.8,638.7 267.4,593.7 231.3,650.3 134.7,621.6 106.2,646.8 255.5,624.4 206.3,615.9 209.7,646.4 268.8,623.8 244.2,622.4 184,664.6 207.3,594.4 200.8,629 69.6,566.2 94.6,677.7 86.5,658.2 202.5,636.5 267.9,609.8 213,621.5 146.2,629.9 94.3,644.2 224.4,629.3 129.9,615.4 201.5,609.8 76.6,631.2 217.8,637.3 121.5,626.4 245.9,593.6 188.2,609.6 115,624.1 247.5,647.8 193.9,636.4 218.3,634.6 267.6,639.4 169.1,724.4 217,596.7 253.7,649.7 121.6,626.5 137.7,631.1 253.6,623.4 107.2,652.3 180.2,658 221.6,643.8 214.1,602.2 114.4,644.1 171.7,676.1 166.2,674.7 161.6,631.7 200,619.4 85.9,705.2 111.4,645.9 131.7,633.6 163.2,671.7 193.9,624.6 106,623.8 79.4,570.2 152.4,660.7 245.7,620 133.7,578.3 208.7,615.8 83.7,624.1 184.6,619.7 90.1,595.6 138.3,630.3 140.1,609.4 119.1,589.4 95.9,631.4 204.9,640.7 143.8,610.2 248.5,617.1 109.2,613.5 211.8,624.9 125.9,633.1 89.8,632.8 140.8,625.1 245.2,663.2 226.9,615.8 101.5,586.8 76.5,638.1 121.2,650.6 115.1,575.4 231,612.6 154,634.5 176.9,664.6 209.2,668.2 257.8,610.5 83.1,606.2 140.8,636 79.9,610.8 197.9,610.5 154.4,640.9 136.2,641.8 185.3,653.5 151.9,666 199,669.2 129.8,670.1 70.4,617.6 264.9,614.9 83,639.5 232.7,630.5 159.5,610.8 133.3,622.3 211.4,606.2 122.5,597.9 116.7,664.7 258.9,608.9 104.4,656.1 255.7,615.9 139.4,646.9 198.8,608.3 210.3,648.9 108.6,641.1 124,608.8 198.6,635.8 97,633.3 82.9,605.4 72.1,612.8 256.5,635.6 233.8,614.8 271.7,611.5 124.8,630.1 189.5,634.4 144.4,618.2 233.6,619.5 141.1,609.9 244,596.7 206.6,627.5 120.4,592.5 86.9,612.8 169.7,654.8 262.7,628.8 250.3,606.7 210.8,607.2 156.3,576 177.5,649.2 234.1,633.2 228.5,652.4 141.5,647.4 220.2,651.3 217.9,614.1 133.4,640.4 144.5,614.2 222.4,638.3 138,635.4 242.4,602 199,612.4 168.9,650.4 196.5,600.9 103.8,647 132.5,622.6 212.2,650.7 180,626 256.1,615.6 228.6,636.6 106.5,634 139.6,601.8 180.4,643.3 142.6,652.4 73.5,678.8 151.7,618.4 117.4,573.9 164.5,624 157.4,630.7 172,642.3 105,630.8 221.9,643.3 253.1,613.6 179.9,647.6 69.9,614.9 163.5,644.5 182.3,643.2 135.4,608.7 215.2,623.5 72.8,573.1 206.8,600.1 127.5,631.9 151.3,640.8 89.7,600.3 87.7,581.4 190,670.4 157.4,646.1 166,679.2 132.8,620 188,648 142.1,622 169.3,609.8 264.3,649.8 80.1,638.4 196.9,621.5 246.1,636.7 268.8,642.8 177,688.6 177.1,683.6 213.5,628.9 125.3,594.3 176.4,612.2 234.6,576.2 204.4,606.8 79.4,630.3 224.6,658.2 82.2,619.4 240.7,638 122.6,635 176.3,671.9 173.1,669 212.4,610.7 164.7,656.4 170.4,652.1 261,618 139.6,603.1 194,659.1 244.1,589.6 240.7,628.1 120.2,634.2 267.2,618.8 74.3,662.2 160.9,655 217.1,623.2 208.9,634.7 150.9,657.6 166.2,636.7 75.4,625.7 257.2,636.9 219.7,638.8 190.9,647.2 214.4,640.3 190,619.8 80.5,614.3 132,648.3 236.9,635.2 214.4,650.1 147.3,626.8 242.1,616.9 143,629.9 257.4,626.1 246.2,618.5 93.5,623.9 135.1,600.5 113.4,627.9 257.7,607.4 244.3,589.7 115.2,650.8 69.2,653.6 200.7,653.4 122.4,637.4 99.6,628.4 247.3,619.5 118.1,659.9 86.9,628.2 231.9,633.9 163,624.4 106.7,647.1 68.7,620.6 165.4,617.9 126.3,617.2 91.4,613.5 214.5,651.7 245.8,646.8 199.5,659.9 252.1,597.4 213.3,624.6 164.4,637.6 76,618.5 126.1,596 139.2,633 193.3,628.9 164.6,665.3 128.6,599.1 171.9,653.3 184.5,669.3 256.4,637.5 231.8,702.8 240.8,647.9 125.6,631.6 173.1,656 247.2,630 104.6,640 94.6,660.9 196.2,596.6 125.5,655.2 145.5,648.9 189,657.6 243.6,617.3 143.8,624.7 106.7,639.8 119.6,638 240.8,606.8 91.5,600 226.2,629 271.8,643.3 181.2,640.2 220.4,594.4 215.2,639.1 241.5,620 254.7,647.8 222.6,629.1 199.8,599.8 144,621.2 94.5,643.9 90.4,634.1 149,649.1 235.5,617.2 152.6,666.8 182.3,648.7 221.4,589.5 152.5,603.5 254.6,614.9 245.2,602.7 194.9,625.6 161.6,632.9 259.9,591.1 163,662 177,630.3 83.6,663.4 183.3,660.1 213.9,626.5 194.5,634.9 190.7,616.2 271.9,623.7 118.1,593.9 262.4,641 270.1,626.8 147.4,648.1 177.6,688.5 118,635.6 170.6,644 245.8,639.6 259.1,641.8 210.5,650.6 266.6,646.7 103.8,637.9 211.1,657.6 169.6,643.4 74.8,678 81.6,665 177.3,653 80.2,620.3 215.9,634.8 100.6,657.1 175.1,652.4 141.6,656.9 98.4,621.2 195,604.2 125.4,621.9 239.2,648.1 234.3,617.4 154.4,620.6 202.9,664.2 261.5,613.2 182.3,654.6 224.3,614.4 98.5,614.9 165.9,678.8 203.8,654.6 219.2,581.4 228.9,596 248.2,599.3 224,619 193.2,634.3 259.3,606.7 191.8,649.1 261.6,629.4 161.7,636.2 152.5,634.1 149.4,648.5 98,636.5 79.4,597.2 85.5,633.2 83.6,641.9 233.6,625.5 230.6,637.1 252.7,662.3 178.2,672.2 271,680.1 246.4,686.4 248.9,607 246.9,633.6 264.6,690.5 103.3,642.5 111.2,585 190.9,675.1 173.6,615.9 140.5,651.7 210.8,639.6 170.7,657.1 171.7,633.6 173.8,663.1 99.9,635.8 240.9,663.2 73,611.9 128.9,625.7 206,656.9 160.7,666 144.9,639.1 109.8,635.8 221.1,634 267.4,624.4 271,631 213.6,608.5 156.8,665.1 267.4,623.4 255.1,603.5 157.4,624.6 261.3,616.3 227.8,634.2 80.4,649.5 230.4,662.1 252.1,643.1 127.5,644.7 250.3,603 99.8,668.7 220.9,619.4 194.9,633.4 80.7,564.9 221.5,648.6 246.8,601.9 266.2,656.5 106.8,616.7 156.4,618.5 216.4,640.1 194.2,631.9 228.8,609 99.5,644.6 266.4,649 91.4,658.4 261.2,629.7 187.9,666.8 97.3,594.9 74.2,628.6 207.6,606.6 212.2,627.7 210.1,586.1 95.7,582.6 130.4,633.6 96.2,627.7 237.9,700.3 239.7,618.5 190.3,665.2 154.9,618.4 267.9,613.1 142,644.2 72.3,609.4 204,651.6 171.3,665.4 91.7,666.9 155.3,659.4 255.7,643.2 203.9,617.9 161.9,630.8 187.3,658.2 179.9,627.3 137.3,604 96.5,672.6 127.4,636.4 124.1,633.7 251.1,594.4 170.2,633.1 160.4,641.4 69.1,641.5 222,618.9 120.8,603 228.3,631.2 189.2,666.3 256,609.4 171.5,678.4 257.2,635.2 153,627.5 113.9,647.2 269.4,632.2 110.4,655.4 104.1,596 109.3,629.8 155.8,635.7 171.1,659 111,590.7 189.3,617.9 259.1,626.6 178.9,637 194.7,670.2 135.7,623.5 142.2,603.4 153.5,655.9 216.2,634.3 213.5,636.1 240,619.6 186.7,642.1 167.6,680.8 184.7,632.4 270.6,637 154.1,647.2 226.1,637 238.6,640.6 165.1,644 96,653 257.6,656.2 157.6,651.1 69.6,606.3 262.4,636.3 167.3,653 69.6,632.8 246.2,627.1 233.5,637.6 84.5,599.5 170.7,641.7 232.5,627.5 239.4,621.3 132.5,614.1 144.8,605.9 226.9,631.2 184.6,643.8 256.7,622.8 240.2,640 105.9,640.7 261.6,631.4 195,628.4 217.1,629.6 158.7,694.4 71.5,652 80.2,625.8 105.4,637.3 223.8,629.1 99.1,638.7 203,608.2 74.8,620.1 221.2,613.8 83.2,652.2 89.2,607.1 72.2,641.9 73.1,591.3 155.3,654.5 115.5,631.8 152.5,682.1 102,624.2 81.8,646.4 224.1,641.6 100.8,612.9 165.8,603.9 127.1,639.7 85.6,653.4 157.6,689.7 272.2,641.4 202.8,617.2 221,655.6 207.5,648.5 109,601.5 256.2,590.8 89.1,605.5 248.3,649.3 192.3,658.2 83.2,650.2 119.4,635.5 161.9,653.1 115.5,619.9 194.2,625.1 208.8,609.8 263.9,612.5 226.5,609.6 86.6,634.8 156.5,656.9 83.4,642.2 71,587.2 258.2,631 185.3,663.4 72.9,644.6 115.7,635.8 259.4,628.7 207.6,630.7 272.3,627.3 88.5,595.8 220.9,641.8 131.6,626.4 142.8,601.7 133,654.6 218.1,648.7 74.2,590.4 198.4,649.8 208.9,613.7 220.4,658.8 189,630.5 255.5,592.5 196.3,643.4 146,653.1 251.4,627.5 218.3,649.1 222.7,652.6 87.8,644.3 247.2,633.7 268.8,596.8 87.6,600.3 98.1,606.6 153,626.8 266.9,633.7 200.8,650.3 155.4,632.4 178.9,664.2 94.3,601.8 250.8,634.5 123.6,642.8 210,618.7 176.4,640.4 120.1,617.6 242.3,638 248.1,621.5 154.8,693.8 207.5,619.2 146.8,666.5 80.9,622.6 194.7,629.4 132.7,607.1 191.8,633.8 208,647 151.6,650.6 237,611.9 126,611.8 147.5,649.5 206.6,618.7 87.7,599.5 200.2,642 182.3,628.3 240.5,617.8 210.1,630.1 213.6,621.4 231,598.6 209.8,618.7 143.7,623.7 94.5,629.6 250.3,634.4 256.6,651.2 150.7,664.6 192.8,670.1 262.5,632.8 89.5,646.9 261,660.5 268.8,605.8 80.8,632.3 95.7,609.2 119.1,601.3 83.1,598 103.2,629 232,674.7 203.6,618.8 90.1,629.1 154,675.1 231.7,677.3 127.5,606.8 185.4,624.6 147.5,612.8 109.1,599.2 256.6,603.9 110.6,617.4 186.2,637.7 187.6,625.1 211.7,616.7 196.3,625.9 205.8,614.8 268.9,637.1 272.1,654 197.6,558.5 144.1,583 249,602.4 218.5,642.4 257.4,634.5 134.8,607.5 81.1,617.1 157.3,647.9 160,610.6 178.1,644.1 264.7,626.5 236.6,625.1 239.6,639.5 212.8,607.9 112,660.1 118.4,625.9 170.2,631.5 138.5,595.2 201.2,614 137.6,649.9 100,610.6 89.8,611.4 95.8,624.8 105.6,638 183.2,669.5 215.4,633.4 177.8,641.4 152.6,589.1 167.3,635.4 130.9,623.5 176.6,679.3 159.2,668.8 265.7,638.8 251.2,629.7 145.1,631.9 145.4,609.3 144.9,573.2 176.8,620.7 107,640.1 247.9,635.8 133.6,643.4 84.6,656.3 247.2,653 185.3,637 88.7,643.1 182,632.9 193.3,644.6 146.1,643.4 103.9,624.2 223.9,625.2 70.2,570.3 201.2,640.6 253.9,620.9 247.7,654.1 252.3,634.8 118.4,598.1 155.8,623.4 164.2,608.5 168.7,679.5 151,672.3 197.1,624.2 205.4,648 230.9,640.5 123,654.1 157.4,631.7 74.3,635 72.1,628.8 111.1,652.9 109.7,635.3 145.1,595.6 123,612.5 69.6,627 217.3,644.3 111,632.8 267.6,625.8 127.2,588.9 176.6,642 79.2,631.8 143.5,630.9 234.1,648.6 221.2,618.3 241.3,647.8 148.8,655.5 130.4,635.9 72.8,584.3 80.3,592.9 209.2,631.4 154.2,628.3 202.1,623.4 122.6,614.6 145.4,632 143.1,611.9 172.1,612.1 142,627.8 120.5,601.3 162.5,645.2 145,610.2 151.3,664.5 230.6,614.7 226.5,642.9 131.2,641.1 247.1,624.6 187.8,598.9 202.5,619.7 118.9,602.9 170.8,633.6 113.4,632.1 183.3,668.7 204,646.6 191.8,677.8 135.8,618.4 89.1,627.6 242.7,624.1 232.9,617.1 119.4,587.2 269.4,633.2 97.5,620.9 207.5,616.1 214.3,611.6 91.2,631 143.4,600.3 208.2,638.5 88.5,623.2 70.4,662 70.9,623.1 86.9,629.9 199.1,634.2 147,650.1 219.7,616.4 179.2,629.3 201.7,576 141.6,638.2 265.8,614.2 112.7,614.7 92.1,599.6 240.6,643.5 245.6,639.1 77.2,626.6 224.9,638.3 218.1,625.7 113.3,640.7 144.9,624.7 216.2,604.6 234,624.7 203.5,617.6 82,610.8 80.3,610.2 135.5,618.9 125.9,658.3 206,649 140.3,597.9 220.5,641.9 181.1,648.2 181.7,624.3 257.4,644.4 136.4,668.3 87,644.4 195.9,615.2 243,607.6 152.4,631.7 226.6,581.6 151.9,619.3 165.5,683.9 192,678.4 204.5,630.8 154.1,681.6 257.3,608.7 168.8,686.8 224.9,627.1 76,663.1 270.6,616.1 238.3,587.3 118.7,624.7 211.4,677.9 146.2,648.4 81.6,644.1 173,646 163.7,616.8 208.7,636.9 186.5,659.9 258.9,656.6 169.5,702.9 91.2,654.1 94.5,634.1 259.4,606.9 203.2,624.4 226.3,639.2 137.2,621.2 136.4,642.2 100,607.6 159.3,672.6 228.5,661.3 205,626.1 224.7,641.1 69.8,601.1 226.2,640.3 218.6,616 165,640.1 95.8,603.5 190.8,618.3 154.7,691 203,696.7 229.7,643.3 164.6,634.7 125.8,611.1 221.5,640 181.7,608.2 102.8,631.5 107.1,600.1 224.1,629.1 69.7,655.5 243.9,638 179.3,628.2 218.9,606.2 192.2,638.9 138.4,584.8 72.1,621.1 103.7,613.1 173.4,633.8 163,650.4 175.4,667.9 154.1,641.1 77.2,628 168.8,653.2 248.5,619.3 169.8,650.2 128.5,604.1 142.6,607.7 258.4,634.5 76.1,595.6 152.3,642.7 188.3,672.9 257.5,666.7 208.2,634 96.9,602.4 85.3,636.5 83.7,602.1 166.5,600.3 210.9,643.1 218.8,621.9 198.4,641.8 140.1,599 178,678.9 86.6,607.6 89.4,632.8 76.3,622.3 80.9,612.9 231.6,637.1 125.9,651.9 232,588.1 187.9,630.6 93.8,616.9 76.9,595 70,638.4 261.3,606.6 141.5,628.2 132.4,656.8 207.9,638.9 153.6,639.2 210.5,642.5 130.6,644.4 163.9,630.2 244.6,622.4 104.5,634.9 112.2,656.7 99.8,613.2 90.2,602.5 264.4,622.6 201.2,612.4 80,628.4 106.5,601.5 170.8,623 159.5,637.2 238.9,605.4 74.9,626.3 102.9,594.6 161.7,621.2 98.4,627.3 102.9,600.1 135.9,618.9 92.3,628 97.6,620 72.8,634.4 84.3,612.7 159.8,644.6 118.9,623.2 218.3,584.6 188.7,690.2 234,635.5 210.1,576.2 243.1,640.2 113.7,650.2 125.7,598.4 218,590.9 168.5,651.3 98.3,619.2 70.6,632.2 111.2,642.8 217.2,613.4 207.8,611.6 212.8,620.6 92.6,645.5 180.7,640 78.7,642.5 250.3,635.9 229.4,620.7 206.4,621.2 89.5,670.4 140.9,610 144,633.8 78.2,631.9 140.8,647.8 216.1,640.2 161.1,673.6 270,628.7 204,651.8 193.3,651.3 110.4,603.4 217.5,640.2 191.8,624.2 178.4,662 267.2,627.1 181,700.1 255.9,624.6 95,605.1 129.3,688.5 198.9,644.8 212.2,619.4 248.4,623.4 206.9,639.8 75.1,633.2 241.5,616.5 255.8,615.4 195.2,666.4 182.4,631.2 156,660.2 108.3,625.1 200.1,624.7 261.3,633.3 141.5,603.5 212.7,613.8 80.2,618.2 89.1,593 84,635.7 171.6,648.3 110.6,594.1 104,628.3 158.7,663.1 144.1,617.4 186.4,631.6 142.4,652.7 83.7,615 223.9,639.3 100.6,627.2 254.5,623.6 143.3,577.8 211.7,620.9 185.9,623.1 85.8,631.7 204.6,620.6 221.9,638.7 198.4,600.8 244.6,626 251.4,637.7 256.8,606.7 127.7,611 172.9,627.6 269,619.6 226,620 155.5,637.9 230.3,626.7 166.9,652.6 221.7,619 229.4,634.2 215.4,597.8 130.7,625.2 141.9,627.5 171.5,679.8 252.6,633.8 210.1,628.8 263.4,661.5"/><g fill="#8a2be2"><circle cx="69.8" cy="630" r="2.6"/><circle cx="72" cy="630.4" r="2.6"/><circle cx="74.3" cy="628.4" r="2.6"/><circle cx="76.5" cy="625.7" r="2.6"/><circle cx="78.7" cy="633.4" r="2.6"/><circle cx="80.9" cy="626.7" r="2.6"/><circle cx="83.1" cy="624.8" r="2.6"/><circle cx="85.4" cy="624.9" r="2.6"/><circle cx="87.6" cy="628.4" r="2.6"/><circle cx="89.8" cy="632.8" r="2.6"/><circle cx="92" cy="626.2" r="2.6"/><circle cx="94.2" cy="627.7" r="2.6"/><circle cx="96.5" cy="626.1" r="2.6"/><circle cx="98.7" cy="625.9" r="2.6"/><circle cx="100.9" cy="628.6" r="2.6"/><circle cx="103.1" cy="632.3" r="2.6"/><circle cx="105.4" cy="630.2" r="2.6"/><circle cx="107.6" cy="632.5" r="2.6"/><circle cx="109.8" cy="627.1" r="2.6"/><circle cx="112" cy="629.3" r="2.6"/><circle cx="114.2" cy="634.4" r="2.6"/><circle cx="116.5" cy="634.4" r="2.6"/><circle cx="118.7" cy="626.7" r="2.6"/><circle cx="120.9" cy="632.6" r="2.6"/><circle cx="123.1" cy="633.6" r="2.6"/><circle cx="125.4" cy="625.2" r="2.6"/><circle cx="127.6" cy="629" r="2.6"/><circle cx="129.8" cy="630.5" r="2.6"/><circle cx="132" cy="628.4" r="2.6"/><circle cx="134.2" cy="624.1" r="2.6"/><circle cx="136.5" cy="628.6" r="2.6"/><circle cx="138.7" cy="624.3" r="2.6"/><circle cx="140.9" cy="626.3" r="2.6"/><circle cx="143.1" cy="628.6" r="2.6"/><circle cx="145.3" cy="629.2" r="2.6"/><circle cx="147.6" cy="642.3" r="2.6"/><circle cx="149.8" cy="648.1" r="2.6"/><circle cx="152" cy="647.3" r="2.6"/><circle cx="154.2" cy="642.6" r="2.6"/><circle cx="156.5" cy="648.4" r="2.6"/><circle cx="158.7" cy="647.5" r="2.6"/><circle cx="160.9" cy="649.6" r="2.6"/><circle cx="163.1" cy="646.9" r="2.6"/><circle cx="165.3" cy="648.9" r="2.6"/><circle cx="167.6" cy="645.3" r="2.6"/><circle cx="169.8" cy="649.7" r="2.6"/><circle cx="172" cy="647.4" r="2.6"/><circle cx="174.2" cy="644.6" r="2.6"/><circle cx="176.5" cy="650" r="2.6"/><circle cx="178.7" cy="650.4" r="2.6"/><circle cx="180.9" cy="650.1" r="2.6"/><circle cx="183.1" cy="652" r="2.6"/><circle cx="185.3" cy="643.3" r="2.6"/><circle cx="187.6" cy="645.6" r="2.6"/><circle cx="189.8" cy="642.6" r="2.6"/><circle cx="192" cy="644.6" r="2.6"/><circle cx="194.2" cy="637.9" r="2.6"/><circle cx="196.5" cy="625.4" r="2.6"/><circle cx="198.7" cy="627.3" r="2.6"/><circle cx="200.9" cy="624.2" r="2.6"/><circle cx="203.1" cy="628.8" r="2.6"/><circle cx="205.3" cy="634.4" r="2.6"/><circle cx="207.6" cy="632.1" r="2.6"/><circle cx="209.8" cy="631.3" r="2.6"/><circle cx="212" cy="629" r="2.6"/><circle cx="214.2" cy="630.9" r="2.6"/><circle cx="216.4" cy="631.8" r="2.6"/><circle cx="218.7" cy="630.1" r="2.6"/><circle cx="220.9" cy="632.8" r="2.6"/><circle cx="223.1" cy="628.4" r="2.6"/><circle cx="225.3" cy="628.8" r="2.6"/><circle cx="227.6" cy="626.7" r="2.6"/><circle cx="229.8" cy="624.2" r="2.6"/><circle cx="232" cy="628.8" r="2.6"/><circle cx="234.2" cy="623.2" r="2.6"/><circle cx="236.4" cy="630" r="2.6"/><circle cx="238.7" cy="630.1" r="2.6"/><circle cx="240.9" cy="630" r="2.6"/><circle cx="243.1" cy="631.3" r="2.6"/><circle cx="245.3" cy="624.8" r="2.6"/><circle cx="247.6" cy="634.5" r="2.6"/><circle cx="249.8" cy="627.3" r="2.6"/><circle cx="252" cy="627.3" r="2.6"/><circle cx="254.2" cy="627.8" r="2.6"/><circle cx="256.4" cy="628.8" r="2.6"/><circle cx="258.7" cy="626.5" r="2.6"/><circle cx="260.9" cy="624.5" r="2.6"/><circle cx="263.1" cy="629.4" r="2.6"/><circle cx="265.3" cy="627.9" r="2.6"/><circle cx="267.5" cy="624.9" r="2.6"/><circle cx="269.8" cy="634.5" r="2.6"/><circle cx="272" cy="625.6" r="2.6"/></g><polyline fill="none" stroke="#5f22a3" stroke-opacity="1.0" stroke-width="1.9" stroke-linejoin="round" points="68.7,628.3 69.5,628.3 70.3,628.3 71.1,628.3 71.9,628.3 72.6,628.3 73.4,628.3 74.2,628.3 75,628.3 75.8,628.3 76.6,628.3 77.4,628.3 78.2,628.3 79,628.3 79.7,628.3 80.5,628.3 81.3,628.3 82.1,628.3 82.9,628.3 83.7,628.3 84.5,628.3 85.3,628.3 86.1,628.3 86.9,628.3 87.6,628.3 88.4,628.3 89.2,628.3 90,628.3 90.8,628.3 91.6,628.3 92.4,628.3 93.2,628.3 94,628.3 94.7,628.3 95.5,628.3 96.3,628.3 97.1,628.3 97.9,628.3 98.7,628.3 99.5,628.3 100.3,628.3 101.1,628.3 101.8,628.3 102.6,628.3 103.4,628.3 104.2,628.3 105,628.3 105.8,628.3 106.6,628.3 107.4,628.3 108.2,628.3 108.9,628.3 109.7,628.3 110.5,628.3 111.3,628.3 112.1,628.3 112.9,628.3 113.7,628.3 114.5,628.3 115.3,628.3 116.1,628.3 116.8,628.3 117.6,628.3 118.4,628.3 119.2,628.3 120,628.3 120.8,628.3 121.6,628.3 122.4,628.3 123.2,628.3 123.9,628.3 124.7,628.3 125.5,628.3 126.3,628.3 127.1,628.3 127.9,628.3 128.7,628.3 129.5,628.3 130.3,628.3 131,628.3 131.8,628.3 132.6,628.3 133.4,628.3 134.2,628.3 135,628.3 135.8,628.3 136.6,628.3 137.4,628.3 138.1,628.3 138.9,628.3 139.7,628.3 140.5,628.3 141.3,628.3 142.1,628.3 142.9,628.3 143.7,628.3 144.5,628.3 145.3,631.1 146,634.6 146.8,637.1 147.6,639.2 148.4,641 149.2,642.7 150,644.2 150.8,644.7 151.6,645.1 152.4,645.4 153.1,645.6 153.9,645.8 154.7,646 155.5,646.1 156.3,646.3 157.1,646.4 157.9,646.5 158.7,646.6 159.5,646.7 160.2,646.8 161,646.8 161.8,646.9 162.6,647 163.4,647 164.2,647.1 165,647.1 165.8,647.2 166.6,647.2 167.3,647.2 168.1,647.2 168.9,647.2 169.7,647.3 170.5,647.3 171.3,647.3 172.1,647.3 172.9,647.2 173.7,647.2 174.5,647.2 175.2,647.2 176,647.1 176.8,647.1 177.6,647.1 178.4,647 179.2,646.9 180,646.9 180.8,646.8 181.6,646.7 182.3,646.6 183.1,646.5 183.9,646.4 184.7,646.3 185.5,646.2 186.3,646 187.1,645.9 187.9,645.7 188.7,645.5 189.4,645.2 190.2,644.9 191,644.5 191.8,643.5 192.6,641.9 193.4,640.1 194.2,638.1 195,635.9 195.8,633 196.5,628.3 197.3,628.3 198.1,628.3 198.9,628.3 199.7,628.3 200.5,628.3 201.3,628.3 202.1,628.3 202.9,628.3 203.7,628.3 204.4,628.3 205.2,628.3 206,628.3 206.8,628.3 207.6,628.3 208.4,628.3 209.2,628.3 210,628.3 210.8,628.3 211.5,628.3 212.3,628.3 213.1,628.3 213.9,628.3 214.7,628.3 215.5,628.3 216.3,628.3 217.1,628.3 217.9,628.3 218.6,628.3 219.4,628.3 220.2,628.3 221,628.3 221.8,628.3 222.6,628.3 223.4,628.3 224.2,628.3 225,628.3 225.7,628.3 226.5,628.3 227.3,628.3 228.1,628.3 228.9,628.3 229.7,628.3 230.5,628.3 231.3,628.3 232.1,628.3 232.9,628.3 233.6,628.3 234.4,628.3 235.2,628.3 236,628.3 236.8,628.3 237.6,628.3 238.4,628.3 239.2,628.3 240,628.3 240.7,628.3 241.5,628.3 242.3,628.3 243.1,628.3 243.9,628.3 244.7,628.3 245.5,628.3 246.3,628.3 247.1,628.3 247.8,628.3 248.6,628.3 249.4,628.3 250.2,628.3 251,628.3 251.8,628.3 252.6,628.3 253.4,628.3 254.2,628.3 254.9,628.3 255.7,628.3 256.5,628.3 257.3,628.3 258.1,628.3 258.9,628.3 259.7,628.3 260.5,628.3 261.3,628.3 262.1,628.3 262.8,628.3 263.6,628.3 264.4,628.3 265.2,628.3 266,628.3 266.8,628.3 267.6,628.3 268.4,628.3 269.2,628.3 269.9,628.3 270.7,628.3 271.5,628.3 272.3,628.3 273.1,628.3"/><polyline fill="none" stroke="#5f22a3" stroke-opacity="0.5" stroke-width="1.9" stroke-linejoin="round" points="68.7,628.3 69.5,628.3 70.3,628.3 71.1,628.3 71.9,628.3 72.6,628.3 73.4,628.3 74.2,628.3 75,628.3 75.8,628.3 76.6,628.3 77.4,628.3 78.2,628.3 79,628.3 79.7,628.3 80.5,628.3 81.3,628.3 82.1,628.3 82.9,628.3 83.7,628.3 84.5,628.3 85.3,628.3 86.1,628.3 86.9,628.3 87.6,628.3 88.4,628.3 89.2,628.3 90,628.3 90.8,628.3 91.6,628.3 92.4,628.3 93.2,628.3 94,628.3 94.7,628.3 95.5,628.3 96.3,628.3 97.1,628.3 97.9,628.3 98.7,628.3 99.5,628.3 100.3,628.3 101.1,628.3 101.8,628.3 102.6,628.3 103.4,628.3 104.2,628.3 105,628.3 105.8,628.3 106.6,628.3 107.4,628.3 108.2,628.3 108.9,628.3 109.7,628.3 110.5,628.3 111.3,628.3 112.1,628.3 112.9,628.3 113.7,628.3 114.5,628.3 115.3,628.3 116.1,628.3 116.8,628.3 117.6,628.3 118.4,628.3 119.2,628.3 120,628.3 120.8,628.3 121.6,628.3 122.4,628.3 123.2,628.3 123.9,628.3 124.7,628.3 125.5,628.3 126.3,628.3 127.1,628.3 127.9,628.3 128.7,628.3 129.5,628.3 130.3,628.3 131,628.3 131.8,628.3 132.6,628.3 133.4,628.3 134.2,628.3 135,628.3 135.8,628.3 136.6,628.3 137.4,628.3 138.1,628.3 138.9,628.3 139.7,628.3 140.5,628.3 141.3,628.3 142.1,628.3 142.9,628.3 143.7,628.3 144.5,628.3 145.3,632.7 146,635.6 146.8,637.9 147.6,639.9 148.4,641.6 149.2,643.3 150,644.8 150.8,645.3 151.6,645.7 152.4,646 153.1,646.2 153.9,646.4 154.7,646.6 155.5,646.7 156.3,646.9 157.1,647 157.9,647.1 158.7,647.2 159.5,647.3 160.2,647.4 161,647.5 161.8,647.6 162.6,647.6 163.4,647.7 164.2,647.7 165,647.8 165.8,647.8 166.6,647.9 167.3,647.9 168.1,647.9 168.9,647.9 169.7,647.9 170.5,647.9 171.3,647.9 172.1,647.9 172.9,647.9 173.7,647.9 174.5,647.9 175.2,647.8 176,647.8 176.8,647.8 177.6,647.7 178.4,647.7 179.2,647.6 180,647.5 180.8,647.5 181.6,647.4 182.3,647.3 183.1,647.2 183.9,647.1 184.7,646.9 185.5,646.8 186.3,646.7 187.1,646.5 187.9,646.3 188.7,646.1 189.4,645.8 190.2,645.5 191,645.1 191.8,644 192.6,642.4 193.4,640.8 194.2,638.9 195,636.8 195.8,634.2 196.5,630.5 197.3,628.3 198.1,628.3 198.9,628.3 199.7,628.3 200.5,628.3 201.3,628.3 202.1,628.3 202.9,628.3 203.7,628.3 204.4,628.3 205.2,628.3 206,628.3 206.8,628.3 207.6,628.3 208.4,628.3 209.2,628.3 210,628.3 210.8,628.3 211.5,628.3 212.3,628.3 213.1,628.3 213.9,628.3 214.7,628.3 215.5,628.3 216.3,628.3 217.1,628.3 217.9,628.3 218.6,628.3 219.4,628.3 220.2,628.3 221,628.3 221.8,628.3 222.6,628.3 223.4,628.3 224.2,628.3 225,628.3 225.7,628.3 226.5,628.3 227.3,628.3 228.1,628.3 228.9,628.3 229.7,628.3 230.5,628.3 231.3,628.3 232.1,628.3 232.9,628.3 233.6,628.3 234.4,628.3 235.2,628.3 236,628.3 236.8,628.3 237.6,628.3 238.4,628.3 239.2,628.3 240,628.3 240.7,628.3 241.5,628.3 242.3,628.3 243.1,628.3 243.9,628.3 244.7,628.3 245.5,628.3 246.3,628.3 247.1,628.3 247.8,628.3 248.6,628.3 249.4,628.3 250.2,628.3 251,628.3 251.8,628.3 252.6,628.3 253.4,628.3 254.2,628.3 254.9,628.3 255.7,628.3 256.5,628.3 257.3,628.3 258.1,628.3 258.9,628.3 259.7,628.3 260.5,628.3 261.3,628.3 262.1,628.3 262.8,628.3 263.6,628.3 264.4,628.3 265.2,628.3 266,628.3 266.8,628.3 267.6,628.3 268.4,628.3 269.2,628.3 269.9,628.3 270.7,628.3 271.5,628.3 272.3,628.3 273.1,628.3"/><polyline fill="none" stroke="#5f22a3" stroke-opacity="0.5" stroke-width="1.9" stroke-linejoin="round" points="68.7,628.3 69.5,628.3 70.3,628.3 71.1,628.3 71.9,628.3 72.6,628.3 73.4,628.3 74.2,628.3 75,628.3 75.8,628.3 76.6,628.3 77.4,628.3 78.2,628.3 79,628.3 79.7,628.3 80.5,628.3 81.3,628.3 82.1,628.3 82.9,628.3 83.7,628.3 84.5,628.3 85.3,628.3 86.1,628.3 86.9,628.3 87.6,628.3 88.4,628.3 89.2,628.3 90,628.3 90.8,628.3 91.6,628.3 92.4,628.3 93.2,628.3 94,628.3 94.7,628.3 95.5,628.3 96.3,628.3 97.1,628.3 97.9,628.3 98.7,628.3 99.5,628.3 100.3,628.3 101.1,628.3 101.8,628.3 102.6,628.3 103.4,628.3 104.2,628.3 105,628.3 105.8,628.3 106.6,628.3 107.4,628.3 108.2,628.3 108.9,628.3 109.7,628.3 110.5,628.3 111.3,628.3 112.1,628.3 112.9,628.3 113.7,628.3 114.5,628.3 115.3,628.3 116.1,628.3 116.8,628.3 117.6,628.3 118.4,628.3 119.2,628.3 120,628.3 120.8,628.3 121.6,628.3 122.4,628.3 123.2,628.3 123.9,628.3 124.7,628.3 125.5,628.3 126.3,628.3 127.1,628.3 127.9,628.3 128.7,628.3 129.5,628.3 130.3,628.3 131,628.3 131.8,628.3 132.6,628.3 133.4,628.3 134.2,628.3 135,628.3 135.8,628.3 136.6,628.3 137.4,628.3 138.1,628.3 138.9,628.3 139.7,628.3 140.5,628.3 141.3,628.3 142.1,628.3 142.9,628.3 143.7,628.3 144.5,628.3 145.3,628.3 146,633.5 146.8,636.3 147.6,638.5 148.4,640.4 149.2,642.2 150,643.7 150.8,644.3 151.6,644.6 152.4,644.9 153.1,645.1 153.9,645.3 154.7,645.4 155.5,645.6 156.3,645.7 157.1,645.8 157.9,645.9 158.7,646 159.5,646.1 160.2,646.2 161,646.3 161.8,646.4 162.6,646.4 163.4,646.5 164.2,646.5 165,646.6 165.8,646.6 166.6,646.6 167.3,646.6 168.1,646.7 168.9,646.7 169.7,646.7 170.5,646.7 171.3,646.7 172.1,646.7 172.9,646.7 173.7,646.7 174.5,646.6 175.2,646.6 176,646.6 176.8,646.5 177.6,646.5 178.4,646.4 179.2,646.4 180,646.3 180.8,646.3 181.6,646.2 182.3,646.1 183.1,646 183.9,645.9 184.7,645.8 185.5,645.6 186.3,645.5 187.1,645.3 187.9,645.2 188.7,645 189.4,644.7 190.2,644.4 191,644 191.8,643 192.6,641.3 193.4,639.5 194.2,637.4 195,634.9 195.8,631.6 196.5,628.3 197.3,628.3 198.1,628.3 198.9,628.3 199.7,628.3 200.5,628.3 201.3,628.3 202.1,628.3 202.9,628.3 203.7,628.3 204.4,628.3 205.2,628.3 206,628.3 206.8,628.3 207.6,628.3 208.4,628.3 209.2,628.3 210,628.3 210.8,628.3 211.5,628.3 212.3,628.3 213.1,628.3 213.9,628.3 214.7,628.3 215.5,628.3 216.3,628.3 217.1,628.3 217.9,628.3 218.6,628.3 219.4,628.3 220.2,628.3 221,628.3 221.8,628.3 222.6,628.3 223.4,628.3 224.2,628.3 225,628.3 225.7,628.3 226.5,628.3 227.3,628.3 228.1,628.3 228.9,628.3 229.7,628.3 230.5,628.3 231.3,628.3 232.1,628.3 232.9,628.3 233.6,628.3 234.4,628.3 235.2,628.3 236,628.3 236.8,628.3 237.6,628.3 238.4,628.3 239.2,628.3 240,628.3 240.7,628.3 241.5,628.3 242.3,628.3 243.1,628.3 243.9,628.3 244.7,628.3 245.5,628.3 246.3,628.3 247.1,628.3 247.8,628.3 248.6,628.3 249.4,628.3 250.2,628.3 251,628.3 251.8,628.3 252.6,628.3 253.4,628.3 254.2,628.3 254.9,628.3 255.7,628.3 256.5,628.3 257.3,628.3 258.1,628.3 258.9,628.3 259.7,628.3 260.5,628.3 261.3,628.3 262.1,628.3 262.8,628.3 263.6,628.3 264.4,628.3 265.2,628.3 266,628.3 266.8,628.3 267.6,628.3 268.4,628.3 269.2,628.3 269.9,628.3 270.7,628.3 271.5,628.3 272.3,628.3 273.1,628.3"/></g>
<g clip-path="url(#r0)"><g fill="#8a2be2" fill-opacity="0.5"><circle cx="69.8" cy="792.4" r="2.6"/><circle cx="72" cy="793.5" r="2.6"/><circle cx="74.3" cy="788" r="2.6"/><circle cx="76.5" cy="780.5" r="2.6"/><circle cx="78.7" cy="802" r="2.6"/><circle cx="80.9" cy="783.4" r="2.6"/><circle cx="83.1" cy="778" r="2.6"/><circle cx="85.4" cy="778.2" r="2.6"/><circle cx="87.6" cy="787.8" r="2.6"/><circle cx="89.8" cy="800.2" r="2.6"/><circle cx="92" cy="782" r="2.6"/><circle cx="94.2" cy="786.1" r="2.6"/><circle cx="96.5" cy="781.7" r="2.6"/><circle cx="98.7" cy="781.1" r="2.6"/><circle cx="100.9" cy="788.6" r="2.6"/><circle cx="103.1" cy="798.9" r="2.6"/><circle cx="105.4" cy="793.1" r="2.6"/><circle cx="107.6" cy="799.5" r="2.6"/><circle cx="109.8" cy="784.4" r="2.6"/><circle cx="112" cy="790.4" r="2.6"/><circle cx="114.2" cy="804.6" r="2.6"/><circle cx="116.5" cy="804.6" r="2.6"/><circle cx="118.7" cy="783.3" r="2.6"/><circle cx="120.9" cy="799.5" r="2.6"/><circle cx="123.1" cy="802.4" r="2.6"/><circle cx="125.4" cy="779" r="2.6"/><circle cx="127.6" cy="789.7" r="2.6"/><circle cx="129.8" cy="793.8" r="2.6"/><circle cx="132" cy="788" r="2.6"/><circle cx="134.2" cy="776.1" r="2.6"/><circle cx="136.5" cy="788.5" r="2.6"/><circle cx="138.7" cy="776.7" r="2.6"/><circle cx="140.9" cy="782.3" r="2.6"/><circle cx="143.1" cy="788.5" r="2.6"/><circle cx="145.3" cy="780.8" r="2.6"/><circle cx="147.6" cy="796.8" r="2.6"/><circle cx="149.8" cy="798.9" r="2.6"/><circle cx="152" cy="793.4" r="2.6"/><circle cx="154.2" cy="778.6" r="2.6"/><circle cx="156.5" cy="793.7" r="2.6"/><circle cx="158.7" cy="790.3" r="2.6"/><circle cx="160.9" cy="795.4" r="2.6"/><circle cx="163.1" cy="787.4" r="2.6"/><circle cx="165.3" cy="792.6" r="2.6"/><circle cx="167.6" cy="782.5" r="2.6"/><circle cx="169.8" cy="794.4" r="2.6"/><circle cx="172" cy="788.2" r="2.6"/><circle cx="174.2" cy="780.5" r="2.6"/><circle cx="176.5" cy="795.6" r="2.6"/><circle cx="178.7" cy="797.2" r="2.6"/><circle cx="180.9" cy="796.8" r="2.6"/><circle cx="183.1" cy="802.9" r="2.6"/><circle cx="185.3" cy="779.6" r="2.6"/><circle cx="187.6" cy="787.2" r="2.6"/><circle cx="189.8" cy="780.6" r="2.6"/><circle cx="192" cy="791.9" r="2.6"/><circle cx="194.2" cy="787.4" r="2.6"/><circle cx="196.5" cy="779.6" r="2.6"/><circle cx="198.7" cy="784.9" r="2.6"/><circle cx="200.9" cy="776.4" r="2.6"/><circle cx="203.1" cy="789.2" r="2.6"/><circle cx="205.3" cy="804.6" r="2.6"/><circle cx="207.6" cy="798.2" r="2.6"/><circle cx="209.8" cy="795.9" r="2.6"/><circle cx="212" cy="789.6" r="2.6"/><circle cx="214.2" cy="795" r="2.6"/><circle cx="216.4" cy="797.5" r="2.6"/><circle cx="218.7" cy="792.7" r="2.6"/><circle cx="220.9" cy="800" r="2.6"/><circle cx="223.1" cy="787.9" r="2.6"/><circle cx="225.3" cy="789" r="2.6"/><circle cx="227.6" cy="783.3" r="2.6"/><circle cx="229.8" cy="776.2" r="2.6"/><circle cx="232" cy="789.2" r="2.6"/><circle cx="234.2" cy="773.6" r="2.6"/><circle cx="236.4" cy="792.3" r="2.6"/><circle cx="238.7" cy="792.8" r="2.6"/><circle cx="240.9" cy="792.4" r="2.6"/><circle cx="243.1" cy="795.9" r="2.6"/><circle cx="245.3" cy="777.9" r="2.6"/><circle cx="247.6" cy="804.9" r="2.6"/><circle cx="249.8" cy="784.9" r="2.6"/><circle cx="252" cy="784.9" r="2.6"/><circle cx="254.2" cy="786.4" r="2.6"/><circle cx="256.4" cy="789" r="2.6"/><circle cx="258.7" cy="782.6" r="2.6"/><circle cx="260.9" cy="777.2" r="2.6"/><circle cx="263.1" cy="790.6" r="2.6"/><circle cx="265.3" cy="786.7" r="2.6"/><circle cx="267.5" cy="778.3" r="2.6"/><circle cx="269.8" cy="804.8" r="2.6"/><circle cx="272" cy="780.3" r="2.6"/></g><path d="M68.7 787.7H273.1" stroke="#5f22a3" stroke-width="2" fill="none"/></g>
<rect x="147.6" y="525.5" width="118.3" height="24.2" rx="2.2" fill="#fff" fill-opacity="0.82" stroke="#cfcfcf" stroke-width="1"/>
<path d="M153.2 536.6h30.6" stroke="#5f22a3" stroke-width="1.9"/>
<text x="195.2" y="541.2" font-size="14.6" text-anchor="start" textLength="63.8" lengthAdjust="spacingAndGlyphs">TOI-712 b</text>
<text x="174.8" y="727.6" font-size="12" textLength="78.6" lengthAdjust="spacingAndGlyphs"><tspan font-style="italic">P</tspan><tspan font-style="italic" font-size="8.6" dy="2.2">b</tspan><tspan dy="-2.2"> = 9.53 days</tspan></text>
<path d="M69.5 738.1v-2.3 M69.5 518.3v2.3M84 738.1v-2.3 M84 518.3v2.3M98.4 738.1v-2.3 M98.4 518.3v2.3M112.9 738.1v-2.3 M112.9 518.3v2.3M127.3 738.1v-2.3 M127.3 518.3v2.3M141.8 738.1v-2.3 M141.8 518.3v2.3M156.2 738.1v-2.3 M156.2 518.3v2.3M170.7 738.1v-2.3 M170.7 518.3v2.3M185.1 738.1v-2.3 M185.1 518.3v2.3M199.6 738.1v-2.3 M199.6 518.3v2.3M214 738.1v-2.3 M214 518.3v2.3M228.5 738.1v-2.3 M228.5 518.3v2.3M242.9 738.1v-2.3 M242.9 518.3v2.3M257.4 738.1v-2.3 M257.4 518.3v2.3M271.8 738.1v-2.3 M271.8 518.3v2.3M112.9 738.1v-4.3 M112.9 518.3v4.3M170.7 738.1v-4.3 M170.7 518.3v4.3M228.5 738.1v-4.3 M228.5 518.3v4.3M68.7 727.5h2.3 M273.1 727.5h-2.3M68.7 716.5h2.3 M273.1 716.5h-2.3M68.7 705.5h2.3 M273.1 705.5h-2.3M68.7 694.5h2.3 M273.1 694.5h-2.3M68.7 683.4h2.3 M273.1 683.4h-2.3M68.7 672.4h2.3 M273.1 672.4h-2.3M68.7 661.4h2.3 M273.1 661.4h-2.3M68.7 650.4h2.3 M273.1 650.4h-2.3M68.7 639.3h2.3 M273.1 639.3h-2.3M68.7 628.3h2.3 M273.1 628.3h-2.3M68.7 617.3h2.3 M273.1 617.3h-2.3M68.7 606.3h2.3 M273.1 606.3h-2.3M68.7 595.2h2.3 M273.1 595.2h-2.3M68.7 584.2h2.3 M273.1 584.2h-2.3M68.7 573.2h2.3 M273.1 573.2h-2.3M68.7 562.2h2.3 M273.1 562.2h-2.3M68.7 551.1h2.3 M273.1 551.1h-2.3M68.7 540.1h2.3 M273.1 540.1h-2.3M68.7 529.1h2.3 M273.1 529.1h-2.3M68.7 540.1h4.3 M273.1 540.1h-4.3M68.7 584.2h4.3 M273.1 584.2h-4.3M68.7 628.3h4.3 M273.1 628.3h-4.3M68.7 672.4h4.3 M273.1 672.4h-4.3M68.7 716.5h4.3 M273.1 716.5h-4.3" stroke="#1a1a1a" stroke-width="0.9" fill="none"/>
<rect x="68.7" y="518.3" width="204.4" height="219.8" fill="none" stroke="#1a1a1a" stroke-width="1.25"/>
<path d="M69.5 824.4v-2.3 M69.5 751v2.3M84 824.4v-2.3 M84 751v2.3M98.4 824.4v-2.3 M98.4 751v2.3M112.9 824.4v-2.3 M112.9 751v2.3M127.3 824.4v-2.3 M127.3 751v2.3M141.8 824.4v-2.3 M141.8 751v2.3M156.2 824.4v-2.3 M156.2 751v2.3M170.7 824.4v-2.3 M170.7 751v2.3M185.1 824.4v-2.3 M185.1 751v2.3M199.6 824.4v-2.3 M199.6 751v2.3M214 824.4v-2.3 M214 751v2.3M228.5 824.4v-2.3 M228.5 751v2.3M242.9 824.4v-2.3 M242.9 751v2.3M257.4 824.4v-2.3 M257.4 751v2.3M271.8 824.4v-2.3 M271.8 751v2.3M112.9 824.4v-4.3 M112.9 751v4.3M170.7 824.4v-4.3 M170.7 751v4.3M228.5 824.4v-4.3 M228.5 751v4.3M68.7 824.4h2.3 M273.1 824.4h-2.3M68.7 817.1h2.3 M273.1 817.1h-2.3M68.7 809.7h2.3 M273.1 809.7h-2.3M68.7 802.4h2.3 M273.1 802.4h-2.3M68.7 795h2.3 M273.1 795h-2.3M68.7 787.7h2.3 M273.1 787.7h-2.3M68.7 780.4h2.3 M273.1 780.4h-2.3M68.7 773h2.3 M273.1 773h-2.3M68.7 765.7h2.3 M273.1 765.7h-2.3M68.7 758.3h2.3 M273.1 758.3h-2.3M68.7 751h2.3 M273.1 751h-2.3M68.7 751h4.3 M273.1 751h-4.3M68.7 787.7h4.3 M273.1 787.7h-4.3M68.7 824.4h4.3 M273.1 824.4h-4.3" stroke="#1a1a1a" stroke-width="0.9" fill="none"/>
<rect x="68.7" y="751" width="204.4" height="73.4" fill="none" stroke="#1a1a1a" stroke-width="1.25"/>
<text x="113.3" y="839.2" font-size="13" text-anchor="middle" textLength="16.8" lengthAdjust="spacingAndGlyphs">−2</text>
<text x="170.7" y="839.2" font-size="13" text-anchor="middle">0</text>
<text x="228.5" y="839.2" font-size="13" text-anchor="middle">2</text>
<g clip-path="url(#b1)"><polyline fill="none" stroke="none" marker-start="url(#og)" marker-mid="url(#og)" marker-end="url(#og)" points="400,668 292.9,607.2 346.6,634.6 286.8,618.3 437,641.4 364.9,613 294,638.2 384.7,669.6 312.8,612.9 291.8,623.4 384.7,703.8 308,629.7 300.1,602.3 478.6,671 282.1,622.5 466.4,661.3 284.4,647 426.7,696.6 285.3,612.2 439.1,611 329.6,614.8 378.7,563.9 472.6,636.8 469.6,630.5 318.2,611.5 439.9,676.6 442.4,627.4 325.3,654.8 386.8,646.6 326.7,610.8 423.9,623.5 474.5,646.2 336.5,667.2 470.7,644.7 403.1,645.2 310,651.2 350.2,631.2 362.4,671.7 303.7,602.5 446.5,649.1 381.8,642.3 463.3,664.3 436.5,636.5 429.6,613.9 398.5,666.8 305.2,677.3 334.7,638.9 347.2,629 290.6,633.1 312.6,616.1 422.9,621.8 292.2,628.6 362.1,650.6 290.2,664.7 284.8,637.9 341.7,666.1 358.2,678.7 443.1,640.5 467.9,661.5 349.7,628.5 483.2,553.9 400,629.5 443.8,627.7 419.1,613.1 318.4,645.2 430.2,617 329.4,636.1 427.1,619.7 468.2,641.6 409.8,636.1 458.7,608.3 399.3,635.6 455.1,635.5 304.9,641.7 431,608.1 417.8,622.1 334.3,612.3 481.8,597.7 307,645.2 302.6,620.2 320.6,631.8 389.4,666.7 414.6,619.2 321,614.3 417.4,597.8 372.6,640.6 375.4,625.5 413.5,613.2 322.9,690.8 343.7,623.9 379.7,685.9 307.1,626.5 346.4,618.4 448.4,628.3 394.7,625.7 479.4,652.3 353.3,668.5 302,618.1 360.2,649.8 355.5,639.2 290,626.6 353.8,648.8 445.6,612 372.4,656.5 379.6,654.9 376.1,673.4 398.7,703.2 308,632.8 424.7,615.2 461.4,647.7 282.9,640.4 392.6,637 351.8,619.7 394,653.5 402.5,663 323.1,637.5 426.3,624.7 344.6,660.8 438.9,637.9 437.3,593.6 365.9,646.9 408.1,675.9 457.8,618.9 461.4,601.4 322.5,637.4 325.1,618.9 334.6,653.7 457.2,637.3 393.5,682.3 363.8,634.3 376.2,667.6 412.8,641.7 475,649.3 291.4,628.3 466.2,594.5 366.5,640.5 356.6,660.1 359.2,659.8 463.1,604.2 367.8,725 302,686.2 484,635.5 421,644.5 290.2,633 465.2,621.9 353.2,687 444.1,610.4 370.1,665.2 434.2,655.5 298.4,622.1 410.3,659.8 369.8,649.5 403.7,694.7 448.8,654.1 340.4,584.6 469.3,643.1 338.4,622.2 304.6,604.5 418.9,595.2 328.8,606.4 439.7,642 456.4,618.6 366.5,650.4 293.9,602.2 317.6,609.6 433.8,641.8 472.5,647.6 376.6,634.5 364.5,685.5 423.1,616.4 354.7,642.5 323.7,651.9 304.5,633.9 398.6,679.9 437.7,599.4 324.6,646.7 372.6,652.5 416,635.8 399.1,637.4 369.1,651.8 283.4,613.3 373.2,659.6 323.5,598.4 461.6,638.8 431.9,608.9 405,650.5 407.5,653.2 343,626.2 399,699.3 367,629.3 448.5,616.9 447.9,594.7 448.6,619.6 446.9,642 361.8,643.7 350.8,674.9 341,642.7 370.9,656.1 307,652.5 466.1,601.5 334.9,619.3 375.2,670.5 327.1,649.3 291,603.2 314.1,627.2 368.7,618.3 411.1,659.1 418.2,631 333.4,639.5 294.8,663.3 414.1,628 459.1,629.8 409.6,610.2 384.9,668.9 430.2,616.3 442.9,624.9 312.5,650 302.4,636.4 484.2,591.2 366.9,646.1 301.3,609.3 373.4,681 371.8,633.2 345.8,627.8 369.7,680.2 365.6,683.4 343.2,629 476.5,617.1 477.9,620.9 289.4,601.3 369,647.9 338.3,653.1 281.9,613.5 380.1,711.8 353.5,647.7 310.5,628.4 464.3,643.3 377.1,639.6 350.8,636.6 328,624 378.8,679 465.3,615.7 360.5,672.7 355.5,680.5 311.1,637.8 436.8,611.8 310.4,637.1 359.6,594.5 376.9,668.2 348.2,607.1 375.9,650.5 423.6,582.9 439,636.4 331.2,611.3 293.7,603.1 358.3,691.3 321,640.6 350.5,668.7 348.9,634.4 300.4,645.8 434.4,605.9 341.3,659.8 290.4,663.9 329.4,662.7 466.3,656.2 441,603.6 384.3,680.8 441,637.5 483.6,602.4 384.1,647.5 294.9,620.4 293.7,619.6 461.5,625.9 428.5,583.4 445.4,594.2 471.7,615.5 283.8,607.1 436.5,601.9 465.9,619.5 376.5,660.6 316.2,641 379.9,651.4 372.9,673.3 363.8,626.7 452.1,630.2 336.2,625.8 470.5,627.6 333,658.7 389.8,690.4 441.8,607.9 315.6,618.3 382.9,650.8 379.9,692.4 368,655.2 302.7,639.1 361.3,642.4 352.4,652.9 386.5,670.2 455.8,633.9 353.3,643.8 407.9,641.1 377.8,716.6 317.6,636.8 400.8,681.1 341,646.8 293,616.9 359.6,666.5 290.9,680.1 431.8,625.6 344,617.3 283.2,575.7 449.1,630.1 413.3,627.1 283.1,572.6 308.8,612.1 347.5,633.7 430.9,609.1 413.8,629.3 438.7,633.9 383.9,685.7 330.1,588.1 381,650.6 330.7,631.7 306.2,652.7 342.5,639.7 481.7,690.7 310.5,592.5 306,648 453.7,623.8 461.6,617.8 484.2,599.5 286.8,629.2 336.2,639.1 395.9,637.8 363,627.2 327.7,645.7 416.2,617.5 397.7,650 294.6,637.6 477.6,617.3 354.3,646.6 474.3,643.3 461.2,627.6 306.6,632.7 360.2,668.9 372.6,651.6 457.9,613.1 441.4,594.2 341.3,667.7 435.3,646.1 444.5,634.6 333.2,622.7 361.8,640.5 475.4,665.7 399.9,658.6 460.5,667 334.1,600.6 332.2,624.5 311.2,637.2 395.2,679.9 483.9,639.3 449.8,628.4 361.1,661.2 398.3,678.7 390.1,669.9 349,604.8 392.1,641.3 483.6,637.5 346.7,646.8 293.7,641.9 324.4,595.9 325.7,598.4 340.4,646 337.6,629.4 397.7,642.5 471.8,628.6 409.4,656.4 412.8,662.8 317,620.7 424.8,607.4 384.5,668.9 448,649.2 372.1,652.9 411.4,629.3 415.1,640.1 333.1,658.5 319,623.6 349.4,649.9 286.7,611.5 338.4,618.1 385.7,668.8 356.3,654.3 459.5,651.5 331.1,636.3 297.3,660.6 336.5,606.1 358.8,680.9 337.7,644.9 436.5,673.5 358.3,659.5 455.8,602.7 297.3,621 459.2,630.7 444,619.3 415.7,594 346.2,642.5 414.7,640.4 286.1,633.4 373.5,651.8 475.4,636.5 448.9,630.3 422.1,623.4 332.9,611.1 372.6,639.6 442.5,652.5 375.4,684.6 450.7,638.6 420.9,620.5 436.9,630.2 433.4,618.4 477.2,613.2 377.9,689.9 432.4,617.9 294.9,636.2 325,620.5 476.9,629.7 320.5,634.8 397.9,651.5 430,607.5 322.9,637.5 304.7,620.2 294.6,605.2 332.2,638.6 424.8,613 469.2,615.2 454.9,653.2 406.6,680 380.9,674.9 349.7,639 398.4,635.3 396.2,683.3 281.6,602.9 362.4,693.6 347.6,655.9 357.8,669.4 456.9,646.7 358.6,667.5 396.7,658.2 369.3,686.8 455.3,636.2 390.7,644.1 292.4,642.1 459.9,590.4 434.5,631.6 481.3,647 423,594.2 371.5,683 431.7,614.5 398.2,640.3 339.2,603.9 431.7,632.2 461.6,656.2 428.3,612.2 294.9,628.2 395.8,690.7 451.6,623.1 343.9,645.9 400.2,655.9 471.8,632.5 480.9,600.6 338.5,616.2 330.2,645.8 299.4,609.8 305.7,598.3 469.6,583.3 328.2,616.7 405.7,655.3 433.6,617.5 451.9,631.2 452.4,615.3 454.6,632.7 297.3,602.1 304.7,631.5 359.5,680.6 301.6,639 367.5,623.6 478,605 418.8,649.3 401.3,660.2 354.3,658.5 375.9,618.6 422.4,622.7 302.2,625.4 329,621.1 435.1,659.2 376.2,667.6 420.1,634.6 470.9,634.1 434.8,656 480.6,616.1 302.8,615.5 320.1,636 447.1,617.2 388.3,646.2 439.7,613.4 307.7,629.9 388.6,701.3 330.1,666 335.4,628.5 473.5,647.2 461.5,618.7 483.9,651.3 445.1,627.2 294.5,605.7 369.9,663.5 430.6,662 349.1,658.5 341.3,612.3 361.7,663.4 396.9,702.4 461.1,620.1 483.8,646.5 456.4,605.9 449.4,612.6 314.3,603.4 322.3,626.4 377.4,666.7 339.4,652.3 327.8,651.4 396.3,653.7 334.5,638.4 434.9,628.6 471.1,619.9 432,667.3 427.6,634.8 446.2,609.9 332.1,604.1 404.8,642.2 298.1,576.5 362.7,666.9 440.2,632 373.7,674.8 398.8,664.4 424.3,634.4 330.1,658.1 362.3,677.4 409.5,655.2 444.8,642.9 351.2,643.5 425.3,623 400.1,662.9 342.2,627.2 460.2,611.2 465.3,679.4 353.6,661.3 483.5,637.7 471.5,594.2 331.2,616.6 398.4,648 402.7,657.2 342.1,636.2 457.6,619.6 442.9,664.1 348,605.9 345.1,659.4 369,684.5 400.7,641.8 304.6,646.5 313.5,619.8 413,619.8 349.9,648.5 314.4,608.1 285.9,663.8 324.8,626.6 444.5,643.7 388.7,669 438.6,623.5 419.5,643.8 333.8,583.9 348.6,603.8 310.9,563.5 363.4,642.9 472.1,628.2 428,631.5 298.8,611.4 440.2,656 393,683.4 340,654 426.5,613.8 430.3,645.7 357.7,651.9 343,629.2 404.7,678.8 396.7,667.8 390.5,657.8 381.2,649.2 441.3,616 368.2,695.1 395.2,667.5 442,599 446.6,588.7 300.3,614.8 378.3,641.9 398.9,631.1 353,677.9 316.5,646.7 316.2,630.5 311.6,637.1 302.4,615.5 364.1,671.7 414.5,665.6 362.8,681 345.4,652.5 325.1,544.4 377.9,629.4 325.4,632.5 286.7,641.1 431.5,607.5 391.7,674.3 365.9,701.7 376.9,703.3 374.4,667 359.8,667.3 401.2,671.8 356.3,685.1 447.1,646.5 290.7,614.7 466.9,625 384.1,648.2 324.6,649.6 361.3,666.2 483,639.7 446.3,624.1 336,604.3 352.1,658.4 355.4,656.2 430.8,660.2 402.9,650.1 385.1,665.7 322.9,619 399.8,657.5 400.6,646 467.9,616.4 319,649.8 484.2,626 296.7,623.2 358.5,635.7 286.8,663.1 292.9,627.7 401.7,658 373.2,667.1 338.9,646.9 412.6,657.3 302.6,609.5 461.3,643.9 340.1,652.9 476.6,638.7 348.2,682.4 477.9,642.6 333.6,637.4 407,667.5 311.8,648.6 354.9,657.6 281.6,639.4 359.5,665.4 375.8,673.1 317,640.8 308.8,622.3 323.8,620.8 394.6,663 401.7,683.9 394.3,649.5 449.7,665.2 359.8,633.6 374.6,652.6 354.1,633.9 288.8,603.2 411.5,692.5 424.8,641.6 470.2,612 291.1,605.5 455.2,658.1 343,642.6 483.9,609.4 429.8,638 445.9,626 404.9,659.6 466.7,610.7 476.3,616.5 364.5,649.9 307.6,618.4 460.8,632.5 341.3,574.6 453.9,641.5 297.1,657.8 366.5,688.4 464.6,604.2 477.8,654.2 430.1,612.5 469.1,658 478.5,624.4 481,627.5 364.8,674.3 401.4,660.1 412,579.8 328.5,610.4 374.1,630.6 307,610.5 355.8,633.5 470.9,596.8 443.3,636.1 477.7,617.5 383.6,634.8 404,656.2 399.8,655.3 480.6,619.1 329.6,600 483.3,651.1 363.9,629 437.3,643 440.2,632.6 474.2,613.1 382.3,679.1 457.7,607.7 472.3,621.4 353.1,639.4 376.9,673.5 306.1,644.2 427.5,625.4 358.2,672.6 303.9,623.8 332.4,584.1 402.8,645.4 467.5,628.1 461.4,624.2 419.1,604.7 417.5,648.6 303.5,677.3 394.3,677.1 401.5,659.2 288.5,624 293,630.3 389.7,686.8 402.6,659.7 477.2,556.8 330,638.8 482.5,617.5 458.9,649.5 362.2,669.6 357.4,664.4 482.4,613.7 363.3,654.6 452.5,632.2 440.1,620.6 365.4,673.7 440.8,595 462.2,624.8 385.3,662.8 460.4,639.5 317.9,618.3 362,657 293.9,641.7 415.9,634.7 444.9,685.8 303.8,632.5 331.6,630.8 319.6,663 365.2,674.5 382.7,639.4 347.9,649.4 392.3,639.3 286.8,665.1 319.2,623.4 381.2,683 476.6,649 427.4,620.5 437,618.4 289.2,661.6 412.6,663.7 375.8,652.6 347.1,636.5 438.6,599.9 326.5,624.9 306.8,605.6 365.7,640.5 345.4,663.5 438.4,615.5 332.6,626.5 383,662.5 429.9,620.3 392.6,650.5 302.3,673.7 350.2,622.6 423,640.3 426.1,605.3 442.4,589.6 473.1,628.9 319.9,631.7 459.5,621.1 291,638.9 426.1,604.2 408.7,644.7 461.9,632.7 404.9,682.3 420.4,606.3 308.5,622 330.9,603.8 295.6,662.5 400.1,647.5 396.1,667.1 348.9,638.4 439.5,619 306.4,595.1 431.8,635.9 322.3,629.5 418.1,653.7 309.2,621.5 462.2,642.9 442.1,622.8 387.3,644.8 301.2,613 386.2,649.7 449.6,579.3 458.7,639.9 330.5,646.8 345.2,610.8 305.3,624.7 393.6,692.1 365.4,650.2 324.3,591.7 288.2,659.5 445.3,624.5 477.7,647.7 305.3,601.8 349.9,611.5 319.1,618.3 366,643.4 392.9,682.8 281.3,624.6 420.3,636.2 437.3,650.5 461.2,592.9 303.5,639.9 396.5,673.7 428.7,643.9 472.8,604.6 333.1,637.1 317.3,606.9 412.1,646.5 405.8,674.2 480.7,655.4 376.4,688.3 436.1,684.4 404.7,672.7 350.5,623.7 459.7,614.1 429.1,610.9 367.2,693.9 467.3,659.2 412.8,628.8 439.3,635.4 414.3,617.9 477.8,629.9 374.1,657.7 371.6,693.9 421.4,620.1 319.2,649.4 307.2,592.8 361.2,665.7 394.5,668 475.4,647.3 332.8,646.2 330.1,623.3 288.6,580.2 387.1,661.4 403.1,663.9 340.4,654.7 463.5,633.8 315.1,593.4 474.7,644.2 440.9,626.4 472.7,631 361.6,651.4 442.6,640 391.2,695.3 421.3,640.5 296.2,643.2 413.4,645.6 330.7,662.6 364.5,657.4 417.6,658.8 352.5,621.4 299.4,609 292.9,614.4 366,655.2 424.4,632.2 403.3,631 302.7,623.6 357.1,653.4 328.4,633.7 301.6,644.1 301.3,628.8 463.1,660.7 305.4,697 462.3,634.6 329.5,652.7 418.4,634.5 457.4,646.5 477.9,598.3 307.8,650.4 282.3,624.4 285,611.6 349.5,672.1 429.2,608 402.6,663.2 339.7,615.7 458.7,609.2 367.1,681.1 437.1,642 422.7,604 368.3,660.8 348.7,642.7 441.2,603.3 416.4,638.7 463.8,603.1 326.4,600.6 409.6,646 329.6,598.9 334.1,623.9 374.6,672.5 408.1,663.9 433.3,628.9 367.8,655.7 412,641.2 471.5,590.8 469.6,638.7 397.7,673.4 294.7,599.6 484.2,637.5 313.8,609.9 471.3,606.2 353.8,672.7 304.1,643.2 435.8,630.1 280.9,622.9 325.3,647.3 446.9,644.7 483.9,662.3 447.7,633.1 463.4,614 312.2,621 315.5,635.2 429.7,572.9 470.1,640.1 459.4,615.2 464.1,620.8 409.1,660.9 407.1,630.4 372.7,656.4 315,622 398.3,660.7 384.7,643.9 482.4,598.6 482.7,614.3 403,654.5 472.9,594.7 471.8,603.5 431,642 381.1,671.3 332.4,609.4 424.4,630.7 289.8,601.1 346.6,615.4 362,684.2 344.5,606.2 465.8,609.5 469.5,628.2 387.7,649.3 399.1,664.2 335.1,603.9 364.6,683.2 339,625 470.1,637.6 408.9,662.9 431,595.2 427.4,604.3 299.2,628.5 280.8,637.3 346.9,611.2 300.4,658.7 382.5,678.1 456.3,645 411.8,637.1 438.2,626.6 441.2,651.5 409.1,667.3 338.9,625.8 406.8,655.1 344.4,612.3 466.3,628.6 341,624.2 412.5,649 468,631 399,634.6 316.2,618.8 439.9,614.7 431.2,638.3 465.3,661 403.6,675.8 425.9,632.9 332.4,607.3 344.2,623.5 311.1,634.4 308.7,625.3 471.5,619.9 431.6,620.5 375.3,630 288.8,621.5 287.2,642.9 379.2,689.6 368.5,680.3 470.2,610.3 387,634.5 449.3,638.2 363.9,603 299.3,622 401.9,659.6 362.5,656.5 341.2,610.3 303,637.6 333.4,626.4 414.6,629.7 434.2,675.6 338.8,633.4 311.2,577.6 380.3,649.3 374.2,673.5 378,660.6 383.8,651.5 406.9,665.8 417.7,615.7 347.1,634.6 468.8,651.6 401.4,662.5 480,665 313.7,635 411,671.4 307.2,592.3 402,694 406,655.7 380.1,649.5 300.3,607.8 384.6,687.4 398.1,691.2 462,609.6 393,669.8 366.4,677 410.9,644.2 418.4,633.7 394.6,665.9 363.9,670.7 478,634.2 353.6,701.2 355.2,668.9 369,657.2 314.7,642.9 413.8,636.3 286.3,600.1 394,678.1 415.3,614.3 352.6,635.4 302.9,613.1 403.1,638.8 337.8,645.4 449.1,649 378.3,645.8 394.6,659.6 365,622 290.3,605.1 420.9,616.4 482.6,623.9 350.8,640.3 286.6,624.7 371.3,667.9 466.6,628.7 410.5,639.6 304.5,620 345.6,622.5 447.8,672.8 400.5,687.1 320.7,644.8 367,697.8 461.8,649.4 322.1,641.2 450.2,655.5 408.7,666.8 399.1,674.2 323.1,680.2 325.4,630.2 378.4,687.4 298.9,627.3 392.3,688.4 404.4,671.2 330.1,616 344.7,646.8 368.5,652 481.5,596.5 449.5,609.6 300.1,652.8 450.2,605.3 341.4,596.8 424.3,621.8 420.7,596.6 298.5,597.8 352.4,680.6 345.2,616.9 336.9,618.7 291.1,632.7 404.7,664.3 444.1,616.2 426,578.4 454,630.9 359.5,638.2 363.2,675.1 353.9,642.5 371.6,634.8 449.5,650.8 379.7,685.7 328.4,592.7 348.9,615.1 422.9,611.5 286,594.7 332.5,629.1 473.2,603.4 461.3,623.1 327.3,645.2 287.3,632.5 348.2,613.8 392.2,674 301.5,633.2 462.7,567.3 438.4,631.5 332.9,613.4 341.2,608.5 395.6,664.1 308.9,628.3 360.2,671 345.1,646.7 339.5,612 409,635 410.9,656.9 402.7,631.7 357.3,653.8 403.5,683.8 310.5,642.4 288.1,613.4 346.1,664.9 397.7,649.6 347.9,616.6 361.3,636.3 344.6,654.3 372.2,641.8 319.3,605.7 482.6,643.9 377.1,652.2 370.9,659.4 343.3,652.6 419.8,617.3 386.4,664.4 307.2,673.1 335.1,620.6 305.2,628.9 337.2,615.6 366.1,653.1 382.7,671.9 366.5,681.7 348,605.6 469.4,602.3 328.6,642.6 484.3,613.1 334.1,621.2 455.4,626.8 408.1,642 425.2,628.9 316.3,579 455.7,638.3 408.2,649.4 390.9,719.7 458.4,620.3 406,673.7 315.1,678.5 312.1,632.2 344.8,617.1 319.2,640.2 322.7,625.8 384.3,670.9 385.7,659.7 414.3,699 434.4,619.8 330,649.6 286.9,628.4 304.4,628.9 400.1,665.9 446.2,614.2 387.8,681.6 281.1,635.9 439.5,584.7 456.4,581.6 329.2,616.9 369.8,655 332.1,607.5 419.8,636.2 471.7,650.1 429.5,633.4 479.6,643.3 475,619.5 419.6,668.6 360.6,660.8 465.8,628.8 316.7,607.3 290.8,619.6 312.9,630.5 368.8,677.8 463.6,592.5 454,626.6 337.1,621.3 334.7,628 431.4,624.4 365.8,671.3 319.2,603.1 320.6,599.2 465.6,629.4 331.2,606.9 317.5,627.8 356.5,671.2 476.3,621.8 373.4,630.7 316.5,614.2 445.9,649.2 352.1,625.8 326.6,613.2 288.1,621.4 423,609.5 394.2,674.7 417.6,621.4 333.2,614.7 475.3,635.8 359.3,674 415.4,615.5 459.8,585.8 381.5,696.8 299,636.2 363.6,692.6 340.6,632.3 383.3,689 320.7,629.4 421.3,648.7 320.2,645.5 338.5,648.7 469.7,602.1 370.3,664.7 456.2,625.5 368.3,669.5 426.7,627.2 441.4,648 356.2,656 412.7,657.8 363.8,641.1 286.7,631.7 386.8,676.7 459.9,617.9 410.9,642.1 420.3,607.7 460.2,644.9 355.5,678 466,648.9 424.9,669.4 432.3,637.8 384,691.2 422.1,624.6 291.1,671.3 373.3,656.9 399.8,649.2 312.1,654.4 371.9,650.1 385.3,669.8 435,622.7 299.3,636.7 366.9,718.3 333.2,651.2 338.1,600.8 403.5,653 469.7,638.4 360.3,663.2 350.5,635.7 367.5,654.6 357.5,654.5 466.3,635.5 375.5,644.4 287.9,615.3 455.6,641.8 361,664.2 354.8,675 414.2,627.7 393.5,693.1 451.4,621.8 351.2,592.1 463.1,611.6 295.5,633.2 331.6,648.9 360.4,724 340.1,692.9 296,647.6 339.1,645.5 409.6,643.3 338,651.5 301.6,642.1 359.2,674.2 461,615.9 423.5,632.7 288,623.4 363.2,650.1 304.9,602.9 291.6,626.4 311.1,642 424.1,625.7 399.9,643.9 330.9,633.7 308.2,598.2 451.4,611.6 299,637.4 312.4,619.9 348.5,638.1 447.2,623.1 457.4,614.6 392.7,666.6 413.7,611.4 317.4,678.5 427.1,630.8 476.5,629.3 352.5,689 284.3,635.1 332.7,650.1 362.2,673.2 289.9,639.8 459.9,574.8 391.3,680.4 417.4,670.2 431.4,611.3 301.2,609.3 452.2,612.1 357.1,690.8 367,660 310.6,626.7 398.5,624.7 357.4,677.8 453,619.9 403.7,720.3 399.6,680.3 356.4,662.8 435.4,645.9 444.6,617.4 438.4,644.6 430.6,634.1 322,619.2 385.5,666.7 346.7,677.3 350.7,644.6 387.8,665.6 407.1,658.7 420.3,540.9 448.4,631.8 369.4,646.2 314.4,626 421.9,631.2 376.4,624.7 397.5,672.6 446,611.6 352.8,665.5 395,659.3 283.6,633.5 297.8,612.4 281.2,628.6 377.3,617.4 475.1,626.3 472.3,636.5 306.4,628.1 371.4,637.9 319.4,613.1 331.6,651.1 440.5,590 381.7,712.3 425.5,618.8 282.1,616.4 414.4,626.6 408.6,650.9 430.4,629.1 431.1,638.2 310.2,654.3 436.6,642.7 403.3,668.8 369.5,668.3 357.2,694.8 352.4,624.1 460.4,605.4 311.9,589.8 385.7,660 362.5,636.9 442.2,637.2 359.4,651.8 463.1,625.6 419.2,648.8 416.2,633.1 429.2,629.3 328.9,647.7 403.5,651.5 449,623.9 293.7,643.1 409.5,678.6 451.8,608 425.9,613.2 484,633.4 300.5,616.9 354.4,649.2 457,648.1 366.5,659.4 480.1,632.9 426.1,619.2 368.6,677.1 319,652.7 427.5,646.8 445.2,650.9 317.1,623.4 459.5,657.4 400.3,648.2 450.1,628.7 393.2,638.2 456.9,608 381.8,685.6 312.7,611.5 299.3,604.3 426.9,614 467.6,617.6 349.8,633.7 424.3,625.7 483.7,590.7 453.7,645 406.4,642.2 349.7,632.2 297.8,653.6 386.8,649.1 287.6,590.9 358.2,634.1 401.8,615.1 411.3,621 431.7,597 394.2,660.3 376.5,665.2 473.8,625.6 340.2,625 337.5,629.8 397.5,663.3 302.4,624.5 328.8,629.9 356.6,680.3 364.7,686.8 396.9,665.2 379.2,623.4 368.2,637.6 343.7,626.9 282.1,624.4 397.3,627.6 471.1,690.9 481.7,594.5 287.7,668.2 291.7,614.6 422.5,649.7 435,591.4 309.6,617.2 433.7,603.2 358.4,694.9 380.9,668.7 396.1,638 328.4,656.1 379.2,633.2 340.4,621.5 344.7,628.7 462.7,585.8 331,642.5 384,658.3 363.5,665.7 297.9,645.3 374.8,624.9 344.7,666.4 368.3,660.3 298.1,611.3 467.6,659.4 417.6,627.2 357.5,662.7 392.4,670 299.4,645.3 461,582.1 401.7,656.7 350.5,626.4 305.2,685.3 482.4,649.2 436.6,651.4 336.7,641.3 442,634.7 281.5,598.7 300.6,635.6 398.4,657.8 315.4,616.8 302.8,637.8 457.7,633.6 315.7,585.2 327.3,613.6 364,680.3 411,640.4 390,673.5 384.9,646.9 324.9,653.7 474.9,640 363.3,698.4 465.9,604.3 284.2,599 419.7,595.5 286.9,639.6 436,644.7 482,622.1 442.9,632.2 317.7,601.4 483.4,601.9 334.3,674.7 309.5,624.3 432.4,636.1 473.7,647.7 473.1,635.7 403.8,656.9 381.9,661.2 317.5,642.9 361.6,712.7 289.7,642.2 288.6,654.2 399.3,636.2 327.8,594.3 365.8,667.9 377.8,677.2 397.8,658.5 314.4,600.1 398.3,663.8 334,651.3 462.1,612.6 348.3,667.5 319.6,661.4 422.1,630.6 417.6,634.6 353.6,661.1 319.2,614 345.8,589.1 453.6,591.3 398.4,648.6 354.3,634 365.6,651.1 373.4,601.1 412.7,631.6 434.2,609 384.2,636.7 406.6,650.3 447.3,599.1 463.8,630.3 431.5,622.3 377.7,695.4 343.1,629 339.5,629 350.9,645 436.7,660.4 389.7,690.7 358.7,674.9 449.5,627 442.1,649.8 387.4,679.2 407.4,641.8 418,609 342.7,625.6 449.2,660 293.5,649.7 401.5,678.2 340.2,659.6 404.7,654.9 346.9,612.1 294.8,625.7 343.3,608.8 406.5,654.3 432.4,634.8 442.2,651.8 338.1,609.3 341.4,626.8 449.7,616.3 396.1,657.1 337.9,655.6 304.1,565.2 374.2,644 426.2,616.1 447.1,638.7 312.3,662.2 466.4,616.5 289.5,600.2 344.8,621 392.7,651.6 339.4,624.6 380.1,689.2 417.5,606.9 341.3,627.3 435.5,612.1 468.1,593.5 323.1,597.2 361,664.2 307,613.1 347.1,642.6 401.5,678.7 293,676.8 468.8,627.1 302.3,602.6 417.7,612.2 427.7,650.2 484.1,609.3 374.3,655.9 475.8,618.6 465.5,583.3 314,615.5 401.1,648.2 399.9,642.9 416.8,610.4 401.3,671.5 385.1,698.5 316.8,633.7 444,630 395.2,701.1 352.5,668.6 370,654.5 297,639 448.2,644.6 390.1,666.5 433.6,640.5 295.4,631.1 323,614.8 475.2,612.9 328.8,621.9 421.9,613.2 311.2,611.2 457.5,637 442.1,616.1 466.1,612 329.1,615.7 318.7,594.8 470.4,615.2 336.3,631.3 483.8,610.1 283.1,609.3 457.6,633 365.3,691.6 476.1,633.8 300.8,615.4 329.9,641.5 470.9,634.8 292,619.9 470.2,650.2 360.6,632.4 317.6,631.2 432.4,608.1 418.4,609.6 290.8,633.8 466.5,631 468.4,598.3 443.1,611.6 397.3,674.4 342,637 471.8,627.5 432.9,641.1 322.9,597.8 332.6,610.2 443.7,597.3 403.1,642.7 356.6,641.1 403.8,637.2 369.3,603.9 473.8,616.8 401.9,663.3 412.7,644.1 411.8,659.4 330.7,635.9 319.1,627.6 308.3,651 410.5,678.6 397.1,674.3 292.1,639.8 457.4,620.1 418.5,613.7 322.7,610.3 318.4,654.3 383.6,666.1 426.4,617.2 325.3,650.4 307.9,625.4 304.6,649.2 447.8,633.5 349.4,575.7 355.6,650.1 450.5,657.8 397.2,672.2 450.7,623 337.1,618.3 341.3,641.6 472.9,615.1 393.2,649 395.2,660.7 376.3,696 451.1,657.8 303.5,636.5 291.7,619.5 372.4,669.9 368.4,636 419.5,588.9 472.5,641.5 478.1,634.9 337.1,646.7 389.9,661.2 322.9,634.3 466.8,616.2 419.5,617.5 481.6,637.1 377.1,644.5 472.8,628.4 434.3,643.6 391.7,701.4 304.8,654 321,609.2 311.2,637.9 298.5,608 439.1,650.1 338.2,640.4 467.5,682.3 346.8,631.1 376.7,702.2 393.4,676.9 295.3,611.5 300,599.4 315.9,595.2 483.7,647 463.9,618 462.2,632.9 346.1,632.4 431.5,612.5 332.8,643.4 426.4,675.2 371.1,638.7 366.7,615.7 335,655.4 442.5,627 450.6,616.8 313.7,603.7 433.1,624 387.2,667.5 415.6,619.7 445.6,614.4 359,655 375.7,649.6 417.2,607 389.3,647.6 299.7,587.5 464,610.4 392.4,700.9 296.6,624.8 477.5,617.3 448.8,622.1 281.3,631.5 313,636 371.5,684.9 370.7,659 446.8,632.3 440.8,631.5 309.6,640.3 460.8,631.1 460,626.9 324.6,612.9 376,671.5 363.4,688.7 281.9,623.7 459.5,633 449.6,625 304.9,652.6 465.8,657.3 364.1,696.4 456.6,646.1 446.5,637.2 455.4,671.6 353.6,678 439.8,632.8 315.7,644.4 388.8,684.1 295,597.4 296.3,616 327.3,637.1 360.8,658.3 316.3,617.1 371.7,678.6 351.2,681.4 437.7,604.5 445.9,632.1 417.3,637 351.5,607.2 298.4,617.4 466.8,637.7 374.9,655.9 327.9,631.9 389.3,709.2 306,574.1 409.7,676.8 341.5,638.8 447.9,629.2 346.9,589.5 370.3,630.5 343.5,624.3 456.8,620.9 391.5,610.1 422.5,561.3 481.9,637.4 414.4,624.5 312.6,637.2 429.4,638 392,658 361.2,605.2 416.5,643.2 338.1,709.7 443.7,662.8 461.7,665.9 358.8,670 390,663.2 328.4,668.6 284,677.8 393.9,657.9 474.8,625.7 288.2,647.4 313.3,633.8 405.5,665.7 441.5,615.4 330.8,609.5 333.2,678.6 465.1,650.2 323.8,612.5 300.6,619.5 288.8,652.5 403.5,665.7 362.9,675.3 416.5,645 406.6,675.3 336.1,653 464.5,657.5 370.8,670.7 334.4,641 291.5,616.8 296.7,643.7 325.7,672.1 301.6,624.1 360.9,681.5 453.2,628 359.7,664.5 294.2,653.2 360.9,689.2 380.7,651.5 404.5,708.6 406.8,653.3 424.9,615.5 443,644.7 451.5,644.8 390.4,671.2 461.6,636.4 311.5,631.2 466.7,655.1 356.8,669.1 475.7,639.6 304.4,622.5 438.3,625.4 470.3,657.2 414.7,625.6 462.1,654 430.9,653.3 309.8,627.9 434.1,684.7 282.7,640.5 417.5,629.8 425.8,627.6 332.9,602.7 460.5,623.8 457.8,633.2 357.2,655.9 472.1,634.6 428.4,638.8 301.8,629.2 348.9,619.4 481.6,596 361.2,649.8 436.5,619.3 353.5,661.7 387.9,677.4 418,650.4 481.5,635.9 406.7,643 375.1,646.9 312.8,629.6 396.8,685.2 463.6,623.7 292.3,620.5 476.9,631.1 424.3,610.9 479.1,604.9 309.6,602.4 463.2,617.4 362.1,620.4 477,628.9 318.8,630 398.5,662.1 303,650.7 347.7,622.8 424.6,616.1 307.7,636.7 366.7,672.4 360.5,705.2 352.8,619.8 414,642.1 423.8,625 290.5,608.3 450.4,633.1 424.8,602.7 451.2,615.4 423.9,635.7 299,610.9 336.4,603.6 432.4,624.6 409.8,638.8 367.8,653.7 431,607.8 413.9,624 286.5,635.8 408.6,689.6 303.1,633.5 480.4,605.1 297.1,609.5 442.4,638.8 372.9,659.5 431.1,649.2 427.9,640.4 344.5,647.4 432.8,663.6 335.4,653.3 354.6,678.2 480.9,646.2 472,615.9 335.1,633.8 411.7,659.4 350.8,627.4 461.1,629.1 331.1,660.2 286.9,613.7 406,663.9 451,630 478.7,633.3 281.1,640 466.6,624.3 289.1,630.7 421.7,658.9 471.3,614.5 348.7,621.1 301.3,659.2 373.6,663.9 337.7,650.1 332.3,615.4 314.6,657 362.3,639.8 323.7,650 460.3,618 311.4,610.5 427.9,591.2 436.1,623.4 374.4,660.7 395.6,646 390.9,639.5 302.7,623.2 427.9,616.2 281.1,578.4 482.7,605.5 309.2,626.2 375.5,637.8 423.2,618.3 433.7,621 336.1,621.4 398.7,689.3 423.2,621.5 430.7,625.8 434.2,603.8 346.7,601.5 286.7,656.9 376.1,672.8 290.2,638 399.1,652.7 306.1,633.9 302,612.4 418.5,667.5 423.7,618.2 356.6,650.1 462,621.1 422.9,605.5 383.3,688.3 339.2,650 325,634.2 461.1,616.5 361.9,647 280.6,643 391.4,663.9 296,631.5 452.4,657.1 324.6,603.1 308.2,611.1 413.7,610.8 314.2,652.6 417.3,631.3 431.7,637.1 385.9,652.1 351.4,676.1 377.1,652.7 423.3,628.3 371.9,641.6 317.7,638.8 421.8,623.2 320.2,638.2 349.2,664.2 450.2,639.5 428.1,616.1 415.8,610.5 340.8,636.8 384.3,672.2 305.1,633.1 326.5,626.8 463.2,630.9 337,637.7 445.5,622.6 282.8,548.9 324.9,623.5 458.6,607.1 282.5,664.8 338.8,621.8 285.3,643.3 465.4,596.2 288,613.4 460.6,605.6 466.6,629.9 315.1,620.3 326.5,663.3 324.8,628.7 336.5,670.2 308.1,614.5 344.3,637.5 449.5,671 405.6,710.2 415.2,651.4 422.5,620.1 349.3,615.4 293.9,660.6 282.4,644.3 400.6,637.7 294,626 329.8,619.8 411.6,634 358.9,639.8 479.6,610.5 399.4,572.7 289.7,644.5 305.6,634 350.5,632 468.4,639.9 351.5,637.8 367.3,673.5 350.7,597.7 377.5,655.9 423.7,630.8 410.2,641.5 393.5,690.1 401.5,651 303.4,614.5 378.7,666.2 283.9,669.7 450.9,626.1 393.3,669.1 391,666 305.4,610.8 349.8,631.6 450.9,575.5 352.3,637.1 389.6,648.8 393.2,652.3 452.2,588.4 405.1,665 410.7,684.5 370,654.8 313.7,621.1 480,653.1 394.3,631.1 458.2,583.3 293.7,618.7 312.3,611.2 445,646.5 375.5,689.2 284,635.3 419.4,611.7 395.5,683.9 323.5,637.9 464.7,607.8 306.5,633.7 312.3,621.9 416.9,648.6 441.3,606.7 375.7,649.5 344.1,634.5 471.9,649.3 329.7,619.6 439.2,633.5 452,627.3 415.5,612.3 371.7,655 420.5,633.3 292.3,640.6 463.9,608.8 426.9,596.9 284.3,644.8 461,608.1 404.5,626.7 408,671.7 359.7,680.2 434.6,635.6 475.4,606.4 421.9,671.1 411.1,638.6 365.3,672.3 311.2,607.5 290,665.8 319.8,593 329.5,620.1 481.3,622 306.9,624.4 454.3,587.6 462.2,656 405.7,637.9 283,599.9 354.2,676.5 430.9,634.1 346,635.4 425.6,640.3 370.1,659.8 399.6,613.2 358.9,667.1 331,646 295.6,590.3 468.1,628.3 414.4,648.9 444.7,604.6 431.7,614.4 308.6,628.9 304.1,631.1 329.5,619.4 287.1,621.5 405.5,660.2 332,591.8 440.6,646.9 337.1,640.8 288.1,640.7 465.6,624.7 338.2,641.3 392.2,626.6 436.7,606.1 341.7,604.4 419.1,645 355.8,648.5 445.1,634 405.6,614.9 317.4,637 453.1,647.9 451.4,650.9 334.6,626.3 414,618.1 445.6,636.6 477.8,644.8 434,586.3 321.3,631.9 310.4,608.8 444.5,642.8 462.7,648.9 460.4,608.3 377.4,667 435.6,638.7 421.3,644.7 373.8,667 363.7,669.9 475.5,602.9 373.4,658.7 422.9,616.2 443.8,634.8 394.5,706.2 365.4,653.5 374.4,646.1 344.7,649.5 329.4,617.5 458.7,647.5 324.9,597.7 443.5,620.2 419.9,574.6 355.8,636.9 319.6,641.1 446.2,643.8 458.6,645.7 428.5,603.7 465.7,651.3 394.4,661.5 456.4,637.9 410.7,664.7 438.4,625.5 458.3,632.2 333.6,601.1 365.7,646.1 362.4,625.7 432.2,609.1 421.8,637.4 394.1,665.3 401.9,707.9 436.9,637.4 468.1,663.3 356.3,672.9 318.1,625.8 298,623.7 297.7,619.4 481.2,638 297.5,634.4 365.3,646.6 392.1,643.9 437.5,623.2 289.2,593.5 382.3,674 287.6,604.4 316.8,619.5 341.7,611.1 282.7,592.8 341.4,624.6 440.4,637.5 412.6,633.5 479.4,636.9 456.3,664.4 446.3,655.8 381.3,661.3 420.8,648.1 441.6,615.2 351.2,642.5 392,661.5 395.4,623.1 323.3,634.7 398.5,640.1 310.1,603.4 420.2,613.1 399.5,681.6 401.6,674.2 398.6,670.4 332.6,649 349.5,650 292.3,627.3 452.2,616.5 384.1,651.7 307.1,592.1 325.4,639.7 450.5,629.7 336.9,650.9 334.5,617.4 306.1,622.6 443.2,621.3 330,607.8 328,644.1 413.8,661.8 381.7,618.7 444.2,663.1 401.2,671.7 368.3,687.7 478.9,640.2 342.9,660.7 310.4,627.5 295,633.5 482.3,648.2 346.4,644.8 383.5,648.5 380,665.8 474.3,602.7 363.6,633.7 438.4,613.4 453.7,579.8 286.2,645.5 360.5,679.6 351.5,644.4 376.8,661 481.9,665.3 438.1,645.8 332.7,636 290.1,636.4 417.1,589.2 439.7,601.6 374.6,677.5 432.7,638.9 299.5,630.7 317,628.6 322.8,668.2 353.6,671.1 469.9,642.6 428.5,668.3 392.6,635 476.7,622.3 391,659.6 331,591.1 396.9,618.1 395.2,681.2 370.8,644.1 288.6,633.2 294.4,632 430.5,679.3 350,657 445.8,592.8 328.7,639.3 364.1,675.9 319.5,615.9 391.4,655 454.6,618.5 469.1,626.4 469.2,606.9 401.6,659.3 438,610.6 317.8,640.2 388.9,636.6 322.1,620.3 340.6,647.7 321.9,637.7 404.7,656.7 373.8,634 334.7,651.2 386,653.8 363.3,676.4 282.1,626.5 288.4,609.6 391.6,704.7 377.4,692.6 425.9,617.7 353.9,672.9 303.3,631.6 460.3,620.9 329.4,570.5 290.5,636.6 359,668.2 297.9,641.9 471.2,608.9 367.8,673.8 471.7,635.5 401.9,662.9 437.9,633.1 432.3,625 433.1,611.6 416.9,607 304.4,648.4 408,656.8 323,629.9 287.7,639.9 308.8,660.5 432.7,653.1 342.9,586.5 441.6,617.6 317.6,632.1 420.7,634.6 335,700.9 280.8,628.5 305.1,630 298.9,634.2 283.3,648.2 344,616.8 430.7,659 299.5,652.6 340.6,620.2 469.9,639.7 456.6,602.1 362.1,654.5 321.7,632.6 432.7,592.4 319,610.4 461.9,601.6 287.3,630.7 478.4,646.4 339.8,649.6 433.7,636.1 438.4,611.1 289.6,608.5 288.7,640.5 325.7,605.4 289.6,632.6 393.1,638.7 410,665.5 290.8,629.1 408.6,681.1 299.4,579.1 304.9,643.7 338.8,620.4 374.9,673.4 400.1,660 365.9,665.3 360.1,637.6 352.2,659.6 370.5,643.9 407.2,634.7 339.2,642.2 309.7,611.4 430,621.2 439.2,661.4 290.5,612.3 359.2,665.1 280.9,616.6 293.4,631.4 470.2,624.1 434.1,612.7 464.1,613.7 434,637.8 360.9,689.7 281.4,634.8 397.7,656.5 404.1,660.2 330.1,644.5 364.3,654.3 450.9,588.7 479.3,669.9 388.1,682.3 402,661.7 411.4,628.6 477.1,611.6 300.4,610 382.1,637.1 402.7,629.8 352.1,646.3 330.6,633.3 361.7,696 428.1,612.6 290.3,604.3 281.7,628.8 403.9,640.9 398.4,667.8 334.9,623.7 429.1,655.6 333.7,588.8 400.3,628.9 329.7,656.4 422.3,622.2 329.8,626.7 463.8,625 285.4,608.5 309.1,632.1 400.7,648.1 409.3,660.7 367,582.1 425.7,637.1 442,663.4 421.5,619.7 295.5,649.2 328.6,640.6 385.3,673.1 478.4,628.6 379.9,659.8 475.5,625.1 475.1,629.4 323,610 437,628.7 335.6,612.7 455.9,619.6 459.6,617.9 378.2,689.2 459.7,638.2 322.2,602.2 399,661.6 378.9,684.3 339.8,612 360.4,647.4 358,648 396.2,669.7 305.9,612.9 470.4,630.5 331.7,634.9 373.8,653.3 483,646.6 420,614.2 426.2,633.1 288.2,617.4 443.9,653.9 357,667 451.1,643.6 358.2,685.2 307.2,602.5 335.7,636.2 431.2,618.3 341.9,665.4 314.2,637.5 449.3,592.4 391,627.6 353.9,651.1 330.8,617.2 351.5,674.3 386.9,649.2 360.9,645.2 288.6,611 461.1,622.5 382.1,674.2 383.3,683.7 321.3,644.6 423.6,644.6 302.1,612.3 361.7,633.6 403.5,688.3 320.1,639 362.4,670 317.6,648.5 417.3,615.7 459.3,610.2 294.3,622 349.4,641.1 423.4,625.5 323.6,662.9 301.9,650.7 348.5,626.4 337.3,619.4 438.7,638.9 474.4,624.7 283.7,617.4 456.9,606.8 359.5,668.5 291.4,639.3 370.2,664.5 292.9,620.7 353.5,670.7 469.8,630.6 365.9,660.3 346,652.7 324.3,621.8 419.2,650.3 319.5,611.8 388.4,706.8 316.7,651.1 448,605.8 375.1,681 321.4,648.7 287.1,615.4 388.9,686.3 363.1,659 368.9,645.5 401.9,671.8 412.5,640.7 449.7,627.2 348.6,607.3 420,639.3 369.6,681.5 335.6,630.9 309.3,625.9 471.9,609.4 437.9,642.6 406.5,660.5 461.8,650.6 303.6,610.1 373.1,677 426.6,614 332.9,615.2 411.6,646.6 409.9,685.8 468.7,622.6 329.9,612.1 342.5,655.7 374.2,670.6 323.6,644.8 396,722.2 428.3,655.1 344.6,618.4 348.9,706.6 328,623.5 332.7,652.9 365.8,665.5 380.8,654.4 292.2,638.3 371.5,691 333.8,672.1 406.3,637 408.8,677.9 331.6,646 368.6,683.8 344.1,596.9 335.2,614.4 345.2,646.8 366.5,684.1 368.7,664.5 285.2,634.6 393,650.8 354.5,670.3 481.1,619.9 410.9,651.2 373.5,691.8 293.9,627.1 292.2,607.5 436.6,626.7 386.5,675 427.2,585.5 345.6,642.5 300.3,653.7 381.7,663 410.3,671.5 324.4,623.7 291.9,642.2 373.1,635.1 395.2,664.8 416.3,618.8 449.9,646.6 463.1,631.4 327.4,641.5 454.2,637.9 328.3,610.9 374.5,644.7 282.3,677.5 284.5,644.1 373.4,643.2 311.8,644.9 373.6,660.4 307.9,632.3 290.1,623.3 345.1,646.5 348.1,620.1 343.2,622.7 309.1,639.9 425.6,630 396.6,644.5 453,617.6 419.9,604.6 461.3,579.5 316.6,638.2 443.9,639.4 299,644.4 350.3,628.6 282.6,624.6 356.2,692.1 475.2,608.3 309.2,627.8 294,644.1 323.9,627 334,667.5 455.4,640.2 281.3,628.2 355.8,646.2 281,626 366.8,678.6 341,655 312.4,623.5 418,600.9 384.7,672.3 291.7,648.3 355.2,695.5 447.9,628.9 426.9,671 397.4,683.2 352.9,666.9 387.9,649.5 390.6,665.5 295,614.5 356.7,639.3 407.7,678.7 443.5,620.8 449,647.6 425.6,551 310.2,611.1 346.8,631.3 286.8,625.2 465.5,609.6 363.4,675.5 464.8,652.9 356.6,676.3 426.8,624 468,617.6 328.3,632 289.8,597.1 451.6,653.1 368.5,641.7 343.9,608.2 378.6,638.1 441.5,661 370,672.2 482,603.6 479,630 370.7,697.5 398,660.9 371.7,667.5 282.8,648.1 387.3,664.5 431.8,647.7 354.3,630.5 289,659 306.1,615.3 470.3,604.7 409.3,679.5 327,620.4 473.3,668.4 479.3,603.8 476.4,620.6 476.6,601.1 337.7,635.8 467.1,609.8 483.1,604.2 382.7,656 458.9,616.8 465.5,608.4 307.7,660.5 311.7,596.2 311.9,633.3 415.4,639.3 390.6,649 404.1,640.8 354.8,664.8 482.7,642.3 337.3,657.3 313,612.3 401.3,629.6 456.3,642.2 294.8,627.4 398.3,669.4 366.9,651.1 323.8,626.8 475.9,639 428.9,632.6 474.4,649.3 435.7,627.3 440.2,636.4 394,656.9 371.7,680.5 475,643 291.4,643 447.1,640.6 396.9,614.5 387.9,663.9 477.6,637.6 476.9,667.2 458.2,602.6 402.8,682 285.3,606.9 291,613.4 346.3,655.5 338.9,614 286.6,571.7 475.8,650.5 324.2,683.4 338.6,632.5 465.9,641.1 297.6,625.7 370.9,672.3 444,635.6 320.5,615.6 422.5,660.6 327.8,624.4 438.1,640 366.6,671.5 410.7,663.8 462.9,659.7 341.1,619.1 448.3,632.2 342.7,592.5 280.9,635.1 314.9,653.9 317.3,645 352.3,654 353.9,675.8 326.6,655.6 334.2,577.6 456.7,619.3 462.9,626.3 424.3,653 442.7,669.2 324.5,629.8 298.1,651.8 318.7,645.7 427.8,601.9 444.3,664 319.6,598.8 394.2,628.6 460.7,631.8 399.8,663.1 386.4,652.5 429.7,616.2 285.3,636.8 314.1,649.9 369.7,658.5 460.6,631.1 476.3,688.1 295.4,638.1 446.6,607.9 291.3,617.5 295.8,631.4 453.4,626.1 410.6,654.6 284.7,623.1 432.2,616.2 294.1,662.8 297.2,609.2 375,679.3 330.1,634.6 479,608.2 467.9,637.8 418.9,683.6 455.4,611.5 297,655.2 404.2,658.4 420.2,640.3 328.6,622.2 446,647.8 397.5,647.1 373.4,652.2 377.7,680.2 351.4,636.6 446.4,626.4 286.7,604.3 300,613.1 470.3,610.4 329.9,640.5 380.4,689.3 335.9,621.7 458.1,630.8 451,650.6 413.4,613.4 429,622.3 409.2,656.7 460.4,624.8 364.4,648.7 412.1,624.3 298.3,644 480.1,645.1 413,630.9 449.9,703.6 408.5,633.6 325.7,653 381.1,676.9 317.8,628.1 367.1,642.9 457.1,629.7 427.9,653.9 477.3,629 368.7,609.3 371.4,637.6 437.2,646.8 429.8,625 437.2,632.2 390.9,665.6 468.3,634.1 390.8,619.1 436.6,638 338.1,632.9 465.5,616 446.8,608.4 355.1,665 287.6,598.4 310.2,618.5 308.1,642.7 429.7,656.6 333.4,623 430.1,611.6 309.2,655.7 417.6,620.1 432.9,622.4 435.1,630.9 318,619.7 390.6,675.1 461,671.1 432.1,591.2 340,621.1 421.9,630.6 413.1,631 314.5,645.4 307.4,613.9 455.4,638.7 438.8,624.9 323.2,591.2 469,639.1 435.7,640.2 355.6,648.2 397.1,679.9 398.4,664 346.3,667.5 386.8,622.3 481.8,628.2 344,621 442.6,629.6 465,605.2 384.4,623.4 304.3,638.3 307.6,630.7 449.3,620.1 478.3,661.5 316.1,646.9 435.6,622 471.7,631.2 425,590.6 393,665.7 349.8,639.2 439.1,632.7 434.2,600.6 344.6,656.3 421.1,639.9 351,628.4 456.3,651 287.1,687.6 414.8,642.7 381.5,647.7 395.9,642.1 285.2,596 348.6,591.6 443.7,643 404,679.6 434.9,590.3 281.4,620.7 313.3,594.6 420.5,644 421.8,611.1 453.4,612.9 304.4,620.3 296.7,620.1 341.1,594.6 431.6,595.1 385.4,648.2 393.5,676.4 456.1,681.5 325.5,640.2 284,568.5 454,646.4 369,638.6 395.2,618.7 406.4,679 466.8,621.5 307.2,581.7 423.9,627.1 310.8,636.8 348.1,644.3 481.2,616.2 341.6,649.1 443,634.4 293,651.3 431.3,616.9 283.9,647.7 329.3,631.2 326.9,584.8 323.9,595.1 338.6,620.6 332.3,652.5 419.5,612.7 320.2,619.9 357.7,640.8 308.6,631.6 292.2,570.1 340.1,635.2 390.4,640.9 463.9,620.8 346.6,623.2 463.4,596.5 319.9,664.7 440.2,606.5 409.8,654.9 471.2,672.1 403.1,603.2 431.4,629.8 344.7,639.4 455.2,648.2 350.7,612.9 480.1,634.7 442.8,624 302.6,613.8 356.8,673.8 363.3,610.7 477.5,609.3 285.7,628.5 383.5,677.9 284.9,645.8 469.9,642.7 297.1,593.3 433.2,622.5 469,633.1 430.4,632.4 419.2,586.6 407.9,673 371.7,673 329.9,650.6 327.5,648.8 472.9,653.1 412,624.8 374.3,639.4 427.5,616.2 393.2,644 397.3,670.8 344.4,634.5 348.3,595.8 440.8,542 315.7,604.2 314.7,637.2 404.8,641.4 466.2,672.1 315,616.4 425.2,606.2 432.2,639.1 463.8,641.1 285.8,574.6 481,649.5 382.2,675 392.4,675.7 303.3,620.7 376.7,664.1 449,615.2 437.1,620.3 469,614.9 342.5,679 413.5,652.5 342.7,642.2 314.7,614.6 431.2,578.8 341.1,635.6 353.2,673.9 482.3,657.3 363,689.6 381.9,672.9 434.7,615.3 415.8,650.2 403.2,673.3 350.4,639.1 297.5,636.5 426.2,642.9 455.5,633 425.2,650.3 427.3,637.2 376.7,644.7 369.8,624.5 295.5,620.7 318.3,616.9 290.1,599.4 329.9,611.6 317.9,612.9 417.5,644.8 363.3,661 306.2,687.7 290.4,632.9 467.5,643.9 352.5,627.7 457.9,632.5 482.6,628 329.3,633.9 348.3,618 483.4,610.1 329.6,636.7 427.7,602.1 308.4,545.8 384.3,673.4 281.4,645.9 294.3,615.9 364.8,646 286.9,627.6 338.6,657.2 307.2,646 299.6,629.3 374.1,648.6 304,599.6 286.2,620.1 430.2,613.9 444.4,628.7 315,608 470.4,640.9 336.1,643.1 401.8,642 366.2,702.8 315.2,611.7 472,599.2 345.9,648.4 284.9,646.8 473.7,635.8 483.8,616.2 455.9,601.4 314.2,638.4 357.8,626.5 371.2,650.7 455.9,624.7 400.7,684 400.9,636.4 401.1,649.8 460.5,645.1 367.6,670.7 463.3,614.8 428.5,650.7"/><g fill="#ff1493"><circle cx="281.7" cy="623.8" r="2.6"/><circle cx="284.3" cy="628.7" r="2.6"/><circle cx="286.9" cy="630.1" r="2.6"/><circle cx="289.5" cy="622.9" r="2.6"/><circle cx="292.2" cy="630.7" r="2.6"/><circle cx="294.8" cy="631" r="2.6"/><circle cx="297.4" cy="620.7" r="2.6"/><circle cx="300" cy="621.9" r="2.6"/><circle cx="302.6" cy="636.2" r="2.6"/><circle cx="305.2" cy="626.2" r="2.6"/><circle cx="307.8" cy="622.5" r="2.6"/><circle cx="310.5" cy="634.4" r="2.6"/><circle cx="313.1" cy="628.1" r="2.6"/><circle cx="315.7" cy="627.7" r="2.6"/><circle cx="318.3" cy="626.2" r="2.6"/><circle cx="320.9" cy="634.8" r="2.6"/><circle cx="323.5" cy="629.3" r="2.6"/><circle cx="326.1" cy="631.2" r="2.6"/><circle cx="328.8" cy="622.4" r="2.6"/><circle cx="331.4" cy="629.8" r="2.6"/><circle cx="334" cy="626.8" r="2.6"/><circle cx="336.6" cy="627.2" r="2.6"/><circle cx="339.2" cy="627" r="2.6"/><circle cx="341.8" cy="631" r="2.6"/><circle cx="344.4" cy="623.6" r="2.6"/><circle cx="347.1" cy="633.3" r="2.6"/><circle cx="349.7" cy="626.2" r="2.6"/><circle cx="352.3" cy="648.1" r="2.6"/><circle cx="354.9" cy="653.1" r="2.6"/><circle cx="357.5" cy="664.9" r="2.6"/><circle cx="360.1" cy="660" r="2.6"/><circle cx="362.7" cy="662.1" r="2.6"/><circle cx="365.4" cy="657.3" r="2.6"/><circle cx="368" cy="656.8" r="2.6"/><circle cx="370.6" cy="662.1" r="2.6"/><circle cx="373.2" cy="659.4" r="2.6"/><circle cx="375.8" cy="656.5" r="2.6"/><circle cx="378.4" cy="670.4" r="2.6"/><circle cx="381" cy="667.4" r="2.6"/><circle cx="383.7" cy="661.1" r="2.6"/><circle cx="386.3" cy="660.9" r="2.6"/><circle cx="388.9" cy="661.5" r="2.6"/><circle cx="391.5" cy="661.3" r="2.6"/><circle cx="394.1" cy="658.6" r="2.6"/><circle cx="396.7" cy="662.9" r="2.6"/><circle cx="399.3" cy="664.8" r="2.6"/><circle cx="402" cy="654.7" r="2.6"/><circle cx="404.6" cy="658.1" r="2.6"/><circle cx="407.2" cy="659" r="2.6"/><circle cx="409.8" cy="651" r="2.6"/><circle cx="412.4" cy="627.3" r="2.6"/><circle cx="415" cy="627.6" r="2.6"/><circle cx="417.6" cy="630.5" r="2.6"/><circle cx="420.3" cy="626.5" r="2.6"/><circle cx="422.9" cy="631.9" r="2.6"/><circle cx="425.5" cy="631.7" r="2.6"/><circle cx="428.1" cy="626.8" r="2.6"/><circle cx="430.7" cy="627.9" r="2.6"/><circle cx="433.3" cy="626.4" r="2.6"/><circle cx="435.9" cy="627.4" r="2.6"/><circle cx="438.6" cy="623.1" r="2.6"/><circle cx="441.2" cy="626.2" r="2.6"/><circle cx="443.8" cy="631.1" r="2.6"/><circle cx="446.4" cy="621.6" r="2.6"/><circle cx="449" cy="632.3" r="2.6"/><circle cx="451.6" cy="623.8" r="2.6"/><circle cx="454.2" cy="620.6" r="2.6"/><circle cx="456.9" cy="626.1" r="2.6"/><circle cx="459.5" cy="629.6" r="2.6"/><circle cx="462.1" cy="639.9" r="2.6"/><circle cx="464.7" cy="628.8" r="2.6"/><circle cx="467.3" cy="626.1" r="2.6"/><circle cx="469.9" cy="627.4" r="2.6"/><circle cx="472.5" cy="630.4" r="2.6"/><circle cx="475.2" cy="622" r="2.6"/><circle cx="477.8" cy="624.1" r="2.6"/><circle cx="480.4" cy="627.3" r="2.6"/><circle cx="483" cy="621.6" r="2.6"/></g><polyline fill="none" stroke="#c71585" stroke-opacity="1.0" stroke-width="1.9" stroke-linejoin="round" points="280.4,628.3 281.2,628.3 282,628.3 282.8,628.3 283.5,628.3 284.3,628.3 285.1,628.3 285.9,628.3 286.7,628.3 287.5,628.3 288.3,628.3 289.1,628.3 289.8,628.3 290.6,628.3 291.4,628.3 292.2,628.3 293,628.3 293.8,628.3 294.6,628.3 295.4,628.3 296.1,628.3 296.9,628.3 297.7,628.3 298.5,628.3 299.3,628.3 300.1,628.3 300.9,628.3 301.7,628.3 302.4,628.3 303.2,628.3 304,628.3 304.8,628.3 305.6,628.3 306.4,628.3 307.2,628.3 308,628.3 308.7,628.3 309.5,628.3 310.3,628.3 311.1,628.3 311.9,628.3 312.7,628.3 313.5,628.3 314.3,628.3 315,628.3 315.8,628.3 316.6,628.3 317.4,628.3 318.2,628.3 319,628.3 319.8,628.3 320.6,628.3 321.3,628.3 322.1,628.3 322.9,628.3 323.7,628.3 324.5,628.3 325.3,628.3 326.1,628.3 326.8,628.3 327.6,628.3 328.4,628.3 329.2,628.3 330,628.3 330.8,628.3 331.6,628.3 332.4,628.3 333.1,628.3 333.9,628.3 334.7,628.3 335.5,628.3 336.3,628.3 337.1,628.3 337.9,628.3 338.7,628.3 339.4,628.3 340.2,628.3 341,628.3 341.8,628.3 342.6,628.3 343.4,628.3 344.2,628.3 345,628.3 345.7,628.3 346.5,628.3 347.3,628.3 348.1,628.3 348.9,628.3 349.7,628.3 350.5,635.2 351.3,642.7 352,648.1 352.8,652.9 353.6,655.2 354.4,656.3 355.2,657.1 356,657.8 356.8,658.4 357.6,658.9 358.3,659.3 359.1,659.7 359.9,660.1 360.7,660.5 361.5,660.8 362.3,661.1 363.1,661.3 363.8,661.6 364.6,661.8 365.4,662.1 366.2,662.3 367,662.4 367.8,662.6 368.6,662.8 369.4,662.9 370.1,663.1 370.9,663.2 371.7,663.3 372.5,663.4 373.3,663.5 374.1,663.6 374.9,663.7 375.7,663.8 376.4,663.8 377.2,663.9 378,663.9 378.8,664 379.6,664 380.4,664 381.2,664 382,664 382.7,664 383.5,664 384.3,664 385.1,663.9 385.9,663.9 386.7,663.8 387.5,663.8 388.3,663.7 389,663.6 389.8,663.5 390.6,663.4 391.4,663.3 392.2,663.2 393,663.1 393.8,662.9 394.6,662.8 395.3,662.6 396.1,662.4 396.9,662.2 397.7,662 398.5,661.8 399.3,661.6 400.1,661.3 400.9,661 401.6,660.7 402.4,660.4 403.2,660 404,659.7 404.8,659.3 405.6,658.8 406.4,658.3 407.1,657.7 407.9,657 408.7,656.2 409.5,655 410.3,652 411.1,647.3 411.9,641.7 412.7,633.5 413.4,628.3 414.2,628.3 415,628.3 415.8,628.3 416.6,628.3 417.4,628.3 418.2,628.3 419,628.3 419.7,628.3 420.5,628.3 421.3,628.3 422.1,628.3 422.9,628.3 423.7,628.3 424.5,628.3 425.3,628.3 426,628.3 426.8,628.3 427.6,628.3 428.4,628.3 429.2,628.3 430,628.3 430.8,628.3 431.6,628.3 432.3,628.3 433.1,628.3 433.9,628.3 434.7,628.3 435.5,628.3 436.3,628.3 437.1,628.3 437.9,628.3 438.6,628.3 439.4,628.3 440.2,628.3 441,628.3 441.8,628.3 442.6,628.3 443.4,628.3 444.1,628.3 444.9,628.3 445.7,628.3 446.5,628.3 447.3,628.3 448.1,628.3 448.9,628.3 449.7,628.3 450.4,628.3 451.2,628.3 452,628.3 452.8,628.3 453.6,628.3 454.4,628.3 455.2,628.3 456,628.3 456.7,628.3 457.5,628.3 458.3,628.3 459.1,628.3 459.9,628.3 460.7,628.3 461.5,628.3 462.3,628.3 463,628.3 463.8,628.3 464.6,628.3 465.4,628.3 466.2,628.3 467,628.3 467.8,628.3 468.6,628.3 469.3,628.3 470.1,628.3 470.9,628.3 471.7,628.3 472.5,628.3 473.3,628.3 474.1,628.3 474.9,628.3 475.6,628.3 476.4,628.3 477.2,628.3 478,628.3 478.8,628.3 479.6,628.3 480.4,628.3 481.2,628.3 481.9,628.3 482.7,628.3 483.5,628.3 484.3,628.3"/><polyline fill="none" stroke="#c71585" stroke-opacity="0.5" stroke-width="1.9" stroke-linejoin="round" points="280.4,628.3 281.2,628.3 282,628.3 282.8,628.3 283.5,628.3 284.3,628.3 285.1,628.3 285.9,628.3 286.7,628.3 287.5,628.3 288.3,628.3 289.1,628.3 289.8,628.3 290.6,628.3 291.4,628.3 292.2,628.3 293,628.3 293.8,628.3 294.6,628.3 295.4,628.3 296.1,628.3 296.9,628.3 297.7,628.3 298.5,628.3 299.3,628.3 300.1,628.3 300.9,628.3 301.7,628.3 302.4,628.3 303.2,628.3 304,628.3 304.8,628.3 305.6,628.3 306.4,628.3 307.2,628.3 308,628.3 308.7,628.3 309.5,628.3 310.3,628.3 311.1,628.3 311.9,628.3 312.7,628.3 313.5,628.3 314.3,628.3 315,628.3 315.8,628.3 316.6,628.3 317.4,628.3 318.2,628.3 319,628.3 319.8,628.3 320.6,628.3 321.3,628.3 322.1,628.3 322.9,628.3 323.7,628.3 324.5,628.3 325.3,628.3 326.1,628.3 326.8,628.3 327.6,628.3 328.4,628.3 329.2,628.3 330,628.3 330.8,628.3 331.6,628.3 332.4,628.3 333.1,628.3 333.9,628.3 334.7,628.3 335.5,628.3 336.3,628.3 337.1,628.3 337.9,628.3 338.7,628.3 339.4,628.3 340.2,628.3 341,628.3 341.8,628.3 342.6,628.3 343.4,628.3 344.2,628.3 345,628.3 345.7,628.3 346.5,628.3 347.3,628.3 348.1,628.3 348.9,628.3 349.7,628.3 350.5,638.7 351.3,644.7 352,649.4 352.8,653.8 353.6,656.2 354.4,657.3 355.2,658.1 356,658.8 356.8,659.4 357.6,659.9 358.3,660.4 359.1,660.8 359.9,661.2 360.7,661.6 361.5,661.9 362.3,662.2 363.1,662.5 363.8,662.8 364.6,663 365.4,663.2 366.2,663.4 367,663.6 367.8,663.8 368.6,664 369.4,664.2 370.1,664.3 370.9,664.4 371.7,664.6 372.5,664.7 373.3,664.8 374.1,664.9 374.9,665 375.7,665 376.4,665.1 377.2,665.1 378,665.2 378.8,665.2 379.6,665.2 380.4,665.3 381.2,665.3 382,665.3 382.7,665.3 383.5,665.2 384.3,665.2 385.1,665.2 385.9,665.1 386.7,665.1 387.5,665 388.3,664.9 389,664.9 389.8,664.8 390.6,664.7 391.4,664.5 392.2,664.4 393,664.3 393.8,664.1 394.6,664 395.3,663.8 396.1,663.6 396.9,663.4 397.7,663.2 398.5,663 399.3,662.7 400.1,662.5 400.9,662.2 401.6,661.9 402.4,661.5 403.2,661.2 404,660.8 404.8,660.3 405.6,659.9 406.4,659.3 407.1,658.7 407.9,658 408.7,657.1 409.5,656 410.3,652.9 411.1,648.7 411.9,643.8 412.7,637.6 413.4,628.3 414.2,628.3 415,628.3 415.8,628.3 416.6,628.3 417.4,628.3 418.2,628.3 419,628.3 419.7,628.3 420.5,628.3 421.3,628.3 422.1,628.3 422.9,628.3 423.7,628.3 424.5,628.3 425.3,628.3 426,628.3 426.8,628.3 427.6,628.3 428.4,628.3 429.2,628.3 430,628.3 430.8,628.3 431.6,628.3 432.3,628.3 433.1,628.3 433.9,628.3 434.7,628.3 435.5,628.3 436.3,628.3 437.1,628.3 437.9,628.3 438.6,628.3 439.4,628.3 440.2,628.3 441,628.3 441.8,628.3 442.6,628.3 443.4,628.3 444.1,628.3 444.9,628.3 445.7,628.3 446.5,628.3 447.3,628.3 448.1,628.3 448.9,628.3 449.7,628.3 450.4,628.3 451.2,628.3 452,628.3 452.8,628.3 453.6,628.3 454.4,628.3 455.2,628.3 456,628.3 456.7,628.3 457.5,628.3 458.3,628.3 459.1,628.3 459.9,628.3 460.7,628.3 461.5,628.3 462.3,628.3 463,628.3 463.8,628.3 464.6,628.3 465.4,628.3 466.2,628.3 467,628.3 467.8,628.3 468.6,628.3 469.3,628.3 470.1,628.3 470.9,628.3 471.7,628.3 472.5,628.3 473.3,628.3 474.1,628.3 474.9,628.3 475.6,628.3 476.4,628.3 477.2,628.3 478,628.3 478.8,628.3 479.6,628.3 480.4,628.3 481.2,628.3 481.9,628.3 482.7,628.3 483.5,628.3 484.3,628.3"/><polyline fill="none" stroke="#c71585" stroke-opacity="0.5" stroke-width="1.9" stroke-linejoin="round" points="280.4,628.3 281.2,628.3 282,628.3 282.8,628.3 283.5,628.3 284.3,628.3 285.1,628.3 285.9,628.3 286.7,628.3 287.5,628.3 288.3,628.3 289.1,628.3 289.8,628.3 290.6,628.3 291.4,628.3 292.2,628.3 293,628.3 293.8,628.3 294.6,628.3 295.4,628.3 296.1,628.3 296.9,628.3 297.7,628.3 298.5,628.3 299.3,628.3 300.1,628.3 300.9,628.3 301.7,628.3 302.4,628.3 303.2,628.3 304,628.3 304.8,628.3 305.6,628.3 306.4,628.3 307.2,628.3 308,628.3 308.7,628.3 309.5,628.3 310.3,628.3 311.1,628.3 311.9,628.3 312.7,628.3 313.5,628.3 314.3,628.3 315,628.3 315.8,628.3 316.6,628.3 317.4,628.3 318.2,628.3 319,628.3 319.8,628.3 320.6,628.3 321.3,628.3 322.1,628.3 322.9,628.3 323.7,628.3 324.5,628.3 325.3,628.3 326.1,628.3 326.8,628.3 327.6,628.3 328.4,628.3 329.2,628.3 330,628.3 330.8,628.3 331.6,628.3 332.4,628.3 333.1,628.3 333.9,628.3 334.7,628.3 335.5,628.3 336.3,628.3 337.1,628.3 337.9,628.3 338.7,628.3 339.4,628.3 340.2,628.3 341,628.3 341.8,628.3 342.6,628.3 343.4,628.3 344.2,628.3 345,628.3 345.7,628.3 346.5,628.3 347.3,628.3 348.1,628.3 348.9,628.3 349.7,628.3 350.5,628.3 351.3,640.2 352,646.7 352.8,652.2 353.6,654.4 354.4,655.5 355.2,656.3 356,656.9 356.8,657.5 357.6,658 358.3,658.4 359.1,658.8 359.9,659.2 360.7,659.5 361.5,659.8 362.3,660.1 363.1,660.3 363.8,660.6 364.6,660.8 365.4,661 366.2,661.2 367,661.4 367.8,661.6 368.6,661.8 369.4,661.9 370.1,662 370.9,662.2 371.7,662.3 372.5,662.4 373.3,662.5 374.1,662.6 374.9,662.6 375.7,662.7 376.4,662.8 377.2,662.8 378,662.9 378.8,662.9 379.6,662.9 380.4,662.9 381.2,662.9 382,662.9 382.7,662.9 383.5,662.9 384.3,662.9 385.1,662.9 385.9,662.8 386.7,662.8 387.5,662.7 388.3,662.6 389,662.6 389.8,662.5 390.6,662.4 391.4,662.3 392.2,662.1 393,662 393.8,661.9 394.6,661.7 395.3,661.6 396.1,661.4 396.9,661.2 397.7,661 398.5,660.8 399.3,660.6 400.1,660.3 400.9,660 401.6,659.7 402.4,659.4 403.2,659.1 404,658.7 404.8,658.3 405.6,657.9 406.4,657.4 407.1,656.8 407.9,656.1 408.7,655.3 409.5,654.2 410.3,651.1 411.1,645.8 411.9,639 412.7,628.3 413.4,628.3 414.2,628.3 415,628.3 415.8,628.3 416.6,628.3 417.4,628.3 418.2,628.3 419,628.3 419.7,628.3 420.5,628.3 421.3,628.3 422.1,628.3 422.9,628.3 423.7,628.3 424.5,628.3 425.3,628.3 426,628.3 426.8,628.3 427.6,628.3 428.4,628.3 429.2,628.3 430,628.3 430.8,628.3 431.6,628.3 432.3,628.3 433.1,628.3 433.9,628.3 434.7,628.3 435.5,628.3 436.3,628.3 437.1,628.3 437.9,628.3 438.6,628.3 439.4,628.3 440.2,628.3 441,628.3 441.8,628.3 442.6,628.3 443.4,628.3 444.1,628.3 444.9,628.3 445.7,628.3 446.5,628.3 447.3,628.3 448.1,628.3 448.9,628.3 449.7,628.3 450.4,628.3 451.2,628.3 452,628.3 452.8,628.3 453.6,628.3 454.4,628.3 455.2,628.3 456,628.3 456.7,628.3 457.5,628.3 458.3,628.3 459.1,628.3 459.9,628.3 460.7,628.3 461.5,628.3 462.3,628.3 463,628.3 463.8,628.3 464.6,628.3 465.4,628.3 466.2,628.3 467,628.3 467.8,628.3 468.6,628.3 469.3,628.3 470.1,628.3 470.9,628.3 471.7,628.3 472.5,628.3 473.3,628.3 474.1,628.3 474.9,628.3 475.6,628.3 476.4,628.3 477.2,628.3 478,628.3 478.8,628.3 479.6,628.3 480.4,628.3 481.2,628.3 481.9,628.3 482.7,628.3 483.5,628.3 484.3,628.3"/></g>
<g clip-path="url(#r1)"><g fill="#ff1493" fill-opacity="0.5"><circle cx="281.7" cy="772.8" r="2.6"/><circle cx="284.3" cy="789.1" r="2.6"/><circle cx="286.9" cy="793.8" r="2.6"/><circle cx="289.5" cy="769.8" r="2.6"/><circle cx="292.2" cy="795.5" r="2.6"/><circle cx="294.8" cy="796.6" r="2.6"/><circle cx="297.4" cy="762.5" r="2.6"/><circle cx="300" cy="766.4" r="2.6"/><circle cx="302.6" cy="813.8" r="2.6"/><circle cx="305.2" cy="780.8" r="2.6"/><circle cx="307.8" cy="768.4" r="2.6"/><circle cx="310.5" cy="808.1" r="2.6"/><circle cx="313.1" cy="786.9" r="2.6"/><circle cx="315.7" cy="785.6" r="2.6"/><circle cx="318.3" cy="780.7" r="2.6"/><circle cx="320.9" cy="809.2" r="2.6"/><circle cx="323.5" cy="791.1" r="2.6"/><circle cx="326.1" cy="797.3" r="2.6"/><circle cx="328.8" cy="768.2" r="2.6"/><circle cx="331.4" cy="792.7" r="2.6"/><circle cx="334" cy="782.7" r="2.6"/><circle cx="336.6" cy="783.9" r="2.6"/><circle cx="339.2" cy="783.4" r="2.6"/><circle cx="341.8" cy="796.8" r="2.6"/><circle cx="344.4" cy="772.1" r="2.6"/><circle cx="347.1" cy="804.3" r="2.6"/><circle cx="349.7" cy="780.7" r="2.6"/><circle cx="352.3" cy="782.8" r="2.6"/><circle cx="354.9" cy="775.3" r="2.6"/><circle cx="357.5" cy="807.9" r="2.6"/><circle cx="360.1" cy="787" r="2.6"/><circle cx="362.7" cy="790.7" r="2.6"/><circle cx="365.4" cy="772" r="2.6"/><circle cx="368" cy="768.1" r="2.6"/><circle cx="370.6" cy="784.2" r="2.6"/><circle cx="373.2" cy="773.9" r="2.6"/><circle cx="375.8" cy="763.4" r="2.6"/><circle cx="378.4" cy="809" r="2.6"/><circle cx="381" cy="798.9" r="2.6"/><circle cx="383.7" cy="778.2" r="2.6"/><circle cx="386.3" cy="777.9" r="2.6"/><circle cx="388.9" cy="780.7" r="2.6"/><circle cx="391.5" cy="781.1" r="2.6"/><circle cx="394.1" cy="773.4" r="2.6"/><circle cx="396.7" cy="789.9" r="2.6"/><circle cx="399.3" cy="798.7" r="2.6"/><circle cx="402" cy="768.1" r="2.6"/><circle cx="404.6" cy="783.6" r="2.6"/><circle cx="407.2" cy="792.1" r="2.6"/><circle cx="409.8" cy="776.3" r="2.6"/><circle cx="412.4" cy="756.6" r="2.6"/><circle cx="415" cy="785.2" r="2.6"/><circle cx="417.6" cy="795.2" r="2.6"/><circle cx="420.3" cy="781.6" r="2.6"/><circle cx="422.9" cy="799.8" r="2.6"/><circle cx="425.5" cy="799.2" r="2.6"/><circle cx="428.1" cy="782.9" r="2.6"/><circle cx="430.7" cy="786.4" r="2.6"/><circle cx="433.3" cy="781.5" r="2.6"/><circle cx="435.9" cy="784.7" r="2.6"/><circle cx="438.6" cy="770.5" r="2.6"/><circle cx="441.2" cy="780.8" r="2.6"/><circle cx="443.8" cy="796.9" r="2.6"/><circle cx="446.4" cy="765.2" r="2.6"/><circle cx="449" cy="801" r="2.6"/><circle cx="451.6" cy="772.8" r="2.6"/><circle cx="454.2" cy="762.2" r="2.6"/><circle cx="456.9" cy="780.2" r="2.6"/><circle cx="459.5" cy="792.2" r="2.6"/><circle cx="462.1" cy="826.3" r="2.6"/><circle cx="464.7" cy="789.4" r="2.6"/><circle cx="467.3" cy="780.2" r="2.6"/><circle cx="469.9" cy="784.7" r="2.6"/><circle cx="472.5" cy="794.6" r="2.6"/><circle cx="475.2" cy="766.7" r="2.6"/><circle cx="477.8" cy="773.7" r="2.6"/><circle cx="480.4" cy="784.3" r="2.6"/><circle cx="483" cy="765.5" r="2.6"/></g><path d="M280.4 787.7H484.3" stroke="#c71585" stroke-width="2" fill="none"/></g>
<rect x="360.5" y="525.5" width="116" height="24.2" rx="2.2" fill="#fff" fill-opacity="0.82" stroke="#cfcfcf" stroke-width="1"/>
<path d="M366.1 536.6h30.6" stroke="#c71585" stroke-width="1.9"/>
<text x="408.1" y="541.2" font-size="14.6" text-anchor="start" textLength="63.8" lengthAdjust="spacingAndGlyphs">TOI-712 c</text>
<text x="384.4" y="727.6" font-size="12" textLength="85" lengthAdjust="spacingAndGlyphs"><tspan font-style="italic">P</tspan><tspan font-style="italic" font-size="8.6" dy="2.2">c</tspan><tspan dy="-2.2"> = 51.70 days</tspan></text>
<path d="M292.2 738.1v-2.3 M292.2 518.3v2.3M305 738.1v-2.3 M305 518.3v2.3M317.8 738.1v-2.3 M317.8 518.3v2.3M330.5 738.1v-2.3 M330.5 518.3v2.3M343.2 738.1v-2.3 M343.2 518.3v2.3M356 738.1v-2.3 M356 518.3v2.3M368.8 738.1v-2.3 M368.8 518.3v2.3M381.5 738.1v-2.3 M381.5 518.3v2.3M394.2 738.1v-2.3 M394.2 518.3v2.3M407 738.1v-2.3 M407 518.3v2.3M419.8 738.1v-2.3 M419.8 518.3v2.3M432.5 738.1v-2.3 M432.5 518.3v2.3M445.2 738.1v-2.3 M445.2 518.3v2.3M458 738.1v-2.3 M458 518.3v2.3M470.8 738.1v-2.3 M470.8 518.3v2.3M483.5 738.1v-2.3 M483.5 518.3v2.3M317.8 738.1v-4.3 M317.8 518.3v4.3M381.5 738.1v-4.3 M381.5 518.3v4.3M445.2 738.1v-4.3 M445.2 518.3v4.3M280.4 727.5h2.3 M484.3 727.5h-2.3M280.4 716.5h2.3 M484.3 716.5h-2.3M280.4 705.5h2.3 M484.3 705.5h-2.3M280.4 694.5h2.3 M484.3 694.5h-2.3M280.4 683.4h2.3 M484.3 683.4h-2.3M280.4 672.4h2.3 M484.3 672.4h-2.3M280.4 661.4h2.3 M484.3 661.4h-2.3M280.4 650.4h2.3 M484.3 650.4h-2.3M280.4 639.3h2.3 M484.3 639.3h-2.3M280.4 628.3h2.3 M484.3 628.3h-2.3M280.4 617.3h2.3 M484.3 617.3h-2.3M280.4 606.3h2.3 M484.3 606.3h-2.3M280.4 595.2h2.3 M484.3 595.2h-2.3M280.4 584.2h2.3 M484.3 584.2h-2.3M280.4 573.2h2.3 M484.3 573.2h-2.3M280.4 562.2h2.3 M484.3 562.2h-2.3M280.4 551.1h2.3 M484.3 551.1h-2.3M280.4 540.1h2.3 M484.3 540.1h-2.3M280.4 529.1h2.3 M484.3 529.1h-2.3M280.4 540.1h4.3 M484.3 540.1h-4.3M280.4 584.2h4.3 M484.3 584.2h-4.3M280.4 628.3h4.3 M484.3 628.3h-4.3M280.4 672.4h4.3 M484.3 672.4h-4.3M280.4 716.5h4.3 M484.3 716.5h-4.3" stroke="#1a1a1a" stroke-width="0.9" fill="none"/>
<rect x="280.4" y="518.3" width="203.9" height="219.8" fill="none" stroke="#1a1a1a" stroke-width="1.25"/>
<path d="M292.2 824.4v-2.3 M292.2 751v2.3M305 824.4v-2.3 M305 751v2.3M317.8 824.4v-2.3 M317.8 751v2.3M330.5 824.4v-2.3 M330.5 751v2.3M343.2 824.4v-2.3 M343.2 751v2.3M356 824.4v-2.3 M356 751v2.3M368.8 824.4v-2.3 M368.8 751v2.3M381.5 824.4v-2.3 M381.5 751v2.3M394.2 824.4v-2.3 M394.2 751v2.3M407 824.4v-2.3 M407 751v2.3M419.8 824.4v-2.3 M419.8 751v2.3M432.5 824.4v-2.3 M432.5 751v2.3M445.2 824.4v-2.3 M445.2 751v2.3M458 824.4v-2.3 M458 751v2.3M470.8 824.4v-2.3 M470.8 751v2.3M483.5 824.4v-2.3 M483.5 751v2.3M317.8 824.4v-4.3 M317.8 751v4.3M381.5 824.4v-4.3 M381.5 751v4.3M445.2 824.4v-4.3 M445.2 751v4.3M280.4 824.4h2.3 M484.3 824.4h-2.3M280.4 817.1h2.3 M484.3 817.1h-2.3M280.4 809.7h2.3 M484.3 809.7h-2.3M280.4 802.4h2.3 M484.3 802.4h-2.3M280.4 795h2.3 M484.3 795h-2.3M280.4 787.7h2.3 M484.3 787.7h-2.3M280.4 780.4h2.3 M484.3 780.4h-2.3M280.4 773h2.3 M484.3 773h-2.3M280.4 765.7h2.3 M484.3 765.7h-2.3M280.4 758.3h2.3 M484.3 758.3h-2.3M280.4 751h2.3 M484.3 751h-2.3M280.4 751h4.3 M484.3 751h-4.3M280.4 787.7h4.3 M484.3 787.7h-4.3M280.4 824.4h4.3 M484.3 824.4h-4.3" stroke="#1a1a1a" stroke-width="0.9" fill="none"/>
<rect x="280.4" y="751" width="203.9" height="73.4" fill="none" stroke="#1a1a1a" stroke-width="1.25"/>
<text x="318.1" y="839.2" font-size="13" text-anchor="middle" textLength="16.8" lengthAdjust="spacingAndGlyphs">−5</text>
<text x="381.5" y="839.2" font-size="13" text-anchor="middle">0</text>
<text x="445.2" y="839.2" font-size="13" text-anchor="middle">5</text>
<g clip-path="url(#b2)"><polyline fill="none" stroke="none" marker-start="url(#og)" marker-mid="url(#og)" marker-end="url(#og)" points="661.5,634.9 539.1,661.3 569.3,670.1 534.6,635 675.1,620.7 495.4,619 608.2,673.5 681.4,586.2 571.7,702.9 523.5,677.4 607.2,683.9 663.3,621.7 615.1,656.1 658.9,634.1 579.7,660.7 653.8,620.4 678.8,618.2 616,636 685.1,586.9 685.9,640.2 589.7,662.1 679.4,657.6 524.9,603.8 619.5,678.7 657.3,655.8 591.9,680.5 631,603.1 629,626.1 601.8,666 559.9,644.5 529.3,644.8 521.5,620.3 596,692.8 673.7,649.1 537.7,601 576.9,641.8 554.2,652 600.3,670.5 682.5,597.3 546.9,609.8 582.7,663 541.7,641.3 530.9,625.3 674.4,642 599.7,633.6 545.3,649.2 677.1,643.5 498.2,625.7 591.4,662.2 667.3,631.8 654.9,620.1 570.2,661.2 526.4,622 584.8,658.1 585,658.8 621.9,641.9 688.4,654.1 690.1,647.2 517.2,583.2 493.5,633 683.6,615.7 616.3,692.2 650.7,623.9 536.3,629.9 621,648.9 663.5,643.8 503.6,620.1 682.2,616.9 674.8,601 510.7,641.9 655.9,630.6 530.2,639.2 681.2,673.4 655.1,633.6 626.9,644.6 600.9,652.7 554.1,628.4 597.6,685.6 620.3,658 518.6,614.2 622.7,659.9 603.9,665 508.4,662.3 531.1,646.5 603.5,650.7 595.6,657.4 685.8,604.1 571.3,645 568.1,640.4 508.1,601.8 495.4,635.6 673.5,604.5 568.2,661.2 588.5,642.6 624.9,656.8 525.6,646.3 626.9,672.1 610.5,671 513.9,618.8 582.6,659.5 502.2,613.6 562.2,634.4 631.8,610.9 574.5,647.7 588.8,662.5 544.1,612.1 623.8,683.3 671.8,627.3 663,640.9 582.7,681.1 694.5,638.5 592.5,665.7 502.4,635.1 650.3,619.9 575.8,656.3 540.9,617.9 607.8,648.2 492.7,615.7 554.3,622 605.2,684.8 504.1,661.1 646.1,631.7 566.8,631.8 570.9,658.2 542.9,629.4 559.8,649.7 608.8,673.8 521.8,632.5 690.7,636.6 605.6,692.1 517.8,629.5 585.3,684.3 542.3,650.7 561.1,627.3 654.4,612.2 687.2,610.3 693.6,613.4 567.4,646.7 609.8,657.9 640.5,660.9 526.7,611.4 666.9,605.3 514.4,657.4 617.9,643.4 499.5,609.9 618.7,648 686.9,641.5 547,630.2 559.2,646.3 583.8,657 516.9,597.5 674.9,633.4 673.8,628 692.3,602.6 541.5,574 524.1,638.2 603.1,663.3 669.2,633.3 521.5,626.6 519.1,648.7 686.6,629 546.5,643.2 627.2,632.5 638.8,636.6 584.6,666.7 611.5,654.2 518.3,608.7 540.7,604.4 591.3,659.2 583,644.4 663.1,657.9 570.2,646.8 549.2,624.8 583.4,669 675,558.9 547,612.3 518.4,638 549.3,596.4 557.6,626.1 492.2,643.1 599.6,642.1 644.2,604.8 558.1,617.8 550.5,625.3 549,626.2 545.6,618.8 570.6,687.7 657.4,586.7 688.8,622.9 507.1,666.6 510,592.8 585.4,676.5 574.5,658.7 613.4,659.4 500.4,615.5 505.2,629.8 616.4,656.2 534,634.4 643.1,615.9 630.5,669.2 528.8,656.2 634.2,616.2 604,665.2 648.3,633.9 666.5,624.5 501.5,650.3 542.1,650.1 564.4,728.7 602.4,637.3 626.4,648.8 586.4,662.3 568.6,663.8 579,644.3 693.6,620.1 578.5,682.4 616.1,672.2 532.6,625.6 643.3,658.2 528.7,639.5 677.3,648 655.6,632.1 683.8,619.2 623.7,653 516.5,622.1 691.9,620.2 593.5,680.6 549.9,648.9 593.5,727.3 615.5,624.9 644.3,647 622.8,661.7 527.1,635.9 610.8,634.5 609.7,644.2 613.1,659.6 600.5,671.7 576.3,675.2 576.3,659.9 665,654.7 606.3,624 504.7,649 650.6,628.1 604.2,652.3 558,610.5 574.6,653.7 583.8,666.5 591.3,626 696.3,608.5 642.8,601.6 693.1,565.8 659.4,640.4 637,599.4 529.3,634.7 555.3,633.5 551.5,641.6 536.9,644.6 643.4,616 615.2,686.1 496.4,633.2 617.4,658.3 521.3,656.6 600.5,620.5 574.8,676.9 614.7,665.6 498.7,628.5 493.8,587.6 535.7,634.1 624.6,660.2 558.4,610.3 643.1,634.8 646.7,597 646.6,633.6 496.5,627.8 518.3,609.3 585.4,675.1 554.7,645.1 690,612.9 635.4,643.1 598.3,661.4 515.4,632.9 679.4,645 599.2,719.1 521.4,631.6 686.8,646.5 494.8,603.5 556.7,619 572.3,670.8 582.2,670.5 527,632 621.7,667.9 527,640.2 586.1,679.4 562,658.3 618.5,653.1 558.4,652.8 689,626.3 576.3,625.7 568.8,674.5 544,627.7 549.7,606.2 568,667.6 555.4,609.8 513,574.1 511.7,620.1 635,628.9 611,611 670,629.3 623.1,650.7 598.8,658 534.4,637 564.4,646.4 590.7,701.7 589,613.3 633,640.7 503.9,632.1 690.7,633.8 621.5,629.4 645.3,627.8 513.5,608.9 615.7,644.4 532.4,643.1 625.8,665.7 581.3,637.5 594,660.8 491.8,623.2 633.7,652.4 680.4,619.3 654.2,618.5 635.8,638.9 689.9,648.8 643,630.2 625.2,688.6 655.1,627.8 523.8,625.5 533.1,615.5 618.6,646.5 534.8,634 505.5,624.3 581,675.7 589.4,630.8 501.5,627.4 632.1,634.4 607.2,650 523.6,638.9 597.9,653 675.7,612.2 520.7,616.7 645.5,598.2 630.8,632.2 569.6,657.2 681.6,656.3 636.8,641.9 549.8,614.4 614.2,652.4 648.9,619.9 659.2,606.3 522.8,614 520.3,637.1 648.6,593.2 565.2,641.4 624.6,634.4 561.6,622.6 669.5,605.8 611.3,676.1 537.7,633.6 522.9,633.8 598.7,663.6 609.3,647.9 532.9,618.2 558.4,606.5 652.3,637.4 682.2,630.7 524.5,621.6 524.7,617.3 580.5,671 514.1,635.1 638.4,619.8 588.3,631.9 687.7,669.3 511.2,625.5 591,656.9 528.1,627.5 503,639.1 598.5,649.4 657.6,629.8 676.7,635.7 626.7,631.9 560.3,659.1 658.1,631.3 652.2,607 672.4,617.5 513.2,643.2 534,645.8 620.9,652.9 662.5,628.4 635,602.3 667.3,624.5 615.7,669.6 576.7,639.6 668,616.2 609.6,655.6 644.3,623.7 639.6,591.9 597.3,673.3 500.1,628.6 661.5,612.7 596.1,629 674.8,673 690.6,629.2 544.3,629.7 587.3,667 658.4,628.4 593.8,648.8 559.5,657.4 696.3,656.7 539.3,609.7 681.5,642.4 668.8,666.4 667.2,634.1 573.7,649.3 569.1,654.8 536.5,628 498.7,643.5 683.9,571.3 667.9,640.7 516.2,648.5 673.5,656.8 657.6,611.1 665.4,634.2 592.7,644.8 585.8,648.8 600.8,664.8 599.6,672.6 678.4,647.4 585.1,676.7 617.5,662.4 562.1,646.4 550.7,615 577.9,683.1 671.3,605.5 559,624.3 513.8,650.5 531.9,624.4 569.9,628.4 626.1,607.9 628.4,601.9 583.2,694.5 647,642.8 680.9,627 514.8,638.5 555.9,602.6 502.7,616.4 668.2,610.8 691.6,625.7 569,693 688.7,631.2 609.8,666.3 599.3,669.8 678.4,573 636.7,650 568.4,653.2 636.6,624.2 573.1,654.4 529,620.6 688.9,616 498.2,626 492.7,632.5 562.1,662.2 558.9,645.5 504.1,624.2 621.7,678.3 559.4,636 514,628.9 544.3,634.8 644.7,625.7 534.7,628 647,628.9 671,632 569.6,654.9 578.6,663.6 527.9,606.6 575.1,673 624.5,648.1 586.3,666 537.7,621.4 614.9,607.6 500.3,681.6 650,605.9 592.1,647.8 678.7,609.3 502.4,650.9 577.5,632.9 653.1,612.3 560.9,648.9 631.6,601.7 637,660.6 492.2,617.4 591.3,633.3 690.1,650.8 633,607.4 583,638.4 613.9,658.9 644.7,641.2 591.9,714.8 673.4,664.5 531.2,639.7 695.6,608.4 554.2,636.6 549.4,612.6 527.7,631.7 571.7,660.3 561.9,636.7 660.3,610.8 646.3,628.2 577.3,646.4 633.4,639.1 551.5,642.4 572.5,645.1 680.7,616.6 663.6,657.6 694.2,630.3 560.1,625.1 657.7,637.2 659.9,653.5 661.8,634.1 626,698.1 534.1,623.9 534.8,615.5 645.2,598.9 500.7,619.3 543.1,617.5 507.8,611.9 531.5,632.5 634.2,629.5 653.7,653 518,607.8 612.9,667.9 677,624.7 492.6,653.1 606.4,658.6 618,661.9 684,612.4 622,634.2 579.9,663 571.6,693.4 639.1,632.5 515.3,683.4 624.3,626.9 626.7,664.6 581.1,643.2 568.6,653.5 631.7,640.5 621.7,678.7 624.7,651 688.2,660 531.6,599.1 659.5,624.3 499.1,672.9 565.5,716.2 500.6,610.7 573.1,662.9 509.5,642.3 552.3,618.9 648.1,613.8 637.4,655 645.4,613.6 618.4,646.1 552.1,626 530.9,639.1 567.4,668.2 633.4,672.3 595.3,646.9 600.6,658.1 638.2,619.1 616.4,627.4 687.4,647.6 574.2,653.8 538.1,635 637,628 530.7,627 616.7,673.9 660.4,650.2 582.2,657 495,619.3 549.5,665.2 653.9,634.2 695.1,602.1 671.5,596.5 618.1,717.4 530.6,617 659.1,632.9 619.1,665.5 521.7,620 653.3,655.5 607.1,630.8 509,608.3 658.4,667 585.6,652.1 501.3,601.6 527.2,621.7 592.9,693.2 663,648.6 534.3,652.5 621.1,657.6 577.4,640 690.8,625.9 504,609.3 614.1,643.5 594.9,647.6 531.2,588.7 685.9,634 548.2,652.4 666,614.9 661.1,624.9 635.2,655.1 573.7,668.5 564.7,669.2 591.5,653.7 661.3,638.1 652.4,650 547.1,650.5 508.5,646.8 688.2,602.9 587.2,682.4 640.9,646.5 680,623.9 565.9,668.4 531.7,630.9 552.7,635.6 542.2,608.9 493.9,627 669.8,641.7 613.3,703.1 616.3,646.6 577.3,664.8 558.3,609.2 628.1,627.5 622.3,654.2 562.9,624.9 617.1,636.9 596.5,685.1 551.3,632.1 543.6,625.9 514.4,636.1 599.3,670.8 503.4,630.5 565.6,649.7 611.2,653.7 558.5,629.5 635.6,634.6 640.6,623.1 513.9,628.5 625.8,670.5 567.8,660.8 673.7,610.4 563.8,667.9 608,646.3 615.9,650.2 533.8,621.5 524.2,641.6 508.3,629 538.3,647.4 688.5,573.4 632.4,639.7 536.1,626.4 612.3,657.1 617.4,693.6 513.7,675.9 626.2,630.5 644.9,640.9 558.3,614.5 619.2,686.3 681.1,616.6 529,636 616.6,641.3 504,646.8 513.8,614.2 511.4,631.4 670.3,619.7 508.6,648.4 545.4,628.6 580.3,654.2 621.9,622.9 670.4,625.4 566.4,648.5 502.6,639.7 617.5,663.4 529.7,632.6 636.9,633.7 574.1,665.4 614.7,663.8 505.4,636.4 671.9,605.9 553.1,628.3 676.5,650.8 608.8,652 578.7,662.3 662.8,605.5 605,669.7 524.4,624.8 622.2,668.8 617.5,629.2 573.7,678.5 513.5,638.7 639.7,624.6 643.9,613.4 562.5,633.4 613,656.9 685.9,657.4 567.8,643.4 652.6,611.3 665.6,669.1 679.2,610.8 534.7,640.7 506.2,651.5 655.5,652.4 650.3,629.2 568,663.8 550,629.9 606.3,639.3 617.4,673.7 591.1,641.8 645.7,613.9 582.6,681.2 644.4,643.3 621.2,631.2 667.2,627.6 613.3,657.4 512.4,602.9 546,625.8 558.7,632.9 629.6,628.9 591.9,669.2 547.3,645.1 635.2,616.6 543.6,644.4 577.6,673.9 655.5,615.9 688.6,658.8 492.3,605.8 588.4,670.8 511.8,616.2 620.8,671.4 649.1,618.3 644.4,645 646.3,614.4 632.3,662.6 625.8,634.3 681.4,631.4 554.3,612.4 657.5,640.9 663.6,631.9 543,627.9 596.5,649.1 635.5,652.5 527.4,645.9 553.6,638.6 540.9,617.9 570.9,640.9 498.2,631.4 611.6,683 611.3,668.1 624.1,685.9 558.3,635.6 504.5,633.8 663.9,630.2 557,631.5 571.3,653.5 635.4,632.2 623.9,658.3 619,647.8 676.9,651.2 581,651.3 503.8,638.9 555.5,618.5 513.6,623.8 660,646 626.2,649.1 682.2,615.3 679.4,629.2 675.4,625.5 633.3,627.7 683.4,621.9 618.3,673.1 622.9,675.2 649.5,627.9 614.8,656.8 539.8,583.7 635.4,635.1 548,608 549,611.3 685.3,612.6 670,635.9 542.8,615.6 513.9,640.7 641.8,625.7 579,662.7 685.9,616.1 603.9,659.8 636.7,633.7 600.8,648 544.6,648.6 567.6,647.3 521,618.2 606.6,642.4 655.8,644.7 598.2,655.2 667.9,617.3 612.3,650.3 565.4,643.7 695,595.6 599.4,643.5 666.8,590.8 494.5,634.9 609.7,621.8 492.2,641.6 513.1,640.9 689.2,607.4 618.9,634.6 691.6,614.8 654.4,635.7 596.9,665.6 616.8,676.1 631.5,611.4 599.1,669.2 693.2,632.1 650.8,632.4 616.5,656.7 537.6,637.3 594.6,678.8 546.2,634.8 683.5,616.9 527.4,594.1 627.8,615.1 686.4,642.1 609.1,651.8 504.7,643.4 498.8,621.9 631.7,619 561.2,666.4 679.6,617.1 597.2,675.8 494.5,630.7 593,679.3 637,655.3 496,669.6 645.8,637.1 667.1,636.9 598.6,642.3 597.4,658.5 560.2,648.1 659.7,621.3 506.6,637.9 585.4,650 620.4,661.4 686.5,603.5 548.7,613.1 629.6,633.5 539.7,628.6 613.5,665.4 508.2,639.6 530.2,619.9 518.3,618.6 600.7,684.5 550.4,629.4 668.9,643.2 524.6,615 635.4,619.8 624.1,657.3 627.2,637.3 520.4,609.1 561.3,623.6 661.3,645.2 621.7,672.3 554,635.5 614,678.2 594.7,689.1 605.4,658 687.1,640.1 555.8,625.4 578.6,656.9 693,607.7 549.8,620.9 681.1,616 566.3,667.7 694.6,648.9 493,601.7 511.2,623.9 640,640.3 655.9,666.7 692.5,602 563.1,663.6 596.4,652.3 673.6,623.4 518.3,622.2 517.8,614.9 644,646.6 687.4,631.9 596.7,689.5 607.6,657.4 528.2,640.4 531.1,631.4 530.7,637.5 586.1,626.5 579.2,642.7 681.1,623.4 679,611.3 559.7,698.3 683.1,654.4 509.5,632.9 524.6,625.7 656.3,624.6 538.6,637.3 517.5,632 606.6,639.5 651.2,622.1 496,590.2 685.5,632.7 648.6,656.2 529.9,637.1 529.6,667.8 674.8,654.1 606.3,673.7 668.6,613.5 608.2,684.7 535.9,610 594,658.2 647.4,638.5 645.6,628.9 518.5,629.4 502.8,608.5 597.8,644 543.5,635.5 593.6,675.2 677.9,629.5 582,624.6 597.3,661.4 554.8,630.7 527.5,618.4 636.5,613.3 599.8,660.7 648.9,659.6 576,660.2 660.6,633.1 522.5,601.6 690.8,623.4 636.5,656 535.9,601.9 533.5,611.4 630.8,586.2 663.6,599.3 592.8,629.8 672.3,608.9 641.5,621.2 650.5,612.7 623.1,631.8 584.9,643.4 523.9,641.9 557.3,635.6 523.8,604.9 650.7,622.5 667.5,612.6 663.3,627 615.3,638.2 551.2,605 557.8,623.9 695.2,587.8 527.6,644.6 641.3,629.1 604,671.4 539.2,629.2 567.3,646.6 561.4,667.2 580,628.1 591.7,628.2 507.1,585.7 582.2,682.3 528.7,634.6 690,623.7 555.2,613.7 663.9,644.4 678.1,622.3 607.2,625 570.7,651.2 586.9,646.6 491.8,613 560,617.2 501.6,617.9 680.5,653.7 578.8,658.2 549.6,617.7 581,666.4 674.5,633.8 567.1,628.7 609.6,644.3 556,637.3 509.8,602.4 527.7,630 542.6,616.8 635.9,639.6 553.8,637.4 578.1,650 616.4,654.2 551.6,623.9 646.4,645.3 599.4,685.2 599.3,614.6 500.6,663.4 522,619.5 563.7,669.9 541.5,699.4 576.5,663 661,633.4 610.8,658.4 512.9,629.9 623.1,679.1 618.6,674.9 618,659.6 513.9,619.3 607.8,674 630.1,651.2 508.8,615.8 618.4,666 583.7,687.4 569.1,632.9 691.5,641.9 587.4,657 579.6,659.7 665.2,633.4 545.8,624.7 508.8,615.4 661.3,605.9 657.6,649.9 596.3,665.6 683.6,604.5 614.2,632.1 602.5,654.1 533.4,627.3 502.7,605.3 526.4,640.9 540.4,612.1 614.9,644.3 555.9,612.9 525,635.6 641.1,632.2 688.6,632.5 597.5,664.1 508.7,628.9 554.1,616.4 504.8,595.3 693.7,644.2 563.4,629.7 630.1,629.2 642.8,634.4 653,624.8 552.4,611.3 559.7,649.7 596.5,650 513.8,594.6 599.6,667 528.2,647.2 633.5,651.7 619.4,652 649.6,607.1 534.8,607.7 534.1,618.8 570,653.5 661.5,586.6 528.1,599 576.1,681 623,663.6 546.2,660.3 696.1,623.1 515.3,635.2 620.8,653.4 676.9,622.3 569,667.4 540.3,620 615.9,655.5 601.8,656.3 501.5,624.3 628.4,613.6 693.5,623.3 603.5,639.5 663.7,650.5 552.4,637.3 571.1,635.1 598.7,650.4 494.1,615.4 609.1,639.3 688.6,617 587.5,642.1 689.5,597 593.7,670.5 572.2,675.9 629.1,638.1 591.2,660.1 567.2,687.7 639.7,621.1 678.9,648.6 573,666.6 635.1,632.3 649,630.3 587.5,662.6 692.8,635 525.4,633 664.4,657.8 517.5,594.9 501.4,623.6 612.6,630.3 631,626.5 492,622 687.4,630.9 576.3,625.6 494,649.8 668.8,597.6 578,642.5 669.7,606.1 553.9,653.9 625.2,676.6 632.6,631.6 597.1,664.2 505,620.6 536.2,655.8 638.2,617.6 534.6,634.2 540.3,667.5 602.1,670.3 594.5,662.1 505,609.4 491.9,580.9 635.6,671.3 671.2,621.2 690.8,598.7 557.6,649.5 535.6,623.1 588,677.3 505.3,627.5 535.9,640.8 586.2,671.9 654.3,663.1 680.6,628.2 554.8,610.6 615.6,716.9 641,648.7 608.7,654 512.6,661.2 548.2,663.6 692.4,631.6 532.8,587 694.4,640.9 574.4,665.5 616.4,657.4 652.9,633.6 507.5,654.5 580.1,660 583,631.8 622.7,645.8 523.3,635.8 587.9,643 635.2,627.9 656.2,604 497.2,644.4 649.4,600.2 689.9,650.2 558.7,626.1 561.9,674 500.1,600.9 551.5,619.5 508.6,635.2 674,623.7 669.7,639.3 576.6,638.3 677.2,628 654.3,630.5 579,666.9 505.7,547.2 658.9,620.4 577.4,656.1 650.4,634.2 645.9,654.4 584.1,634 581.1,653.6 685.3,625.5 544,609.2 563.9,638.6 650.7,627.7 582.5,635.9 653,578.9 566.9,607.5 597.7,653.2 612.4,638.1 503.1,658.5 527.3,647.4 536.5,617.5 533.8,663.1 568.1,643.1 604.9,665.6 607.1,658 686,622 682.8,646.9 683.4,629 581.7,630.2 628.1,657.5 655.8,613.9 576.5,679.7 650.9,618.1 653.3,628.2 686.9,626 524.6,581.8 559.1,610.3 588.9,651 572.7,672.1 549.5,610.4 599.4,648 578.1,675.1 505.7,651.8 546.4,611.2 514.9,648 562,640.8 615.2,653 688.5,630.1 533,625.2 549.8,631.2 599.3,636.6 547.6,649.8 512.5,623.3 677,616.2 634.6,635.1 625.1,677.6 606.4,632.3 665.8,607 623.6,675 674.1,664.2 596.5,628.3 586.5,670 516.2,619.8 580.7,646.6 630.7,630.9 666.6,662.2 686.4,652.5 519.8,626.2 684.4,622.1 630.4,647.4 574.5,636.2 692.6,633.8 573.4,668.1 539.3,647 576.9,666.9 576.1,703.6 543.1,634.8 649.5,647.5 516.6,608.3 671.4,639 509.4,645.5 538.5,644.6 570.9,640.9 528.3,629.6 551.3,616.3 595.3,671.5 615.4,644.6 629.3,661.8 503.2,582.4 511.4,650.6 600.6,665.7 501.3,631.6 685.7,610.4 503,638 498.3,672.8 592.4,657.9 514.5,621.6 606.9,691.4 679,648.7 530.8,620.8 640.2,643.9 675.4,668.1 533.1,609 632.1,638.6 625.7,675.4 562.2,639.2 617.8,670.1 639.6,656.6 676.8,610.6 522.3,636 521.2,609.2 663.2,640.5 508.9,655.8 648.3,644.1 516.9,632 495.4,642.3 662.5,596.6 660,621.9 664.6,642 670.6,641 577.9,624.8 547.1,621 557.1,614.8 568.7,671.8 497.9,627 619.1,629.9 625.4,623.2 624.1,671.8 659.9,627.8 659.5,616.7 598.9,660 568.1,692.5 579.8,665.9 502.8,629.6 556.5,626.4 674.8,622 559.8,640.7 545.8,645.7 648.2,633 635.9,634.5 607.7,658.3 579.3,663.9 506,619.7 626.2,650.2 644.8,654.9 643.9,601.5 613.1,646 625.1,631.7 693.2,620.9 539.4,597.9 533.8,603.4 653.4,609 530.4,626.7 686.6,634.2 678.8,607.9 616.1,681 575.4,666.9 645,613.7 501.3,629.4 655.2,671.3 524.1,634.4 604.5,649.6 679.7,624.4 657.6,627.9 604.3,613.2 534.3,625.3 546.4,637.5 524.1,640.7 693.5,635.5 563.8,626 617.9,574.8 543,617.1 687.3,625.8 562.5,638.3 693.5,613.2 532.1,623.3 676.8,639.6 604,669 641.1,631.2 540.1,641.6 611.3,655.8 496.6,604.9 511.2,604.5 590.9,654.6 669.4,616.1 513.9,608 547.6,646.5 615.3,664.8 644.4,636 595.2,688.5 539,607.6 685,640.4 494.9,634.2 621.3,670.5 533.1,575.3 644.4,654.6 625.7,643.6 678.2,634.1 531.7,606.3 628.7,654.8 673.9,630.9 505,656.9 618.1,670.4 600.7,661.5 563.6,650 502.5,605.4 599.8,664.3 655.2,595.2 558.8,648.3 627.9,601.4 643.1,616.1 649.3,607.1 622.3,625.3 592.1,637.8 594.5,633.5 524.8,647 515.5,632.1 656,622 538.2,665.2 648.8,655.9 569.7,665.1 671.8,627.2 685.6,608.3 684.5,655.8 641.2,596.2 678.6,656 516.2,620.2 513.9,635.4 662.8,621.2 657.4,596.3 532.1,645.1 494.6,609 577.2,651 580.3,663.9 682,618.1 570.6,671.4 498.5,601.5 521.8,638 526.3,636 523.4,600.4 562.6,596.6 654,636.3 505.1,630.1 579.3,687 695.6,632.4 642.7,641.1 524.4,610.5 589.8,665.6 598,679.4 604.9,635.1 501,622.4 576.6,677 584.5,666.2 534.7,594.9 661.8,622.2 587,650.5 596.4,654.9 605.3,675.1 625.6,643.9 554.7,626.7 665.7,602.7 550.3,617.4 547.7,623.4 525.3,619.5 654.7,645.9 588.2,688.4 539.1,617.4 521.8,648.8 665.7,587.4 517.3,620.1 502.9,670.1 661.4,626.6 525.5,635.5 540.1,624.9 541.8,619.6 521.5,610.3 532.9,650.8 670.1,608.4 692.7,637.4 648,652.4 625.7,653.8 576.7,643 531.8,623.4 672.5,612.1 680,610.7 667.6,651.7 672.6,593.2 543.7,646.6 661.2,659.4 597.8,693.6 492.6,636.3 574.5,652.5 678.9,642.3 525.8,616.7 559.2,638.2 512,635 629.9,609.6 575.2,647.4 666.3,640.7 498.8,617.3 669.3,625.5 624.8,638.4 654.2,597.1 521.7,643.9 689.8,646 495.8,654.5 585.8,663.8 615.4,640.3 617.3,647.1 545.8,581 609.6,670.2 669.1,630.6 679,633 519.9,639.8 607.1,657.3 669.5,597.2 551.3,643.8 686.4,629.1 580,656.2 619.4,637.2 533.6,617.3 496.5,605.5 631.1,579 563,663.4 582.3,683.2 520.9,624.9 572.4,649.8 532.2,617.5 542.4,594.9 675.7,641.3 608,657.8 517.9,620.4 572.8,642.6 562.2,683.6 544.4,619.6 547.2,634 678.1,644.4 592.8,677.1 625.8,598.2 557.6,639 636.1,661.2 592.9,675 555.2,624.6 592.3,648.3 634.3,636 511.3,608.7 675.3,606.6 651.7,671.5 524.4,623.8 506.2,599.3 529.4,631.1 516.8,639.5 648.3,641.5 678.5,652.1 566.7,668.2 622.5,676.8 682.6,611.4 610.9,634 632.7,582.6 501.9,655.5 695.4,651.2 664.9,617.7 672.7,607.7 636.7,625.6 602.1,680 527.5,626 607.8,658.6 678.5,632.3 604.7,615.8 551.6,619.3 532.6,651.3 642.5,638.1 503.7,629.8 647.8,670.1 695.8,654.1 553,642 695.4,645.9 618.6,656.6 648.6,644.9 621.3,653.7 495.9,614.9 512.8,584.5 605.8,640.2 620.8,619.1 550.1,615.9 588.3,653.3 518.5,620.5 552.4,622.2 611.4,651.8 559.4,632.7 574.1,634.2 523.7,631.1 533.6,653.2 527.8,624.1 613.8,665.5 522.7,574.6 554.1,625.2 501,593.4 655.8,626.9 665,611.9 531.8,647.1 614.3,655.5 589.2,648.2 507.5,626.4 528.2,624.5 557.3,615.3 585.9,636.1 499.5,627.3 568,679.5 545.2,618.6 683.7,641.9 608.3,656.2 645.3,629.5 585.6,677.2 535.3,582.2 500.2,619 527.5,624.6 644.1,623 658.3,644.5 568.2,671.4 525.6,639.2 532.3,642.2 541.8,606.3 545.6,656.3 620.2,640.4 650.5,621.1 609.3,662.1 600.8,628.2 530.7,628.4 551,624.2 610.4,684.7 550.3,606.7 539.3,673.3 688.5,594.2 492.3,637.9 506.3,619.6 620.1,664.3 677.7,613.5 520.7,632.2 558.2,656.1 521.7,667.8 493.1,616 552,643.1 493.7,651.8 545.7,622.1 672.5,621.5 547.8,618.5 508.7,612.6 531.8,661.8 498,634.9 683,637.7 516.2,651.5 624.2,645.1 516.5,618.9 492.4,647.3 538.6,621.3 688.7,621.8 532.1,612 553.2,621.3 534.6,662.4 625,657.1 537.1,650.2 691.4,627.2 571.5,650.7 595.6,699.6 570.7,670 556.6,651.3 658.5,626.3 572.2,633.1 565.7,690.9 541.9,633.1 520.1,661.9 643.1,631.5 550.6,628.2 491.9,607.3 678.9,645.4 501.1,620 574.1,643 522.3,615.3 591.1,676.4 688.3,660.3 533.5,636.7 506.8,636.6 629.9,631.1 604.6,657.6 684.7,599.9 648.7,639.6 695.9,647.1 504,643.5 694.3,661.8 661.2,638.4 645.1,602.3 651.5,652 620.6,659.7 506.3,622.2 630,640.6 678.7,653.1 549.1,619.9 557.2,596.6 692.4,610.2 510.4,599.7 598.6,670.3 655.7,587.4 491.8,640.1 525.2,622.6 592.5,655.2 556.9,650.7 541.9,613.1 496.2,652.9 590.2,697.4 695,615.9 670.3,611.2 532.9,587.1 632.7,639.8 506.6,619.5 502.8,618.6 563.3,671.6 656.2,607.7 695.5,648.3 682,624.3 526,634.8 693.2,587.5 495.7,610.1 525.6,617.5 579,677.3 523.1,626.4 517.6,627.2 654.5,590.7 520.1,619.9 663.2,623.5 523.2,575.6 531.2,614.9 540.7,655.1 654.2,595.1 674.1,675.8 505.6,613.3 520.1,628 579.6,664.6 599.3,655.4 621,647.8 660.4,626.4 524.3,663.1 567.2,678.9 497.8,652.7 654.8,627.2 633.6,620.3 518.6,617.8 557.4,570 566.7,632.7 665.8,648.6 653.5,656.4 623.7,653.2 507.3,638.6 527.4,644.5 617.3,618.9 633.3,617.2 543.4,645.1 516.7,627.9 588.6,667.8 646.6,663.1 667,647 525.5,590.8 555.3,625.5 560.5,646.2 680.2,620.5 516.2,641.1 693.8,604.7 579.1,633.9 601.4,608.1 637,669.4 691.1,605.6 621.1,698.3 655.3,638.1 510.5,623.3 550.5,633.8 619,660.9 584.7,663.3 674.4,639.1 587.6,650.2 685.7,599.1 575.3,651.3 533.6,654.8 633.2,590.5 591.5,629.4 654.7,641.9 628.8,614.3 562.6,649.8 612.9,626.5 679.8,631.1 523.8,659.1 626.9,646.5 590.8,676.4 688,623.4 692.3,642.5 630.9,628.2 616.4,680.2 599.2,639.4 509.4,645.1 523.8,641.2 676.7,644.8 663.6,615.6 594.8,636.6 506.1,598.8 523.7,623.4 506.9,651.2 515.2,620.3 592,678.3 648.2,632 636,664.5 684.2,612.7 559.5,623.4 528.5,644.9 547.1,625.2 694.4,613.8 524,625.6 557,645.3 537.2,630.5 651.5,599.2 499,628.3 592.9,661 612.9,669.2 513,657.8 618.3,631.9 653.1,626.4 638.4,643.3 612.5,645.2 571.3,676.7 625.1,657.9 594,653.4 649.7,600.4 611.4,670.4 665.5,629.6 620.8,640.3 577.7,687.2 586,643.8 523.6,645.4 674.8,631 594.2,670 528.4,586.6 500.1,660.8 532.2,617.4 610.4,656.3 567,627 618.8,626.4 581.7,694.3 627.7,649.3 504.5,622.6 639.9,631.8 494.9,643.7 612.7,633.8 571.7,645.4 502.6,628.8 559.9,635 687.5,623.3 551.2,641.6 691,596.6 523.9,614.8 573.3,632.8 552.7,625.6 611.7,641 514.3,640.9 530.4,639.1 577,652.9 530.6,644.9 497.2,590.9 560.6,618 677.7,647 637.4,627.9 625.7,647.5 591.7,646.9 504,621.7 539.3,647.9 563.1,656.9 648.2,570.2 656.7,616.1 619.2,653.4 515.8,650 602,612.5 495.3,633.8 635.6,619.2 601.2,641.7 663,627.4 579.1,647.6 583.2,695.9 627,637.4 636.5,659.1 515.3,603.1 643.4,656.6 579.5,654.8 534.4,595.3 555.5,656 679.4,613 593,665.4 513.6,634.4 548.1,638.5 585.7,664.9 672.2,608.9 650.2,620.7 580.6,669.9 663.5,625.1 647.6,629.3 524,638.8 516.3,635 591.1,648 681,615.5 549.5,616.2 521.4,612.1 658.4,624.1 614.7,642.4 555.3,610.2 518,589.3 692.3,621.4 583.2,658 509.5,651.2 690.3,644 502.5,615.9 662.6,654.3 617.6,656.1 495.6,649.1 636.8,608.3 492.4,623.1 492.6,610.5 535,622.7 493.8,618.1 564.1,655.5 590.2,634 582.2,683.5 632.6,632.3 494.3,641.3 537.9,609.4 598.8,582.9 534.5,632.1 683.1,676.1 502.7,627 513,620.7 601.6,632.1 642.7,614.7 560.5,630.2 637.1,617.5 532.2,642.8 629.2,621.8 673.9,608.2 535.8,597.9 576.7,615.3 663.5,627.4 511.2,619.2 607.9,642 614.6,628.4 493.7,655.6 539.7,629.6 494.5,618.6 604,651.9 645.4,641.4 501.8,626.5 682.9,634.5 577.7,635.8 603.6,664.8 570.5,653 652.4,639.1 556.6,639.1 612.3,653 694.8,646.7 600.4,652.4 579,652.8 548.2,606.1 533.3,622.1 528.9,629.9 689.9,616.7 689.2,637.2 578.2,644.8 558.2,648.9 537,624.7 673.3,628.3 542.7,620.6 684.4,620 585.3,666.3 577.3,639.4 506.4,588.7 659.4,613.1 579,658.5 678.2,624.1 604.7,673.2 618.3,647.5 504,629.9 639,612.6 514.9,650 679.1,583.4 692.1,634.5 508.2,636.4 682.8,634 640.9,632.8 587.7,651.7 605.9,705.7 666.4,630.9 504.9,617 570.2,646 580.2,643.4 561.1,654.9 547,605.1 579.9,672.4 689.9,633.9 632.7,629.6 568.4,677.6 524.1,651.5 654.5,623.5 693.5,649.5 579.1,659 494.4,630.9 547.6,633.8 627.9,689.5 654.6,634 673.8,584.7 499.7,615.6 508.3,609.2 504.5,607.6 516.3,641 661.1,633.6 542.7,611.5 575.6,642.3 693.7,599 565.4,642.5 644.3,667.8 613,642.1 511.5,617.8 567.9,680.8"/><g fill="#00ffff"><circle cx="493.1" cy="629.4" r="2.6"/><circle cx="496.2" cy="620.2" r="2.6"/><circle cx="499.3" cy="623.4" r="2.6"/><circle cx="502.4" cy="623.8" r="2.6"/><circle cx="505.5" cy="625.1" r="2.6"/><circle cx="508.6" cy="628" r="2.6"/><circle cx="511.7" cy="625.5" r="2.6"/><circle cx="514.8" cy="622.8" r="2.6"/><circle cx="517.9" cy="623.8" r="2.6"/><circle cx="521" cy="629.4" r="2.6"/><circle cx="524.1" cy="627.7" r="2.6"/><circle cx="527.2" cy="624.4" r="2.6"/><circle cx="530.3" cy="623.7" r="2.6"/><circle cx="533.4" cy="626" r="2.6"/><circle cx="536.5" cy="630.5" r="2.6"/><circle cx="539.6" cy="623.1" r="2.6"/><circle cx="542.8" cy="628.7" r="2.6"/><circle cx="545.9" cy="631.5" r="2.6"/><circle cx="549" cy="634.4" r="2.6"/><circle cx="552.1" cy="628.1" r="2.6"/><circle cx="555.2" cy="629.5" r="2.6"/><circle cx="558.3" cy="637.3" r="2.6"/><circle cx="561.4" cy="653.5" r="2.6"/><circle cx="564.5" cy="657.2" r="2.6"/><circle cx="567.6" cy="650.4" r="2.6"/><circle cx="570.7" cy="649.5" r="2.6"/><circle cx="573.8" cy="656.3" r="2.6"/><circle cx="576.9" cy="662.4" r="2.6"/><circle cx="580" cy="657.3" r="2.6"/><circle cx="583.1" cy="653.4" r="2.6"/><circle cx="586.2" cy="660.5" r="2.6"/><circle cx="589.3" cy="659.2" r="2.6"/><circle cx="592.4" cy="655.5" r="2.6"/><circle cx="595.6" cy="658.2" r="2.6"/><circle cx="598.7" cy="659.9" r="2.6"/><circle cx="601.8" cy="662.9" r="2.6"/><circle cx="604.9" cy="656.2" r="2.6"/><circle cx="608" cy="654.8" r="2.6"/><circle cx="611.1" cy="653.1" r="2.6"/><circle cx="614.2" cy="654.4" r="2.6"/><circle cx="617.3" cy="660.7" r="2.6"/><circle cx="620.4" cy="644" r="2.6"/><circle cx="623.5" cy="655.2" r="2.6"/><circle cx="626.6" cy="645.5" r="2.6"/><circle cx="629.7" cy="626" r="2.6"/><circle cx="632.8" cy="629.9" r="2.6"/><circle cx="635.9" cy="630.5" r="2.6"/><circle cx="639" cy="628.8" r="2.6"/><circle cx="642.1" cy="626.6" r="2.6"/><circle cx="645.2" cy="629.5" r="2.6"/><circle cx="648.4" cy="626.1" r="2.6"/><circle cx="651.5" cy="631.8" r="2.6"/><circle cx="654.6" cy="618.9" r="2.6"/><circle cx="657.7" cy="625" r="2.6"/><circle cx="660.8" cy="627.3" r="2.6"/><circle cx="663.9" cy="626" r="2.6"/><circle cx="667" cy="621.4" r="2.6"/><circle cx="670.1" cy="636.4" r="2.6"/><circle cx="673.2" cy="629.8" r="2.6"/><circle cx="676.3" cy="633.5" r="2.6"/><circle cx="679.4" cy="629.9" r="2.6"/><circle cx="682.5" cy="621.8" r="2.6"/><circle cx="685.6" cy="623.5" r="2.6"/><circle cx="688.7" cy="628.4" r="2.6"/><circle cx="691.8" cy="624.4" r="2.6"/><circle cx="694.9" cy="626" r="2.6"/></g><polyline fill="none" stroke="#2f7bbd" stroke-opacity="1.0" stroke-width="1.9" stroke-linejoin="round" points="491.5,628.3 492.3,628.3 493.1,628.3 493.9,628.3 494.7,628.3 495.5,628.3 496.2,628.3 497,628.3 497.8,628.3 498.6,628.3 499.4,628.3 500.2,628.3 501,628.3 501.8,628.3 502.6,628.3 503.4,628.3 504.2,628.3 505,628.3 505.7,628.3 506.5,628.3 507.3,628.3 508.1,628.3 508.9,628.3 509.7,628.3 510.5,628.3 511.3,628.3 512.1,628.3 512.9,628.3 513.7,628.3 514.5,628.3 515.2,628.3 516,628.3 516.8,628.3 517.6,628.3 518.4,628.3 519.2,628.3 520,628.3 520.8,628.3 521.6,628.3 522.4,628.3 523.2,628.3 524,628.3 524.7,628.3 525.5,628.3 526.3,628.3 527.1,628.3 527.9,628.3 528.7,628.3 529.5,628.3 530.3,628.3 531.1,628.3 531.9,628.3 532.7,628.3 533.4,628.3 534.2,628.3 535,628.3 535.8,628.3 536.6,628.3 537.4,628.3 538.2,628.3 539,628.3 539.8,628.3 540.6,628.3 541.4,628.3 542.2,628.3 542.9,628.3 543.7,628.3 544.5,628.3 545.3,628.3 546.1,628.3 546.9,628.3 547.7,628.3 548.5,628.3 549.3,628.3 550.1,628.3 550.9,628.3 551.7,628.3 552.4,628.3 553.2,628.3 554,628.3 554.8,628.3 555.6,628.3 556.4,628.3 557.2,628.3 558,628.3 558.8,633.1 559.6,637.8 560.4,641.2 561.2,644.1 561.9,646.7 562.7,649.3 563.5,650.4 564.3,651.1 565.1,651.6 565.9,652.1 566.7,652.6 567.5,652.9 568.3,653.3 569.1,653.6 569.9,653.9 570.7,654.2 571.4,654.4 572.2,654.6 573,654.8 573.8,655 574.6,655.2 575.4,655.4 576.2,655.6 577,655.7 577.8,655.9 578.6,656 579.4,656.1 580.1,656.3 580.9,656.4 581.7,656.5 582.5,656.6 583.3,656.7 584.1,656.7 584.9,656.8 585.7,656.9 586.5,656.9 587.3,657 588.1,657 588.9,657.1 589.6,657.1 590.4,657.1 591.2,657.2 592,657.2 592.8,657.2 593.6,657.2 594.4,657.2 595.2,657.2 596,657.2 596.8,657.1 597.6,657.1 598.4,657.1 599.1,657 599.9,657 600.7,656.9 601.5,656.9 602.3,656.8 603.1,656.8 603.9,656.7 604.7,656.6 605.5,656.5 606.3,656.4 607.1,656.3 607.9,656.2 608.6,656 609.4,655.9 610.2,655.8 611,655.6 611.8,655.5 612.6,655.3 613.4,655.1 614.2,654.9 615,654.7 615.8,654.5 616.6,654.2 617.3,653.9 618.1,653.7 618.9,653.4 619.7,653 620.5,652.7 621.3,652.2 622.1,651.8 622.9,651.2 623.7,650.6 624.5,649.6 625.3,647.3 626.1,644.8 626.8,642 627.6,638.7 628.4,634.5 629.2,628.3 630,628.3 630.8,628.3 631.6,628.3 632.4,628.3 633.2,628.3 634,628.3 634.8,628.3 635.6,628.3 636.3,628.3 637.1,628.3 637.9,628.3 638.7,628.3 639.5,628.3 640.3,628.3 641.1,628.3 641.9,628.3 642.7,628.3 643.5,628.3 644.3,628.3 645.1,628.3 645.8,628.3 646.6,628.3 647.4,628.3 648.2,628.3 649,628.3 649.8,628.3 650.6,628.3 651.4,628.3 652.2,628.3 653,628.3 653.8,628.3 654.6,628.3 655.3,628.3 656.1,628.3 656.9,628.3 657.7,628.3 658.5,628.3 659.3,628.3 660.1,628.3 660.9,628.3 661.7,628.3 662.5,628.3 663.3,628.3 664,628.3 664.8,628.3 665.6,628.3 666.4,628.3 667.2,628.3 668,628.3 668.8,628.3 669.6,628.3 670.4,628.3 671.2,628.3 672,628.3 672.8,628.3 673.5,628.3 674.3,628.3 675.1,628.3 675.9,628.3 676.7,628.3 677.5,628.3 678.3,628.3 679.1,628.3 679.9,628.3 680.7,628.3 681.5,628.3 682.3,628.3 683,628.3 683.8,628.3 684.6,628.3 685.4,628.3 686.2,628.3 687,628.3 687.8,628.3 688.6,628.3 689.4,628.3 690.2,628.3 691,628.3 691.8,628.3 692.5,628.3 693.3,628.3 694.1,628.3 694.9,628.3 695.7,628.3 696.5,628.3"/><polyline fill="none" stroke="#2f7bbd" stroke-opacity="0.5" stroke-width="1.9" stroke-linejoin="round" points="491.5,628.3 492.3,628.3 493.1,628.3 493.9,628.3 494.7,628.3 495.5,628.3 496.2,628.3 497,628.3 497.8,628.3 498.6,628.3 499.4,628.3 500.2,628.3 501,628.3 501.8,628.3 502.6,628.3 503.4,628.3 504.2,628.3 505,628.3 505.7,628.3 506.5,628.3 507.3,628.3 508.1,628.3 508.9,628.3 509.7,628.3 510.5,628.3 511.3,628.3 512.1,628.3 512.9,628.3 513.7,628.3 514.5,628.3 515.2,628.3 516,628.3 516.8,628.3 517.6,628.3 518.4,628.3 519.2,628.3 520,628.3 520.8,628.3 521.6,628.3 522.4,628.3 523.2,628.3 524,628.3 524.7,628.3 525.5,628.3 526.3,628.3 527.1,628.3 527.9,628.3 528.7,628.3 529.5,628.3 530.3,628.3 531.1,628.3 531.9,628.3 532.7,628.3 533.4,628.3 534.2,628.3 535,628.3 535.8,628.3 536.6,628.3 537.4,628.3 538.2,628.3 539,628.3 539.8,628.3 540.6,628.3 541.4,628.3 542.2,628.3 542.9,628.3 543.7,628.3 544.5,628.3 545.3,628.3 546.1,628.3 546.9,628.3 547.7,628.3 548.5,628.3 549.3,628.3 550.1,628.3 550.9,628.3 551.7,628.3 552.4,628.3 553.2,628.3 554,628.3 554.8,628.3 555.6,628.3 556.4,628.3 557.2,628.3 558,629 558.8,635.7 559.6,639.4 560.4,642.4 561.2,645.1 561.9,647.5 562.7,650.1 563.5,651.1 564.3,651.9 565.1,652.5 565.9,653 566.7,653.4 567.5,653.8 568.3,654.2 569.1,654.5 569.9,654.8 570.7,655.1 571.4,655.3 572.2,655.6 573,655.8 573.8,656 574.6,656.2 575.4,656.4 576.2,656.5 577,656.7 577.8,656.8 578.6,657 579.4,657.1 580.1,657.2 580.9,657.4 581.7,657.5 582.5,657.6 583.3,657.6 584.1,657.7 584.9,657.8 585.7,657.9 586.5,657.9 587.3,658 588.1,658 588.9,658.1 589.6,658.1 590.4,658.1 591.2,658.2 592,658.2 592.8,658.2 593.6,658.2 594.4,658.2 595.2,658.2 596,658.2 596.8,658.1 597.6,658.1 598.4,658.1 599.1,658 599.9,658 600.7,657.9 601.5,657.9 602.3,657.8 603.1,657.7 603.9,657.7 604.7,657.6 605.5,657.5 606.3,657.4 607.1,657.3 607.9,657.1 608.6,657 609.4,656.9 610.2,656.7 611,656.6 611.8,656.4 612.6,656.2 613.4,656 614.2,655.8 615,655.6 615.8,655.4 616.6,655.1 617.3,654.8 618.1,654.6 618.9,654.2 619.7,653.9 620.5,653.5 621.3,653.1 622.1,652.6 622.9,652 623.7,651.3 624.5,650.4 625.3,648 626.1,645.7 626.8,643.1 627.6,640.2 628.4,636.7 629.2,631.6 630,628.3 630.8,628.3 631.6,628.3 632.4,628.3 633.2,628.3 634,628.3 634.8,628.3 635.6,628.3 636.3,628.3 637.1,628.3 637.9,628.3 638.7,628.3 639.5,628.3 640.3,628.3 641.1,628.3 641.9,628.3 642.7,628.3 643.5,628.3 644.3,628.3 645.1,628.3 645.8,628.3 646.6,628.3 647.4,628.3 648.2,628.3 649,628.3 649.8,628.3 650.6,628.3 651.4,628.3 652.2,628.3 653,628.3 653.8,628.3 654.6,628.3 655.3,628.3 656.1,628.3 656.9,628.3 657.7,628.3 658.5,628.3 659.3,628.3 660.1,628.3 660.9,628.3 661.7,628.3 662.5,628.3 663.3,628.3 664,628.3 664.8,628.3 665.6,628.3 666.4,628.3 667.2,628.3 668,628.3 668.8,628.3 669.6,628.3 670.4,628.3 671.2,628.3 672,628.3 672.8,628.3 673.5,628.3 674.3,628.3 675.1,628.3 675.9,628.3 676.7,628.3 677.5,628.3 678.3,628.3 679.1,628.3 679.9,628.3 680.7,628.3 681.5,628.3 682.3,628.3 683,628.3 683.8,628.3 684.6,628.3 685.4,628.3 686.2,628.3 687,628.3 687.8,628.3 688.6,628.3 689.4,628.3 690.2,628.3 691,628.3 691.8,628.3 692.5,628.3 693.3,628.3 694.1,628.3 694.9,628.3 695.7,628.3 696.5,628.3"/><polyline fill="none" stroke="#2f7bbd" stroke-opacity="0.5" stroke-width="1.9" stroke-linejoin="round" points="491.5,628.3 492.3,628.3 493.1,628.3 493.9,628.3 494.7,628.3 495.5,628.3 496.2,628.3 497,628.3 497.8,628.3 498.6,628.3 499.4,628.3 500.2,628.3 501,628.3 501.8,628.3 502.6,628.3 503.4,628.3 504.2,628.3 505,628.3 505.7,628.3 506.5,628.3 507.3,628.3 508.1,628.3 508.9,628.3 509.7,628.3 510.5,628.3 511.3,628.3 512.1,628.3 512.9,628.3 513.7,628.3 514.5,628.3 515.2,628.3 516,628.3 516.8,628.3 517.6,628.3 518.4,628.3 519.2,628.3 520,628.3 520.8,628.3 521.6,628.3 522.4,628.3 523.2,628.3 524,628.3 524.7,628.3 525.5,628.3 526.3,628.3 527.1,628.3 527.9,628.3 528.7,628.3 529.5,628.3 530.3,628.3 531.1,628.3 531.9,628.3 532.7,628.3 533.4,628.3 534.2,628.3 535,628.3 535.8,628.3 536.6,628.3 537.4,628.3 538.2,628.3 539,628.3 539.8,628.3 540.6,628.3 541.4,628.3 542.2,628.3 542.9,628.3 543.7,628.3 544.5,628.3 545.3,628.3 546.1,628.3 546.9,628.3 547.7,628.3 548.5,628.3 549.3,628.3 550.1,628.3 550.9,628.3 551.7,628.3 552.4,628.3 553.2,628.3 554,628.3 554.8,628.3 555.6,628.3 556.4,628.3 557.2,628.3 558,628.3 558.8,628.3 559.6,635.8 560.4,639.9 561.2,643.2 561.9,646 562.7,648.7 563.5,649.7 564.3,650.4 565.1,650.9 565.9,651.4 566.7,651.8 567.5,652.2 568.3,652.5 569.1,652.8 569.9,653.1 570.7,653.4 571.4,653.6 572.2,653.8 573,654 573.8,654.2 574.6,654.4 575.4,654.6 576.2,654.8 577,654.9 577.8,655.1 578.6,655.2 579.4,655.3 580.1,655.4 580.9,655.5 581.7,655.6 582.5,655.7 583.3,655.8 584.1,655.9 584.9,656 585.7,656 586.5,656.1 587.3,656.1 588.1,656.2 588.9,656.2 589.6,656.2 590.4,656.3 591.2,656.3 592,656.3 592.8,656.3 593.6,656.3 594.4,656.3 595.2,656.3 596,656.3 596.8,656.3 597.6,656.2 598.4,656.2 599.1,656.2 599.9,656.1 600.7,656.1 601.5,656 602.3,656 603.1,655.9 603.9,655.8 604.7,655.7 605.5,655.6 606.3,655.6 607.1,655.4 607.9,655.3 608.6,655.2 609.4,655.1 610.2,654.9 611,654.8 611.8,654.6 612.6,654.5 613.4,654.3 614.2,654.1 615,653.9 615.8,653.7 616.6,653.4 617.3,653.2 618.1,652.9 618.9,652.6 619.7,652.3 620.5,651.9 621.3,651.5 622.1,651.1 622.9,650.5 623.7,649.9 624.5,649 625.3,646.7 626.1,643.9 626.8,640.8 627.6,636.9 628.4,631.2 629.2,628.3 630,628.3 630.8,628.3 631.6,628.3 632.4,628.3 633.2,628.3 634,628.3 634.8,628.3 635.6,628.3 636.3,628.3 637.1,628.3 637.9,628.3 638.7,628.3 639.5,628.3 640.3,628.3 641.1,628.3 641.9,628.3 642.7,628.3 643.5,628.3 644.3,628.3 645.1,628.3 645.8,628.3 646.6,628.3 647.4,628.3 648.2,628.3 649,628.3 649.8,628.3 650.6,628.3 651.4,628.3 652.2,628.3 653,628.3 653.8,628.3 654.6,628.3 655.3,628.3 656.1,628.3 656.9,628.3 657.7,628.3 658.5,628.3 659.3,628.3 660.1,628.3 660.9,628.3 661.7,628.3 662.5,628.3 663.3,628.3 664,628.3 664.8,628.3 665.6,628.3 666.4,628.3 667.2,628.3 668,628.3 668.8,628.3 669.6,628.3 670.4,628.3 671.2,628.3 672,628.3 672.8,628.3 673.5,628.3 674.3,628.3 675.1,628.3 675.9,628.3 676.7,628.3 677.5,628.3 678.3,628.3 679.1,628.3 679.9,628.3 680.7,628.3 681.5,628.3 682.3,628.3 683,628.3 683.8,628.3 684.6,628.3 685.4,628.3 686.2,628.3 687,628.3 687.8,628.3 688.6,628.3 689.4,628.3 690.2,628.3 691,628.3 691.8,628.3 692.5,628.3 693.3,628.3 694.1,628.3 694.9,628.3 695.7,628.3 696.5,628.3"/></g>
<g clip-path="url(#r2)"><g fill="#00ffff" fill-opacity="0.5"><circle cx="493.1" cy="790.2" r="2.6"/><circle cx="496.2" cy="768.4" r="2.6"/><circle cx="499.3" cy="776.1" r="2.6"/><circle cx="502.4" cy="777.1" r="2.6"/><circle cx="505.5" cy="780" r="2.6"/><circle cx="508.6" cy="787.1" r="2.6"/><circle cx="511.7" cy="780.9" r="2.6"/><circle cx="514.8" cy="774.6" r="2.6"/><circle cx="517.9" cy="777" r="2.6"/><circle cx="521" cy="790.3" r="2.6"/><circle cx="524.1" cy="786.2" r="2.6"/><circle cx="527.2" cy="778.5" r="2.6"/><circle cx="530.3" cy="776.8" r="2.6"/><circle cx="533.4" cy="782.3" r="2.6"/><circle cx="536.5" cy="792.9" r="2.6"/><circle cx="539.6" cy="775.4" r="2.6"/><circle cx="542.8" cy="788.6" r="2.6"/><circle cx="545.9" cy="795.4" r="2.6"/><circle cx="549" cy="802.1" r="2.6"/><circle cx="552.1" cy="787.2" r="2.6"/><circle cx="555.2" cy="790.6" r="2.6"/><circle cx="558.3" cy="809" r="2.6"/><circle cx="561.4" cy="808.2" r="2.6"/><circle cx="564.5" cy="802" r="2.6"/><circle cx="567.6" cy="781.7" r="2.6"/><circle cx="570.7" cy="776.6" r="2.6"/><circle cx="573.8" cy="790.7" r="2.6"/><circle cx="576.9" cy="803.6" r="2.6"/><circle cx="580" cy="790.2" r="2.6"/><circle cx="583.1" cy="780" r="2.6"/><circle cx="586.2" cy="796.2" r="2.6"/><circle cx="589.3" cy="792.8" r="2.6"/><circle cx="592.4" cy="783.7" r="2.6"/><circle cx="595.6" cy="790.2" r="2.6"/><circle cx="598.7" cy="794.4" r="2.6"/><circle cx="601.8" cy="802.1" r="2.6"/><circle cx="604.9" cy="786.8" r="2.6"/><circle cx="608" cy="784.4" r="2.6"/><circle cx="611.1" cy="781.8" r="2.6"/><circle cx="614.2" cy="786.6" r="2.6"/><circle cx="617.3" cy="803.7" r="2.6"/><circle cx="620.4" cy="766.9" r="2.6"/><circle cx="623.5" cy="798.3" r="2.6"/><circle cx="626.6" cy="794.1" r="2.6"/><circle cx="629.7" cy="782.3" r="2.6"/><circle cx="632.8" cy="791.4" r="2.6"/><circle cx="635.9" cy="793" r="2.6"/><circle cx="639" cy="788.9" r="2.6"/><circle cx="642.1" cy="783.6" r="2.6"/><circle cx="645.2" cy="790.5" r="2.6"/><circle cx="648.4" cy="782.4" r="2.6"/><circle cx="651.5" cy="795.9" r="2.6"/><circle cx="654.6" cy="765.3" r="2.6"/><circle cx="657.7" cy="779.8" r="2.6"/><circle cx="660.8" cy="785.2" r="2.6"/><circle cx="663.9" cy="782.3" r="2.6"/><circle cx="667" cy="771.4" r="2.6"/><circle cx="670.1" cy="807.1" r="2.6"/><circle cx="673.2" cy="791.2" r="2.6"/><circle cx="676.3" cy="800" r="2.6"/><circle cx="679.4" cy="791.5" r="2.6"/><circle cx="682.5" cy="772.3" r="2.6"/><circle cx="685.6" cy="776.3" r="2.6"/><circle cx="688.7" cy="787.9" r="2.6"/><circle cx="691.8" cy="778.4" r="2.6"/><circle cx="694.9" cy="782.3" r="2.6"/></g><path d="M491.5 787.7H696.5" stroke="#2f7bbd" stroke-width="2" fill="none"/></g>
<rect x="571.2" y="525.5" width="116.3" height="24.2" rx="2.2" fill="#fff" fill-opacity="0.82" stroke="#cfcfcf" stroke-width="1"/>
<path d="M576.8 536.6h30.6" stroke="#2f7bbd" stroke-width="1.9"/>
<text x="618.8" y="541.2" font-size="14.6" text-anchor="start" textLength="63.8" lengthAdjust="spacingAndGlyphs">TOI-712 d</text>
<text x="595.6" y="727.6" font-size="12" textLength="85" lengthAdjust="spacingAndGlyphs"><tspan font-style="italic">P</tspan><tspan font-style="italic" font-size="8.6" dy="2.2">d</tspan><tspan dy="-2.2"> = 84.84 days</tspan></text>
<path d="M492.1 738.1v-2.3 M492.1 518.3v2.3M504.8 738.1v-2.3 M504.8 518.3v2.3M517.5 738.1v-2.3 M517.5 518.3v2.3M530.2 738.1v-2.3 M530.2 518.3v2.3M542.9 738.1v-2.3 M542.9 518.3v2.3M555.6 738.1v-2.3 M555.6 518.3v2.3M568.3 738.1v-2.3 M568.3 518.3v2.3M581 738.1v-2.3 M581 518.3v2.3M593.7 738.1v-2.3 M593.7 518.3v2.3M606.4 738.1v-2.3 M606.4 518.3v2.3M619.1 738.1v-2.3 M619.1 518.3v2.3M631.8 738.1v-2.3 M631.8 518.3v2.3M644.5 738.1v-2.3 M644.5 518.3v2.3M657.2 738.1v-2.3 M657.2 518.3v2.3M669.9 738.1v-2.3 M669.9 518.3v2.3M682.6 738.1v-2.3 M682.6 518.3v2.3M695.3 738.1v-2.3 M695.3 518.3v2.3M530.2 738.1v-4.3 M530.2 518.3v4.3M593.7 738.1v-4.3 M593.7 518.3v4.3M657.2 738.1v-4.3 M657.2 518.3v4.3M491.5 727.5h2.3 M696.5 727.5h-2.3M491.5 716.5h2.3 M696.5 716.5h-2.3M491.5 705.5h2.3 M696.5 705.5h-2.3M491.5 694.5h2.3 M696.5 694.5h-2.3M491.5 683.4h2.3 M696.5 683.4h-2.3M491.5 672.4h2.3 M696.5 672.4h-2.3M491.5 661.4h2.3 M696.5 661.4h-2.3M491.5 650.4h2.3 M696.5 650.4h-2.3M491.5 639.3h2.3 M696.5 639.3h-2.3M491.5 628.3h2.3 M696.5 628.3h-2.3M491.5 617.3h2.3 M696.5 617.3h-2.3M491.5 606.3h2.3 M696.5 606.3h-2.3M491.5 595.2h2.3 M696.5 595.2h-2.3M491.5 584.2h2.3 M696.5 584.2h-2.3M491.5 573.2h2.3 M696.5 573.2h-2.3M491.5 562.2h2.3 M696.5 562.2h-2.3M491.5 551.1h2.3 M696.5 551.1h-2.3M491.5 540.1h2.3 M696.5 540.1h-2.3M491.5 529.1h2.3 M696.5 529.1h-2.3M491.5 540.1h4.3 M696.5 540.1h-4.3M491.5 584.2h4.3 M696.5 584.2h-4.3M491.5 628.3h4.3 M696.5 628.3h-4.3M491.5 672.4h4.3 M696.5 672.4h-4.3M491.5 716.5h4.3 M696.5 716.5h-4.3" stroke="#1a1a1a" stroke-width="0.9" fill="none"/>
<rect x="491.5" y="518.3" width="205" height="219.8" fill="none" stroke="#1a1a1a" stroke-width="1.25"/>
<path d="M492.1 824.4v-2.3 M492.1 751v2.3M504.8 824.4v-2.3 M504.8 751v2.3M517.5 824.4v-2.3 M517.5 751v2.3M530.2 824.4v-2.3 M530.2 751v2.3M542.9 824.4v-2.3 M542.9 751v2.3M555.6 824.4v-2.3 M555.6 751v2.3M568.3 824.4v-2.3 M568.3 751v2.3M581 824.4v-2.3 M581 751v2.3M593.7 824.4v-2.3 M593.7 751v2.3M606.4 824.4v-2.3 M606.4 751v2.3M619.1 824.4v-2.3 M619.1 751v2.3M631.8 824.4v-2.3 M631.8 751v2.3M644.5 824.4v-2.3 M644.5 751v2.3M657.2 824.4v-2.3 M657.2 751v2.3M669.9 824.4v-2.3 M669.9 751v2.3M682.6 824.4v-2.3 M682.6 751v2.3M695.3 824.4v-2.3 M695.3 751v2.3M530.2 824.4v-4.3 M530.2 751v4.3M593.7 824.4v-4.3 M593.7 751v4.3M657.2 824.4v-4.3 M657.2 751v4.3M491.5 824.4h2.3 M696.5 824.4h-2.3M491.5 817.1h2.3 M696.5 817.1h-2.3M491.5 809.7h2.3 M696.5 809.7h-2.3M491.5 802.4h2.3 M696.5 802.4h-2.3M491.5 795h2.3 M696.5 795h-2.3M491.5 787.7h2.3 M696.5 787.7h-2.3M491.5 780.4h2.3 M696.5 780.4h-2.3M491.5 773h2.3 M696.5 773h-2.3M491.5 765.7h2.3 M696.5 765.7h-2.3M491.5 758.3h2.3 M696.5 758.3h-2.3M491.5 751h2.3 M696.5 751h-2.3M491.5 751h4.3 M696.5 751h-4.3M491.5 787.7h4.3 M696.5 787.7h-4.3M491.5 824.4h4.3 M696.5 824.4h-4.3" stroke="#1a1a1a" stroke-width="0.9" fill="none"/>
<rect x="491.5" y="751" width="205" height="73.4" fill="none" stroke="#1a1a1a" stroke-width="1.25"/>
<text x="530.6" y="839.2" font-size="13" text-anchor="middle" textLength="16.8" lengthAdjust="spacingAndGlyphs">−5</text>
<text x="593.7" y="839.2" font-size="13" text-anchor="middle">0</text>
<text x="657.2" y="839.2" font-size="13" text-anchor="middle">5</text>
<text x="63.3" y="544.5" font-size="13" text-anchor="end" textLength="30.8" lengthAdjust="spacingAndGlyphs">1.004</text><text x="63.3" y="588.6" font-size="13" text-anchor="end" textLength="30.8" lengthAdjust="spacingAndGlyphs">1.002</text><text x="63.3" y="632.7" font-size="13" text-anchor="end" textLength="30.8" lengthAdjust="spacingAndGlyphs">1.000</text><text x="63.3" y="676.8" font-size="13" text-anchor="end" textLength="30.8" lengthAdjust="spacingAndGlyphs">0.998</text><text x="63.3" y="720.9" font-size="13" text-anchor="end" textLength="30.8" lengthAdjust="spacingAndGlyphs">0.996</text><text x="63" y="755.4" font-size="13" text-anchor="end" textLength="30.4" lengthAdjust="spacingAndGlyphs">0.001</text><text x="63" y="792.1" font-size="13" text-anchor="end" textLength="30.4" lengthAdjust="spacingAndGlyphs">0.000</text><text x="63" y="828.8" font-size="13" text-anchor="end" textLength="40.8" lengthAdjust="spacingAndGlyphs">−0.001</text><text transform="translate(25.7 628.2) rotate(-90)" font-size="14.2" text-anchor="middle" textLength="103.4" lengthAdjust="spacingAndGlyphs">Normalized Flux</text><text transform="translate(14.2 787.6) rotate(-90)" font-size="14.2" text-anchor="middle" textLength="57.4" lengthAdjust="spacingAndGlyphs">Residuals</text><text x="382.6" y="856.8" font-size="15.3" text-anchor="middle" textLength="187" lengthAdjust="spacingAndGlyphs">Time since mid-transit [hours]</text></svg></body></html>
